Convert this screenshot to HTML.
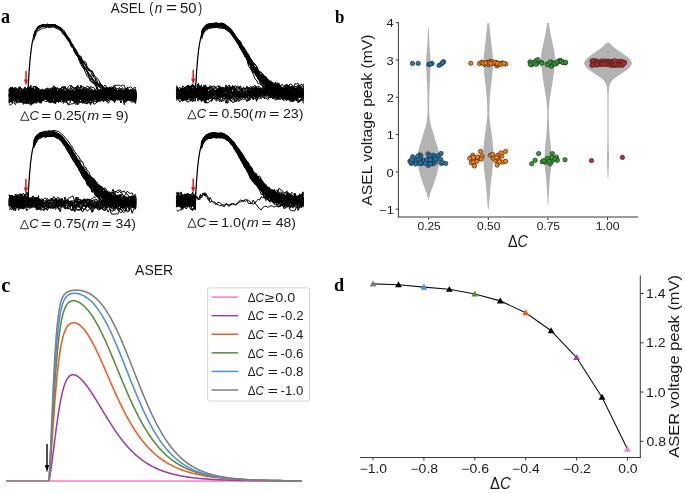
<!DOCTYPE html>
<html><head><meta charset="utf-8"><style>
html,body{margin:0;padding:0;background:#fff;}
svg{display:block;will-change:transform;}
</style></head><body>
<svg width="685" height="493" viewBox="0 0 685 493">
<rect width="685" height="493" fill="#fff"/>
<text transform="translate(0.92,22.50) scale(0.885,1)" font-family="Liberation Serif, serif" font-weight="bold" font-size="20.46" fill="#000">a</text>
<text transform="translate(335.09,22.82) scale(0.908,1)" font-family="Liberation Serif, serif" font-weight="bold" font-size="18.62" fill="#000">b</text>
<text transform="translate(1.21,291.51) scale(0.994,1)" font-family="Liberation Serif, serif" font-weight="bold" font-size="20.40" fill="#000">c</text>
<text transform="translate(333.96,291.41) scale(0.951,1)" font-family="Liberation Serif, serif" font-weight="bold" font-size="19.19" fill="#000">d</text>
<g stroke="#3a3a3a" stroke-width="1" fill="none">
<line x1="360" y1="457.5" x2="640.8" y2="457.5"/>
<line x1="640.3" y1="275.5" x2="640.3" y2="458"/>
<line x1="373.00" y1="458" x2="373.00" y2="460.5"/>
<line x1="423.90" y1="458" x2="423.90" y2="460.5"/>
<line x1="474.80" y1="458" x2="474.80" y2="460.5"/>
<line x1="525.70" y1="458" x2="525.70" y2="460.5"/>
<line x1="576.60" y1="458" x2="576.60" y2="460.5"/>
<line x1="627.50" y1="458" x2="627.50" y2="460.5"/>
<line x1="640.3" y1="441.30" x2="643.5" y2="441.30"/>
<line x1="640.3" y1="392.03" x2="643.5" y2="392.03"/>
<line x1="640.3" y1="342.77" x2="643.5" y2="342.77"/>
<line x1="640.3" y1="293.50" x2="643.5" y2="293.50"/>
</g>
<text transform="translate(359.47,473.00) scale(1.1700,1)" font-family="Liberation Sans, sans-serif" font-size="12.00" fill="#1a1a1a"><tspan>−1.0</tspan></text>
<text transform="translate(410.40,473.00) scale(1.1700,1)" font-family="Liberation Sans, sans-serif" font-size="12.00" fill="#1a1a1a"><tspan>−0.8</tspan></text>
<text transform="translate(461.30,473.00) scale(1.1700,1)" font-family="Liberation Sans, sans-serif" font-size="12.00" fill="#1a1a1a"><tspan>−0.6</tspan></text>
<text transform="translate(512.10,473.00) scale(1.1700,1)" font-family="Liberation Sans, sans-serif" font-size="12.00" fill="#1a1a1a"><tspan>−0.4</tspan></text>
<text transform="translate(563.15,473.00) scale(1.1700,1)" font-family="Liberation Sans, sans-serif" font-size="12.00" fill="#1a1a1a"><tspan>−0.2</tspan></text>
<text transform="translate(618.14,473.00) scale(1.1700,1)" font-family="Liberation Sans, sans-serif" font-size="12.00" fill="#1a1a1a"><tspan>0.0</tspan></text>
<text transform="translate(646.55,445.90) scale(1.1700,1)" font-family="Liberation Sans, sans-serif" font-size="12.00" fill="#1a1a1a"><tspan>0.8</tspan></text>
<text transform="translate(646.03,396.63) scale(1.1700,1)" font-family="Liberation Sans, sans-serif" font-size="12.00" fill="#1a1a1a"><tspan>1.0</tspan></text>
<text transform="translate(646.03,347.37) scale(1.1700,1)" font-family="Liberation Sans, sans-serif" font-size="12.00" fill="#1a1a1a"><tspan>1.2</tspan></text>
<text transform="translate(646.03,298.10) scale(1.1700,1)" font-family="Liberation Sans, sans-serif" font-size="12.00" fill="#1a1a1a"><tspan>1.4</tspan></text>
<text transform="translate(489.96,489.30) scale(0.9312,1)" font-family="Liberation Sans, sans-serif" font-size="16.04" fill="#1a1a1a"><tspan>Δ</tspan><tspan font-style="italic">C</tspan></text>
<text transform="translate(679.00,457.73) rotate(-90) scale(1.0773,1)" font-family="Liberation Sans, sans-serif" font-size="15.26" fill="#1a1a1a"><tspan>ASER voltage peak (mV)</tspan></text>
<polyline fill="none" stroke="#111" stroke-width="1.1" points="373.00,283.90 398.45,284.71 423.90,287.10 449.35,289.31 474.80,293.99 500.25,300.89 525.70,312.72 551.15,330.70 576.60,357.55 602.05,397.21 627.50,449.18"/>
<polygon fill="#7f7f7f" points="373.00,280.50 369.60,286.45 376.40,286.45"/>
<polygon fill="#000" points="398.45,281.31 395.05,287.26 401.85,287.26"/>
<polygon fill="#4a90e2" points="423.90,283.70 420.50,289.65 427.30,289.65"/>
<polygon fill="#000" points="449.35,285.91 445.95,291.86 452.75,291.86"/>
<polygon fill="#5a8a3a" points="474.80,290.59 471.40,296.54 478.20,296.54"/>
<polygon fill="#000" points="500.25,297.49 496.85,303.44 503.65,303.44"/>
<polygon fill="#f15a22" points="525.70,309.32 522.30,315.27 529.10,315.27"/>
<polygon fill="#000" points="551.15,327.30 547.75,333.25 554.55,333.25"/>
<polygon fill="#9b3fa6" points="576.60,354.15 573.20,360.10 580.00,360.10"/>
<polygon fill="#000" points="602.05,393.81 598.65,399.76 605.45,399.76"/>
<polygon fill="#f27fc4" points="627.50,445.78 624.10,451.73 630.90,451.73"/>
<g stroke="#3a3a3a" stroke-width="1" fill="none">
<line x1="398.4" y1="22.3" x2="398.4" y2="217.2"/>
<line x1="397.9" y1="217.0" x2="638.2" y2="217.0"/>
<line x1="428.70" y1="217.5" x2="428.70" y2="220"/>
<line x1="488.30" y1="217.5" x2="488.30" y2="220"/>
<line x1="547.90" y1="217.5" x2="547.90" y2="220"/>
<line x1="607.50" y1="217.5" x2="607.50" y2="220"/>
<line x1="395.8" y1="209.20" x2="398.4" y2="209.20"/>
<line x1="395.8" y1="171.90" x2="398.4" y2="171.90"/>
<line x1="395.8" y1="134.60" x2="398.4" y2="134.60"/>
<line x1="395.8" y1="97.30" x2="398.4" y2="97.30"/>
<line x1="395.8" y1="60.00" x2="398.4" y2="60.00"/>
<line x1="395.8" y1="22.70" x2="398.4" y2="22.70"/>
</g>
<text transform="translate(417.43,230.40) scale(1.0534,1)" font-family="Liberation Sans, sans-serif" font-size="11.40" fill="#1a1a1a"><tspan>0.25</tspan></text>
<text transform="translate(477.03,230.40) scale(1.0518,1)" font-family="Liberation Sans, sans-serif" font-size="11.40" fill="#1a1a1a"><tspan>0.50</tspan></text>
<text transform="translate(536.63,230.40) scale(1.0534,1)" font-family="Liberation Sans, sans-serif" font-size="11.40" fill="#1a1a1a"><tspan>0.75</tspan></text>
<text transform="translate(595.77,230.40) scale(1.0731,1)" font-family="Liberation Sans, sans-serif" font-size="11.40" fill="#1a1a1a"><tspan>1.00</tspan></text>
<text transform="translate(379.15,213.80) scale(1.1700,1)" font-family="Liberation Sans, sans-serif" font-size="11.00" fill="#1a1a1a"><tspan>−1</tspan></text>
<text transform="translate(386.55,176.50) scale(1.1700,1)" font-family="Liberation Sans, sans-serif" font-size="11.00" fill="#1a1a1a"><tspan>0</tspan></text>
<text transform="translate(386.67,139.20) scale(1.1700,1)" font-family="Liberation Sans, sans-serif" font-size="11.00" fill="#1a1a1a"><tspan>1</tspan></text>
<text transform="translate(386.69,101.90) scale(1.1700,1)" font-family="Liberation Sans, sans-serif" font-size="11.00" fill="#1a1a1a"><tspan>2</tspan></text>
<text transform="translate(386.61,64.60) scale(1.1700,1)" font-family="Liberation Sans, sans-serif" font-size="11.00" fill="#1a1a1a"><tspan>3</tspan></text>
<text transform="translate(386.42,27.30) scale(1.1700,1)" font-family="Liberation Sans, sans-serif" font-size="11.00" fill="#1a1a1a"><tspan>4</tspan></text>
<text transform="translate(507.97,246.50) scale(0.9156,1)" font-family="Liberation Sans, sans-serif" font-size="15.75" fill="#1a1a1a"><tspan>Δ</tspan><tspan font-style="italic">C</tspan></text>
<text transform="translate(372.30,205.63) rotate(-90) scale(1.0583,1)" font-family="Liberation Sans, sans-serif" font-size="14.83" fill="#1a1a1a"><tspan>ASEL voltage peak (mV)</tspan></text>
<path d="M428.10,27.70 L428.05,28.57 L428.00,29.43 L427.95,30.30 L427.90,31.16 L427.85,32.03 L427.81,32.89 L427.76,33.76 L427.72,34.62 L427.68,35.49 L427.64,36.35 L427.60,37.22 L427.56,38.08 L427.53,38.95 L427.49,39.81 L427.46,40.68 L427.43,41.55 L427.39,42.41 L427.35,43.28 L427.31,44.14 L427.27,45.01 L427.22,45.87 L427.17,46.74 L427.11,47.60 L427.05,48.47 L426.98,49.33 L426.90,50.20 L426.83,51.06 L426.75,51.93 L426.67,52.79 L426.60,53.66 L426.53,54.53 L426.47,55.39 L426.40,56.26 L426.33,57.12 L426.26,57.99 L426.19,58.85 L426.13,59.72 L426.07,60.58 L426.03,61.45 L426.01,62.31 L426.00,63.18 L426.02,64.04 L426.05,64.91 L426.10,65.77 L426.16,66.64 L426.22,67.51 L426.29,68.37 L426.35,69.24 L426.40,70.10 L426.44,70.97 L426.47,71.83 L426.51,72.70 L426.55,73.56 L426.58,74.43 L426.62,75.29 L426.65,76.16 L426.68,77.02 L426.72,77.89 L426.75,78.75 L426.79,79.62 L426.82,80.48 L426.86,81.35 L426.90,82.22 L426.94,83.08 L426.98,83.95 L427.03,84.81 L427.08,85.68 L427.14,86.54 L427.19,87.41 L427.24,88.27 L427.29,89.14 L427.34,90.00 L427.39,90.87 L427.42,91.73 L427.46,92.60 L427.48,93.46 L427.50,94.33 L427.51,95.20 L427.52,96.06 L427.53,96.93 L427.54,97.79 L427.54,98.66 L427.55,99.52 L427.56,100.39 L427.57,101.25 L427.57,102.12 L427.58,102.98 L427.58,103.85 L427.59,104.71 L427.59,105.58 L427.59,106.44 L427.60,107.31 L427.60,108.18 L427.60,109.04 L427.60,109.91 L427.59,110.77 L427.58,111.64 L427.55,112.50 L427.50,113.37 L427.45,114.23 L427.39,115.10 L427.32,115.96 L427.25,116.83 L427.17,117.69 L427.08,118.56 L426.99,119.42 L426.90,120.29 L426.79,121.16 L426.65,122.02 L426.48,122.89 L426.29,123.75 L426.09,124.62 L425.88,125.48 L425.65,126.35 L425.40,127.21 L425.13,128.08 L424.85,128.94 L424.57,129.81 L424.30,130.67 L424.03,131.54 L423.75,132.40 L423.48,133.27 L423.21,134.14 L422.95,135.00 L422.70,135.87 L422.47,136.73 L422.24,137.60 L422.02,138.46 L421.79,139.33 L421.54,140.19 L421.27,141.06 L420.97,141.92 L420.67,142.79 L420.36,143.65 L420.06,144.52 L419.77,145.38 L419.50,146.25 L419.26,147.12 L419.02,147.98 L418.79,148.85 L418.57,149.71 L418.37,150.58 L418.20,151.44 L418.05,152.31 L417.91,153.17 L417.77,154.04 L417.65,154.90 L417.55,155.77 L417.51,156.63 L417.50,157.50 L417.51,158.36 L417.52,159.23 L417.53,160.09 L417.55,160.96 L417.57,161.83 L417.59,162.69 L417.63,163.56 L417.72,164.42 L417.85,165.29 L418.02,166.15 L418.21,167.02 L418.42,167.88 L418.63,168.75 L418.84,169.61 L419.04,170.48 L419.24,171.34 L419.45,172.21 L419.67,173.07 L419.89,173.94 L420.12,174.81 L420.36,175.67 L420.61,176.54 L420.86,177.40 L421.12,178.27 L421.39,179.13 L421.66,180.00 L421.94,180.86 L422.24,181.73 L422.55,182.59 L422.86,183.46 L423.18,184.32 L423.50,185.19 L423.82,186.05 L424.15,186.92 L424.49,187.79 L424.84,188.65 L425.18,189.52 L425.52,190.38 L425.84,191.25 L426.14,192.11 L426.42,192.98 L426.68,193.84 L426.93,194.71 L427.17,195.57 L427.40,196.44 L427.62,197.30 L427.83,198.17 L428.02,199.03 L428.20,199.90 L428.60,199.90 L428.78,199.03 L428.97,198.17 L429.18,197.30 L429.40,196.44 L429.63,195.57 L429.87,194.71 L430.12,193.84 L430.38,192.98 L430.66,192.11 L430.96,191.25 L431.28,190.38 L431.62,189.52 L431.96,188.65 L432.31,187.79 L432.65,186.92 L432.98,186.05 L433.30,185.19 L433.62,184.32 L433.94,183.46 L434.25,182.59 L434.56,181.73 L434.86,180.86 L435.14,180.00 L435.41,179.13 L435.68,178.27 L435.94,177.40 L436.19,176.54 L436.44,175.67 L436.68,174.81 L436.91,173.94 L437.13,173.07 L437.35,172.21 L437.56,171.34 L437.76,170.48 L437.96,169.61 L438.17,168.75 L438.38,167.88 L438.59,167.02 L438.78,166.15 L438.95,165.29 L439.08,164.42 L439.17,163.56 L439.21,162.69 L439.23,161.83 L439.25,160.96 L439.27,160.09 L439.28,159.23 L439.29,158.36 L439.30,157.50 L439.29,156.63 L439.25,155.77 L439.15,154.90 L439.03,154.04 L438.89,153.17 L438.75,152.31 L438.60,151.44 L438.43,150.58 L438.23,149.71 L438.01,148.85 L437.78,147.98 L437.54,147.12 L437.30,146.25 L437.03,145.38 L436.74,144.52 L436.44,143.65 L436.13,142.79 L435.83,141.92 L435.53,141.06 L435.26,140.19 L435.01,139.33 L434.78,138.46 L434.56,137.60 L434.33,136.73 L434.10,135.87 L433.85,135.00 L433.59,134.14 L433.32,133.27 L433.05,132.40 L432.77,131.54 L432.50,130.67 L432.23,129.81 L431.95,128.94 L431.67,128.08 L431.40,127.21 L431.15,126.35 L430.92,125.48 L430.71,124.62 L430.51,123.75 L430.32,122.89 L430.15,122.02 L430.01,121.16 L429.90,120.29 L429.81,119.42 L429.72,118.56 L429.63,117.69 L429.55,116.83 L429.48,115.96 L429.41,115.10 L429.35,114.23 L429.30,113.37 L429.25,112.50 L429.22,111.64 L429.21,110.77 L429.20,109.91 L429.20,109.04 L429.20,108.18 L429.20,107.31 L429.21,106.44 L429.21,105.58 L429.21,104.71 L429.22,103.85 L429.22,102.98 L429.23,102.12 L429.23,101.25 L429.24,100.39 L429.25,99.52 L429.26,98.66 L429.26,97.79 L429.27,96.93 L429.28,96.06 L429.29,95.20 L429.30,94.33 L429.32,93.46 L429.34,92.60 L429.38,91.73 L429.41,90.87 L429.46,90.00 L429.51,89.14 L429.56,88.27 L429.61,87.41 L429.66,86.54 L429.72,85.68 L429.77,84.81 L429.82,83.95 L429.86,83.08 L429.90,82.22 L429.94,81.35 L429.98,80.48 L430.01,79.62 L430.05,78.75 L430.08,77.89 L430.12,77.02 L430.15,76.16 L430.18,75.29 L430.22,74.43 L430.25,73.56 L430.29,72.70 L430.33,71.83 L430.36,70.97 L430.40,70.10 L430.45,69.24 L430.51,68.37 L430.58,67.51 L430.64,66.64 L430.70,65.77 L430.75,64.91 L430.78,64.04 L430.80,63.18 L430.79,62.31 L430.77,61.45 L430.73,60.58 L430.67,59.72 L430.61,58.85 L430.54,57.99 L430.47,57.12 L430.40,56.26 L430.33,55.39 L430.27,54.53 L430.20,53.66 L430.13,52.79 L430.05,51.93 L429.97,51.06 L429.90,50.20 L429.82,49.33 L429.75,48.47 L429.69,47.60 L429.63,46.74 L429.58,45.87 L429.53,45.01 L429.49,44.14 L429.45,43.28 L429.41,42.41 L429.37,41.55 L429.34,40.68 L429.31,39.81 L429.27,38.95 L429.24,38.08 L429.20,37.22 L429.16,36.35 L429.12,35.49 L429.08,34.62 L429.04,33.76 L428.99,32.89 L428.95,32.03 L428.90,31.16 L428.85,30.30 L428.80,29.43 L428.75,28.57 L428.70,27.70 Z" fill="#b3b3b3" stroke="none"/>
<path d="M487.40,23.00 L487.31,23.94 L487.23,24.87 L487.14,25.81 L487.05,26.74 L486.96,27.68 L486.87,28.62 L486.78,29.55 L486.68,30.49 L486.59,31.43 L486.49,32.36 L486.39,33.30 L486.30,34.23 L486.20,35.17 L486.09,36.11 L485.99,37.04 L485.88,37.98 L485.77,38.92 L485.66,39.85 L485.55,40.79 L485.44,41.72 L485.33,42.66 L485.22,43.60 L485.11,44.53 L485.00,45.47 L484.90,46.40 L484.79,47.34 L484.69,48.28 L484.58,49.21 L484.47,50.15 L484.36,51.09 L484.25,52.02 L484.15,52.96 L484.05,53.89 L483.96,54.83 L483.88,55.77 L483.81,56.70 L483.75,57.64 L483.69,58.57 L483.63,59.51 L483.57,60.45 L483.53,61.38 L483.51,62.32 L483.50,63.26 L483.52,64.19 L483.55,65.13 L483.60,66.06 L483.67,67.00 L483.74,67.94 L483.81,68.87 L483.89,69.81 L483.96,70.75 L484.04,71.68 L484.12,72.62 L484.20,73.55 L484.29,74.49 L484.38,75.43 L484.48,76.36 L484.58,77.30 L484.68,78.23 L484.79,79.17 L484.89,80.11 L485.01,81.04 L485.13,81.98 L485.25,82.92 L485.37,83.85 L485.49,84.79 L485.61,85.72 L485.72,86.66 L485.82,87.60 L485.92,88.53 L486.01,89.47 L486.10,90.41 L486.19,91.34 L486.28,92.28 L486.36,93.21 L486.43,94.15 L486.51,95.09 L486.58,96.02 L486.64,96.96 L486.71,97.89 L486.77,98.83 L486.83,99.77 L486.88,100.70 L486.93,101.64 L486.98,102.58 L487.02,103.51 L487.06,104.45 L487.09,105.38 L487.13,106.32 L487.17,107.26 L487.20,108.19 L487.23,109.13 L487.26,110.06 L487.28,111.00 L487.29,111.94 L487.30,112.87 L487.30,113.81 L487.27,114.75 L487.23,115.68 L487.17,116.62 L487.10,117.55 L487.02,118.49 L486.93,119.43 L486.83,120.36 L486.73,121.30 L486.62,122.24 L486.52,123.17 L486.42,124.11 L486.30,125.04 L486.17,125.98 L486.03,126.92 L485.88,127.85 L485.73,128.79 L485.57,129.72 L485.42,130.66 L485.27,131.60 L485.13,132.53 L485.00,133.47 L484.88,134.41 L484.76,135.34 L484.64,136.28 L484.52,137.21 L484.41,138.15 L484.30,139.09 L484.19,140.02 L484.09,140.96 L484.00,141.89 L483.91,142.83 L483.83,143.77 L483.75,144.70 L483.67,145.64 L483.58,146.58 L483.50,147.51 L483.42,148.45 L483.35,149.38 L483.28,150.32 L483.22,151.26 L483.17,152.19 L483.14,153.13 L483.11,154.07 L483.10,155.00 L483.10,155.94 L483.12,156.87 L483.15,157.81 L483.19,158.75 L483.25,159.68 L483.31,160.62 L483.38,161.55 L483.45,162.49 L483.53,163.43 L483.62,164.36 L483.71,165.30 L483.80,166.24 L483.89,167.17 L483.98,168.11 L484.07,169.04 L484.16,169.98 L484.25,170.92 L484.34,171.85 L484.44,172.79 L484.55,173.73 L484.66,174.66 L484.77,175.60 L484.89,176.53 L485.02,177.47 L485.14,178.41 L485.26,179.34 L485.38,180.28 L485.50,181.21 L485.61,182.15 L485.72,183.09 L485.83,184.02 L485.93,184.96 L486.02,185.90 L486.10,186.83 L486.19,187.77 L486.26,188.70 L486.34,189.64 L486.41,190.58 L486.48,191.51 L486.55,192.45 L486.62,193.38 L486.69,194.32 L486.76,195.26 L486.83,196.19 L486.90,197.13 L486.97,198.07 L487.04,199.00 L487.12,199.94 L487.20,200.87 L487.28,201.81 L487.36,202.75 L487.45,203.68 L487.54,204.62 L487.63,205.56 L487.72,206.49 L487.81,207.43 L487.91,208.36 L488.00,209.30 L488.60,209.30 L488.69,208.36 L488.79,207.43 L488.88,206.49 L488.97,205.56 L489.06,204.62 L489.15,203.68 L489.24,202.75 L489.32,201.81 L489.40,200.87 L489.48,199.94 L489.56,199.00 L489.63,198.07 L489.70,197.13 L489.77,196.19 L489.84,195.26 L489.91,194.32 L489.98,193.38 L490.05,192.45 L490.12,191.51 L490.19,190.58 L490.26,189.64 L490.34,188.70 L490.41,187.77 L490.50,186.83 L490.58,185.90 L490.67,184.96 L490.77,184.02 L490.88,183.09 L490.99,182.15 L491.10,181.21 L491.22,180.28 L491.34,179.34 L491.46,178.41 L491.58,177.47 L491.71,176.53 L491.83,175.60 L491.94,174.66 L492.05,173.73 L492.16,172.79 L492.26,171.85 L492.35,170.92 L492.44,169.98 L492.53,169.04 L492.62,168.11 L492.71,167.17 L492.80,166.24 L492.89,165.30 L492.98,164.36 L493.07,163.43 L493.15,162.49 L493.22,161.55 L493.29,160.62 L493.35,159.68 L493.41,158.75 L493.45,157.81 L493.48,156.87 L493.50,155.94 L493.50,155.00 L493.49,154.07 L493.46,153.13 L493.43,152.19 L493.38,151.26 L493.32,150.32 L493.25,149.38 L493.18,148.45 L493.10,147.51 L493.02,146.58 L492.93,145.64 L492.85,144.70 L492.77,143.77 L492.69,142.83 L492.60,141.89 L492.51,140.96 L492.41,140.02 L492.30,139.09 L492.19,138.15 L492.08,137.21 L491.96,136.28 L491.84,135.34 L491.72,134.41 L491.60,133.47 L491.47,132.53 L491.33,131.60 L491.18,130.66 L491.03,129.72 L490.87,128.79 L490.72,127.85 L490.57,126.92 L490.43,125.98 L490.30,125.04 L490.18,124.11 L490.08,123.17 L489.98,122.24 L489.87,121.30 L489.77,120.36 L489.67,119.43 L489.58,118.49 L489.50,117.55 L489.43,116.62 L489.37,115.68 L489.33,114.75 L489.30,113.81 L489.30,112.87 L489.31,111.94 L489.32,111.00 L489.34,110.06 L489.37,109.13 L489.40,108.19 L489.43,107.26 L489.47,106.32 L489.51,105.38 L489.54,104.45 L489.58,103.51 L489.62,102.58 L489.67,101.64 L489.72,100.70 L489.77,99.77 L489.83,98.83 L489.89,97.89 L489.96,96.96 L490.02,96.02 L490.09,95.09 L490.17,94.15 L490.24,93.21 L490.32,92.28 L490.41,91.34 L490.50,90.41 L490.59,89.47 L490.68,88.53 L490.78,87.60 L490.88,86.66 L490.99,85.72 L491.11,84.79 L491.23,83.85 L491.35,82.92 L491.47,81.98 L491.59,81.04 L491.71,80.11 L491.81,79.17 L491.92,78.23 L492.02,77.30 L492.12,76.36 L492.22,75.43 L492.31,74.49 L492.40,73.55 L492.48,72.62 L492.56,71.68 L492.64,70.75 L492.71,69.81 L492.79,68.87 L492.86,67.94 L492.93,67.00 L493.00,66.06 L493.05,65.13 L493.08,64.19 L493.10,63.26 L493.09,62.32 L493.07,61.38 L493.03,60.45 L492.97,59.51 L492.91,58.57 L492.85,57.64 L492.79,56.70 L492.72,55.77 L492.64,54.83 L492.55,53.89 L492.45,52.96 L492.35,52.02 L492.24,51.09 L492.13,50.15 L492.02,49.21 L491.91,48.28 L491.81,47.34 L491.70,46.40 L491.60,45.47 L491.49,44.53 L491.38,43.60 L491.27,42.66 L491.16,41.72 L491.05,40.79 L490.94,39.85 L490.83,38.92 L490.72,37.98 L490.61,37.04 L490.51,36.11 L490.40,35.17 L490.30,34.23 L490.21,33.30 L490.11,32.36 L490.01,31.43 L489.92,30.49 L489.82,29.55 L489.73,28.62 L489.64,27.68 L489.55,26.74 L489.46,25.81 L489.37,24.87 L489.29,23.94 L489.20,23.00 Z" fill="#b3b3b3" stroke="none"/>
<path d="M547.10,23.10 L546.97,24.02 L546.84,24.93 L546.71,25.85 L546.57,26.76 L546.43,27.68 L546.28,28.59 L546.14,29.51 L545.98,30.42 L545.83,31.34 L545.67,32.26 L545.51,33.17 L545.34,34.09 L545.16,35.00 L544.98,35.92 L544.79,36.83 L544.60,37.75 L544.40,38.66 L544.20,39.58 L544.01,40.50 L543.81,41.41 L543.62,42.33 L543.43,43.24 L543.24,44.16 L543.05,45.07 L542.85,45.99 L542.64,46.91 L542.44,47.82 L542.24,48.74 L542.05,49.65 L541.87,50.57 L541.71,51.48 L541.56,52.40 L541.42,53.31 L541.31,54.23 L541.20,55.15 L541.10,56.06 L541.01,56.98 L540.94,57.89 L540.89,58.81 L540.85,59.72 L540.82,60.64 L540.80,61.55 L540.81,62.47 L540.89,63.39 L541.02,64.30 L541.17,65.22 L541.34,66.13 L541.48,67.05 L541.60,67.96 L541.71,68.88 L541.82,69.79 L541.93,70.71 L542.04,71.63 L542.15,72.54 L542.26,73.46 L542.37,74.37 L542.48,75.29 L542.59,76.20 L542.71,77.12 L542.83,78.03 L542.95,78.95 L543.08,79.87 L543.22,80.78 L543.36,81.70 L543.51,82.61 L543.66,83.53 L543.82,84.44 L543.98,85.36 L544.14,86.27 L544.29,87.19 L544.45,88.11 L544.60,89.02 L544.75,89.94 L544.90,90.85 L545.04,91.77 L545.18,92.68 L545.33,93.60 L545.47,94.52 L545.62,95.43 L545.76,96.35 L545.91,97.26 L546.04,98.18 L546.18,99.09 L546.30,100.01 L546.42,100.92 L546.53,101.84 L546.62,102.76 L546.71,103.67 L546.78,104.59 L546.86,105.50 L546.94,106.42 L547.02,107.33 L547.09,108.25 L547.15,109.16 L547.21,110.08 L547.25,111.00 L547.28,111.91 L547.30,112.83 L547.30,113.74 L547.29,114.66 L547.28,115.57 L547.27,116.49 L547.25,117.40 L547.23,118.32 L547.20,119.24 L547.17,120.15 L547.14,121.07 L547.10,121.98 L547.06,122.90 L547.02,123.81 L546.98,124.73 L546.94,125.64 L546.89,126.56 L546.84,127.48 L546.80,128.39 L546.75,129.31 L546.70,130.22 L546.65,131.14 L546.59,132.05 L546.52,132.97 L546.44,133.88 L546.36,134.80 L546.27,135.72 L546.18,136.63 L546.08,137.55 L545.98,138.46 L545.88,139.38 L545.78,140.29 L545.68,141.21 L545.59,142.13 L545.50,143.04 L545.41,143.96 L545.33,144.87 L545.25,145.79 L545.19,146.70 L545.12,147.62 L545.06,148.53 L545.00,149.45 L544.94,150.37 L544.88,151.28 L544.83,152.20 L544.78,153.11 L544.74,154.03 L544.70,154.94 L544.67,155.86 L544.64,156.77 L544.60,157.69 L544.57,158.61 L544.55,159.52 L544.52,160.44 L544.51,161.35 L544.50,162.27 L544.50,163.18 L544.54,164.10 L544.59,165.01 L544.67,165.93 L544.76,166.85 L544.86,167.76 L544.96,168.68 L545.06,169.59 L545.15,170.51 L545.27,171.42 L545.39,172.34 L545.52,173.25 L545.65,174.17 L545.78,175.09 L545.89,176.00 L545.99,176.92 L546.08,177.83 L546.16,178.75 L546.24,179.66 L546.31,180.58 L546.38,181.49 L546.45,182.41 L546.52,183.33 L546.58,184.24 L546.64,185.16 L546.70,186.07 L546.76,186.99 L546.82,187.90 L546.87,188.82 L546.93,189.74 L546.98,190.65 L547.03,191.57 L547.09,192.48 L547.14,193.40 L547.19,194.31 L547.24,195.23 L547.28,196.14 L547.33,197.06 L547.38,197.98 L547.42,198.89 L547.47,199.81 L547.51,200.72 L547.55,201.64 L547.59,202.55 L547.63,203.47 L547.66,204.38 L547.70,205.30 L548.30,205.30 L548.34,204.38 L548.37,203.47 L548.41,202.55 L548.45,201.64 L548.49,200.72 L548.53,199.81 L548.58,198.89 L548.62,197.98 L548.67,197.06 L548.72,196.14 L548.76,195.23 L548.81,194.31 L548.86,193.40 L548.91,192.48 L548.97,191.57 L549.02,190.65 L549.07,189.74 L549.13,188.82 L549.18,187.90 L549.24,186.99 L549.30,186.07 L549.36,185.16 L549.42,184.24 L549.48,183.33 L549.55,182.41 L549.62,181.49 L549.69,180.58 L549.76,179.66 L549.84,178.75 L549.92,177.83 L550.01,176.92 L550.11,176.00 L550.22,175.09 L550.35,174.17 L550.48,173.25 L550.61,172.34 L550.73,171.42 L550.85,170.51 L550.94,169.59 L551.04,168.68 L551.14,167.76 L551.24,166.85 L551.33,165.93 L551.41,165.01 L551.46,164.10 L551.50,163.18 L551.50,162.27 L551.49,161.35 L551.48,160.44 L551.45,159.52 L551.43,158.61 L551.40,157.69 L551.36,156.77 L551.33,155.86 L551.30,154.94 L551.26,154.03 L551.22,153.11 L551.17,152.20 L551.12,151.28 L551.06,150.37 L551.00,149.45 L550.94,148.53 L550.88,147.62 L550.81,146.70 L550.75,145.79 L550.67,144.87 L550.59,143.96 L550.50,143.04 L550.41,142.13 L550.32,141.21 L550.22,140.29 L550.12,139.38 L550.02,138.46 L549.92,137.55 L549.82,136.63 L549.73,135.72 L549.64,134.80 L549.56,133.88 L549.48,132.97 L549.41,132.05 L549.35,131.14 L549.30,130.22 L549.25,129.31 L549.20,128.39 L549.16,127.48 L549.11,126.56 L549.06,125.64 L549.02,124.73 L548.98,123.81 L548.94,122.90 L548.90,121.98 L548.86,121.07 L548.83,120.15 L548.80,119.24 L548.77,118.32 L548.75,117.40 L548.73,116.49 L548.72,115.57 L548.71,114.66 L548.70,113.74 L548.70,112.83 L548.72,111.91 L548.75,111.00 L548.79,110.08 L548.85,109.16 L548.91,108.25 L548.98,107.33 L549.06,106.42 L549.14,105.50 L549.22,104.59 L549.29,103.67 L549.38,102.76 L549.47,101.84 L549.58,100.92 L549.70,100.01 L549.82,99.09 L549.96,98.18 L550.09,97.26 L550.24,96.35 L550.38,95.43 L550.53,94.52 L550.67,93.60 L550.82,92.68 L550.96,91.77 L551.10,90.85 L551.25,89.94 L551.40,89.02 L551.55,88.11 L551.71,87.19 L551.86,86.27 L552.02,85.36 L552.18,84.44 L552.34,83.53 L552.49,82.61 L552.64,81.70 L552.78,80.78 L552.92,79.87 L553.05,78.95 L553.17,78.03 L553.29,77.12 L553.41,76.20 L553.52,75.29 L553.63,74.37 L553.74,73.46 L553.85,72.54 L553.96,71.63 L554.07,70.71 L554.18,69.79 L554.29,68.88 L554.40,67.96 L554.52,67.05 L554.66,66.13 L554.83,65.22 L554.98,64.30 L555.11,63.39 L555.19,62.47 L555.20,61.55 L555.18,60.64 L555.15,59.72 L555.11,58.81 L555.06,57.89 L554.99,56.98 L554.90,56.06 L554.80,55.15 L554.69,54.23 L554.58,53.31 L554.44,52.40 L554.29,51.48 L554.13,50.57 L553.95,49.65 L553.76,48.74 L553.56,47.82 L553.36,46.91 L553.15,45.99 L552.95,45.07 L552.76,44.16 L552.57,43.24 L552.38,42.33 L552.19,41.41 L551.99,40.50 L551.80,39.58 L551.60,38.66 L551.40,37.75 L551.21,36.83 L551.02,35.92 L550.84,35.00 L550.66,34.09 L550.49,33.17 L550.33,32.26 L550.17,31.34 L550.02,30.42 L549.86,29.51 L549.72,28.59 L549.57,27.68 L549.43,26.76 L549.29,25.85 L549.16,24.93 L549.03,24.02 L548.90,23.10 Z" fill="#b3b3b3" stroke="none"/>
<path d="M606.20,42.90 L605.73,43.58 L605.20,44.27 L604.62,44.95 L603.98,45.63 L603.26,46.31 L602.47,47.00 L601.64,47.68 L600.76,48.36 L599.85,49.05 L598.93,49.73 L598.01,50.41 L597.03,51.09 L596.00,51.78 L594.93,52.46 L593.86,53.14 L592.81,53.83 L591.81,54.51 L590.88,55.19 L589.96,55.88 L589.06,56.56 L588.20,57.24 L587.43,57.92 L586.78,58.61 L586.21,59.29 L585.64,59.97 L585.10,60.66 L584.65,61.34 L584.30,62.02 L584.12,62.70 L584.13,63.39 L584.29,64.07 L584.56,64.75 L584.93,65.44 L585.36,66.12 L585.83,66.80 L586.31,67.48 L586.94,68.17 L587.70,68.85 L588.58,69.53 L589.52,70.22 L590.50,70.90 L591.48,71.58 L592.43,72.27 L593.41,72.95 L594.45,73.63 L595.52,74.31 L596.59,75.00 L597.64,75.68 L598.64,76.36 L599.56,77.05 L600.47,77.73 L601.39,78.41 L602.30,79.09 L603.15,79.78 L603.91,80.46 L604.55,81.14 L605.01,81.83 L605.38,82.51 L605.72,83.19 L606.03,83.87 L606.29,84.56 L606.51,85.24 L606.68,85.92 L606.79,86.61 L606.86,87.29 L606.92,87.97 L606.98,88.66 L607.04,89.34 L607.09,90.02 L607.14,90.70 L607.19,91.39 L607.23,92.07 L607.26,92.75 L607.29,93.44 L607.32,94.12 L607.34,94.80 L607.36,95.48 L607.38,96.17 L607.39,96.85 L607.40,97.53 L607.40,98.22 L607.40,98.90 L607.41,99.58 L607.41,100.26 L607.41,100.95 L607.41,101.63 L607.41,102.31 L607.42,103.00 L607.42,103.68 L607.42,104.36 L607.42,105.05 L607.42,105.73 L607.42,106.41 L607.43,107.09 L607.43,107.78 L607.43,108.46 L607.43,109.14 L607.43,109.83 L607.43,110.51 L607.43,111.19 L607.44,111.87 L607.44,112.56 L607.44,113.24 L607.44,113.92 L607.44,114.61 L607.44,115.29 L607.44,115.97 L607.44,116.65 L607.44,117.34 L607.44,118.02 L607.44,118.70 L607.45,119.39 L607.45,120.07 L607.45,120.75 L607.45,121.44 L607.45,122.12 L607.45,122.80 L607.45,123.48 L607.45,124.17 L607.45,124.85 L607.45,125.53 L607.45,126.22 L607.45,126.90 L607.45,127.58 L607.45,128.26 L607.45,128.95 L607.45,129.63 L607.45,130.31 L607.45,131.00 L607.45,131.68 L607.44,132.36 L607.44,133.04 L607.44,133.73 L607.43,134.41 L607.43,135.09 L607.42,135.78 L607.41,136.46 L607.41,137.14 L607.40,137.83 L607.39,138.51 L607.38,139.19 L607.37,139.87 L607.36,140.56 L607.35,141.24 L607.34,141.92 L607.33,142.61 L607.32,143.29 L607.31,143.97 L607.29,144.65 L607.28,145.34 L607.27,146.02 L607.26,146.70 L607.25,147.39 L607.23,148.07 L607.22,148.75 L607.21,149.43 L607.20,150.12 L607.18,150.80 L607.16,151.48 L607.14,152.17 L607.12,152.85 L607.10,153.53 L607.08,154.22 L607.05,154.90 L607.03,155.58 L607.02,156.26 L607.01,156.95 L607.00,157.63 L607.00,158.31 L607.01,159.00 L607.01,159.68 L607.03,160.36 L607.04,161.04 L607.06,161.73 L607.08,162.41 L607.10,163.09 L607.13,163.78 L607.15,164.46 L607.17,165.14 L607.19,165.82 L607.22,166.51 L607.24,167.19 L607.26,167.87 L607.28,168.56 L607.30,169.24 L607.33,169.92 L607.35,170.61 L607.38,171.29 L607.40,171.97 L607.43,172.65 L607.46,173.34 L607.49,174.02 L607.52,174.70 L607.54,175.39 L607.57,176.07 L607.60,176.75 L607.64,177.43 L607.67,178.12 L607.70,178.80 L608.30,178.80 L608.33,178.12 L608.36,177.43 L608.40,176.75 L608.43,176.07 L608.46,175.39 L608.48,174.70 L608.51,174.02 L608.54,173.34 L608.57,172.65 L608.60,171.97 L608.62,171.29 L608.65,170.61 L608.67,169.92 L608.70,169.24 L608.72,168.56 L608.74,167.87 L608.76,167.19 L608.78,166.51 L608.81,165.82 L608.83,165.14 L608.85,164.46 L608.87,163.78 L608.90,163.09 L608.92,162.41 L608.94,161.73 L608.96,161.04 L608.97,160.36 L608.99,159.68 L608.99,159.00 L609.00,158.31 L609.00,157.63 L608.99,156.95 L608.98,156.26 L608.97,155.58 L608.95,154.90 L608.92,154.22 L608.90,153.53 L608.88,152.85 L608.86,152.17 L608.84,151.48 L608.82,150.80 L608.80,150.12 L608.79,149.43 L608.78,148.75 L608.77,148.07 L608.75,147.39 L608.74,146.70 L608.73,146.02 L608.72,145.34 L608.71,144.65 L608.69,143.97 L608.68,143.29 L608.67,142.61 L608.66,141.92 L608.65,141.24 L608.64,140.56 L608.63,139.87 L608.62,139.19 L608.61,138.51 L608.60,137.83 L608.59,137.14 L608.59,136.46 L608.58,135.78 L608.57,135.09 L608.57,134.41 L608.56,133.73 L608.56,133.04 L608.56,132.36 L608.55,131.68 L608.55,131.00 L608.55,130.31 L608.55,129.63 L608.55,128.95 L608.55,128.26 L608.55,127.58 L608.55,126.90 L608.55,126.22 L608.55,125.53 L608.55,124.85 L608.55,124.17 L608.55,123.48 L608.55,122.80 L608.55,122.12 L608.55,121.44 L608.55,120.75 L608.55,120.07 L608.55,119.39 L608.56,118.70 L608.56,118.02 L608.56,117.34 L608.56,116.65 L608.56,115.97 L608.56,115.29 L608.56,114.61 L608.56,113.92 L608.56,113.24 L608.56,112.56 L608.56,111.87 L608.57,111.19 L608.57,110.51 L608.57,109.83 L608.57,109.14 L608.57,108.46 L608.57,107.78 L608.57,107.09 L608.58,106.41 L608.58,105.73 L608.58,105.05 L608.58,104.36 L608.58,103.68 L608.58,103.00 L608.59,102.31 L608.59,101.63 L608.59,100.95 L608.59,100.26 L608.59,99.58 L608.60,98.90 L608.60,98.22 L608.60,97.53 L608.61,96.85 L608.62,96.17 L608.64,95.48 L608.66,94.80 L608.68,94.12 L608.71,93.44 L608.74,92.75 L608.77,92.07 L608.81,91.39 L608.86,90.70 L608.91,90.02 L608.96,89.34 L609.02,88.66 L609.08,87.97 L609.14,87.29 L609.21,86.61 L609.32,85.92 L609.49,85.24 L609.71,84.56 L609.97,83.87 L610.28,83.19 L610.62,82.51 L610.99,81.83 L611.45,81.14 L612.09,80.46 L612.85,79.78 L613.70,79.09 L614.61,78.41 L615.53,77.73 L616.44,77.05 L617.36,76.36 L618.36,75.68 L619.41,75.00 L620.48,74.31 L621.55,73.63 L622.59,72.95 L623.57,72.27 L624.52,71.58 L625.50,70.90 L626.48,70.22 L627.42,69.53 L628.30,68.85 L629.06,68.17 L629.69,67.48 L630.17,66.80 L630.64,66.12 L631.07,65.44 L631.44,64.75 L631.71,64.07 L631.87,63.39 L631.88,62.70 L631.70,62.02 L631.35,61.34 L630.90,60.66 L630.36,59.97 L629.79,59.29 L629.22,58.61 L628.57,57.92 L627.80,57.24 L626.94,56.56 L626.04,55.88 L625.12,55.19 L624.19,54.51 L623.19,53.83 L622.14,53.14 L621.07,52.46 L620.00,51.78 L618.97,51.09 L617.99,50.41 L617.07,49.73 L616.15,49.05 L615.24,48.36 L614.36,47.68 L613.53,47.00 L612.74,46.31 L612.02,45.63 L611.38,44.95 L610.80,44.27 L610.27,43.58 L609.80,42.90 Z" fill="#b3b3b3" stroke="none"/>
<g fill="#1f77b4" stroke="#262626" stroke-width="0.65">
<circle cx="412.5" cy="63.4" r="2.2"/>
<circle cx="418.2" cy="63.4" r="2.2"/>
<circle cx="428.8" cy="64.4" r="2.2"/>
<circle cx="432.0" cy="63.4" r="2.2"/>
<circle cx="439.0" cy="65.4" r="2.2"/>
<circle cx="441.6" cy="63.8" r="2.2"/>
<circle cx="443.6" cy="61.7" r="2.2"/>
<circle cx="430.3" cy="64.2" r="2.2"/>
<circle cx="442.6" cy="62.6" r="2.2"/>
<circle cx="412.6" cy="156.8" r="2.2"/>
<circle cx="409.9" cy="161.1" r="2.2"/>
<circle cx="413.2" cy="161.1" r="2.2"/>
<circle cx="411.2" cy="163.4" r="2.2"/>
<circle cx="416.8" cy="158.5" r="2.2"/>
<circle cx="419.8" cy="154.9" r="2.2"/>
<circle cx="420.8" cy="155.8" r="2.2"/>
<circle cx="420.4" cy="158.8" r="2.2"/>
<circle cx="417.8" cy="163.1" r="2.2"/>
<circle cx="421.4" cy="163.7" r="2.2"/>
<circle cx="424.1" cy="160.8" r="2.2"/>
<circle cx="428.0" cy="153.9" r="2.2"/>
<circle cx="429.3" cy="157.8" r="2.2"/>
<circle cx="428.3" cy="162.4" r="2.2"/>
<circle cx="428.3" cy="165.4" r="2.2"/>
<circle cx="433.3" cy="155.2" r="2.2"/>
<circle cx="432.9" cy="158.8" r="2.2"/>
<circle cx="433.3" cy="163.7" r="2.2"/>
<circle cx="435.9" cy="161.8" r="2.2"/>
<circle cx="438.5" cy="155.5" r="2.2"/>
<circle cx="441.1" cy="153.5" r="2.2"/>
<circle cx="440.5" cy="159.1" r="2.2"/>
<circle cx="441.5" cy="163.4" r="2.2"/>
<circle cx="445.7" cy="163.4" r="2.2"/>
<circle cx="431.6" cy="160.8" r="2.2"/>
<circle cx="415.5" cy="164.0" r="2.2"/>
<circle cx="430.4" cy="163.1" r="2.2"/>
<circle cx="435.0" cy="157.0" r="2.2"/>
<circle cx="420.3" cy="162.9" r="2.2"/>
<circle cx="411.2" cy="162.4" r="2.2"/>
<circle cx="435.7" cy="159.2" r="2.2"/>
<circle cx="420.4" cy="157.5" r="2.2"/>
<circle cx="418.9" cy="159.0" r="2.2"/>
<circle cx="426.6" cy="160.0" r="2.2"/>
<circle cx="441.9" cy="162.1" r="2.2"/>
<circle cx="430.3" cy="163.9" r="2.2"/>
<circle cx="417.7" cy="156.4" r="2.2"/>
<circle cx="430.0" cy="155.4" r="2.2"/>
<circle cx="412.1" cy="159.6" r="2.2"/>
<circle cx="425.5" cy="163.3" r="2.2"/>
<circle cx="430.5" cy="159.6" r="2.2"/>
</g>
<g fill="#ff7f0e" stroke="#262626" stroke-width="0.65">
<circle cx="470.8" cy="63.3" r="2.2"/>
<circle cx="479.5" cy="63.6" r="2.2"/>
<circle cx="481.7" cy="62.3" r="2.2"/>
<circle cx="484.6" cy="64.3" r="2.2"/>
<circle cx="486.9" cy="62.3" r="2.2"/>
<circle cx="488.5" cy="64.6" r="2.2"/>
<circle cx="490.1" cy="61.4" r="2.2"/>
<circle cx="492.3" cy="61.7" r="2.2"/>
<circle cx="493.9" cy="63.3" r="2.2"/>
<circle cx="496.2" cy="62.3" r="2.2"/>
<circle cx="496.8" cy="65.9" r="2.2"/>
<circle cx="498.1" cy="64.9" r="2.2"/>
<circle cx="499.7" cy="63.6" r="2.2"/>
<circle cx="502.3" cy="63.0" r="2.2"/>
<circle cx="505.8" cy="64.0" r="2.2"/>
<circle cx="483.0" cy="63.2" r="2.2"/>
<circle cx="485.8" cy="63.0" r="2.2"/>
<circle cx="489.3" cy="62.8" r="2.2"/>
<circle cx="491.0" cy="63.5" r="2.2"/>
<circle cx="494.8" cy="62.4" r="2.2"/>
<circle cx="497.5" cy="63.4" r="2.2"/>
<circle cx="501.0" cy="64.2" r="2.2"/>
<circle cx="503.8" cy="63.4" r="2.2"/>
<circle cx="480.5" cy="151.4" r="2.2"/>
<circle cx="472.8" cy="155.2" r="2.2"/>
<circle cx="469.8" cy="158.3" r="2.2"/>
<circle cx="475.1" cy="159.0" r="2.2"/>
<circle cx="478.9" cy="158.3" r="2.2"/>
<circle cx="482.0" cy="156.0" r="2.2"/>
<circle cx="471.3" cy="162.8" r="2.2"/>
<circle cx="473.6" cy="162.1" r="2.2"/>
<circle cx="476.7" cy="161.3" r="2.2"/>
<circle cx="474.4" cy="165.9" r="2.2"/>
<circle cx="481.2" cy="159.0" r="2.2"/>
<circle cx="490.4" cy="155.2" r="2.2"/>
<circle cx="492.6" cy="154.5" r="2.2"/>
<circle cx="498.0" cy="155.2" r="2.2"/>
<circle cx="501.8" cy="156.0" r="2.2"/>
<circle cx="505.6" cy="151.4" r="2.2"/>
<circle cx="501.0" cy="152.9" r="2.2"/>
<circle cx="493.4" cy="158.3" r="2.2"/>
<circle cx="495.7" cy="160.5" r="2.2"/>
<circle cx="498.7" cy="159.8" r="2.2"/>
<circle cx="502.5" cy="162.1" r="2.2"/>
<circle cx="505.6" cy="161.3" r="2.2"/>
<circle cx="497.2" cy="165.1" r="2.2"/>
<circle cx="477.5" cy="157.0" r="2.2"/>
<circle cx="496.5" cy="157.5" r="2.2"/>
<circle cx="499.5" cy="161.8" r="2.2"/>
<circle cx="473.2" cy="157.3" r="2.2"/>
</g>
<g fill="#2ca02c" stroke="#262626" stroke-width="0.65">
<circle cx="530.2" cy="62.3" r="2.2"/>
<circle cx="531.5" cy="64.8" r="2.2"/>
<circle cx="533.4" cy="62.9" r="2.2"/>
<circle cx="536.3" cy="61.6" r="2.2"/>
<circle cx="537.2" cy="60.3" r="2.2"/>
<circle cx="536.6" cy="63.6" r="2.2"/>
<circle cx="541.7" cy="62.6" r="2.2"/>
<circle cx="547.2" cy="64.2" r="2.2"/>
<circle cx="551.0" cy="62.0" r="2.2"/>
<circle cx="551.4" cy="65.5" r="2.2"/>
<circle cx="553.6" cy="63.6" r="2.2"/>
<circle cx="555.9" cy="63.9" r="2.2"/>
<circle cx="557.5" cy="62.3" r="2.2"/>
<circle cx="559.4" cy="60.7" r="2.2"/>
<circle cx="560.4" cy="61.0" r="2.2"/>
<circle cx="562.9" cy="62.3" r="2.2"/>
<circle cx="565.2" cy="62.9" r="2.2"/>
<circle cx="530.2" cy="61.9" r="2.2"/>
<circle cx="530.3" cy="64.3" r="2.2"/>
<circle cx="533.9" cy="62.4" r="2.2"/>
<circle cx="536.0" cy="60.8" r="2.2"/>
<circle cx="538.0" cy="59.7" r="2.2"/>
<circle cx="536.0" cy="64.2" r="2.2"/>
<circle cx="541.7" cy="63.2" r="2.2"/>
<circle cx="547.5" cy="64.6" r="2.2"/>
<circle cx="550.0" cy="62.1" r="2.2"/>
<circle cx="551.4" cy="66.1" r="2.2"/>
<circle cx="553.3" cy="63.8" r="2.2"/>
<circle cx="554.8" cy="63.7" r="2.2"/>
<circle cx="557.1" cy="61.7" r="2.2"/>
<circle cx="560.2" cy="60.5" r="2.2"/>
<circle cx="561.5" cy="61.1" r="2.2"/>
<circle cx="563.2" cy="62.5" r="2.2"/>
<circle cx="565.6" cy="62.3" r="2.2"/>
<circle cx="538.6" cy="153.6" r="2.2"/>
<circle cx="535.1" cy="160.3" r="2.2"/>
<circle cx="531.7" cy="163.8" r="2.2"/>
<circle cx="542.2" cy="161.7" r="2.2"/>
<circle cx="545.3" cy="162.3" r="2.2"/>
<circle cx="547.3" cy="158.3" r="2.2"/>
<circle cx="552.4" cy="153.6" r="2.2"/>
<circle cx="556.4" cy="157.1" r="2.2"/>
<circle cx="557.4" cy="160.3" r="2.2"/>
<circle cx="552.4" cy="160.7" r="2.2"/>
<circle cx="550.3" cy="163.8" r="2.2"/>
<circle cx="565.0" cy="159.7" r="2.2"/>
<circle cx="549.0" cy="161.5" r="2.2"/>
<circle cx="554.5" cy="158.8" r="2.2"/>
<circle cx="544.0" cy="160.5" r="2.2"/>
<circle cx="551.5" cy="157.5" r="2.2"/>
</g>
<g fill="#d62728" stroke="#262626" stroke-width="0.65">
<circle cx="591.9" cy="61.1" r="2.2"/>
<circle cx="593.2" cy="60.8" r="2.2"/>
<circle cx="595.6" cy="61.0" r="2.2"/>
<circle cx="596.5" cy="61.2" r="2.2"/>
<circle cx="598.2" cy="61.9" r="2.2"/>
<circle cx="598.3" cy="62.3" r="2.2"/>
<circle cx="601.1" cy="62.4" r="2.2"/>
<circle cx="601.9" cy="60.9" r="2.2"/>
<circle cx="602.6" cy="62.5" r="2.2"/>
<circle cx="604.6" cy="61.0" r="2.2"/>
<circle cx="606.6" cy="61.9" r="2.2"/>
<circle cx="607.4" cy="61.4" r="2.2"/>
<circle cx="608.5" cy="61.1" r="2.2"/>
<circle cx="609.3" cy="62.4" r="2.2"/>
<circle cx="611.4" cy="61.7" r="2.2"/>
<circle cx="612.5" cy="62.1" r="2.2"/>
<circle cx="613.4" cy="61.3" r="2.2"/>
<circle cx="614.8" cy="60.8" r="2.2"/>
<circle cx="617.9" cy="61.9" r="2.2"/>
<circle cx="618.3" cy="61.6" r="2.2"/>
<circle cx="620.5" cy="61.3" r="2.2"/>
<circle cx="621.4" cy="62.0" r="2.2"/>
<circle cx="622.3" cy="61.6" r="2.2"/>
<circle cx="624.5" cy="62.4" r="2.2"/>
<circle cx="592.0" cy="65.3" r="2.2"/>
<circle cx="593.1" cy="64.9" r="2.2"/>
<circle cx="595.9" cy="63.7" r="2.2"/>
<circle cx="596.6" cy="65.0" r="2.2"/>
<circle cx="597.3" cy="64.7" r="2.2"/>
<circle cx="600.1" cy="64.4" r="2.2"/>
<circle cx="601.4" cy="63.9" r="2.2"/>
<circle cx="601.8" cy="64.1" r="2.2"/>
<circle cx="603.2" cy="64.1" r="2.2"/>
<circle cx="605.9" cy="64.5" r="2.2"/>
<circle cx="606.2" cy="63.9" r="2.2"/>
<circle cx="608.7" cy="64.3" r="2.2"/>
<circle cx="610.2" cy="64.4" r="2.2"/>
<circle cx="610.7" cy="65.2" r="2.2"/>
<circle cx="612.5" cy="64.6" r="2.2"/>
<circle cx="613.3" cy="65.2" r="2.2"/>
<circle cx="614.7" cy="65.2" r="2.2"/>
<circle cx="615.5" cy="64.3" r="2.2"/>
<circle cx="617.7" cy="65.3" r="2.2"/>
<circle cx="618.6" cy="65.0" r="2.2"/>
<circle cx="620.7" cy="64.8" r="2.2"/>
<circle cx="622.1" cy="65.3" r="2.2"/>
<circle cx="622.9" cy="64.2" r="2.2"/>
<circle cx="624.1" cy="63.5" r="2.2"/>
<circle cx="591.5" cy="160.6" r="2.2"/>
<circle cx="622.4" cy="157.4" r="2.2"/>
</g>
<rect x="9.4" y="90.4" width="126.2" height="8.8" fill="#000"/>
<rect x="176.9" y="89.0" width="18.3" height="8.4" fill="#000"/>
<rect x="9.4" y="196.6" width="18.2" height="9.4" fill="#000"/>
<rect x="176.9" y="196.4" width="18.3" height="9.4" fill="#000"/>
<g fill="none" stroke="#000" stroke-width="1.0" stroke-linejoin="round">
<path d="M9,90.8l1.6-1.8 1.6-.6 1.6 .1 1.6-1.1 1.6 1.2 1.6 1.3 1.6 1.3 1.6-.1 1.6-1.8 1.6 4.1 1.6 1.3 1.2 2.1 0-.3"/>
<path d="M33.8,35.4l.5-1.4 .5-1.9 .5-.3 .5-1 .5-.4 .5-.9 .5-.2 .5-.5 .5-.7 .5-.5 .5-.5 1.7-1.1 1.6-.3 1.6-.4 1.6 .1 1.6-.2 1.6 .2 1.6-.7 1.6 .8 1.6-.4 1.6 .5 1.6 1 1.6 1 1.6 1.7 1.6 1.4 1.6 1.7 1.6 2.2 1.6 3.4 1.6 1.7 1.6 1.8 1.6 3.3 1.6 1.4 1.6 5.2 1.6-.1 1.6 4.4 1.6 2.8 1.6 .6 1.6 4.5 1.6 3.4 1.6 2.1 1.6 2.4 1.6 3.5 1.6 1.5 1.6 2.5 1.6 1.5 1.6 3 1.6-.7 1.6 4 1.6-.8 1.6 0 1.6 3 1.6 2.7 1.6-.6 1.6-1.9 1.6 2.4 1.6-1.5 1.6 1 1.6 .9 1.6-3.4 1.6 4.9 1.6-1.3 1.6 1.3 1.6-.5 1.6 .6 1.6 1.5 1.6 3.4 1.6 1.7 1.6-2.9 1.6 1.8 1.6-2.5 1.6-3.1 .6 3.2"/>
<path d="M9,102.6l1.6-4 1.6 1.1 1.6-1.8 1.6-2.4 1.6-1 1.6 .8 1.6-.3 1.6 .1 1.6-3.6 1.6 .9 1.6 .8 1.2 3 0-6.3"/>
<path d="M33.8,36l.5-2 .5-1 .5-1.4 .5-.6 .5-1.4 .5-1 .5 .1 .5-.8 .5-.5 .5-.6 .5-.6 1.7-.9 1.6-.3 1.6 .3 1.6-.3 1.6-.5 1.6 .5 1.6-.5 1.6 .5 1.6-.4 1.6 .3 1.6 1.2 1.6 .9 1.6 .8 1.6 2.7 1.6 2.7 1.6 .6 1.6 4.3 1.6 1.2 1.6 2.9 1.6 3 1.6 2 1.6 5.1 1.6 2.3 1.6 1.9 1.6 3.4 1.6 1.5 1.6 4 1.6 4.2 1.6-.6 1.6 4 1.6 3.3 1.6 3.7 1.6 3 1.6 0 1.6 2 1.6 3.9 1.6 .6 1.6 1.6 1.6 3.3 1.6 1.8 1.6-1.8 1.6-.6 1.6 1.1 1.6-4.4 1.6 2.5 1.6-2.3 1.6 5.3 1.6-3.1 1.6-.9 1.6-.3 1.6-3.3 1.6 6.1 1.6 2.3 1.6-3.2 1.6 3.1 1.6 .7 1.6-3.3 1.6 4.7 1.6 1.1 1.6-1.7 .6-.5"/>
<path d="M9,91.6l1.6-.6 1.6 4.5 1.6-3.5 1.6 2.1 1.6-1.6 1.6 2.2 1.6-1.2 1.6 5.6 1.6-4 1.6 1.9 1.6 0 1.2 2.4 0-4.6"/>
<path d="M33.8,36.7l.5-.7 .5-2.8 .5-.8 .5-.5 .5-2.4 .5-.6 .5-.3 .5-.1 .5 .6 .5-1.2 .5 .1 1.7-1.3 1.6-1.2 1.6-.2 1.6 1 1.6-.4 1.6-.5 1.6 .9 1.6-.8 1.6 1.1 1.6 .6 1.6 0 1.6 .9 1.6 2.1 1.6 .8 1.6 2.6 1.6 .9 1.6 3.1 1.6 1.9 1.6 1.9 1.6 2.1 1.6 3.2 1.6 .7 1.6 3.5 1.6 2.1 1.6 3.1 1.6 .1 1.6 5.1 1.6-.2 1.6 1.1 1.6 5.2 1.6 2.8 1.6 .3 1.6 1.7 1.6 3.9 1.6 1.6 1.6 2.8 1.6 4.8 1.6-.1 1.6 1 1.6 1.3 1.6 .3 1.6 2.2 1.6 .9 1.6-1.3 1.6 1.5 1.6 4.3 1.6-2.8 1.6-.9 1.6 3.6 1.6-3.7 1.6-2.3 1.6 2.5 1.6-3 1.6 .5 1.6 1.6 1.6-.3 1.6-.3 1.6 1.4 1.6 1.1 1.6 4.2 .6-2.3"/>
<path d="M9,90.2l1.6 3 1.6-4.6 1.6 2.8 1.6 .5 1.6 1.6 1.6-.7 1.6-.9 1.6 0 1.6 0 1.6 2.4 1.6-2.8 1.2 2.2 0-.9"/>
<path d="M33.8,35.7l.5-2.2 .5-.6 .5-1.8 .5-.8 .5-.4 .5-.2 .5-1 .5-.7 .5-.1 .5-1.5 .5-.9 1.7-.3 1.6-.5 1.6 .2 1.6 .1 1.6-1.2 1.6 1.3 1.6-.3 1.6-.1 1.6 .1 1.6 1.2 1.6-.1 1.6 .8 1.6 1.5 1.6 .8 1.6 2.4 1.6 1.6 1.6 2.4 1.6 2.3 1.6 1.5 1.6 4.2 1.6 1.1 1.6 4.4 1.6 .9 1.6 4.7 1.6 1.9 1.6 3.6 1.6 1.9 1.6 .6 1.6 3.2 1.6 3.2 1.6 2.4 1.6-1.1 1.6 .7 1.6 3.3 1.6 2.7 1.6 1.3 1.6 1.5 1.6 4.2 1.6 1.7 1.6 1 1.6-1.6 1.6 2.6 1.6 .4 1.6-1.1 1.6 4.6 1.6-.4 1.6-.1 1.6 3.9 1.6-.4 1.6 .6 1.6 .8 1.6-.6 1.6-3.3 1.6 1.5 1.6 2.5 1.6-2.6 1.6 2 1.6 1.5 1.6 2.7 1.6 .8 .6 .3"/>
<path d="M9,95.9l1.6-3.1 1.6-1.2 1.6 .8 1.6 .5 1.6-1.4 1.6-.1 1.6 1.7 1.6-1.3 1.6-2.3 1.6 .9 1.6-.3 1.2 1.7 0-1.8"/>
<path d="M33.8,36.3l.5-1.6 .5-1.5 .5-1.9 .5-.8 .5-.6 .5-.5 .5-1.1 .5-1.8 .5 .7 .5-.1 .5 0 1.7-.9 1.6 .2 1.6-.5 1.6-.1 1.6-.1 1.6-.8 1.6 .9 1.6-.1 1.6-.2 1.6 .8 1.6 .7 1.6 .8 1.6 1.5 1.6 1.7 1.6 2.1 1.6 1.9 1.6 2.9 1.6 1 1.6 3.6 1.6 1.6 1.6 3.5 1.6 3.5 1.6 2.3 1.6 2.7 1.6 2.9 1.6 4.4 1.6-.1 1.6 4.9 1.6-.2 1.6 3.8 1.6 3.2 1.6 .8 1.6 3.4 1.6 2.6 1.6-1.2 1.6 3 1.6 .9 1.6-1.2 1.6 3.8 1.6 .1 1.6 4.3 1.6-2.6 1.6 4.9 1.6-3 1.6 4.6 1.6-1.8 1.6 .4 1.6 1.1 1.6 .8 1.6 1.6 1.6 1.4 1.6-2.6 1.6-.7 1.6-1.6 1.6 4.4 1.6 2.2 1.6-.5 1.6-.6 1.6-1.1 1.6-.8 .6 .3"/>
<path d="M9,94.1l1.6-2 1.6 5.2 1.6-3.6 1.6 2 1.6-.1 1.6 .6 1.6-3.6 1.6 4.3 1.6-1.4 1.6-.2 1.6 .7 1.2-3.4 0-3.6"/>
<path d="M33.8,36.6l.5-2.6 .5-2.3 .5 .7 .5-2.5 .5 0 .5-.3 .5-1.4 .5-.7 .5 .5 .5-.7 .5-.7 1.7-.6 1.6-.1 1.6 .2 1.6-.6 1.6 .2 1.6 .2 1.6-.2 1.6-.2 1.6-.2 1.6-.8 1.6 1.5 1.6 .5 1.6 1 1.6 1 1.6 1.4 1.6 2.2 1.6 2.9 1.6 1.9 1.6 2.9 1.6 3 1.6 3.9 1.6 2.2 1.6 3 1.6 4.2 1.6 1.2 1.6 3.7 1.6 .9 1.6 4.3 1.6 2.5 1.6 2.8 1.6 1.8 1.6 1.7 1.6 3.2 1.6 1.8 1.6 3.9 1.6 1.4 1.6-1.8 1.6 4 1.6-.6 1.6 2.4 1.6-.7 1.6-1 1.6 4.5 1.6-.7 1.6-2.5 1.6-1 1.6 2.3 1.6-.8 1.6 1.7 1.6 2.2 1.6 2.2 1.6-2.3 1.6 3.7 1.6 .4 1.6-2 1.6-1.6 1.6 4.7 1.6-.1 1.6 3 1.6-1.6 .6-1.3"/>
<path d="M9,95.8l1.6 1.5 1.6-1.4 1.6-.2 1.6 .2 1.6 3.4 1.6-1.3 1.6-.2 1.6-2.8 1.6 3 1.6-3.4 1.6 2.8 1.2-2.9 0 5.1"/>
<path d="M33.8,35.3l.5-.3 .5-2.2 .5-1.3 .5-1.1 .5-.5 .5-.8 .5-1.5 .5 .3 .5-1.6 .5-.1 .5-.2 1.7-.3 1.6-1.2 1.6 0 1.6 .3 1.6-.3 1.6 .2 1.6 .1 1.6-.2 1.6 .3 1.6 .6 1.6 .5 1.6 1.7 1.6 0 1.6 2 1.6 2.9 1.6 1.6 1.6 1.6 1.6 2.9 1.6 3 1.6 1.5 1.6 3.8 1.6 2.2 1.6 3 1.6 3.2 1.6 4.4 1.6 .9 1.6 4 1.6 4.2 1.6 .8 1.6 2.2 1.6 5.3 1.6 1.5 1.6 1.8 1.6 2 1.6-.2 1.6 6.7 1.6-4.8 1.6 1.5 1.6-1 1.6 2 1.6 3.4 1.6-2.2 1.6 1 1.6-1.7 1.6 3.8 1.6-2.7 1.6-2.2 1.6 3.7 1.6-1.6 1.6 2.2 1.6-.2 1.6 .8 1.6 .5 1.6-1.1 1.6-.3 1.6 4.9 1.6-1.3 1.6 1.4 1.6-.7 1.6-2.2 .6 1.6"/>
<path d="M9,89.1l1.6-.1 1.6 2.8 1.6 1.4 1.6 2.4 1.6-1.7 1.6-1.2 1.6 6.8 1.6-2.7 1.6-.2 1.6 .6 1.6-1.3 1.2 3.6 0-.4"/>
<path d="M33.8,36.9l.5-2.3 .5-.2 .5-.3 .5-2.4 .5-.4 .5-.4 .5-1.3 .5-.4 .5-.3 .5-1 .5 .2 1.7-.8 1.6-1 1.6 .2 1.6 .3 1.6-.5 1.6 .2 1.6 0 1.6-.3 1.6 .5 1.6 .1 1.6 .1 1.6 1.4 1.6 1.3 1.6 1.4 1.6 1 1.6 2.4 1.6 2.6 1.6 1.6 1.6 3 1.6 2.6 1.6 1.7 1.6 3.1 1.6 1.7 1.6 3.8 1.6 1.3 1.6 1.9 1.6 2.8 1.6 2.3 1.6 2.8 1.6 2.5 1.6 .3 1.6 2.9 1.6 3.6 1.6 2.5 1.6 1.6 1.6 5.8 1.6-.2 1.6 .1 1.6 2.8 1.6 2.3 1.6-.4 1.6-2.6 1.6 3.4 1.6 .3 1.6 3.6 1.6-6.3 1.6 5.8 1.6-2.5 1.6 2.1 1.6-1.8 1.6 1.2 1.6 1.9 1.6-1.4 1.6 2.1 1.6-1.5 1.6-.1 1.6 .8 1.6-.1 1.6 1 1.6 2.7 .6-4.2"/>
<path d="M9,99.6l1.6-3.3 1.6 .5 1.6 3.2 1.6 .5 1.6 .6 1.6-.3 1.6 1.2 1.6-.7 1.6-1.6 1.6 4.2 1.6-2.9 1.2 1.4 0 1.7"/>
<path d="M33.8,40.5l.5-2.4 .5-1.3 .5-.8 .5-1.5 .5-.8 .5-1.4 .5-.5 .5-1.1 .5-.7 .5 .8 .5-1 1.7-.7 1.6-1.1 1.6 0 1.6-.2 1.6-.6 1.6 .6 1.6-.6 1.6 .1 1.6-.4 1.6 1.2 1.6 .5 1.6 .9 1.6 .7 1.6 1.8 1.6 2.6 1.6 1.4 1.6 2.5 1.6 2.4 1.6 1.8 1.6 4.5 1.6 .3 1.6 4.6 1.6 2.8 1.6 1.7 1.6 4.9 1.6 3.2 1.6 2.6 1.6 1.9 1.6 4.1 1.6 3.3 1.6 1.1 1.6 3.8 1.6 .6 1.6 1.4 1.6 2.2 1.6-1.7 1.6 1.4 1.6 2.7 1.6 1.2 1.6 2.8 1.6 .8 1.6-.1 1.6 1.5 1.6 .7 1.6 1.1 1.6 .8 1.6 3 1.6-1.8 1.6 .3 1.6 .8 1.6-1.4 1.6 .2 1.6-3.6 1.6 4.1 1.6-1.3 1.6 .7 1.6 .3 1.6-3.8 1.6 7.1 1.6-4.1 .6-.3"/>
<path d="M9,99.7l1.6 1.3 1.6-4.6 1.6 .5 1.6 .8 1.6 .7 1.6-2 1.6 6.1 1.6-2.9 1.6-1.6 1.6-.4 1.6 4.6 1.2-.4 0-5.1 .5 1 .5 1.1 .5-4.5 .5 .7 .5 3.2 .5-3.5 .5 .4 .5-1.6 .5 1 .5 2.3 .5-2.8 .5-1.2 .5 .9 .5 3.8 .5-2.9 .5-1.4 .5 1.2 .5 .6 .5-.4 .5-3 .5 3.9 .5-.5 .5 2.1 1.7-3.4 1.6 4.3 1.6-2.5 1.6-2.1 1.6 5 1.6-3.5 1.6 1.1 1.6-1.6 1.6 1.5 1.6-.7 1.6-.6 1.6-1.1 1.6-4.1 1.6 0 1.6 3.7 1.6-1.3 1.6 3.2 1.6 .3 1.6-2 1.6 1.3 1.6 .3 1.6 .6 1.6 1.3 1.6 1.5 1.6 1 1.6-4.2 1.6 .6 1.6 3.5 1.6-1.2 1.6-1.2 1.6-4.4 1.6 2.3 1.6 1.9 1.6-1.5 1.6 4.1 1.6-3.6 1.6-.2 1.6-2.8 1.6-.1 1.6 .7 1.6 .4 1.6 1.2 1.6 1.8 1.6 .5 1.6 1.9 1.6-3.6 1.6 2.9 1.6 0 1.6 2.2 1.6-3.2 1.6 .9 1.6-1.8 1.6 2.5 1.6 .5 1.6-1 1.6 1.1 1.6 1.5 1.6 1.6 1.6-2.7 1.6 3.6 .6-2.3"/>
<path d="M9,94.7l1.6 2.6 1.6-1.8 1.6 3.8 1.6-1.7 1.6 .5 1.6 .2 1.6 .7 1.6 .4 1.6 2.4 1.6 1.1 1.6-6.5 1.2 1.8 0 .2 .5-3.2 .5 .3 .5 .4 .5-3.1 .5 5.7 .5-.5 .5 .5 .5 .9 .5 .8 .5 3.8 .5-3.6 .5 1 .5-2.4 .5 1.3 .5-1.3 .5 .2 .5-1.4 .5 .1 .5 1.9 .5 0 .5-1.1 .5-2.7 .5 .7 1.7-5.7 1.6 5.2 1.6-2.1 1.6 .3 1.6 1.7 1.6-2.4 1.6 3 1.6-1.7 1.6 2.4 1.6-.9 1.6 1.8 1.6 2.3 1.6-3.4 1.6 .1 1.6 .3 1.6 .8 1.6 3.9 1.6-5.9 1.6-2.4 1.6 2.7 1.6-1.1 1.6 2.6 1.6 1.8 1.6-.8 1.6 1.2 1.6-1.5 1.6 3.7 1.6-1.6 1.6 2.8 1.6-.5 1.6-3.8 1.6 .3 1.6 .2 1.6 .7 1.6-4.8 1.6 2.1 1.6 2.5 1.6-4.2 1.6-.4 1.6-1.1 1.6-2.6 1.6 3.5 1.6-1 1.6 .4 1.6 1.8 1.6 1.2 1.6-3.6 1.6 5 1.6-1.1 1.6 1.8 1.6-1.2 1.6-.1 1.6 3.1 1.6-1.7 1.6-.5 1.6 0 1.6 .7 1.6-.1 1.6-3.9 1.6 2.6 .6 1.2"/>
<path d="M9,101.7l1.6-5.3 1.6-.2 1.6 1.1 1.6-1.5 1.6-2.2 1.6 0 1.6 .3 1.6-1.6 1.6 1.1 1.6-2.4 1.6 2.1 1.2-2.3 0 2 .5 .4 .5 4.9 .5-2.1 .5 1.9 .5-1.6 .5 1.6 .5 .1 .5-.9 .5 3 .5-4.3 .5 4 .5 3.5 .5-5.9 .5 1.5 .5-2.7 .5 2.8 .5-2.9 .5 4.2 .5-1.8 .5-2.2 .5 1.1 .5-.3 .5 2.3 1.7 2.1 1.6-2.1 1.6-1.3 1.6 .6 1.6 1.6 1.6-4.4 1.6 5.2 1.6-.3 1.6-4.9 1.6 6.3 1.6-5 1.6 2.3 1.6 2.3 1.6-5.2 1.6-.6 1.6 1 1.6-.1 1.6 1.6 1.6-.7 1.6 .2 1.6 .2 1.6 .7 1.6-.9 1.6 2.3 1.6-.3 1.6-1.6 1.6 5.1 1.6-5.3 1.6 3.5 1.6-2.8 1.6 1.7 1.6-.2 1.6 .2 1.6 .5 1.6-4.4 1.6 6 1.6-4.6 1.6-2.4 1.6-1.2 1.6 6.3 1.6-1.3 1.6-3 1.6 1.4 1.6 1 1.6-2.1 1.6-.8 1.6 .8 1.6 1.7 1.6-1.3 1.6-2.1 1.6 3.6 1.6-4.2 1.6 1.9 1.6 3.6 1.6-1.6 1.6 .2 1.6-.1 1.6 1.9 1.6-1.7 1.6-3.1 .6 4"/>
<path d="M9,89.7l1.6-1.4 1.6 1.7 1.6-.3 1.6 3.1 1.6 .4 1.6-3.4 1.6 2.9 1.6-.5 1.6-1.3 1.6 3.7 1.6-1.1 1.2 1.2 0 3.5 .5-2 .5-.5 .5-2.9 .5-1.8 .5 3.6 .5-3.2 .5 .1 .5-1.2 .5 .4 .5 3.6 .5-4.9 .5-.1 .5 .6 .5-.1 .5-2.6 .5-1 .5 2.2 .5 .9 .5-.6 .5 .2 .5 .7 .5 1.5 .5 .7 1.7-2.4 1.6 1.6 1.6 1.1 1.6-1.4 1.6-2.8 1.6 1.1 1.6 0 1.6 .9 1.6-4.3 1.6 3.8 1.6-1.9 1.6 1.2 1.6 .8 1.6-2.6 1.6 0 1.6 1.1 1.6 1.2 1.6-2.3 1.6-1.6 1.6 1.1 1.6 1.8 1.6 1.4 1.6-2.8 1.6 .4 1.6 .4 1.6 .1 1.6-1.3 1.6 .9 1.6 1.2 1.6-.2 1.6-.1 1.6-1.7 1.6 .9 1.6 0 1.6 3.3 1.6 1 1.6-1.5 1.6 2.5 1.6-2.9 1.6 .2 1.6-1.7 1.6 2.4 1.6-1.7 1.6 .3 1.6-.2 1.6-2.2 1.6-1.9 1.6 .7 1.6-.5 1.6 0 1.6 1.1 1.6-1.2 1.6 .3 1.6 3.9 1.6-.5 1.6-1.4 1.6-.7 1.6 1.4 1.6 2 1.6 1.2 .6 3"/>
<path d="M9,95l1.6 2.3 1.6-4.5 1.6 5.7 1.6-1.6 1.6 .3 1.6-3.8 1.6 2.9 1.6 2.5 1.6 2.6 1.6-5.4 1.6-.2 1.2 1.9 0-.3 .5-1.3 .5 1 .5-.2 .5 1.8 .5 .3 .5 1.5 .5-1.7 .5-.9 .5-1.4 .5 .9 .5-3.7 .5 4.9 .5-3.4 .5 1.8 .5-3.8 .5 3.2 .5-1 .5-.9 .5-.7 .5-.3 .5 4.4 .5-1 .5-2 1.7-.1 1.6-1.7 1.6-2.1 1.6-.2 1.6 1.7 1.6 .3 1.6-2.1 1.6 2.8 1.6-.9 1.6-1.1 1.6-3.6 1.6 2.4 1.6 .1 1.6-2.1 1.6-1.5 1.6 7.1 1.6-2 1.6-1.5 1.6 3.6 1.6-.6 1.6-.8 1.6-.1 1.6 1.2 1.6 1.5 1.6-2.1 1.6-.3 1.6 1.6 1.6-5.6 1.6 5 1.6-.9 1.6 .5 1.6-.6 1.6 .6 1.6-.8 1.6-.4 1.6-.5 1.6 1.1 1.6-1.3 1.6 3 1.6-3.9 1.6 3.9 1.6 1 1.6-2.4 1.6 1.6 1.6 3.1 1.6-2.7 1.6-1.6 1.6-4 1.6 5.2 1.6-.8 1.6 .6 1.6 2.3 1.6-3.5 1.6 .5 1.6-1.1 1.6 1.5 1.6 .4 1.6 1.6 1.6-.1 1.6-2.2 .6 .4"/>
<path d="M9,88.9l1.6 5.2 1.6-1.6 1.6 0 1.6 0 1.6-.6 1.6-.4 1.6 3.8 1.6-1.2 1.6-1.6 1.6 .8 1.6 2.9 1.2-.5 0 0 .5-2.1 .5 1.4 .5-1.2 .5-1.5 .5 4.6 .5-2.2 .5-.2 .5-1 .5 3 .5 2.4 .5-2.4 .5 .7 .5-3.6 .5 2.5 .5 .1 .5 2.2 .5-2.5 .5-1.4 .5 1.8 .5-.2 .5 3.6 .5-.9 .5 0 1.7 .1 1.6 1.6 1.6-1.9 1.6-.3 1.6-1.2 1.6 5.6 1.6-.9 1.6 .5 1.6-1 1.6 2.7 1.6-4.6 1.6 3.3 1.6-3.9 1.6 .1 1.6-2 1.6 1.5 1.6-1.4 1.6 .5 1.6-2.4 1.6-2 1.6 2.7 1.6 .8 1.6-1.2 1.6-1.4 1.6 .9 1.6-3.3 1.6 2.7 1.6 3 1.6-.9 1.6-2 1.6 3 1.6-1.7 1.6 1.3 1.6-3.9 1.6 1.4 1.6 1.4 1.6 .1 1.6 .8 1.6-.6 1.6 .2 1.6 1.6 1.6 1 1.6-3.8 1.6 2.2 1.6 .2 1.6 .6 1.6 1.4 1.6-4.2 1.6 2.9 1.6-4.3 1.6 1.2 1.6-.2 1.6-.1 1.6-1.1 1.6-.3 1.6 .1 1.6 0 1.6-2.5 1.6 1.2 1.6 2.2 .6 2.5"/>
<path d="M9,101.8l1.6-3.1 1.6 1.2 1.6 1.1 1.6 1.2 1.6-4 1.6 1.6 1.6 2 1.6-.2 1.6-2.6 1.6 .2 1.6 2.2 1.2-2.6 0 1.9 .5 1 .5-1.7 .5-4.8 .5 6.3 .5-.3 .5 .1 .5-1.3 .5-4.7 .5 4.9 .5-2 .5 .9 .5-1.9 .5-.1 .5 .1 .5 3.1 .5-2.3 .5-.9 .5-2 .5 2.7 .5-1.1 .5-.1 .5 1.1 .5-.8 1.7-1.6 1.6 0 1.6-.6 1.6 .7 1.6-.4 1.6-1.3 1.6-1.9 1.6 2.8 1.6 0 1.6-3.2 1.6 2.6 1.6-1.1 1.6-2.9 1.6 3.8 1.6 1.9 1.6-2.5 1.6 .4 1.6 3.5 1.6-2.9 1.6 1.1 1.6 1.9 1.6 2.4 1.6 .6 1.6-1.6 1.6 .5 1.6 .5 1.6-1 1.6-1.1 1.6-.7 1.6 3 1.6-1.6 1.6 5.3 1.6-3.7 1.6-2.2 1.6 1.2 1.6 .5 1.6-.1 1.6-.2 1.6-.2 1.6-1.2 1.6 1.3 1.6 2.7 1.6-4.3 1.6 .3 1.6 1.9 1.6 .9 1.6-.8 1.6 .5 1.6-2.3 1.6-.5 1.6 1.4 1.6 .1 1.6 1.7 1.6-.1 1.6-5.6 1.6 4.6 1.6-2.5 1.6-2.5 1.6 4.1 1.6-1.3 .6-.7"/>
<path d="M9,92l1.6 .2 1.6-2.8 1.6 1.8 1.6-1.6 1.6-.4 1.6 5.2 1.6-.2 1.6-1.1 1.6 .4 1.6 2.5 1.6-.8 1.2-1 0 1.1 .5-.5 .5-.7 .5-.5 .5 2.6 .5-2.4 .5-1.4 .5 4.7 .5-1.2 .5-1.5 .5-1.3 .5 .1 .5-3.1 .5 2 .5 .1 .5-1.3 .5 .7 .5-2.4 .5 1.4 .5-2.9 .5 2.6 .5-.9 .5-1.1 .5 1.5 1.7 .6 1.6-1.3 1.6 2.3 1.6-3 1.6 2.5 1.6-.4 1.6-2.1 1.6 3.6 1.6-4.4 1.6 3.6 1.6-.3 1.6 1.6 1.6-3.4 1.6 1.1 1.6 1 1.6 1.8 1.6 .4 1.6 0 1.6-.4 1.6-.8 1.6-1.1 1.6 1.6 1.6 1.6 1.6 1 1.6-2.2 1.6 3 1.6-3.5 1.6 3.9 1.6-2.7 1.6 2.5 1.6-1.9 1.6 0 1.6 .6 1.6 3.1 1.6-3.6 1.6 2 1.6-.8 1.6 .3 1.6 .2 1.6 .8 1.6-2.8 1.6 2.2 1.6 .5 1.6-1.6 1.6 1.2 1.6-2.7 1.6 2.4 1.6-3 1.6 .1 1.6 1.1 1.6 0 1.6-3.2 1.6-.4 1.6 2.5 1.6-6.4 1.6 7.1 1.6 .1 1.6-3.6 1.6 4.1 1.6-1 .6 .5"/>
<path d="M9,90.3l1.6 3.8 1.6-5.5 1.6 1.8 1.6 3.3 1.6-3.3 1.6 .6 1.6-3.3 1.6 3.8 1.6-.5 1.6-.5 1.6-2.1 1.2 .7 0-1 .5 1.6 .5-1.3 .5 1.5 .5-3.3 .5 1.9 .5-3.5 .5 3.8 .5 1.4 .5-2.1 .5 4.1 .5-6 .5 1 .5-1 .5 .8 .5 .3 .5-1.4 .5 1.3 .5 5.6 .5-3.3 .5 2.7 .5-3 .5 2.6 .5 1.7 1.7-.7 1.6-.3 1.6 .6 1.6 .2 1.6 .9 1.6 0 1.6-5 1.6-1.9 1.6 2.5 1.6-.1 1.6 .9 1.6 .5 1.6-3 1.6 4.6 1.6-3.1 1.6-3.5 1.6 4.4 1.6-1.4 1.6-.3 1.6-3.4 1.6 1.9 1.6 .5 1.6-.6 1.6 1.6 1.6 1.2 1.6 .9 1.6 .3 1.6-1.6 1.6 4.1 1.6-1.4 1.6 1.9 1.6-1 1.6-1.2 1.6-1 1.6 4.3 1.6-1.7 1.6 .8 1.6 .8 1.6-4.9 1.6-1.3 1.6 2.7 1.6-.6 1.6-1.6 1.6-.8 1.6-2 1.6 2.5 1.6-1.1 1.6 2.2 1.6 1.2 1.6-2.1 1.6 2.3 1.6 .3 1.6 1.7 1.6 2.1 1.6-.9 1.6 .4 1.6 .2 1.6-2.2 1.6 .4 1.6 .3 .6 1.2"/>
<path d="M9,95.8l1.6 3.8 1.6-3.8 1.6 1.4 1.6-3.5 1.6 .9 1.6 .1 1.6 .9 1.6 1.6 1.6-1.4 1.6-4.1 1.6 2.7 1.2 .1 0-.4 .5 2.6 .5 2.2 .5-3 .5 3.1 .5 .7 .5-4.1 .5 4.7 .5-.3 .5-2.6 .5 2.2 .5-2.8 .5 1.3 .5-1.1 .5-2.8 .5 1.7 .5-1 .5-.7 .5-1.4 .5 .4 .5-1 .5 3.8 .5-5.6 .5 3 1.7-1.6 1.6-1.5 1.6 3.1 1.6-2.8 1.6 3.5 1.6-2 1.6 1.5 1.6 .1 1.6 2.3 1.6 1.6 1.6-1.3 1.6 1.8 1.6 3.9 1.6-3.2 1.6 4.6 1.6-3.3 1.6-.1 1.6-1.8 1.6 1.4 1.6-1.7 1.6 1.6 1.6 1.7 1.6-1.9 1.6-1.7 1.6-1.4 1.6 0 1.6-1.8 1.6 0 1.6 5.3 1.6-2.9 1.6-1.9 1.6 2.8 1.6 1.3 1.6-3.8 1.6 .6 1.6-2.3 1.6-.9 1.6 4.6 1.6 3.2 1.6-7.3 1.6-1.7 1.6 5.2 1.6-.6 1.6-.8 1.6 2 1.6-2.7 1.6 1.4 1.6 1.2 1.6-1.6 1.6 1.4 1.6-1.2 1.6 1.1 1.6-.6 1.6-3.8 1.6 3.6 1.6-2.3 1.6 1.5 1.6-.7 1.6 5 1.6-1.2 .6 .7"/>
<path d="M9,98.2l1.6-1 1.6 2.8 1.6-2.5 1.6-2 1.6-.4 1.6 3.6 1.6-3.4 1.6 2.2 1.6-.2 1.6 1.6 1.6-3.2 1.2 2.2 0-.4 .5 1.1 .5 1.1 .5-1.9 .5-.3 .5 2.1 .5-3.6 .5 2.9 .5-1.8 .5-.3 .5-.6 .5-.2 .5 4.1 .5 .1 .5-1.3 .5 1.7 .5-1.6 .5-.9 .5-1 .5 2.9 .5-.2 .5 .4 .5-3.8 .5 .5 1.7-2 1.6 4 1.6-.7 1.6-.2 1.6-.7 1.6 .1 1.6 0 1.6 2.8 1.6-2.5 1.6 2.9 1.6-.7 1.6-1.9 1.6-.4 1.6 1.5 1.6 1.7 1.6-1.7 1.6 3.6 1.6 1.1 1.6-.8 1.6-3.7 1.6-1.1 1.6 5.3 1.6 1 1.6-3.3 1.6 1.4 1.6-1.6 1.6-1 1.6 2.3 1.6-3.3 1.6 1.7 1.6 .9 1.6-3.7 1.6 2.9 1.6-5.8 1.6 3.5 1.6-1.8 1.6 4.2 1.6-4.5 1.6-1.6 1.6 4 1.6-5.5 1.6 3.3 1.6-2.1 1.6 3.7 1.6-2.5 1.6 1.7 1.6-1.5 1.6-1.8 1.6-1.8 1.6 6.5 1.6-2.8 1.6-2.5 1.6 1.2 1.6 2 1.6-4.5 1.6 6 1.6-4.5 1.6-.4 1.6 2.7 1.6-1.8 .6-1.8"/>
<path d="M9,96.8l1.6-4.1 1.6 2.3 1.6 .3 1.6-2.8 1.6 .8 1.6 3.4 1.6-2.7 1.6 4.5 1.6 .8 1.6 .5 1.6-.4 1.2 .9 0-3.8 .5 1.8 .5-2.4 .5-.9 .5-1.9 .5 1.5 .5-2.9 .5 2.8 .5 1.2 .5-2.4 .5 .4 .5 1.1 .5 2 .5 1.3 .5 1.3 .5 2 .5-.5 .5-2.4 .5-1.4 .5-1.8 .5 3 .5-1 .5-1.9 .5-.4 1.7-.4 1.6-4.7 1.6 4 1.6 .5 1.6-.7 1.6-1.3 1.6 2.4 1.6 1.4 1.6 3 1.6-.7 1.6-.3 1.6-.7 1.6-2.1 1.6 1.7 1.6-1.5 1.6 2.4 1.6 2.3 1.6 .3 1.6 .1 1.6-1.3 1.6 1.8 1.6-2.2 1.6-3 1.6 3.4 1.6-.4 1.6-3.2 1.6 2 1.6-3.3 1.6 3.3 1.6 2.7 1.6-3.5 1.6 3 1.6-2.4 1.6-2.2 1.6-2.2 1.6 4 1.6-.3 1.6-3.7 1.6 1.8 1.6 2.6 1.6-3.3 1.6 1.6 1.6-4.5 1.6 1.1 1.6 2.1 1.6-3.9 1.6-.8 1.6 0 1.6 2 1.6-1.5 1.6 3.3 1.6 2.2 1.6 2.7 1.6-2.3 1.6 4.3 1.6-1.1 1.6-.9 1.6 1.5 1.6 1.7 1.6-.4 .6-1.8"/>
<path d="M9,94.4l1.6-3.9 1.6-1.7 1.6 2.6 1.6 2.1 1.6 4 1.6-3.1 1.6-.4 1.6 1.9 1.6-.3 1.6 .4 1.6 1.6 1.2 .1 0-2.1 .5 2.2 .5-3.1 .5-.8 .5-2.3 .5 .4 .5-.7 .5-.1 .5-2.6 .5 2.8 .5-1.5 .5 2.1 .5 2.1 .5 2.2 .5-2.6 .5-.7 .5 2.4 .5 1.7 .5-2.9 .5 4.4 .5-7.8 .5 5.5 .5-.6 .5 0 1.7-2.9 1.6 4.2 1.6 .3 1.6 .7 1.6-2.1 1.6 .1 1.6 2.4 1.6-2.3 1.6-2.2 1.6-1.9 1.6 .7 1.6-3.6 1.6 2.7 1.6-.8 1.6-2.5 1.6 4.3 1.6 2.2 1.6-.6 1.6-1.7 1.6 1.9 1.6 2.9 1.6-3.5 1.6 1.5 1.6 2.5 1.6-2.6 1.6-.6 1.6 2.4 1.6 1.5 1.6-1.9 1.6-2.7 1.6-.2 1.6 2.6 1.6-2.4 1.6 3.2 1.6 1.8 1.6-6.1 1.6 4.1 1.6 .5 1.6-1.9 1.6 1.2 1.6 0 1.6 .8 1.6 3 1.6-3.7 1.6-1.5 1.6 .3 1.6 .2 1.6 3.5 1.6-.6 1.6-.2 1.6-1.1 1.6 1.5 1.6-1.7 1.6-1 1.6-3.4 1.6 .3 1.6-1.5 1.6 1.6 1.6 1.9 1.6-1.5 .6 1.7"/>
<path d="M9,104.7l1.6 .3 1.6-1.6 1.6-1 1.6 2.2 1.6-3.2 1.6 .3 1.6-.2 1.6 .6 1.6-2.9 1.6-1.2 1.6 5.9 1.2-3.2 0 1 .5 1.9 .5 .3 .5-1.3 .5 .8 .5 1.6 .5 0 .5 0 .5 0 .5-5.1 .5 2.8 .5-1.3 .5-3.5 .5 3.3 .5 .1 .5-1.1 .5-3.9 .5 2.6 .5 .6 .5-.8 .5 .9 .5 .4 .5 1.5 .5-2.1 1.7 4 1.6-4.3 1.6-.1 1.6 .7 1.6-1.6 1.6-.5 1.6 2.7 1.6-5.7 1.6 .9 1.6 7.1 1.6-1.8 1.6 .3 1.6 .3 1.6 .7 1.6-1.4 1.6 1.7 1.6-.9 1.6 3.5 1.6-.4 1.6-.8 1.6 0 1.6-1.3 1.6-2.2 1.6 4.6 1.6-2.2 1.6-1.6 1.6 1.1 1.6 1 1.6-.3 1.6-1.1 1.6 .1 1.6-2 1.6 2.6 1.6-.8 1.6-.1 1.6-4 1.6 3.2 1.6-.2 1.6 0 1.6-6.3 1.6 .8 1.6 3.3 1.6-2.6 1.6 2 1.6-1 1.6 1.7 1.6-2.4 1.6-.6 1.6 3.1 1.6-1 1.6-1.2 1.6-1 1.6 9.3 1.6-5.8 1.6 .5 1.6-2.7 1.6 2 1.6 1.7 1.6 .9 1.6 .8 .6-2.7"/>
<path d="M9,93.9l1.6 4.4 1.6-.9 1.6 1.3 1.6-.9 1.6-5.3 1.6 2.6 1.6 .6 1.6 .4 1.6-.5 1.6-1.4 1.6 3.8 1.2-1.9 0-.1 .5 1.7 .5-.6 .5 .1 .5 1.8 .5 4.9 .5-3.6 .5 .1 .5-.5 .5 1.7 .5-2.3 .5 3.2 .5-.2 .5-.1 .5 .8 .5-1 .5 1.5 .5-.4 .5-.3 .5-1.5 .5 .9 .5-2.7 .5 1.8 .5-3.2 1.7 1.8 1.6-2.3 1.6-.8 1.6-1.9 1.6 2.7 1.6-.4 1.6-.6 1.6 .6 1.6-.5 1.6-2 1.6-.6 1.6 2.9 1.6-1.1 1.6 2 1.6 .6 1.6-2.2 1.6-.4 1.6-.1 1.6-.6 1.6-1.1 1.6-3.2 1.6 6.3 1.6-.1 1.6-.8 1.6 .2 1.6 1.4 1.6-.2 1.6-1.6 1.6-1 1.6 1.2 1.6 .1 1.6 2.4 1.6-5.4 1.6 2.7 1.6-2.1 1.6 1.1 1.6 5.3 1.6-4.4 1.6 .8 1.6-.6 1.6 2.7 1.6-2.2 1.6-2.2 1.6 3.1 1.6 1.2 1.6-1.6 1.6 .2 1.6-1.6 1.6-.6 1.6 1.6 1.6-2.1 1.6 1.2 1.6-.9 1.6 1.4 1.6 1.9 1.6-1.2 1.6 2.2 1.6-1.2 1.6-.8 1.6-1.3 .6 1.8"/>
<path d="M9,95.4l1.6 .1 1.6-.6 1.6-.4 1.6 2.7 1.6-3.9 1.6 2.1 1.6 1.1 1.6-3.4 1.6-1.7 1.6 4.6 1.6-3.8 1.2 1.4 0 1 .5 .5 .5-1 .5-.7 .5 3.1 .5-1.1 .5 3.1 .5-4.8 .5 1.3 .5-.2 .5 .6 .5-1.2 .5-1.1 .5 2.6 .5-4.3 .5 .5 .5-.8 .5-1.7 .5 2.2 .5-4.5 .5 5.3 .5-4.3 .5 2.5 .5 1.1 1.7-.5 1.6 .4 1.6 3.4 1.6 2.2 1.6-2.3 1.6-1.8 1.6-1.9 1.6-.9 1.6 2.6 1.6-1.4 1.6 0 1.6-1 1.6 .3 1.6-3.3 1.6-.1 1.6 0 1.6 2.2 1.6 .2 1.6 .8 1.6-2.1 1.6 2.4 1.6 .9 1.6-1.5 1.6-5.1 1.6 4.3 1.6-.8 1.6 2.1 1.6-1.9 1.6 1.5 1.6-1.4 1.6 1.7 1.6 1.8 1.6-1.4 1.6 1.8 1.6 .4 1.6 1.4 1.6-.9 1.6 1.2 1.6-4 1.6 2.5 1.6 1.5 1.6-.6 1.6-3.1 1.6 0 1.6 1.9 1.6 0 1.6 .3 1.6-.6 1.6 .3 1.6 1.8 1.6-3.3 1.6-.7 1.6 4.1 1.6-3.1 1.6 2.4 1.6-2.5 1.6-.8 1.6 4.3 1.6-2.9 1.6-2.4 .6 2"/>
<path d="M9,99.8l1.6-1.7 1.6-1.9 1.6-1.1 1.6-1 1.6 .6 1.6-2.8 1.6 1.5 1.6 1.9 1.6-2.3 1.6-.3 1.6-.7 1.2 2.6 0 .3 .5 1.8 .5-3.2 .5-.4 .5 1 .5-1.2 .5 1.8 .5-.9 .5-1 .5 1 .5 1.6 .5-.7 .5-2.2 .5 1.3 .5 .8 .5 1.1 .5-1.2 .5-1.1 .5 3.3 .5-1.9 .5 1.1 .5 .1 .5 1.8 .5-2.8 1.7 .6 1.6-1.3 1.6-1.3 1.6 1.8 1.6-3 1.6 1.1 1.6-.6 1.6-3.7 1.6 .5 1.6-2.2 1.6 6.4 1.6 .5 1.6-.7 1.6 .6 1.6 .9 1.6 0 1.6 1.4 1.6 .4 1.6-1.1 1.6 4.3 1.6-.3 1.6-1.9 1.6 4.8 1.6 .9 1.6-1.7 1.6 .1 1.6-3 1.6 .4 1.6-2.5 1.6 1.6 1.6 1.8 1.6-3 1.6-2.8 1.6 4.9 1.6-.2 1.6-1.5 1.6-5.9 1.6 3.4 1.6-3.4 1.6 .7 1.6 1.1 1.6 1.4 1.6-3.6 1.6 .7 1.6-1.2 1.6 2.6 1.6-1.1 1.6 1.4 1.6 2.8 1.6-.7 1.6 .9 1.6 .8 1.6 1.5 1.6 1.4 1.6-4 1.6-.6 1.6 3.6 1.6 0 1.6 .7 1.6-1.5 .6 1"/>
<path d="M9,99.1l1.6-.9 1.6-3 1.6 1.9 1.6-3.2 1.6 1.9 1.6-2.2 1.6-.4 1.6 .3 1.6-3 1.6 2.2 1.6-1.3 1.2 3.8 0 1 .5-4.3 .5-.9 .5 4.7 .5-.8 .5 0 .5 6.1 .5-3.9 .5-.5 .5 1.8 .5 1.4 .5 2.3 .5-2.2 .5-2.9 .5 .8 .5 3.2 .5-6.8 .5 2.1 .5 1.3 .5-2.2 .5-1.4 .5-1.6 .5 1.5 .5 .5 1.7-.5 1.6 1.5 1.6-1.2 1.6 2.2 1.6-1.5 1.6 1.7 1.6-1.7 1.6 3.9 1.6-.6 1.6-.9 1.6-2.8 1.6 2 1.6-5.4 1.6 4.3 1.6 .9 1.6-1.7 1.6 1.9 1.6 1.1 1.6 2.3 1.6-2.6 1.6-2.3 1.6-1 1.6 4 1.6 1.9 1.6 .3 1.6-2.1 1.6-1.7 1.6-.6 1.6 .5 1.6 .1 1.6 .8 1.6-.6 1.6 3.5 1.6-2.7 1.6 1 1.6 1.2 1.6 0 1.6-2.9 1.6-1.9 1.6 .2 1.6 2.5 1.6 .1 1.6-.8 1.6 .5 1.6 .4 1.6-3.9 1.6 5.2 1.6-.4 1.6-3.7 1.6-2.1 1.6 .3 1.6-3.2 1.6 2.2 1.6-1.7 1.6 1 1.6-.5 1.6 4 1.6-5 1.6 2.1 1.6-.9 .6 3.8"/>
<path d="M9,102.5l1.6-.3 1.6-2.5 1.6 .7 1.6-1.2 1.6 2.2 1.6-1.9 1.6 1.8 1.6-.3 1.6-2.1 1.6 1.2 1.6-.3 1.2 .9 0-3.3 .5 1.9 .5 2.1 .5-2.1 .5-2 .5 1 .5 3.5 .5-4.3 .5 0 .5 3.2 .5-1.6 .5-1.5 .5 .3 .5 2.8 .5-1.4 .5 3 .5-4.4 .5-2.3 .5 .2 .5-1.4 .5 3.7 .5-3.5 .5 4.1 .5-1.4 1.7 3 1.6-3.3 1.6 2.1 1.6-4.7 1.6 3 1.6-.5 1.6 3.2 1.6-2.5 1.6 1 1.6-2.8 1.6-1.5 1.6 1.7 1.6 2.2 1.6-2.5 1.6 2.8 1.6-3 1.6 .4 1.6 .6 1.6 .7 1.6-.2 1.6 1.3 1.6-.7 1.6-.2 1.6 4.3 1.6-1.3 1.6-2.4 1.6-1 1.6-2.2 1.6 3.1 1.6-2.8 1.6 3.8 1.6-6.9 1.6 3.2 1.6 1.3 1.6-2.9 1.6 4.8 1.6-1.1 1.6 .9 1.6-2.2 1.6 4.1 1.6 .8 1.6-.8 1.6 3.2 1.6-2.4 1.6-4.7 1.6 4 1.6 1.8 1.6-5 1.6 1.4 1.6-3.4 1.6 .3 1.6-5.2 1.6 1.2 1.6 2.4 1.6-.5 1.6-2.2 1.6 4.3 1.6-.9 1.6-2.6 1.6-2.6 .6 4.1"/>
<path d="M9,90.1l1.6-2.8 1.6 3.1 1.6 3 1.6-.8 1.6-4 1.6 6.1 1.6-1.1 1.6-1.2 1.6 .1 1.6-.9 1.6 2.2 1.2-2.3 0-2.7 .5 1.3 .5 4.4 .5-.6 .5-.4 .5-2.6 .5 2.3 .5 .9 .5-1.6 .5 1.1 .5 .8 .5 .1 .5-.7 .5 .4 .5-2.5 .5 2 .5 2.2 .5 1.6 .5-2.5 .5 1.6 .5-1.7 .5-1.6 .5 2.5 .5 .1 1.7-2.3 1.6-.1 1.6 1.5 1.6-1 1.6 1.7 1.6-3 1.6 4.1 1.6-2.1 1.6 2.1 1.6-2.8 1.6 4.6 1.6-1.1 1.6 3.2 1.6-6.5 1.6-.5 1.6 4.1 1.6 0 1.6-4.9 1.6 3.6 1.6 .1 1.6 .2 1.6-2.9 1.6-3.6 1.6-1.5 1.6 6.2 1.6-3.4 1.6 .5 1.6-2.5 1.6 .1 1.6 .2 1.6-1 1.6 1.4 1.6-1.1 1.6 1.5 1.6 2.8 1.6-1.8 1.6-1.2 1.6 4.1 1.6-.8 1.6-2.1 1.6-2.9 1.6 5.4 1.6 .4 1.6-2.8 1.6 4.1 1.6-3.1 1.6 1.8 1.6 .5 1.6 1.9 1.6 0 1.6 3 1.6-3.1 1.6 1 1.6-1.3 1.6-.3 1.6-2.5 1.6 .9 1.6 2.2 1.6-1 1.6-3.2 .6 1.8"/>
<path d="M9,92.7l1.6-2.3 1.6 4.2 1.6-4.9 1.6 1.5 1.6 .6 1.6-1.9 1.6-2.1 1.6 2.3 1.6 .9 1.6-1.7 1.6 1.9 1.2-3.7 0 3.7 .5 3.2 .5-1.6 .5 .5 .5-1.6 .5 .6 .5 3.5 .5-1.6 .5 2.3 .5-2.2 .5 2.6 .5-.2 .5-4.2 .5 3.4 .5 .8 .5-.4 .5-.6 .5 1.3 .5-2.6 .5-1.3 .5 2.8 .5 2 .5-4.1 .5 3.1 1.7-2.9 1.6-2.4 1.6 .7 1.6-.4 1.6 3 1.6-2.2 1.6-1.5 1.6 1 1.6 2.3 1.6-2.1 1.6-.4 1.6 2.7 1.6-1.2 1.6 3.2 1.6 1.5 1.6-.9 1.6-.8 1.6 1 1.6-2.7 1.6 4.9 1.6 1.1 1.6-4.3 1.6-3.8 1.6 2 1.6-1.7 1.6-1.1 1.6 2.6 1.6-.4 1.6-1 1.6 2.6 1.6-2.1 1.6-2 1.6 2 1.6-3.3 1.6 1 1.6-1.4 1.6 1.3 1.6-1.6 1.6-1.1 1.6 1.1 1.6 .1 1.6-.3 1.6 1.8 1.6-3.1 1.6 3.2 1.6 3.1 1.6-2 1.6-3.1 1.6 6 1.6-1.7 1.6 1.6 1.6-.7 1.6 .5 1.6 1 1.6-1.9 1.6 1.1 1.6-3.5 1.6 .8 1.6 1.4 1.6 2.9 .6-4.2"/>
<path d="M9,89.7l1.6 1.2 1.6-.2 1.6-.1 1.6-1.4 1.6 1.2 1.6-.2 1.6-3 1.6 2.6 1.6 .1 1.6-1 1.6 2.5 1.2-1.4 0-1.1 .5 3.2 .5 1.7 .5-4.6 .5 2.1 .5 1.9 .5-.1 .5 .9 .5 .7 .5-5 .5 4.3 .5-3.9 .5 1.2 .5-.2 .5 2.7 .5-3.5 .5 3.1 .5-2.5 .5 6.1 .5-4.2 .5 .9 .5-2 .5 .9 .5 3 1.7-2.1 1.6-2.6 1.6 .8 1.6 .5 1.6 3.2 1.6-3 1.6 1.2 1.6 1.4 1.6 2.8 1.6-2.3 1.6-2.2 1.6 .7 1.6 5.1 1.6-1.8 1.6-3.7 1.6 2.4 1.6-.1 1.6-.1 1.6 1.3 1.6-.3 1.6 .8 1.6-5.6 1.6 3.6 1.6-.7 1.6-1.3 1.6 3.5 1.6-3.3 1.6 .2 1.6 5.4 1.6-1.9 1.6 .8 1.6 .8 1.6-4.6 1.6 4.2 1.6-2.5 1.6 .4 1.6 0 1.6-.7 1.6-2.2 1.6 .2 1.6 0 1.6 1.1 1.6-5.8 1.6 6 1.6-4 1.6 5.4 1.6-2.7 1.6 2.5 1.6-3.2 1.6 3.5 1.6-2.2 1.6-.2 1.6-.2 1.6-5.4 1.6 1.4 1.6-.5 1.6 2.9 1.6-.3 1.6 2.2 1.6-.2 .6 2.2"/>
<path d="M9,94.7l1.6-2.9 1.6 3.4 1.6-3.2 1.6 2.8 1.6 1 1.6-2.4 1.6-1 1.6 1.4 1.6-1.6 1.6-1 1.6 3.1 1.2-5.4 0 4.5 .5-3.1 .5 2.8 .5-2.6 .5 4 .5-3.9 .5-2.9 .5 9.1 .5-4.8 .5 0 .5 .4 .5-.3 .5 1.2 .5-1.6 .5 5.3 .5-4.8 .5 2.6 .5 1.4 .5-2.6 .5 2 .5-2.5 .5-1 .5 .1 .5 3 1.7-.4 1.6-3.7 1.6 3.1 1.6-3.4 1.6 1.9 1.6 1 1.6-4.6 1.6 4.7 1.6-1.5 1.6-1.9 1.6 3.8 1.6-.5 1.6 .2 1.6-1 1.6-.5 1.6-.8 1.6 2.1 1.6-1.1 1.6 1.4 1.6 1.9 1.6 1 1.6-.3 1.6 0 1.6-.8 1.6 2.2 1.6 .4 1.6-3 1.6-.1 1.6-1.1 1.6 1 1.6-.4 1.6 4.1 1.6-1 1.6-4.7 1.6 3.8 1.6-1.5 1.6-2.4 1.6 3.7 1.6-1.2 1.6 2.1 1.6 .8 1.6-1.6 1.6 4.1 1.6-1.9 1.6-1.4 1.6-1.4 1.6 6.5 1.6-5.6 1.6 1.1 1.6-.1 1.6 .6 1.6-4.3 1.6-2.1 1.6 4.2 1.6-2.9 1.6 1.8 1.6 3.6 1.6-5.2 1.6 1.4 1.6-4.1 .6 6.1"/>
<path d="M9,93.3l1.6 1.1 1.6-.1 1.6 .1 1.6-.6 1.6-.9 1.6 3.1 1.6-4.9 1.6 3.9 1.6-3.6 1.6 2 1.6-2.9 1.2-1.5 0 .4 .5-.3 .5 3.8 .5-3.3 .5 .3 .5 .2 .5 2.6 .5 1.1 .5 2.1 .5-1.3 .5-.3 .5 2.2 .5 1.6 .5-.5 .5-3.4 .5 .4 .5 1.1 .5-1.7 .5-1.4 .5 3 .5-.7 .5 1.4 .5 1.1 .5-2.4 1.7-1.3 1.6 .2 1.6 2.2 1.6-1.7 1.6 .7 1.6-2.3 1.6 1.6 1.6-2.3 1.6-.4 1.6 .9 1.6-.5 1.6-.5 1.6 0 1.6 1.1 1.6-3.2 1.6-2.3 1.6 3.5 1.6 2.5 1.6-1.5 1.6-3.9 1.6 2.8 1.6 1.1 1.6-.6 1.6 1.4 1.6-1.8 1.6-5.7 1.6 4.9 1.6-2.3 1.6-.2 1.6-1.2 1.6 1 1.6 1.8 1.6 2.9 1.6 .4 1.6-.6 1.6 1.2 1.6-2.7 1.6-.8 1.6 4.7 1.6-2.6 1.6-1.5 1.6 1.9 1.6-2.5 1.6 4.2 1.6-4.7 1.6 1.7 1.6 .9 1.6 .4 1.6-1.5 1.6 3.8 1.6-.3 1.6-1 1.6 .9 1.6-1.9 1.6 2.4 1.6-2.9 1.6-1 1.6 1.3 1.6-.3 1.6 .7 .6 .4"/>
<path d="M9,97.5l1.6-2.5 1.6-.6 1.6 1.6 1.6 3.6 1.6-5.5 1.6 2.8 1.6-2.7 1.6 .1 1.6 2.4 1.6 2.4 1.6-.9 1.2 .1 0 1.7 .5-1.2 .5-1.8 .5-.5 .5 1.2 .5 1.2 .5-1.1 .5 .3 .5-.4 .5-.2 .5-.5 .5 .9 .5 4.6 .5-1.1 .5 .7 .5-2.1 .5-.3 .5 1.7 .5-2 .5 2.7 .5-1.7 .5 1.2 .5-2.8 .5 4.3 1.7-2.9 1.6 .7 1.6-2.4 1.6 .2 1.6 2.7 1.6-3.6 1.6 5.3 1.6-2.8 1.6 2.8 1.6-2.9 1.6 .8 1.6-.3 1.6 .9 1.6-3.7 1.6 1.9 1.6-.8 1.6 .6 1.6-2.8 1.6 1.7 1.6-.8 1.6 1.2 1.6 3.2 1.6 .9 1.6-2.9 1.6 1.9 1.6 .5 1.6-1.2 1.6 1.1 1.6-1.1 1.6 2.8 1.6-2.5 1.6 3.4 1.6-5.1 1.6 4.2 1.6-.2 1.6-2.5 1.6-2.3 1.6 2.6 1.6-3.1 1.6 3.2 1.6-2.4 1.6-.9 1.6-.4 1.6 .5 1.6-1.8 1.6 .7 1.6-.5 1.6-1.5 1.6 2.9 1.6 1.1 1.6-.5 1.6-1.5 1.6 1 1.6-3 1.6 .2 1.6-.4 1.6 .2 1.6 2.2 1.6-2.9 1.6 .5 .6-1.3"/>
<path d="M9,92.8l1.6 4.9 1.6 .1 1.6-.7 1.6 .7 1.6 .5 1.6 .1 1.6 1.3 1.6-.2 1.6-1.7 1.6-1.6 1.6 3.1 1.2-4.3 0-1.4 .5 4.5 .5-4.4 .5-.8 .5-2.2 .5 .7 .5 4.4 .5-2.3 .5 3.2 .5-2.8 .5 4.4 .5 0 .5 .1 .5-1.3 .5 5.9 .5-1.7 .5-.3 .5 1.2 .5-3.7 .5 3.6 .5-1.7 .5-1.1 .5-.5 .5-2.9 1.7 .2 1.6 .3 1.6-2.4 1.6 2.5 1.6-1.5 1.6 .5 1.6-5.2 1.6 5.1 1.6-3.3 1.6-.3 1.6 1 1.6 3 1.6-1.5 1.6-.1 1.6 1 1.6 0 1.6 .1 1.6-.3 1.6-.9 1.6 .6 1.6-3 1.6 2.2 1.6-3.3 1.6 3.7 1.6 .5 1.6-1.3 1.6 .7 1.6 3 1.6-2.1 1.6 .9 1.6 3.4 1.6-2.7 1.6 .9 1.6-1.1 1.6-.3 1.6 .5 1.6-2.7 1.6 1.3 1.6-2.3 1.6 0 1.6 1.7 1.6-2 1.6-3.2 1.6 4.2 1.6 2.8 1.6-3.6 1.6 2.9 1.6-1.4 1.6-1.8 1.6 2 1.6-3.4 1.6 5.8 1.6-2.8 1.6 1.2 1.6-.7 1.6-2.5 1.6 2 1.6 2.9 1.6-.4 1.6-1.8 .6-.6"/>
<path d="M9,95.4l1.6-5.9 1.6 4.5 1.6-3.4 1.6 2.3 1.6-3.3 1.6 3 1.6-.2 1.6-3.8 1.6 2.7 1.6 2.4 1.6 .9 1.2-1 0-1.4 .5 1 .5-2 .5 .8 .5 2.5 .5 .2 .5 1.9 .5-.1 .5 1.3 .5-.6 .5 1.4 .5 3.1 .5-6 .5 1.5 .5-1.5 .5 1.1 .5-.6 .5-2.7 .5 1 .5-.5 .5-1.1 .5 .2 .5 1.5 .5-1.3 1.7-1.3 1.6 1.4 1.6 3.6 1.6-3.6 1.6 3.7 1.6-2.2 1.6-1 1.6 1.8 1.6 2 1.6-.9 1.6-.9 1.6-.3 1.6-.6 1.6-.5 1.6 .3 1.6-3.5 1.6 4.3 1.6-.7 1.6-.7 1.6 .9 1.6-2.9 1.6 .7 1.6-4.7 1.6 4.5 1.6-1.2 1.6 1.6 1.6 .4 1.6-1.6 1.6-1.6 1.6 3 1.6 1.3 1.6 .8 1.6-1.6 1.6 .2 1.6 1.9 1.6-.6 1.6-1.3 1.6 4.5 1.6 .1 1.6 .1 1.6-3 1.6 .8 1.6-2.5 1.6-1 1.6 2.9 1.6-4.2 1.6 2.2 1.6 4.4 1.6-2.1 1.6-1.1 1.6-.3 1.6-1.7 1.6-1.2 1.6 3.8 1.6-4.3 1.6-1.2 1.6 1.5 1.6-1.6 1.6 2.1 1.6-3.4 .6-.4"/>
<path d="M9,94.4l1.6-.1 1.6 2.1 1.6-1.8 1.6 .6 1.6 .1 1.6 2.2 1.6-5.4 1.6 6.3 1.6-6.4 1.6 1.4 1.6-1.4 1.2 1.3 0 .6 .5 2.9 .5-1.8 .5-2.9 .5 1.9 .5 .4 .5-.7 .5 2.8 .5 0 .5-.7 .5-.1 .5 2.6 .5-1.4 .5 2 .5-.8 .5-3.8 .5-1.9 .5 3.4 .5-1.4 .5-.7 .5 .5 .5 3.7 .5-2.7 .5 3.7 1.7-1.9 1.6-4.4 1.6 3.5 1.6 1.5 1.6-6 1.6 .4 1.6 1.5 1.6-1.1 1.6 3.5 1.6-4.5 1.6 4.4 1.6-5.1 1.6 1.1 1.6 2.2 1.6 .5 1.6-.5 1.6 2.5 1.6 .5 1.6 .3 1.6-3.3 1.6 2 1.6-1.4 1.6 3.4 1.6-5.8 1.6 3.4 1.6 1.2 1.6-.1 1.6 3.8 1.6-4.9 1.6 1 1.6-.8 1.6 1.7 1.6-1.9 1.6 2.7 1.6-.7 1.6-5.8 1.6-.6 1.6 4.4 1.6-1.3 1.6-3.8 1.6 2.3 1.6-2.4 1.6 3.2 1.6-3.9 1.6 .9 1.6 1.6 1.6-1.1 1.6 1.4 1.6-1.5 1.6-3.6 1.6 2.7 1.6-2.5 1.6 4.4 1.6 .5 1.6-.4 1.6 2.3 1.6-1.7 1.6 1.9 1.6-.3 1.6 .5 .6 .4"/>
<path d="M9,98.8l1.6-4 1.6-1.5 1.6 .3 1.6 .1 1.6 2.4 1.6-1.3 1.6 .5 1.6-1 1.6 2.9 1.6-2 1.6 .6 1.2 2.6 0-2 .5-1.4 .5 .2 .5 1.8 .5-2 .5-2.8 .5 2.4 .5-5.1 .5-1.6 .5 1.9 .5-1.3 .5 3.4 .5 1.1 .5 .4 .5 .5 .5 .1 .5 4.2 .5-4.3 .5 5.1 .5-.7 .5-.8 .5 .4 .5-4.2 .5 3.3 1.7-1.8 1.6 .2 1.6-6 1.6 3.8 1.6-.5 1.6-3.2 1.6 4.1 1.6 1.6 1.6-.6 1.6 2.6 1.6 .7 1.6-1.7 1.6-.2 1.6 1.3 1.6-3.9 1.6 1.6 1.6 .5 1.6-3.2 1.6 0 1.6-1.1 1.6 1.1 1.6-4 1.6 0 1.6 2.1 1.6 1.2 1.6 3.6 1.6 1.6 1.6-.6 1.6 1.8 1.6-2.5 1.6 0 1.6-1.8 1.6 4.5 1.6-1.3 1.6-1.1 1.6-2.3 1.6 .6 1.6 2.6 1.6-.7 1.6 2.1 1.6-1.3 1.6-1.3 1.6-.6 1.6 2.2 1.6 2.9 1.6 .8 1.6-4.4 1.6 2.4 1.6-1.8 1.6 1.9 1.6-5 1.6 4 1.6-1.9 1.6 5.5 1.6-3.2 1.6 1.2 1.6-1.1 1.6-2.8 1.6 2.7 1.6 .3 .6-2"/>
<path d="M9,103.6l1.6-3 1.6-2.5 1.6-1.2 1.6 2 1.6 3 1.6 1.1 1.6-2.2 1.6 1.5 1.6 .3 1.6-.8 1.6-2.8 1.2 2 0-3.7 .5 1 .5 .2 .5-.4 .5-2.9 .5 1.4 .5 .1 .5-1.4 .5-1.9 .5 .5 .5-.4 .5 .4 .5 1.6 .5 1.3 .5-1.1 .5 2 .5-.1 .5 .5 .5-1.4 .5 2.6 .5-.6 .5 .8 .5 1.2 .5-.6 1.7-.2 1.6-2.4 1.6-2.2 1.6 1.6 1.6 .1 1.6-.2 1.6 1.4 1.6-2.4 1.6 1.3 1.6-3.5 1.6-1.4 1.6 3.2 1.6-3.1 1.6-.3 1.6 2.3 1.6 2.2 1.6 2 1.6-1.2 1.6 2 1.6-1.2 1.6-2.5 1.6 1.1 1.6-.9 1.6 2.5 1.6-3.3 1.6 1 1.6 .9 1.6 2.6 1.6-1 1.6-1.9 1.6 .7 1.6-1.1 1.6 4.8 1.6-7.5 1.6-.6 1.6 .4 1.6 1.1 1.6 2.2 1.6 2.6 1.6-1.5 1.6 .3 1.6 .3 1.6 .5 1.6-2.2 1.6 2 1.6-1.8 1.6-.4 1.6-.2 1.6-.6 1.6 0 1.6-2.9 1.6 2.4 1.6-3 1.6-.3 1.6 3.6 1.6 2.1 1.6 1 1.6 .6 1.6 1.6 1.6-3.9 .6 2.2"/>
<path d="M9,94.1l1.6-1.7 1.6-.5 1.6 1 1.6 2.2 1.6 1.7 1.6-2.4 1.6-.1 1.6 2.6 1.6 1.6 1.6-2.3 1.6 3 1.2-4 0 3.2 .5-1.8 .5-4.6 .5 3 .5-1.9 .5-.5 .5-1.4 .5 .7 .5-1.5 .5 .9 .5 1.1 .5 .3 .5-.6 .5-.4 .5-.4 .5-.6 .5-.9 .5 4.3 .5-1.7 .5 1.6 .5-2.2 .5 3 .5 1.4 .5-2.8 1.7 1.2 1.6-2 1.6 .3 1.6-1.2 1.6-3.5 1.6 5 1.6 .3 1.6 .3 1.6 2 1.6-1.1 1.6-.5 1.6-1.4 1.6 6.3 1.6-6.5 1.6 2.2 1.6 .3 1.6 3.1 1.6-.8 1.6 .6 1.6-3.5 1.6 2.3 1.6 2.8 1.6-2.3 1.6-1 1.6 2.6 1.6-1.2 1.6 1 1.6 .4 1.6-2.5 1.6 1.2 1.6 1.8 1.6-3.2 1.6-.4 1.6-1 1.6 1.1 1.6 .1 1.6-2.5 1.6 1.5 1.6 2.3 1.6-5.6 1.6 4.1 1.6-.5 1.6-4.3 1.6-.5 1.6 1.6 1.6 3 1.6-3.3 1.6 1.2 1.6 .4 1.6 0 1.6 3.8 1.6-2.5 1.6-2 1.6 2.8 1.6 .9 1.6-2.5 1.6 2.3 1.6-1.1 1.6-1 1.6 .8 .6 3"/>
<path d="M9,96.6l1.6 1.8 1.6-1.5 1.6 .5 1.6-1.5 1.6 .6 1.6 .5 1.6-3.4 1.6 2.8 1.6-.9 1.6 .6 1.6-1 1.2-1.6 0 .7 .5 1.2 .5-3.9 .5 3.1 .5 .5 .5-.1 .5-1.1 .5-.6 .5 .8 .5-1 .5 3 .5-2.2 .5 .1 .5 1.9 .5-1 .5 .5 .5 2.5 .5-.1 .5-1.8 .5-2 .5 .8 .5 1.3 .5-4.5 .5 1.3 1.7-.5 1.6-3.2 1.6 4 1.6-2.6 1.6-1.8 1.6 1.5 1.6 3.2 1.6 2.7 1.6-.6 1.6 1 1.6 .4 1.6 3.8 1.6 .1 1.6-4.4 1.6 2.8 1.6 .9 1.6-1.5 1.6 .8 1.6 0 1.6-2.9 1.6 3.2 1.6-2.4 1.6 1 1.6-1.8 1.6-1.1 1.6 2 1.6-1.9 1.6 1.9 1.6-1.6 1.6 2.7 1.6-4.7 1.6 1.7 1.6-1.2 1.6-.4 1.6 2.2 1.6-2.7 1.6 2.2 1.6 2 1.6-1.6 1.6-2.2 1.6 0 1.6 1.1 1.6 1 1.6-3.1 1.6 .9 1.6 1.1 1.6-.4 1.6 1.7 1.6 .7 1.6 2.3 1.6-3 1.6 .9 1.6-.2 1.6-2.8 1.6-.5 1.6-.8 1.6-3.6 1.6 .5 1.6-2 1.6 .2 .6-.8"/>
<path d="M9,90.3l1.6 2.2 1.6-.7 1.6 1.7 1.6-2.1 1.6 .9 1.6 .9 1.6 1.9 1.6 .6 1.6 .2 1.6-1.9 1.6-1.5 1.2 .4 0 .7 .5-2.6 .5 1 .5-1.3 .5 3.3 .5-.2 .5-2 .5 2.9 .5-1.6 .5-.6 .5 1.2 .5-.5 .5-2.3 .5 .8 .5-1.1 .5 3.5 .5-1 .5 1.8 .5-2.6 .5-.7 .5 3.9 .5-.3 .5-3.5 .5 4.5 1.7-2.5 1.6 4.1 1.6-1.3 1.6-1.4 1.6 1 1.6 .5 1.6-4.1 1.6 6.3 1.6-1.2 1.6 2.1 1.6-5.7 1.6 6 1.6-1.2 1.6-2 1.6 4.8 1.6-2.4 1.6-3.4 1.6-.3 1.6 1.8 1.6 1.4 1.6-2.5 1.6-2 1.6 3.4 1.6-4.2 1.6 2.9 1.6-1.3 1.6-1.5 1.6-.9 1.6-.1 1.6 .8 1.6 2.1 1.6-2.5 1.6-1.5 1.6 3.4 1.6-.7 1.6-1.8 1.6 1.7 1.6-2 1.6 2.6 1.6-3.3 1.6-1.1 1.6 .4 1.6 .9 1.6 .1 1.6-1 1.6 .3 1.6-1 1.6 1.6 1.6 4.1 1.6-2.4 1.6-.6 1.6 1.2 1.6 .5 1.6 1.7 1.6-.7 1.6 3.7 1.6-3.1 1.6 1 1.6 2.7 1.6-2.8 .6 1.7"/>
<path d="M9,94.1l1.6 1.5 1.6 7.6 1.6-8.6 1.6 4.3 1.6-3 1.6-1.4 1.6-1.2 1.6 2.8 1.6-2.4 1.6-.2 1.6 2.1 1.2-5.8 0-1.8 .5 3.5 .5 1.8 .5-2.3 .5 2 .5-.6 .5-1.4 .5-1.9 .5 1.5 .5 1.6 .5-1 .5-.7 .5 .9 .5-.4 .5 1.7 .5-1.5 .5 3.5 .5-1.7 .5 0 .5-2.9 .5-.2 .5 3.8 .5 .1 .5 4.4 1.7-4.1 1.6-.2 1.6 3.1 1.6-4.8 1.6 3.6 1.6-2.3 1.6-2.5 1.6 1.8 1.6 2.9 1.6 .3 1.6-.3 1.6-1.2 1.6 1.5 1.6 .1 1.6-.7 1.6 2.2 1.6-1.6 1.6-3.7 1.6 0 1.6-1 1.6 1.6 1.6 1.3 1.6 .9 1.6-2.3 1.6-1.1 1.6-.5 1.6-.7 1.6 5.9 1.6-3.3 1.6-.2 1.6 4.1 1.6-4 1.6 1.1 1.6 1.2 1.6-3.5 1.6 1.4 1.6 8.3 1.6-4.3 1.6-3.4 1.6 2.8 1.6 1.1 1.6 1.3 1.6-1.2 1.6-2.1 1.6 1.5 1.6 1.3 1.6-3.6 1.6-1.6 1.6-.5 1.6-2.4 1.6 5.9 1.6-1.6 1.6-.6 1.6 .6 1.6 1.8 1.6-2.7 1.6-1.7 1.6 3.9 1.6-5.9 1.6 3 .6 2.5"/>
<path d="M9,100.9l1.6-5.7 1.6-.2 1.6 1.3 1.6 2.1 1.6 .6 1.6-3.9 1.6 3.7 1.6 1.1 1.6 4.5 1.6-4 1.6-1.2 1.2 0 0 2.7 .5 1.1 .5-.7 .5-1 .5-1.7 .5 .8 .5-.3 .5 4 .5-4.7 .5-2 .5 .8 .5 .1 .5-3.6 .5 3.2 .5 0 .5-.4 .5-2.2 .5 1 .5 .8 .5 .8 .5-1.1 .5-2.9 .5 3.3 .5 1.4 1.7-2.9 1.6-3.8 1.6 6.4 1.6 .9 1.6-1 1.6 0 1.6 3.4 1.6 0 1.6-1.1 1.6-.2 1.6 .6 1.6 1.2 1.6-1.9 1.6-2.6 1.6 .6 1.6 1 1.6 .2 1.6-1.7 1.6 2.3 1.6-2.2 1.6 3 1.6 1.4 1.6-1.3 1.6-1.1 1.6 .8 1.6-4.9 1.6 5.8 1.6-4.5 1.6-.9 1.6 .3 1.6-1.8 1.6 1 1.6-1.1 1.6 .1 1.6 2 1.6-1.1 1.6-1.4 1.6 1.1 1.6-.8 1.6 3.3 1.6-3.7 1.6 .9 1.6 3 1.6-3.9 1.6 .2 1.6 .2 1.6-3.8 1.6 3.3 1.6 1.7 1.6-.8 1.6 1.3 1.6-2 1.6 2.1 1.6-.3 1.6 .7 1.6-2.2 1.6 1.2 1.6 1.8 1.6-2.1 1.6 1.8 .6 1.5"/>
<path d="M9,95.5l1.6-1.6 1.6 1.9 1.6-1.7 1.6 2.5 1.6-2.4 1.6 .1 1.6 1.4 1.6-1.4 1.6 1.6 1.6-3.5 1.6-.9 1.2 2.7 0-1 .5-2 .5-1.1 .5 .5 .5 .9 .5-.6 .5-1.5 .5 .3 .5 2.3 .5 1.1 .5 1 .5-3.2 .5 .1 .5 3.3 .5-.9 .5 2.3 .5 .6 .5-1.9 .5 .4 .5-2.3 .5-.1 .5 3.6 .5 2.1 .5-6.1 1.7 .5 1.6 1.6 1.6 2.1 1.6-4 1.6 3.2 1.6 2.4 1.6-5.6 1.6 2 1.6 3.2 1.6 .8 1.6-3 1.6 2.8 1.6 .1 1.6-3.8 1.6 1.9 1.6-.9 1.6 .2 1.6 .7 1.6-2.2 1.6-1.3 1.6 1 1.6 .5 1.6 2.2 1.6 2.3 1.6-1.8 1.6 .1 1.6 .6 1.6 2.2 1.6-1.4 1.6 .1 1.6-1.3 1.6 .8 1.6-.8 1.6 2.3 1.6-1.8 1.6 1.8 1.6-1.2 1.6-.2 1.6-3.1 1.6 2.5 1.6-1.1 1.6 3.1 1.6-1.1 1.6-.1 1.6-1 1.6 2.3 1.6-5.6 1.6 4.2 1.6-1.9 1.6-1.2 1.6 .1 1.6 .7 1.6 .1 1.6 .8 1.6-3.4 1.6-.5 1.6 2.7 1.6 .2 1.6-3.3 1.6 .8 .6 1.9"/>
<path d="M9,91l1.6-1.1 1.6-3.1 1.6 3.2 1.6-2.2 1.6 4.2 1.6-4.7 1.6-.4 1.6 3.8 1.6-2 1.6 5.6 1.6-3 1.2 3.9 0-1.8 .5 1.6 .5 1.5 .5-1.4 .5 1.9 .5-3.2 .5 2.5 .5-2.2 .5-5.4 .5 5 .5-3.7 .5-2.4 .5 1.9 .5 0 .5 1.8 .5 .8 .5 1.4 .5-3.4 .5 3.3 .5-1.1 .5-1.2 .5 1.4 .5-.3 .5 2.4 1.7-1.3 1.6 .9 1.6-1.1 1.6 0 1.6 .2 1.6-2.6 1.6 .8 1.6-.2 1.6-.5 1.6-.5 1.6 2.5 1.6 1.1 1.6 2.6 1.6-2.4 1.6 .3 1.6-2.2 1.6 1.8 1.6 2.2 1.6 1.1 1.6-2.5 1.6 1.9 1.6 .2 1.6 .9 1.6-2.1 1.6-2.1 1.6 1.7 1.6 2.1 1.6-2.7 1.6 1.3 1.6-1.2 1.6 .6 1.6-1.5 1.6 4.1 1.6-3.6 1.6 .7 1.6 0 1.6-2 1.6-2.1 1.6 .2 1.6-1.3 1.6 1.4 1.6-1.7 1.6 2.5 1.6-2.9 1.6 1.3 1.6-2.6 1.6-1.4 1.6 2.8 1.6 2.6 1.6 .6 1.6 1 1.6-2.2 1.6 .6 1.6 1.2 1.6-.5 1.6 1.8 1.6 .7 1.6 .2 1.6-3 1.6 3.7 .6-5.9"/>
<path d="M9,100.4l1.6-4.2 1.6-1.5 1.6-.1 1.6 1.1 1.6-1.3 1.6 1.1 1.6 .2 1.6-1.7 1.6 3.6 1.6 2 1.6-5.8 1.2 2.8 0-.7 .5-1.1 .5 .7 .5-2.5 .5 2.6 .5-2.5 .5-1.5 .5 2.2 .5-.7 .5 2.2 .5-2.3 .5-1 .5 3.7 .5-2.9 .5 .1 .5 1.9 .5-3.3 .5 1 .5-.7 .5 5.1 .5-4.3 .5 .2 .5 .4 .5 5.5 1.7-1 1.6-2.9 1.6-.2 1.6 4.8 1.6-5.5 1.6 .6 1.6-1.8 1.6 5 1.6-5.8 1.6-1.4 1.6 2.6 1.6 .2 1.6-1 1.6-.8 1.6-1.9 1.6 1.4 1.6 4.5 1.6-6.2 1.6 4.7 1.6 1.5 1.6-1.9 1.6-1.8 1.6 1.5 1.6-.1 1.6-4.5 1.6 3.2 1.6-2.8 1.6-2 1.6 5 1.6-3.3 1.6 1.6 1.6-2.8 1.6 4 1.6-.7 1.6-1.4 1.6-.8 1.6 .5 1.6 1.8 1.6-1 1.6-.3 1.6 3.1 1.6 0 1.6 1.5 1.6 .1 1.6-3.1 1.6 2.6 1.6-1.4 1.6-.5 1.6 2.8 1.6-.5 1.6 1.3 1.6-1.5 1.6 1.8 1.6-1.6 1.6 .5 1.6 1.4 1.6 1.1 1.6-3.4 1.6-2.6 1.6 .9 .6 4.9"/>
<path d="M9,97.7l1.6 3.6 1.6-3.9 1.6 1.2 1.6-.9 1.6 .5 1.6-3.1 1.6 6.1 1.6-.7 1.6-2.5 1.6 2 1.6-1.8 1.2 1.2 0-1.7 .5-2.7 .5 1.3 .5-.4 .5-.8 .5-2.7 .5 2.5 .5 1.1 .5-.2 .5-1.4 .5 5 .5-2 .5 2.2 .5 .1 .5-.1 .5 2.2 .5-1.6 .5-.4 .5-1.5 .5 3.1 .5 .6 .5-1.3 .5-.6 .5 .4 1.7 1.8 1.6-2.2 1.6 .8 1.6 .7 1.6-.9 1.6 .6 1.6 .2 1.6-1.9 1.6 3.3 1.6-4.8 1.6 .7 1.6-.1 1.6-.8 1.6-2.2 1.6 1.5 1.6-2 1.6 1 1.6 .8 1.6 0 1.6-1.5 1.6-.7 1.6 4.5 1.6-3.3 1.6 3.9 1.6-3.5 1.6 2.5 1.6 2.9 1.6-3.6 1.6-.3 1.6 3.5 1.6 .6 1.6-1.8 1.6-1.4 1.6-2.3 1.6 .7 1.6 .2 1.6-2.7 1.6-2.6 1.6 4.1 1.6-4 1.6-.4 1.6 1.6 1.6 3 1.6-3.2 1.6 3 1.6 4 1.6-1.4 1.6-.2 1.6-.2 1.6-.7 1.6 5.3 1.6-4.3 1.6 2.4 1.6 1.3 1.6-3 1.6 0 1.6 1.2 1.6-2.4 1.6 .7 1.6-1 .6-.2"/>
<path d="M9,96.5l1.6-.9 1.6-2.5 1.6 2.9 1.6-1.2 1.6 .4 1.6-2.3 1.6 1.8 1.6-4.6 1.6 0 1.6 1.4 1.6-.7 1.2-3.4 0 1.1 .5 2.3 .5-.7 .5-1.1 .5 1.1 .5 .9 .5 .6 .5 1.9 .5 .9 .5-2 .5 5.2 .5-3.6 .5-1.3 .5 2.7 .5-3.8 .5-2.7 .5-.9 .5 .9 .5-.2 .5-1.7 .5 2.7 .5-.1 .5 4.5 .5-.3 1.7-.9 1.6 4.3 1.6-1 1.6-2.2 1.6 3.8 1.6 2.6 1.6-2.5 1.6-1.6 1.6 .5 1.6-1.9 1.6 1 1.6-1.4 1.6-1.8 1.6 1.2 1.6 .8 1.6-2.8 1.6 1.2 1.6-.9 1.6-1.7 1.6 .6 1.6 2.8 1.6-1.4 1.6 1.3 1.6-4 1.6 4 1.6-4.2 1.6 6 1.6-2.9 1.6 .9 1.6-2.7 1.6 1 1.6-1.6 1.6 .3 1.6 2 1.6-1 1.6-.1 1.6-.1 1.6 2.2 1.6-1.1 1.6 1.1 1.6-3.9 1.6-.7 1.6 1.3 1.6 1 1.6-3.3 1.6 3.7 1.6-1.3 1.6 1.6 1.6-.1 1.6-.9 1.6-1 1.6 .8 1.6 2.1 1.6-4.8 1.6 3.3 1.6-.1 1.6 .7 1.6 1.5 1.6 1.3 1.6 0 .6 2.7"/>
<path d="M9,92.1l1.6-3.8 1.6-.1 1.6-.1 1.6 4 1.6-1.5 1.6 1.6 1.6 1.6 1.6-4.5 1.6 1.5 1.6-4 1.6 5 1.2-.4 0 1.7 .5 .9 .5-3.2 .5 4.9 .5-.8 .5-1.1 .5 1.2 .5 2.5 .5-2.6 .5 3.4 .5-1.6 .5-.9 .5-1.6 .5 .2 .5 3.6 .5-1.9 .5 .3 .5-.1 .5 .8 .5-.6 .5-2.3 .5 .8 .5-1.1 .5 1 1.7-3.6 1.6 2.3 1.6 2.8 1.6-4.2 1.6 1.2 1.6 1.8 1.6-2.4 1.6 2.4 1.6 .3 1.6 .7 1.6-1.3 1.6-.1 1.6-1.5 1.6 .9 1.6-.1 1.6 .4 1.6 .7 1.6 .3 1.6 .3 1.6-.3 1.6 .1 1.6-.7 1.6 2.4 1.6 1.4 1.6-2.7 1.6 2.2 1.6-1.1 1.6-.1 1.6-1.6 1.6 1.1 1.6 1.1 1.6-.6 1.6 .2 1.6-3 1.6-2.8 1.6 4.9 1.6-1.3 1.6 1.3 1.6 2.1 1.6-1.3 1.6-5.5 1.6 2.7 1.6 .1 1.6 3.3 1.6-4.3 1.6 .7 1.6 2.4 1.6-5 1.6 2.1 1.6-1.5 1.6 .3 1.6 2.4 1.6-1 1.6-.6 1.6-.1 1.6-.8 1.6 .6 1.6 1.1 1.6-2.1 1.6 1.9 .6-.8"/>
<path d="M176.5,87.1l1.6 4 1.6-1.1 1.6 1.9 1.6 .1 1.6-2.3 1.6 1.2 1.6-.3 1.6 1.3 1.6 2.3 1.6-2.8 1.6-1.2 1.3 5.3 0-6.1"/>
<path d="M201.4,35.7l.5-.9 .5-1.2 .5-2.2 .5-.2 .5-.9 .5-1.7 .5-.9 .5-.7 .5-.8 .5-.7 .5 .1 1.6-.7 1.6-.9 1.6-.2 1.6-.2 1.6-.1 1.6-.1 1.6-.1 1.6 .9 1.6-.2 1.6 .6 1.6 1.4 1.6 .3 1.6 1.8 1.6 .8 1.6 2.1 1.6 2.6 1.6 1.6 1.6 1.5 1.6 2.2 1.6 3.7 1.6 1.5 1.6 3.7 1.6 2.2 1.6 1.9 1.6 2.7 1.6 3.4 1.6 1.7 1.6 1.5 1.6 4 1.6 1.7 1.6 2.6 1.6 3.5 1.6 2 1.6 3 1.6 .3 1.6 1.3 1.6 1.6 1.6 2.3 1.6-.6 1.6 1.6 1.6 0 1.6 .9 1.6 1.7 1.6 5 1.6-3.7 1.6 1.9 1.6 .5 1.6 .4 1.6 1 1.6 3.7 1.6-3.3 1.6 3.3 1.6-1.7 1.6-2.9 1.6-.2 1.6-.4 1.6-1.9 1.6 2.8 1.6-2.1 1.6-.5 .6-3.2"/>
<path d="M176.5,95.7l1.6 1.1 1.6 2.3 1.6-1.4 1.6 2.5 1.6-.4 1.6 .2 1.6-3.3 1.6 2.6 1.6 1.7 1.6-.9 1.6 .6 1.3 .5 0-5"/>
<path d="M201.4,37.1l.5-1.9 .5 .1 .5-2.7 .5-.5 .5-.7 .5-.7 .5-1.3 .5-.3 .5-.4 .5-.4 .5-.8 1.6-.8 1.6-.3 1.6 .2 1.6-1.3 1.6 .6 1.6 .2 1.6-1 1.6 1.1 1.6 .1 1.6 0 1.6 1.1 1.6 1.3 1.6 .7 1.6 1.7 1.6 1.2 1.6 2.1 1.6 2.6 1.6 2.3 1.6 3.6 1.6 1.5 1.6 2 1.6 4.4 1.6 3 1.6 2.6 1.6 2.5 1.6 2.4 1.6 3.1 1.6 5.3 1.6 2.1 1.6 2 1.6 3 1.6 1.5 1.6 1.4 1.6 2.6 1.6 2.2 1.6-.8 1.6 1.5 1.6 .6 1.6 2.9 1.6 2.6 1.6-1.9 1.6 1.3 1.6 .5 1.6 3 1.6 0 1.6 1.4 1.6 .9 1.6 4.1 1.6-1 1.6-.5 1.6 .4 1.6 2.1 1.6-.1 1.6-1.5 1.6-3.9 1.6 4.7 1.6 .2 1.6-.4 1.6-.5 1.6-.5 .6 1.8"/>
<path d="M176.5,90l1.6 3.8 1.6-.7 1.6-.5 1.6-.2 1.6-.9 1.6 2.6 1.6-3.3 1.6 .1 1.6 2.5 1.6-.8 1.6-1.5 1.3-2.2 0 0"/>
<path d="M201.4,35.8l.5-1.2 .5-1.5 .5-.2 .5-1.2 .5-1.2 .5-.5 .5 .1 .5-1.4 .5-.7 .5 .4 .5-1.6 1.6-.7 1.6 .2 1.6-.9 1.6-.8 1.6 .2 1.6-.4 1.6 .5 1.6 .4 1.6-.5 1.6 1.5 1.6 .7 1.6 .8 1.6 .5 1.6 1.7 1.6 1.8 1.6 1.9 1.6 2.1 1.6 .1 1.6 3.1 1.6 2 1.6 3.1 1.6 3.1 1.6 4.7 1.6 .9 1.6 4 1.6 2.3 1.6 2.9 1.6 4.8 1.6-.4 1.6 4.6 1.6 4.2 1.6 3.9 1.6-3.1 1.6 1.1 1.6 .9 1.6 2.3 1.6 1.6 1.6 .8 1.6 2.4 1.6-1.5 1.6 1.6 1.6-2.5 1.6 2.1 1.6 1.3 1.6-3.1 1.6 4.4 1.6 1.6 1.6-1.1 1.6 .5 1.6-.2 1.6-1.9 1.6 2.1 1.6-1 1.6 1.1 1.6-.1 1.6 0 1.6-2.6 1.6 2 1.6 3 1.6-1.4 .6-2"/>
<path d="M176.5,94.3l1.6-1.5 1.6 .4 1.6 .2 1.6 .4 1.6 .1 1.6 1.4 1.6 .6 1.6-1.7 1.6-.7 1.6 .8 1.6-.2 1.3 2.4 0-4.7"/>
<path d="M201.4,35.2l.5-1.9 .5-1.3 .5 .1 .5-.1 .5-1.5 .5-.7 .5-1.1 .5-.1 .5 0 .5-1.9 .5 .6 1.6-2 1.6 .6 1.6-.6 1.6-.7 1.6 0 1.6 .3 1.6-1 1.6 .7 1.6-.2 1.6 .1 1.6 1.1 1.6-.3 1.6 1.8 1.6 .9 1.6 2.2 1.6 2.2 1.6 1 1.6 3.3 1.6 2.5 1.6 2 1.6 3 1.6 3.7 1.6 2.3 1.6 4.1 1.6 .5 1.6 2.8 1.6 5.6 1.6 .3 1.6 5.9 1.6 1.4 1.6 3.4 1.6 1.1 1.6 3.8 1.6 2.3 1.6 1.4 1.6 .4 1.6-1.4 1.6 4.6 1.6-.2 1.6 3 1.6-3.2 1.6 4.1 1.6-.4 1.6 1.6 1.6 2.2 1.6 .6 1.6 1.5 1.6-1.1 1.6 .4 1.6-.1 1.6-2.3 1.6 3.9 1.6-2.9 1.6 .6 1.6 1.8 1.6-1.7 1.6 .4 1.6-3.3 1.6 2.6 1.6-.6 .6 .5"/>
<path d="M176.5,94.1l1.6 2.3 1.6 2 1.6-.9 1.6-.2 1.6-3.4 1.6 1.3 1.6-1.1 1.6-1.1 1.6-1.6 1.6 3.8 1.6-1.4 1.3-.4 0 3"/>
<path d="M201.4,35.4l.5-2.7 .5-1.3 .5-.1 .5-.8 .5-.8 .5-.3 .5-1.4 .5-.4 .5-.3 .5-.8 .5 .4 1.6-.9 1.6-.6 1.6-.2 1.6 .1 1.6 .3 1.6-.6 1.6 .4 1.6 .2 1.6 .1 1.6 .4 1.6 .6 1.6 1.1 1.6 .9 1.6 1.5 1.6 1.4 1.6 1.5 1.6 1.9 1.6 2.1 1.6 3.5 1.6 2.2 1.6 3.6 1.6 3.8 1.6 2.9 1.6 1.6 1.6 3.7 1.6 5.5 1.6-1.1 1.6 5.4 1.6-.4 1.6 3.6 1.6 3.3 1.6-.5 1.6 4.6 1.6-2.5 1.6 4.5 1.6 .8 1.6 2.8 1.6 1.8 1.6 1.8 1.6 1 1.6-1.2 1.6 .3 1.6 3.1 1.6-.5 1.6-1.5 1.6 .7 1.6 3.5 1.6 .7 1.6 1.4 1.6 .5 1.6-2.7 1.6 2.9 1.6-3 1.6 1.7 1.6-1.9 1.6 1.3 1.6-3.1 1.6-2.2 1.6 .2 1.6 .7 .6 1.4"/>
<path d="M176.5,89.1l1.6 2.5 1.6 1.4 1.6-2.4 1.6-1.4 1.6 4.6 1.6-3.9 1.6-1.5 1.6 .8 1.6 1.3 1.6-6.6 1.6 2.6 1.3 2.7 0-.2"/>
<path d="M201.4,32.8l.5-1.4 .5-2.1 .5-.9 .5-.8 .5-.5 .5-.7 .5-.8 .5-.4 .5 .1 .5-.5 .5-.1 1.6-1.2 1.6 .2 1.6-.1 1.6-.2 1.6-.4 1.6-.3 1.6 .7 1.6 0 1.6-.2 1.6 0 1.6 .8 1.6 1.1 1.6 1.6 1.6 1.2 1.6 1.4 1.6 2 1.6 1.8 1.6 3.8 1.6 .8 1.6 3.8 1.6 1.7 1.6 3.6 1.6 .3 1.6 4.2 1.6 1.4 1.6 2.9 1.6 3.2 1.6 2.5 1.6 3.7 1.6 3.9 1.6 5.3 1.6 .4 1.6 1.2 1.6 4.9 1.6 2.9 1.6-3.9 1.6 5.2 1.6-1.8 1.6-.1 1.6 4.1 1.6 1.7 1.6 .9 1.6-2.4 1.6-.4 1.6 1.1 1.6 .8 1.6 .8 1.6 1.3 1.6-.9 1.6 1.1 1.6 .3 1.6-.7 1.6 2.5 1.6 2.1 1.6-1 1.6-4.6 1.6 5.8 1.6-3.8 1.6 5.1 1.6 .2 .6-1.8"/>
<path d="M176.5,90.2l1.6 4.4 1.6-.8 1.6 1.8 1.6 3.9 1.6 .7 1.6-3.5 1.6-1.6 1.6-.1 1.6-1.5 1.6-.9 1.6-2.2 1.3-2.3 0 3.9"/>
<path d="M201.4,37.1l.5-3 .5-.2 .5-1.5 .5-.2 .5-2.2 .5 0 .5-.2 .5 .2 .5-1.2 .5-.9 .5-.1 1.6-.3 1.6-1.3 1.6 .2 1.6-.2 1.6-.1 1.6 .2 1.6-.3 1.6 .5 1.6 .2 1.6 .8 1.6 .3 1.6 .8 1.6 .9 1.6 1.7 1.6 1.4 1.6 3.2 1.6 .3 1.6 3.8 1.6 2.4 1.6 2.6 1.6 1.7 1.6 4.4 1.6 .3 1.6 1.1 1.6 3.2 1.6 2.3 1.6 4.8 1.6 1.5 1.6 2 1.6 2.9 1.6 3.8 1.6 2.2 1.6 2.7 1.6 3.5 1.6-1.6 1.6 2.5 1.6 2.8 1.6-1.1 1.6 4.5 1.6 2.5 1.6-.7 1.6 2.2 1.6-.8 1.6 1.4 1.6 1.2 1.6 .2 1.6 2.7 1.6-2 1.6 2.6 1.6-1.8 1.6 3.5 1.6-.3 1.6-1.7 1.6-2.9 1.6 .7 1.6-2.9 1.6 5.7 1.6-2 1.6-.5 1.6 1.3 .6-2.7"/>
<path d="M176.5,96.2l1.6 .7 1.6-3.8 1.6 4.2 1.6-1.2 1.6-.9 1.6-1.4 1.6 2.5 1.6 1.7 1.6-.7 1.6 .2 1.6-.5 1.3 .4 0-2.9"/>
<path d="M201.4,36.4l.5-.7 .5-1.2 .5-1.1 .5-1 .5-1 .5-.9 .5-.1 .5-1.3 .5 .4 .5-1.4 .5 0 1.6-.6 1.6-1.2 1.6 .5 1.6 0 1.6-.8 1.6 .3 1.6 .3 1.6-.1 1.6 .2 1.6-.5 1.6 1.1 1.6 1.5 1.6 .2 1.6 1.6 1.6 2.2 1.6 1.9 1.6 1.4 1.6 2.5 1.6 2.9 1.6 2.6 1.6 3.9 1.6 2.1 1.6 2.3 1.6 2.8 1.6 3.8 1.6 5.1 1.6 .2 1.6 2.5 1.6 2.6 1.6 4.1 1.6 1.1 1.6 1.1 1.6 3.3 1.6 1.5 1.6 3.7 1.6 1.9 1.6-2 1.6 .5 1.6 2.8 1.6-1.2 1.6-.3 1.6 2.1 1.6-2.6 1.6 2.7 1.6 2.6 1.6-5.3 1.6 3.6 1.6-.4 1.6 3.3 1.6 .4 1.6-2 1.6 2.1 1.6-.4 1.6 3.8 1.6-2.8 1.6 1.3 1.6 1.5 1.6-2.6 1.6-1.5 1.6-.5 .6 0"/>
<path d="M176.5,94.6l1.6-.6 1.6 1.4 1.6-2.8 1.6 4.8 1.6-.7 1.6-3.2 1.6-1 1.6-3 1.6 3.9 1.6-1.3 1.6 .2 1.3-2.6 0 4.3"/>
<path d="M201.4,36.9l.5-1.4 .5 0 .5-2.2 .5-.6 .5-.2 .5-1.6 .5-.6 .5-.7 .5-.2 .5-.8 .5 .4 1.6-1 1.6 0 1.6-.2 1.6-.3 1.6 0 1.6-.2 1.6 .3 1.6 .2 1.6-.1 1.6 .6 1.6 .1 1.6 .8 1.6 1.3 1.6 .5 1.6 1.9 1.6 1 1.6 3 1.6 2.4 1.6 .9 1.6 2.5 1.6 2.3 1.6 3.7 1.6 1.8 1.6 3.2 1.6 1.8 1.6 2.5 1.6-.2 1.6 2 1.6 5.8 1.6 3.5 1.6-2 1.6 2.1 1.6 4.7 1.6 2.9 1.6-2.7 1.6 2 1.6 3.7 1.6 .5 1.6 1.5 1.6 2.3 1.6-1.2 1.6 2.1 1.6 5.5 1.6-3.4 1.6 5.2 1.6-1.2 1.6 3.7 1.6-2 1.6 0 1.6 2.2 1.6-1.9 1.6-.1 1.6-3.8 1.6 5 1.6-.9 1.6 2.5 1.6-1.8 1.6-.6 1.6 4.6 1.6-1.9 .6-.3"/>
<path d="M176.5,96.8l1.6 1.4 1.6-2.7 1.6-.5 1.6 .1 1.6-.2 1.6-.7 1.6 2.6 1.6-2.4 1.6-1.9 1.6 1.3 1.6-3.1 1.3 2.9 0 .1"/>
<path d="M201.4,37.7l.5-2.3 .5-1.4 .5-1.5 .5-.7 .5-.8 .5-.9 .5-1.4 .5-.2 .5 .4 .5-1 .5-.5 1.6-.9 1.6-.7 1.6-.4 1.6 .4 1.6 .1 1.6-.4 1.6 .2 1.6 .2 1.6 0 1.6 .6 1.6-.4 1.6 1.5 1.6 1.4 1.6 1.2 1.6 1 1.6 1.6 1.6 3.7 1.6 1 1.6 2.8 1.6 2 1.6 2.7 1.6 3.9 1.6 3.6 1.6 2.5 1.6 3 1.6 4.3 1.6 1.8 1.6 2.6 1.6 2.1 1.6 3.1 1.6 1.5 1.6 1.9 1.6 1.8 1.6 2.6 1.6 3.4 1.6 .2 1.6 .9 1.6 6.3 1.6 .1 1.6-.6 1.6-.5 1.6 5.5 1.6-2.1 1.6 1.9 1.6-3.5 1.6 5.9 1.6 1 1.6-1.7 1.6 0 1.6 .3 1.6-1.9 1.6-.1 1.6 3.2 1.6-2.5 1.6 .2 1.6-.6 1.6 1.1 1.6-1.9 1.6 .4 1.6-.4 .6-2.7"/>
<path d="M176.5,95.2l1.6-2.8 1.6 .4 1.6 1.1 1.6-1.4 1.6-2.9 1.6 .5 1.6-.2 1.6 .2 1.6-2.6 1.6 4.1 1.6 4.5 1.3-4.9 0 .4"/>
<path d="M201.4,34.5l.5-.1 .5-2 .5-.7 .5-1.5 .5-.8 .5-1.7 .5-.6 .5 .9 .5-1.2 .5-.3 .5 .5 1.6-.9 1.6-.3 1.6 .2 1.6-.5 1.6-.2 1.6-.1 1.6-.6 1.6 .6 1.6 0 1.6 .2 1.6 1.7 1.6-.2 1.6 1.4 1.6 1.5 1.6 1.9 1.6 2.7 1.6 1.8 1.6 3.1 1.6 3.9 1.6 .9 1.6 2.5 1.6 2.9 1.6 4.3 1.6 2.1 1.6 2.9 1.6 2.3 1.6 2.8 1.6 5.6 1.6 2.8 1.6-.1 1.6 2.6 1.6 3 1.6 2.2 1.6 3.8 1.6 2.3 1.6-.9 1.6-.3 1.6 3.4 1.6 1.4 1.6-4 1.6 3.2 1.6-1.4 1.6 .5 1.6 .7 1.6 4.2 1.6-1.1 1.6-1.2 1.6 1.5 1.6 1.2 1.6-2.6 1.6 3.8 1.6-2.4 1.6 .6 1.6 4.1 1.6-8 1.6 7.1 1.6 .1 1.6-2.4 1.6 2.4 1.6-1.6 .6-1.2"/>
<path d="M176.5,91.6l1.6-1.6 1.6 2.1 1.6-1.7 1.6 3.4 1.6-2.3 1.6 1.7 1.6 6 1.6-12 1.6 7.1 1.6 .6 1.6 1.1 1.3 .1 0-.7"/>
<path d="M201.4,36.3l.5-2.4 .5-.7 .5-1.6 .5-.6 .5-1.4 .5-.8 .5-.3 .5-.3 .5-.7 .5-.3 .5-.5 1.6-.1 1.6-.7 1.6-.4 1.6 .8 1.6-.9 1.6 .9 1.6-.4 1.6 .2 1.6 .7 1.6-.7 1.6 .5 1.6 .7 1.6 1.6 1.6 1.9 1.6 .9 1.6 1.7 1.6 2 1.6 1.7 1.6 2.4 1.6 1.1 1.6 1.6 1.6 3.4 1.6 2.7 1.6 4.2 1.6 1.9 1.6 1.4 1.6 5.2 1.6 2.4 1.6 .9 1.6 5.9 1.6 .2 1.6 1.1 1.6 2.6 1.6 3.3 1.6 1.1 1.6-.7 1.6 5.4 1.6-1.6 1.6-.2 1.6 1.5 1.6 1.2 1.6 2.8 1.6 .3 1.6-4.6 1.6 3.3 1.6 1.6 1.6 1.4 1.6 2.3 1.6 .3 1.6-2.3 1.6 5.1 1.6-1.6 1.6-4.5 1.6 4.7 1.6-1.4 1.6-2.9 1.6 2.6 1.6 1.1 1.6-.5 1.6-1.3 .6 1.2"/>
<path d="M176.5,95.2l1.6-1.1 1.6 .5 1.6 3.1 1.6-.8 1.6 1.5 1.6-2.8 1.6 3.6 1.6-2.5 1.6 1.2 1.6-2.1 1.6 .5 1.3-.6 0 2.3"/>
<path d="M201.4,36.8l.5-3.1 .5-.9 .5-.9 .5-.7 .5-.9 .5-1 .5-.6 .5-.2 .5-.1 .5-.8 .5 .1 1.6-.6 1.6-.7 1.6-.1 1.6 0 1.6 .7 1.6-.8 1.6 .1 1.6-.2 1.6-.5 1.6 .6 1.6-.2 1.6 .9 1.6 2 1.6 1.2 1.6 2.2 1.6 2.3 1.6 3.3 1.6 1.4 1.6 2.9 1.6 1.2 1.6 5.5 1.6 1.8 1.6 2.4 1.6 4.1 1.6 1.8 1.6 1.7 1.6 2.1 1.6 3.8 1.6 2.4 1.6 .7 1.6 1.6 1.6 4.8 1.6-1.8 1.6 .7 1.6 3.8 1.6-.5 1.6 0 1.6 3.7 1.6 0 1.6 4.7 1.6-.8 1.6 2.4 1.6 2 1.6 .4 1.6 2.1 1.6-2.6 1.6 1.1 1.6 1.6 1.6 2 1.6-1.2 1.6-.3 1.6-.1 1.6-2.5 1.6-1.3 1.6 0 1.6 4.5 1.6-4.3 1.6 1.8 1.6 4.7 1.6-.7 .6 4.3"/>
<path d="M176.5,88.7l1.6 3 1.6-2.6 1.6 4.5 1.6 1.1 1.6-1.3 1.6 3.6 1.6-.1 1.6-1.3 1.6 2.6 1.6-2.6 1.6 .9 1.3-2.9 0 3.8"/>
<path d="M201.4,34.8l.5-2.6 .5-.8 .5-.4 .5-1.3 .5-.6 .5 .2 .5-.9 .5-.4 .5-.4 .5-.5 .5-.3 1.6-.6 1.6-.2 1.6-.4 1.6-.1 1.6 .4 1.6-.4 1.6 .3 1.6-.1 1.6 .3 1.6-.3 1.6 .5 1.6 1.6 1.6 .9 1.6 1.5 1.6 .5 1.6 3.5 1.6 .5 1.6 3.1 1.6 .5 1.6 2.1 1.6 .8 1.6 4.2 1.6 2 1.6 1.9 1.6 3.3 1.6 1.4 1.6 4 1.6 2.3 1.6 2.4 1.6 1.3 1.6 2.2 1.6 4.7 1.6 .5 1.6 2.1 1.6 1.7 1.6 1.4 1.6 0 1.6 4.1 1.6 .1 1.6 .7 1.6 4.1 1.6 2.8 1.6-3.4 1.6 1.7 1.6-2.2 1.6 4.3 1.6-1 1.6 1.6 1.6 .6 1.6-1.8 1.6 1.7 1.6-1.3 1.6 .8 1.6-.5 1.6-2.7 1.6 .7 1.6-1.4 1.6-.2 1.6 3.9 1.6 1.7 .6-.9"/>
<path d="M176.5,93.8l1.6 2.6 1.6-1.7 1.6-2.4 1.6 2.2 1.6-1 1.6 .2 1.6-.6 1.6-1.4 1.6 .3 1.6-1.4 1.6-2.5 1.3 2 0-.1"/>
<path d="M201.4,35.2l.5-.9 .5-1.4 .5-1.6 .5-.1 .5-1.2 .5-.9 .5 .6 .5-.7 .5-.8 .5-1 .5 .3 1.6-1.2 1.6-.3 1.6-.5 1.6-.1 1.6-.7 1.6 .4 1.6 0 1.6 .3 1.6-1.1 1.6 1.6 1.6 .7 1.6 .2 1.6 1 1.6 2.2 1.6 .5 1.6 2.7 1.6 2.9 1.6 2.9 1.6 2.1 1.6 2.2 1.6 2.6 1.6 2.9 1.6 3.5 1.6-.2 1.6 4.4 1.6 2.8 1.6 1.7 1.6 2.7 1.6 3.6 1.6 .4 1.6 1.8 1.6 4.3 1.6 .2 1.6 1.5 1.6 .8 1.6 3.8 1.6 0 1.6 3.5 1.6 3.3 1.6 0 1.6 2.2 1.6 2.4 1.6 2 1.6 2.3 1.6 .3 1.6-.4 1.6 .1 1.6-.5 1.6-1 1.6-3.5 1.6 4.8 1.6-2.2 1.6 3 1.6-4.7 1.6-1.1 1.6 1.9 1.6 2.7 1.6-2.3 1.6-.1 1.6 2.8 .6-1.8"/>
<path d="M176.5,94.1l1.6 1.3 1.6-.4 1.6 2.5 1.6-7 1.6 7.6 1.6-2.6 1.6 2.4 1.6-5.7 1.6 4.4 1.6 5.3 1.6-5.8 1.3 3.5 0-2.8"/>
<path d="M201.4,35.2l.5-1.1 .5-1.2 .5-1.1 .5-.9 .5-1.5 .5-.4 .5-.7 .5-.1 .5-.8 .5-.3 .5-.5 1.6-1.3 1.6 0 1.6-.4 1.6 .1 1.6-.6 1.6 .4 1.6-.7 1.6 .4 1.6-.1 1.6 .1 1.6 .3 1.6 .7 1.6 2.7 1.6 0 1.6 2.7 1.6 1.1 1.6 2.5 1.6 2.3 1.6 1.7 1.6 3 1.6 1.3 1.6 4.1 1.6 2.9 1.6 1.1 1.6 3.5 1.6 2.9 1.6 2.6 1.6 2.7 1.6 1.9 1.6 3.1 1.6 1.3 1.6 2 1.6 3.6 1.6 0 1.6 1.5 1.6 1.3 1.6 3.4 1.6-1.9 1.6 5 1.6 2.3 1.6-2.4 1.6 1.6 1.6 2.9 1.6-2.8 1.6 .4 1.6 2.7 1.6-.7 1.6 4.4 1.6-5.9 1.6-.9 1.6 3.3 1.6-.8 1.6-2 1.6 3.7 1.6-1.3 1.6 3.8 1.6-6.6 1.6 .8 1.6 2.6 1.6 .1 .6 4.2"/>
<path d="M176.5,98.1l1.6-5.2 1.6 .4 1.6-.8 1.6-2.7 1.6 3.8 1.6-7.7 1.6 2.4 1.6-2 1.6 2.7 1.6 1.7 1.6-.5 1.3-3.8 0 1.7"/>
<path d="M201.4,34.7l.5-2.7 .5-.8 .5-1.3 .5-.6 .5-.4 .5-1.6 .5 .5 .5-1.3 .5 .1 .5-1.1 .5 .2 1.6-.7 1.6-.3 1.6 .3 1.6-.5 1.6-.4 1.6 0 1.6-.3 1.6-.3 1.6 .1 1.6 .8 1.6 .2 1.6 .8 1.6 1.7 1.6 .5 1.6 1.9 1.6 1.6 1.6 3.3 1.6 2.3 1.6 1.8 1.6 3.4 1.6 3.2 1.6 2.9 1.6 5.3 1.6 1.7 1.6 2.6 1.6 3.5 1.6 2.6 1.6-.8 1.6 2.7 1.6 2.7 1.6-1.6 1.6 5 1.6 .6 1.6 .9 1.6 2.4 1.6 2.7 1.6 1 1.6 .3 1.6 1.6 1.6 2.3 1.6-1.2 1.6 2.9 1.6-1.2 1.6 1.4 1.6 1.7 1.6-.8 1.6-2.1 1.6 2.5 1.6-1.9 1.6 1.3 1.6 .7 1.6 1.4 1.6-.7 1.6 4.6 1.6-1.2 1.6 1.2 1.6 .2 1.6 1.4 1.6-1.7 1.6 1.3 .6 3"/>
<path d="M176.5,98.3l1.6-.1 1.6-.6 1.6 1.8 1.6 1.1 1.6-5 1.6 1.3 1.6 .8 1.6-1.2 1.6-1.5 1.6 1.2 1.6-3.8 1.3 2.8 0-4.1"/>
<path d="M201.4,35.1l.5-1.8 .5-1.2 .5-.7 .5-.7 .5-1.3 .5 .3 .5-.8 .5-1.5 .5-.1 .5 .6 .5-1.7 1.6-.4 1.6-.3 1.6-1.2 1.6 .7 1.6-.5 1.6 0 1.6-.1 1.6 .5 1.6 .3 1.6 .7 1.6 .1 1.6 1.1 1.6 1.8 1.6 1.2 1.6 2.3 1.6 1.4 1.6 2.3 1.6 2.9 1.6 2.4 1.6 1.4 1.6 2.6 1.6 4.6 1.6 2.1 1.6 3.4 1.6 2.6 1.6 .7 1.6 5.3 1.6 6.6 1.6-1.2 1.6 1.3 1.6 1.9 1.6 4 1.6 3.2 1.6-1.9 1.6 5.3 1.6 1.5 1.6-.8 1.6 4.5 1.6-3 1.6 .6 1.6 1.9 1.6 2.1 1.6-1.2 1.6 .6 1.6 2.6 1.6-2.4 1.6 2 1.6 5 1.6-2.9 1.6 2.2 1.6-.5 1.6 1.4 1.6-1 1.6-.4 1.6-2.2 1.6 2.9 1.6 .4 1.6-1.7 1.6 1.5 1.6 1 .6-.1"/>
<path d="M176.5,89l1.6 2.6 1.6-2.3 1.6 2.3 1.6 3.5 1.6-2.2 1.6-1.5 1.6 1.6 1.6 .7 1.6-.1 1.6 1.1 1.6-3.8 1.3 3.4 0-1.5"/>
<path d="M201.4,37.2l.5-1 .5-1.8 .5-1.3 .5-.6 .5-1.7 .5-.8 .5-.3 .5-.7 .5-.5 .5-.7 .5-.2 1.6-.7 1.6-.2 1.6-.1 1.6-.1 1.6-.7 1.6 .7 1.6-.7 1.6 .6 1.6 0 1.6 .2 1.6 .9 1.6 .9 1.6 1.9 1.6 1.9 1.6 1.7 1.6 2.1 1.6 2.5 1.6 2 1.6 2.3 1.6 2.9 1.6 3.1 1.6 .5 1.6 4.9 1.6 3.1 1.6 1.5 1.6 7.2 1.6 2.4 1.6 2.5 1.6 3.5 1.6 4.4 1.6 1.3 1.6 3.4 1.6 .4 1.6 1.3 1.6 1.4 1.6-.5 1.6 3.1 1.6-1.3 1.6 3.4 1.6-1.1 1.6-.8 1.6 5.8 1.6-6.1 1.6 .1 1.6 5.5 1.6-3.7 1.6 4 1.6-1.1 1.6-.5 1.6 1.5 1.6-1.5 1.6-1.7 1.6 3.8 1.6 2.9 1.6-4.2 1.6 .6 1.6-1.3 1.6 4.2 1.6-3.6 1.6-.2 .6 5.1"/>
<path d="M176.5,100.7l1.6-2.4 1.6 3.8 1.6-1.8 1.6 .8 1.6-2.1 1.6 1.2 1.6 2.2 1.6-1.4 1.6-.2 1.6-2.2 1.6 1.3 1.3 .2 0 .3"/>
<path d="M201.4,39.3l.5-.7 .5-1.9 .5-1.9 .5-1 .5-.9 .5-1.4 .5-.6 .5 .2 .5-.8 .5-.5 .5-.1 1.6-1 1.6-.6 1.6-.3 1.6 0 1.6-.8 1.6 .5 1.6 .1 1.6 .5 1.6 .1 1.6 0 1.6 .5 1.6 .9 1.6 1.5 1.6 .3 1.6 2.3 1.6 1.3 1.6 2.8 1.6 2.2 1.6 .6 1.6 2.7 1.6 4.6 1.6 2.5 1.6 2.5 1.6 1.9 1.6 1.3 1.6 2.4 1.6 4.4 1.6 3.4 1.6 3 1.6 .6 1.6 1.7 1.6 5.1 1.6 5.6 1.6 1.7 1.6-1.1 1.6 .4 1.6 3.6 1.6-1.3 1.6 4.3 1.6-2.6 1.6 4.6 1.6-4 1.6 .9 1.6-.6 1.6 2.9 1.6 1.4 1.6 .9 1.6 .7 1.6-1 1.6 3.7 1.6 2.5 1.6-1 1.6 2.4 1.6-3.3 1.6-.5 1.6 2.2 1.6-4.7 1.6-.4 1.6 .9 1.6 1.7 .6-2.7"/>
<path d="M176.5,90.4l1.6 3 1.6-3 1.6 2.8 1.6 2.6 1.6-.8 1.6-4.1 1.6-1.1 1.6 5.6 1.6-3.5 1.6 3.8 1.6-1.6 1.3 1.1 0-1.7"/>
<path d="M201.4,34.2l.5-1.4 .5-.1 .5-1.9 .5-.9 .5-.7 .5-.6 .5-.1 .5-.9 .5-.4 .5-.2 .5-.5 1.6-1.3 1.6-.8 1.6-.2 1.6 .1 1.6 0 1.6-.4 1.6 .4 1.6-.2 1.6-.8 1.6 .6 1.6 .5 1.6 1 1.6 .7 1.6 1.6 1.6 1.2 1.6 2.6 1.6 2.1 1.6 3.8 1.6 2.7 1.6 3.5 1.6 2.4 1.6 2 1.6 5.2 1.6 1 1.6 4.6 1.6 3.4 1.6 1.9 1.6 1.9 1.6 2.8 1.6 1.3 1.6 3.3 1.6 .6 1.6 3.5 1.6-.5 1.6-.6 1.6 4.8 1.6 1 1.6 3.7 1.6 2.6 1.6-1.2 1.6-.7 1.6-1 1.6 7.3 1.6-2.6 1.6 4.5 1.6-5.1 1.6 7.6 1.6-3.2 1.6 2.4 1.6-1.9 1.6 1.3 1.6 .3 1.6-2.8 1.6 1.2 1.6-3 1.6-.6 1.6 .5 1.6 1.1 1.6 .5 1.6-1.2 .6 1.8"/>
<path d="M176.5,90.3l1.6 .9 1.6-1.3 1.6 2.9 1.6-1.4 1.6-3.6 1.6 2.4 1.6-4.5 1.6 0 1.6 .9 1.6-2.3 1.6 3.3 1.3 1.6 0-.2"/>
<path d="M201.4,33.4l.5-2.5 .5-1 .5-1 .5-.8 .5-.8 .5-.7 .5-.4 .5-.6 .5-.1 .5-.3 .5-.9 1.6 .2 1.6 .2 1.6-1 1.6 .8 1.6-.7 1.6 .1 1.6 .6 1.6 0 1.6-.4 1.6 .9 1.6 .3 1.6 .8 1.6 1 1.6 1 1.6 2.2 1.6 1.8 1.6 1.7 1.6 2.9 1.6 1.8 1.6 3.4 1.6 2 1.6 2.3 1.6 2.9 1.6 3.4 1.6 3.7 1.6-.2 1.6 3.4 1.6 1.1 1.6 2 1.6 2.4 1.6 1.5 1.6 5.1 1.6 .2 1.6 .6 1.6 1.9 1.6 2.9 1.6 1.5 1.6 .7 1.6 1.6 1.6 4.7 1.6-3 1.6 3.8 1.6-4.3 1.6 6.4 1.6 2 1.6 1 1.6-1.4 1.6 .5 1.6 4 1.6-5.4 1.6-.2 1.6 1.5 1.6 1.2 1.6-5.3 1.6 2.9 1.6 1.2 1.6 3.6 1.6-2.2 1.6-.8 1.6-.1 .6 3.3"/>
<path d="M176.5,90.1l1.6-.4 1.6 2 1.6 1.5 1.6-1.9 1.6-.9 1.6 2.2 1.6-.9 1.6-.3 1.6 1.2 1.6 1.3 1.6 2.8 1.3-3.7 0 1.6"/>
<path d="M201.4,35.3l.5-1.1 .5-1 .5-1 .5-1.7 .5 .1 .5-1.3 .5-1.2 .5-.1 .5 .4 .5-1.3 .5-.1 1.6-.8 1.6-.3 1.6-.1 1.6 .6 1.6-.2 1.6 .3 1.6-.5 1.6 .4 1.6-.4 1.6 .5 1.6 .8 1.6 1.2 1.6 .4 1.6 2 1.6 .9 1.6 2.2 1.6 2.6 1.6 1.8 1.6 3.3 1.6 3.2 1.6 2.1 1.6 4.9 1.6 1.6 1.6 2.2 1.6 2.2 1.6 4.9 1.6 2.7 1.6 2.5 1.6 2 1.6 3.8 1.6 .8 1.6 4.3 1.6 1.7 1.6 .4 1.6 1.1 1.6 .8 1.6 .3 1.6 .3 1.6 1.8 1.6-4.6 1.6 7.3 1.6 1.3 1.6-2.9 1.6 5.1 1.6-.6 1.6 .8 1.6-3 1.6 .9 1.6 3 1.6 2.2 1.6 1.3 1.6-.6 1.6 .9 1.6 .2 1.6-.9 1.6 .6 1.6-1.5 1.6 .3 1.6 2.4 1.6-4.4 .6-1.7"/>
<path d="M176.5,94.1l1.6 .3 1.6 1.5 1.6-1.3 1.6 4.3 1.6-5.9 1.6 .5 1.6 1.1 1.6-3.9 1.6 .6 1.6 1.2 1.6-.2 1.3-1.7 0 .8 .5 2.2 .5 1.1 .5-1.7 .5-.3 .5 2.3 .5-2.5 .5 2.7 .5 .6 .5-3.1 .5 2.2 .5-.5 .5-2.6 .5 1.7 .5-2.9 .5 3.4 .5-4.2 .5 2.9 .5-1.6 .5-3 .5 4.2 .5-1 .5 3.5 .5-.7 1.6 .7 1.6 .6 1.6 1.4 1.6-1.2 1.6-.9 1.6 .4 1.6 3 1.6-4.2 1.6-1 1.6-2.8 1.6 1 1.6 .7 1.6-3.8 1.6 .2 1.6 3.3 1.6-3.9 1.6 2.7 1.6 2.8 1.6-.6 1.6-1.2 1.6 5 1.6-1.8 1.6-2.6 1.6 .5 1.6-2 1.6 .1 1.6 .6 1.6 2.4 1.6-3.7 1.6-.5 1.6 1.6 1.6-3.1 1.6 2.2 1.6-.4 1.6-2.4 1.6 1 1.6-3.5 1.6 4.6 1.6-4.1 1.6 5.3 1.6-1.1 1.6 .2 1.6 5.9 1.6-2.9 1.6 2.4 1.6-3.7 1.6-.5 1.6 3.4 1.6-1.4 1.6 2.6 1.6-1.5 1.6-.1 1.6 2.9 1.6-2.4 1.6-.3 1.6 3.4 1.6-1.6 1.6 .6 1.6-2.9 1.6 2.1 .6-4.7"/>
<path d="M176.5,95.1l1.6 1.2 1.6-2.5 1.6 1.9 1.6-1.4 1.6 1.7 1.6 .9 1.6-1.3 1.6-.6 1.6 2.1 1.6-4.2 1.6 3.1 1.3-2 0 1.4 .5-.1 .5 2.1 .5-1.4 .5 1.1 .5-1.3 .5-2.3 .5 4.6 .5 1.7 .5-2.6 .5 2.8 .5-1.9 .5 3.6 .5-.8 .5-3.9 .5 3.5 .5-1.2 .5-2.5 .5-1.8 .5 1.7 .5 3.4 .5-.6 .5-4.5 .5 .4 1.6 .7 1.6-1.7 1.6 7 1.6-3.6 1.6 .7 1.6 .3 1.6-2.5 1.6 .4 1.6-.5 1.6 1.7 1.6 1.1 1.6-4.2 1.6 4.4 1.6-.2 1.6 0 1.6-3.9 1.6-2.2 1.6 .5 1.6 .6 1.6 3.7 1.6-3.6 1.6-1.7 1.6 1.5 1.6-2.8 1.6 .8 1.6 1.7 1.6 3.4 1.6-2.6 1.6-3.5 1.6 5.1 1.6-2.5 1.6-3.1 1.6 4.2 1.6-3.3 1.6-.7 1.6 .3 1.6 2.7 1.6-1.9 1.6 1.7 1.6-1.2 1.6-1.3 1.6-.2 1.6 3 1.6 1.4 1.6 .4 1.6-1.8 1.6 1.2 1.6 1.4 1.6-.4 1.6 .7 1.6-2.6 1.6 1.3 1.6-.1 1.6 3.7 1.6-2.5 1.6-1.5 1.6-.4 1.6 1.3 1.6 1.7 1.6-1 .6-3.2"/>
<path d="M176.5,87.1l1.6 1.5 1.6 1.1 1.6-1.5 1.6 .6 1.6 1.2 1.6 1.2 1.6-1.1 1.6 1.4 1.6 2.4 1.6 1.5 1.6-2.3 1.3-2.7 0 .4 .5 .5 .5 1.7 .5-3.6 .5-1.8 .5 .2 .5 3 .5-2.5 .5-1.2 .5-.9 .5 1 .5 2.1 .5-1.6 .5 2.3 .5-.3 .5 2.8 .5-.8 .5 .2 .5 .2 .5 2 .5-1 .5-.4 .5 .3 .5-2.5 1.6-.9 1.6 1.9 1.6 .4 1.6-.5 1.6-.5 1.6 1.1 1.6-3.2 1.6 .7 1.6 1.6 1.6 1.5 1.6-.4 1.6-3.6 1.6 3.5 1.6-2.3 1.6 3.9 1.6-1.1 1.6 1.4 1.6-3.2 1.6 2.5 1.6 4.1 1.6-3.2 1.6-3.2 1.6 3.5 1.6-2.6 1.6 4.5 1.6-3 1.6-1.9 1.6 2.1 1.6-1.6 1.6-.7 1.6-3.2 1.6 .6 1.6 5 1.6-4.4 1.6 3.2 1.6-4.6 1.6 5.5 1.6 .1 1.6-.4 1.6-1 1.6-2.4 1.6 .1 1.6 1.4 1.6 .1 1.6-5.3 1.6 5.6 1.6-1.6 1.6 .4 1.6-.5 1.6-.8 1.6-1.9 1.6 .5 1.6 .4 1.6 2.4 1.6 .6 1.6 3.8 1.6 1.4 1.6 1 1.6-3.2 1.6 3.1 .6-2.6"/>
<path d="M176.5,90.8l1.6-.6 1.6-.6 1.6-.5 1.6-.4 1.6 .3 1.6-1.3 1.6-2.2 1.6 2.6 1.6 1.6 1.6-1.7 1.6 2.7 1.3 1.6 0-.7 .5 2.5 .5-2.1 .5-.5 .5-1.2 .5-.6 .5 1.4 .5 .5 .5 .2 .5-1.8 .5 1.3 .5 4.7 .5-4.1 .5 2.6 .5-4 .5 1.5 .5-.7 .5 .7 .5-.1 .5-1.5 .5-.3 .5-2.3 .5 2.4 .5-2.5 1.6 .9 1.6-3.1 1.6 1.9 1.6-1.2 1.6 .1 1.6 1.6 1.6 1.3 1.6-3.4 1.6 2.6 1.6-1 1.6 4.4 1.6-.7 1.6-5 1.6-1.1 1.6 4.8 1.6-2.6 1.6-1.4 1.6 5.2 1.6 .8 1.6-5 1.6 3.6 1.6-.7 1.6 1.7 1.6 1 1.6 .9 1.6-1.8 1.6 3.3 1.6 .1 1.6-1.9 1.6 2.9 1.6-2 1.6-1.5 1.6 .8 1.6-.7 1.6-.1 1.6 1 1.6-2.3 1.6 2.7 1.6-3.9 1.6 1.9 1.6 1.4 1.6 2.1 1.6 .7 1.6 .6 1.6-4 1.6-.3 1.6-.3 1.6 .1 1.6-.5 1.6-.4 1.6 1.5 1.6-4.6 1.6 .2 1.6 .4 1.6 .7 1.6 .4 1.6 4.3 1.6-3.5 1.6 1.5 1.6-2 .6 1.9"/>
<path d="M176.5,93.2l1.6 .2 1.6 2.3 1.6-5.3 1.6 4.1 1.6-.9 1.6-1.5 1.6-.4 1.6 2.2 1.6-1.2 1.6 .8 1.6 0 1.3 2.1 0-1.9 .5-.7 .5 2.5 .5-2.2 .5 1.5 .5-.7 .5 .4 .5 3.5 .5-3.1 .5 3.8 .5-3.9 .5 4.1 .5-5.9 .5 .4 .5-.7 .5 .7 .5-2.3 .5 2.4 .5-1.8 .5-1.5 .5 3.7 .5-4.9 .5-1.4 .5 4.5 1.6-4.6 1.6 .4 1.6 .8 1.6 1.4 1.6-2.6 1.6 1.6 1.6 3.5 1.6-4.8 1.6 2.4 1.6-.5 1.6-.4 1.6-2.3 1.6 3.9 1.6-4.5 1.6 .5 1.6 3.2 1.6-4.1 1.6 3 1.6-3 1.6 1.3 1.6 .3 1.6 4.4 1.6-1.1 1.6-2.2 1.6-.3 1.6 1.2 1.6 3.3 1.6-6.2 1.6 .3 1.6-1.9 1.6 2.7 1.6-1.6 1.6 .7 1.6 2.8 1.6 3 1.6-2.1 1.6 1.4 1.6-.7 1.6-2 1.6 5.6 1.6-1.4 1.6 2.3 1.6-3.7 1.6 1.1 1.6 1.6 1.6-1.6 1.6 .6 1.6-4 1.6 2.4 1.6-.7 1.6 .9 1.6-4.2 1.6 1.4 1.6-.1 1.6 .3 1.6-.3 1.6-.5 1.6 2.9 1.6-.9 1.6-1 .6 .2"/>
<path d="M176.5,95.3l1.6 3.2 1.6-.8 1.6-3.5 1.6 2.6 1.6-4.2 1.6 2.4 1.6-2.8 1.6 3.1 1.6-2.5 1.6 4 1.6-1.5 1.3 2.1 0-1.4 .5 .4 .5-1.1 .5 2.4 .5-2 .5 5.5 .5-3.7 .5-.6 .5 1.8 .5-2.7 .5-.3 .5-.7 .5 4.8 .5-1.5 .5 2 .5-4.1 .5-1.1 .5 4.5 .5 3.1 .5-1 .5 .6 .5 .5 .5-.7 .5 .7 1.6-.1 1.6-1.8 1.6-.4 1.6-2.4 1.6 1.1 1.6 2.1 1.6-2.1 1.6 2.4 1.6-1.9 1.6 1.6 1.6-2.4 1.6 4.4 1.6-4.9 1.6 .7 1.6 .1 1.6-4 1.6 1.4 1.6 1.5 1.6-1.7 1.6-1 1.6-.2 1.6-.5 1.6 3.2 1.6 0 1.6-4.4 1.6 4.1 1.6-.4 1.6-.1 1.6 2.9 1.6-7.3 1.6 8.7 1.6-6.1 1.6 1.6 1.6-4.6 1.6 2.5 1.6 .4 1.6-2.5 1.6 1.1 1.6 1.3 1.6 .3 1.6 2.7 1.6 .3 1.6 1.9 1.6-4.3 1.6 3.7 1.6-1.5 1.6 .9 1.6 .3 1.6-2.1 1.6 .6 1.6 .9 1.6-.2 1.6 .7 1.6 2.1 1.6-4.2 1.6 .1 1.6 1.9 1.6 2.5 1.6-3.6 1.6-2.1 .6 1.1"/>
<path d="M176.5,96.6l1.6-.5 1.6-1.5 1.6 3.8 1.6-.9 1.6-1.4 1.6-2.6 1.6 2.4 1.6 0 1.6-3.3 1.6-.7 1.6-3.2 1.3 3.9 0 2.8 .5-2.4 .5 .6 .5 .2 .5-3.1 .5 4.5 .5-1.6 .5-2.8 .5 3.4 .5-6.2 .5 5.2 .5 1 .5 1.2 .5-1.9 .5 1.9 .5-3.3 .5 .3 .5 2.4 .5 3.1 .5-.8 .5-.1 .5-1.6 .5 2.6 .5-2.7 1.6 .9 1.6 2.2 1.6 .3 1.6-.6 1.6 .1 1.6 .3 1.6 .2 1.6 1.2 1.6 1.9 1.6-4.3 1.6-2.5 1.6 1.6 1.6-.2 1.6 1.7 1.6 .8 1.6-1.1 1.6-1.7 1.6-1.8 1.6 2.7 1.6-2.9 1.6-1.7 1.6-.7 1.6 1.9 1.6 .7 1.6-1.9 1.6-.7 1.6 .2 1.6-2.6 1.6-.5 1.6 2.6 1.6 .1 1.6 2.6 1.6-2.7 1.6-2.1 1.6 4.7 1.6 .9 1.6 1.7 1.6 1 1.6 .1 1.6-2.1 1.6 1.9 1.6-2.8 1.6 2.6 1.6-2.4 1.6 2.8 1.6-2.8 1.6 4 1.6-2.9 1.6-1.7 1.6 4.1 1.6-1.4 1.6-2.1 1.6 .1 1.6 .1 1.6 .6 1.6-1.1 1.6-1.6 1.6 3.2 1.6-2.4 1.6-1.7 .6-2"/>
<path d="M176.5,91.8l1.6-.8 1.6 .6 1.6 .5 1.6 .2 1.6 .1 1.6 .1 1.6 3.1 1.6-3.5 1.6-.5 1.6 .8 1.6 2.7 1.3-1.7 0-1.2 .5 2.4 .5-1.6 .5-1.6 .5 1.3 .5 2.2 .5-.9 .5 .4 .5 .2 .5-.7 .5-2 .5 1.9 .5 3.8 .5-3.7 .5 5.7 .5-2.7 .5-2.2 .5 1.2 .5 2.5 .5-4.3 .5 3.9 .5-2.8 .5 4.9 .5-4.8 1.6 5 1.6-4.6 1.6 1.7 1.6 1.4 1.6-2.6 1.6-.3 1.6-1.4 1.6 2.2 1.6 .4 1.6-.8 1.6-1.7 1.6 1.3 1.6-2.9 1.6 5.1 1.6-.1 1.6-4.1 1.6 0 1.6 4.5 1.6 .6 1.6 .3 1.6-4 1.6 1.3 1.6-3 1.6 2.7 1.6-2.5 1.6-1.4 1.6 3.2 1.6 .5 1.6-1.9 1.6-1.9 1.6-1.6 1.6-1.1 1.6 .1 1.6 2.1 1.6-1.1 1.6-2.7 1.6 4.4 1.6 .6 1.6-2.9 1.6 3.3 1.6-.1 1.6-3.3 1.6 4.5 1.6-2.1 1.6-.6 1.6 3.4 1.6 3.1 1.6 .4 1.6-3.2 1.6-.7 1.6 .8 1.6 2.3 1.6-3.8 1.6 .1 1.6-4 1.6-2.1 1.6 3.1 1.6 3.7 1.6-5.7 1.6 2.7 .6 3"/>
<path d="M176.5,94.5l1.6-4.4 1.6 2.2 1.6-1.2 1.6 3.3 1.6-3.5 1.6 1.9 1.6-1.7 1.6 3.5 1.6 .2 1.6-5.4 1.6 2.8 1.3-.8 0 3 .5-4.1 .5 1.6 .5 1.9 .5-3.1 .5 1.1 .5-1.2 .5-.8 .5-2.5 .5 1.6 .5 .7 .5-.5 .5 .5 .5-2.3 .5 0 .5 1.2 .5 1 .5 .9 .5-1.3 .5-1.7 .5 2.5 .5 .9 .5 0 .5-.1 1.6 1.9 1.6 .4 1.6 .4 1.6-1.2 1.6-.9 1.6-1.1 1.6-.8 1.6-1.3 1.6 1 1.6-.5 1.6 1.7 1.6-.7 1.6-.7 1.6 3.5 1.6-1.5 1.6 1.4 1.6-.7 1.6 2.1 1.6 2.9 1.6-4.9 1.6 3.6 1.6 3.1 1.6-3.6 1.6-1.6 1.6 2.5 1.6-2.5 1.6 1.2 1.6-3.2 1.6 4.4 1.6-1.9 1.6-.3 1.6-2.4 1.6-.1 1.6 1 1.6 2.5 1.6 4.1 1.6-7.1 1.6-1.6 1.6 2.4 1.6 0 1.6-1.7 1.6-2.1 1.6-.6 1.6-.2 1.6 4.3 1.6-1 1.6-2.7 1.6 1.7 1.6-3.7 1.6 2.8 1.6 1.1 1.6 1.3 1.6 2 1.6 .1 1.6-1.4 1.6 3.9 1.6 .1 1.6-1.7 1.6 .9 1.6 .8 .6-3.1"/>
<path d="M176.5,94l1.6 1.2 1.6 1.3 1.6-1.2 1.6-.2 1.6-4 1.6 2.7 1.6 .9 1.6 .7 1.6 1.3 1.6-1.5 1.6 2.1 1.3-2.5 0 1.8 .5-4.2 .5 .1 .5-3.5 .5 1.6 .5 .5 .5 1.4 .5-3.4 .5-.7 .5-.8 .5 0 .5 2.2 .5 .7 .5-1.9 .5 2.1 .5-.1 .5-1.4 .5 .4 .5 3.5 .5-.7 .5 1.5 .5 .8 .5 .2 .5 .8 1.6-.9 1.6-.2 1.6-.5 1.6 .5 1.6-1.6 1.6 2.9 1.6-1.2 1.6 1.4 1.6 .8 1.6-2.6 1.6 .7 1.6-1.1 1.6 1 1.6 1.7 1.6-6 1.6 2.9 1.6 3.4 1.6-4.6 1.6 2.3 1.6-1.3 1.6-.7 1.6-.6 1.6 3 1.6-4.1 1.6 .8 1.6-.5 1.6-1.5 1.6 3.1 1.6-1.7 1.6 2.9 1.6-5.9 1.6 2.3 1.6-1.3 1.6 1.3 1.6-2.1 1.6 0 1.6-.8 1.6 2.5 1.6 .3 1.6-2.1 1.6 5.9 1.6-1.8 1.6 1.1 1.6 2.3 1.6 .6 1.6-.2 1.6-1.5 1.6-.9 1.6 4.3 1.6-3.3 1.6-5.6 1.6 4.7 1.6-1.3 1.6-1.4 1.6 0 1.6-.8 1.6-1.8 1.6 3.6 1.6-1 1.6 .2 .6-1"/>
<path d="M176.5,97.9l1.6-2.4 1.6 1.8 1.6-.9 1.6 2.2 1.6-1.1 1.6-2.5 1.6-1.1 1.6-.3 1.6-.2 1.6-1.9 1.6 2.4 1.3-2.6 0 1.6 .5 1.4 .5-4.3 .5 2.8 .5-3.1 .5 5.5 .5 1.1 .5-1.2 .5-.8 .5 4.2 .5-1.1 .5 .6 .5 1 .5-2.3 .5-.3 .5 3.1 .5 0 .5-4.7 .5-.7 .5 1.1 .5 2.5 .5-.5 .5-1.6 .5-3.4 1.6 3.1 1.6-1.4 1.6-2.5 1.6-1.2 1.6 .6 1.6 2.7 1.6-1.9 1.6-3 1.6 2.2 1.6-2.6 1.6 .4 1.6 1.7 1.6-.3 1.6-1 1.6 4 1.6 1.5 1.6-.2 1.6-2.6 1.6 2.4 1.6 2.7 1.6-3.2 1.6 1.2 1.6-2.1 1.6 0 1.6-1 1.6-.6 1.6 1.2 1.6-3.3 1.6 0 1.6-2 1.6 3.8 1.6 0 1.6 .4 1.6 1.1 1.6 .3 1.6-.9 1.6 1.5 1.6 3.2 1.6-2.2 1.6 1.9 1.6-.8 1.6 2.2 1.6-1.4 1.6 .8 1.6 1 1.6-3.1 1.6 1.9 1.6-2 1.6 4.3 1.6-3.9 1.6 4 1.6-3.4 1.6 .4 1.6 2 1.6-4.1 1.6 2.1 1.6-.9 1.6-1 1.6-1.6 1.6 .1 .6 4.5"/>
<path d="M176.5,92.1l1.6-3.5 1.6-1.4 1.6 3.3 1.6-4.6 1.6 1.6 1.6 3.5 1.6-1.4 1.6-2.1 1.6 2.3 1.6-3.4 1.6 .8 1.3 4.2 0 0 .5-3.6 .5 2 .5 .7 .5-1 .5-1.8 .5 1.2 .5 2.9 .5-1.4 .5-1.6 .5-2.7 .5 5.7 .5-.7 .5-3.1 .5 1.8 .5 .5 .5-4.3 .5-.9 .5 .4 .5 3.5 .5-1.1 .5 .2 .5 3.1 .5-2.9 1.6-1.1 1.6 3.5 1.6 .4 1.6 1 1.6-2.2 1.6 1.6 1.6 1.4 1.6-.8 1.6-1.4 1.6 1.9 1.6-.3 1.6-1.3 1.6-.7 1.6-.9 1.6 .3 1.6-4.2 1.6 3 1.6 1.1 1.6-.4 1.6-1.6 1.6-1.8 1.6 4.7 1.6-2.9 1.6 2.3 1.6-3.7 1.6 3 1.6 5.3 1.6-6.5 1.6 2.5 1.6-1.5 1.6 2.9 1.6-.3 1.6 .9 1.6-1.7 1.6 4.6 1.6 0 1.6-.8 1.6-3.1 1.6 2.7 1.6 2 1.6-1.3 1.6 3.4 1.6-3.9 1.6 .6 1.6-1.5 1.6-2.2 1.6 .9 1.6 .6 1.6-.1 1.6 .5 1.6-2 1.6 .8 1.6-2.6 1.6 4.2 1.6-.2 1.6-2.7 1.6 2.2 1.6-.6 1.6-2.3 1.6 1.9 .6-1.7"/>
<path d="M176.5,85.5l1.6 3.6 1.6 1 1.6-1.4 1.6 1.7 1.6-3.4 1.6 2.1 1.6 .6 1.6-.2 1.6 .7 1.6 1.6 1.6 .4 1.3-1.2 0-2.7 .5 .1 .5 .4 .5 2.6 .5-6.9 .5 3.8 .5-4 .5 1 .5 .9 .5 1.6 .5 .3 .5-1.9 .5-1.5 .5 3.2 .5 .4 .5 .6 .5-1.6 .5-.4 .5 3.6 .5 .4 .5-2.9 .5 2.5 .5-1.7 .5-1.8 1.6 1.5 1.6-.2 1.6-2.1 1.6 .7 1.6 1 1.6-.5 1.6-2 1.6 3.3 1.6-1.7 1.6 .7 1.6 1.8 1.6-.2 1.6 .6 1.6 2 1.6 .3 1.6 .6 1.6-2.5 1.6-2.2 1.6 4.6 1.6-2.2 1.6 1.5 1.6-2.3 1.6-1.5 1.6 1.8 1.6 .2 1.6-2.7 1.6 1.6 1.6 .8 1.6-2.8 1.6 1.5 1.6 2.9 1.6-.6 1.6-.3 1.6 .5 1.6-.9 1.6 5.2 1.6-4.1 1.6-2.6 1.6 7.7 1.6-3.7 1.6-.9 1.6 .1 1.6-.7 1.6-1 1.6 2.3 1.6-2.8 1.6-1.8 1.6 5.6 1.6-4.8 1.6-1.4 1.6-.9 1.6-2.6 1.6 .7 1.6 3 1.6-3.9 1.6 .4 1.6-.7 1.6 3 1.6-2.4 1.6 2.3 .6-.2"/>
<path d="M176.5,93.7l1.6 2.7 1.6-1.5 1.6 3.2 1.6-.6 1.6-1.5 1.6 .3 1.6 2.8 1.6-3.9 1.6-1.4 1.6-2.2 1.6 4.7 1.3-4.1 0 2.1 .5-3.5 .5 3.1 .5-3 .5 5.6 .5-2.1 .5-2.3 .5 .9 .5 0 .5 .6 .5 1.8 .5 1.6 .5-2.2 .5 .3 .5-2.4 .5 6.1 .5-7.7 .5 3 .5-1.7 .5-1.3 .5-.8 .5-3.1 .5 1.9 .5 .5 1.6 2.8 1.6-2.2 1.6-.9 1.6-.5 1.6 2.3 1.6 .3 1.6 .2 1.6 1.5 1.6-.7 1.6-2.5 1.6 2.7 1.6 5.3 1.6-.9 1.6-.7 1.6 .9 1.6 1.4 1.6-3 1.6 .1 1.6-.2 1.6-.4 1.6 2 1.6-3.7 1.6 2.9 1.6-1.6 1.6-.1 1.6 .7 1.6 .1 1.6-4.8 1.6-.2 1.6 2.3 1.6-3 1.6-2 1.6 .9 1.6 .6 1.6 2.6 1.6-2.5 1.6 4.9 1.6-1.7 1.6 1.5 1.6 3.2 1.6-1.9 1.6-.2 1.6 2.7 1.6 .7 1.6-.6 1.6 1.8 1.6-3.2 1.6-2.1 1.6 .8 1.6-1.4 1.6-.6 1.6-1.4 1.6-1.6 1.6 1.5 1.6 1.3 1.6-2.7 1.6 3.8 1.6-2.4 1.6-1.9 1.6 3.7 .6-.3"/>
<path d="M176.5,95.7l1.6-2.8 1.6-2.7 1.6 0 1.6 4.6 1.6-4.1 1.6 .9 1.6 1.6 1.6-3.6 1.6 4.5 1.6-2.2 1.6 1.7 1.3-.4 0 2.1 .5-1.7 .5 .9 .5 1.7 .5-2.1 .5 1.2 .5 3.5 .5-1.2 .5 2.2 .5-2.7 .5-.5 .5 3.7 .5-1 .5-5.2 .5 1.2 .5 1 .5-3.6 .5 1.4 .5 3.3 .5 .6 .5-5 .5 2.7 .5-.1 .5 1 1.6-.4 1.6-1 1.6 2 1.6-3.6 1.6 .7 1.6 .1 1.6 .9 1.6 5.1 1.6-4.1 1.6 2.3 1.6-.1 1.6 .2 1.6 4.6 1.6-3.7 1.6 0 1.6 3 1.6-.4 1.6-3.7 1.6 1 1.6 .9 1.6-.2 1.6-1.2 1.6 .8 1.6-1.8 1.6 3.7 1.6-3.3 1.6-.2 1.6-2.2 1.6 2.5 1.6 .2 1.6-3.7 1.6 3 1.6 .9 1.6-3.2 1.6 1.5 1.6 1.3 1.6-.7 1.6 2 1.6-2.2 1.6-1.6 1.6 2.8 1.6-.9 1.6-.2 1.6 2.3 1.6-4.5 1.6 1.2 1.6 1.9 1.6-3.1 1.6-1.5 1.6 3.6 1.6 .3 1.6-4.4 1.6 1.2 1.6 .4 1.6 .4 1.6 3.1 1.6-3 1.6 1.2 1.6 .5 1.6-2.7 .6 2.6"/>
<path d="M176.5,90.5l1.6 4.1 1.6-2.1 1.6 2.8 1.6 .2 1.6 3.3 1.6-2.9 1.6-1.6 1.6 1.5 1.6-1.4 1.6 3.2 1.6-5.5 1.3 1.7 0-2.6 .5 4.2 .5-3.6 .5 .2 .5 2.9 .5-3.5 .5 2.2 .5-1.7 .5 .5 .5 .4 .5-.4 .5 3.2 .5 .1 .5-1.7 .5-1.9 .5 .4 .5-2 .5-1.1 .5-3 .5 1.6 .5-3.2 .5 1.9 .5-.3 .5 1.8 1.6-.1 1.6 0 1.6-1.1 1.6 3.2 1.6 4.1 1.6-1.4 1.6 .3 1.6 2.5 1.6-2.1 1.6-2.5 1.6 2.2 1.6-3 1.6 3.4 1.6-3.8 1.6 .6 1.6 1.5 1.6-2.6 1.6 2.8 1.6 .5 1.6-1 1.6 3.3 1.6-.6 1.6 .9 1.6 0 1.6-2.4 1.6-1.3 1.6 1.4 1.6 3.5 1.6-5.5 1.6 2.1 1.6-2.3 1.6-1.2 1.6 2.4 1.6-4.3 1.6 4.1 1.6-2.6 1.6 .9 1.6 2.1 1.6-2.2 1.6 4.8 1.6-5.4 1.6 2.5 1.6 0 1.6-2.6 1.6 .9 1.6-1.8 1.6 3.8 1.6-.7 1.6-2.8 1.6 1.6 1.6 .2 1.6-1.1 1.6 4.3 1.6-1.2 1.6-2.2 1.6 1.3 1.6-4.3 1.6 3 1.6-3.9 1.6-.8 .6-1.9"/>
<path d="M176.5,91.8l1.6 1.7 1.6 1.5 1.6 .4 1.6-2 1.6 3 1.6 1.5 1.6 2.4 1.6-5.4 1.6 3.3 1.6-3.2 1.6 1 1.3-.8 0 .6 .5 1.8 .5-3.8 .5-1 .5 3.6 .5-.7 .5 .6 .5-.6 .5 1.9 .5-4.1 .5 2.9 .5-.3 .5-1.1 .5 2.2 .5-3.9 .5 .8 .5-1.5 .5 .8 .5 .2 .5 .6 .5-2 .5 3.3 .5 .2 .5 4.4 1.6-2.3 1.6 .4 1.6-.4 1.6-.7 1.6 .1 1.6 2.4 1.6-5.9 1.6 3.3 1.6-1.5 1.6-.8 1.6 .3 1.6-1.1 1.6-1.8 1.6 3.1 1.6-3.3 1.6 3.3 1.6-4 1.6 2.4 1.6 4.4 1.6-.6 1.6-1.8 1.6 1.6 1.6-1.3 1.6 3.3 1.6-1.7 1.6 1.9 1.6 .6 1.6-3.4 1.6 2.1 1.6-3.6 1.6 5.1 1.6-2.3 1.6-2.9 1.6 .5 1.6-3.5 1.6 4.1 1.6-1.1 1.6-.4 1.6 .3 1.6-1.8 1.6 1.5 1.6-1.7 1.6 1.6 1.6-2 1.6 1.9 1.6 1.1 1.6-4.4 1.6 2.2 1.6 3.1 1.6-.7 1.6 2 1.6-.7 1.6 3.8 1.6 .8 1.6-4 1.6 .5 1.6 4.7 1.6-1.7 1.6-2 1.6 2.6 .6 1.6"/>
<path d="M176.5,90.6l1.6 .3 1.6 .9 1.6-3.2 1.6-.8 1.6 4.1 1.6-5.2 1.6-1.1 1.6 2.6 1.6-2.4 1.6 .2 1.6 1.1 1.3 1.4 0-.1 .5 1.2 .5 1.5 .5-.7 .5 2.5 .5-1.9 .5 .8 .5 .9 .5 .3 .5-1.1 .5 .7 .5-2.4 .5 4.8 .5-2.9 .5 2.4 .5-1.2 .5 .2 .5 1.2 .5-.4 .5 .7 .5-1.1 .5-1.9 .5-.5 .5-1.6 1.6 2 1.6 .2 1.6-.2 1.6-1.3 1.6 .9 1.6-.5 1.6 3 1.6-3.9 1.6-2 1.6-.3 1.6-.2 1.6 1.9 1.6-.9 1.6-.4 1.6-.7 1.6 .3 1.6-.4 1.6-1.5 1.6 .9 1.6 1.9 1.6 1.9 1.6-1.9 1.6-1.3 1.6 1.5 1.6-2 1.6 1.5 1.6-.4 1.6 2.6 1.6 1.5 1.6 .8 1.6-2.2 1.6-1.9 1.6 3.6 1.6-.9 1.6 1.5 1.6-1.2 1.6 .9 1.6-1.5 1.6-1.2 1.6 3.2 1.6-4 1.6-.6 1.6 .9 1.6 3.2 1.6-1.9 1.6-.5 1.6-1.2 1.6-.2 1.6 3 1.6-2.3 1.6 3.8 1.6-4 1.6 3.1 1.6 3.8 1.6-1.3 1.6-2.9 1.6 3.7 1.6-3.6 1.6 1 1.6 2.6 .6-.1"/>
<path d="M176.5,88.3l1.6 2.8 1.6-1 1.6-.9 1.6 3.5 1.6 1.4 1.6 1.6 1.6 2.4 1.6-1.6 1.6 1.5 1.6-2.1 1.6 2.5 1.3-4.9 0 .7 .5 .9 .5-2.8 .5 2.7 .5-1.5 .5-1.1 .5-.5 .5 .6 .5 2.2 .5-.5 .5 .7 .5-2.3 .5 .2 .5 .7 .5 .2 .5-1.2 .5-3.1 .5 1 .5 2.5 .5-2.9 .5 1.2 .5-.6 .5 3.1 .5-1.8 1.6 0 1.6 1.4 1.6-3.7 1.6 .2 1.6 3.2 1.6-4.2 1.6 3 1.6-2.8 1.6 4.3 1.6-1.3 1.6 2.7 1.6 4.2 1.6-2.6 1.6 1.3 1.6-.3 1.6-.3 1.6-.8 1.6 1.8 1.6-3.2 1.6 3.6 1.6-2.7 1.6 .1 1.6-1.2 1.6 .9 1.6 2.3 1.6-2.7 1.6-1.2 1.6 .6 1.6-1.8 1.6 2 1.6 .7 1.6-.1 1.6-3.7 1.6 .3 1.6 3.6 1.6-5.4 1.6 1.4 1.6-.8 1.6 .7 1.6-.5 1.6 1.1 1.6 .1 1.6-.7 1.6-2.4 1.6 6.8 1.6-4.7 1.6 2.7 1.6-3.1 1.6 1.1 1.6 1.5 1.6-1.7 1.6 .9 1.6-.9 1.6 0 1.6 2.5 1.6-.3 1.6-1.1 1.6 .6 1.6 1.4 1.6-5.7 .6 6.5"/>
<path d="M176.5,94.6l1.6-4.1 1.6 1 1.6-1.7 1.6 3.6 1.6-2.2 1.6 1.8 1.6-2.9 1.6 2.8 1.6-1 1.6-.9 1.6-2.8 1.3 4.5 0-3.3 .5 3.4 .5-1.9 .5 4.4 .5 1.9 .5-5.3 .5 2.1 .5 4.5 .5-4.7 .5-1.2 .5-.2 .5 2.9 .5-.7 .5 2.1 .5 2 .5-1.8 .5-3 .5 0 .5 .2 .5-2 .5-.8 .5-.6 .5 1.5 .5-.8 1.6 1 1.6-.1 1.6 2.4 1.6-4 1.6 1.7 1.6 2.5 1.6-2.9 1.6 4.5 1.6-1.1 1.6 1.1 1.6-2.1 1.6 .8 1.6 1.1 1.6-1.9 1.6 3 1.6-1.1 1.6-.7 1.6 .7 1.6-2.2 1.6 2 1.6 .2 1.6 .6 1.6-2.4 1.6 1.9 1.6-.1 1.6-1.6 1.6 2.5 1.6-6 1.6 1.8 1.6-5.8 1.6-.7 1.6 4.6 1.6 .4 1.6 .3 1.6-.2 1.6-2.8 1.6-1.9 1.6 3.2 1.6 .3 1.6 1.1 1.6 .8 1.6-2.7 1.6 4.9 1.6-1.5 1.6 1.8 1.6-.5 1.6 .8 1.6 1.7 1.6 1.4 1.6-1.6 1.6 2.3 1.6 1.2 1.6-3.8 1.6 3.3 1.6-2.4 1.6 3.5 1.6-4.4 1.6-2.1 1.6 .5 1.6-.5 .6-3.6"/>
<path d="M176.5,94l1.6 1.3 1.6-5.1 1.6 5.6 1.6-4.6 1.6 1.3 1.6 .5 1.6-1.7 1.6-4 1.6 1 1.6-2.4 1.6 2.2 1.3-3.3 0 2 .5 1.8 .5-.6 .5 .6 .5-1.1 .5-3.4 .5-.8 .5 1.9 .5 3.3 .5 .3 .5-2.5 .5 3.7 .5 0 .5-2.2 .5 .5 .5 1.8 .5-2.1 .5 2.2 .5-1.2 .5 .3 .5-.9 .5 4.5 .5-2.7 .5-1 1.6 4 1.6-2.9 1.6-.1 1.6 4.1 1.6-3.2 1.6 4.6 1.6-2.7 1.6-1 1.6 .2 1.6 2.6 1.6-.2 1.6-1.8 1.6-2.8 1.6 .1 1.6 1.3 1.6 1.5 1.6-.1 1.6 0 1.6 2.4 1.6-.5 1.6 .3 1.6-1.3 1.6-.1 1.6 2.5 1.6-3.4 1.6-3.5 1.6-2.4 1.6 .5 1.6 2.7 1.6 1.1 1.6-1.1 1.6-.7 1.6 .6 1.6 1.7 1.6-2.2 1.6 .7 1.6 1.9 1.6-4.1 1.6-.5 1.6-.4 1.6 2.6 1.6 .8 1.6 3.4 1.6-9.3 1.6 8.1 1.6-3.9 1.6-1.1 1.6-.5 1.6-1.1 1.6 1.1 1.6-1.4 1.6 1.2 1.6-.5 1.6 1.8 1.6-.9 1.6-1 1.6-.4 1.6 2.2 1.6 3.3 1.6 1.1 .6-1.4"/>
<path d="M176.5,99.5l1.6-8.7 1.6 1 1.6-1.6 1.6 5.6 1.6 3.1 1.6-1.8 1.6 .1 1.6 .1 1.6-4.2 1.6 5 1.6-.9 1.3-2.1 0 .4 .5-.5 .5-3.5 .5-.5 .5-1.2 .5 4.9 .5-3.5 .5-2.4 .5 3.2 .5 .7 .5-2.7 .5 4.8 .5-1 .5 1.7 .5 0 .5 1.2 .5 .2 .5-1.9 .5-.8 .5 1.2 .5-1.2 .5-1.2 .5 1.3 .5-.6 1.6-1.5 1.6 2.1 1.6 .1 1.6-2.6 1.6 .4 1.6-2.6 1.6 1.4 1.6 2.2 1.6-4.6 1.6 8.5 1.6-1.8 1.6-1.5 1.6-.5 1.6-1.7 1.6 .9 1.6 2.7 1.6 3.5 1.6-1.6 1.6-2.8 1.6-.4 1.6-1.3 1.6 2.2 1.6-1.6 1.6-1.8 1.6 4.8 1.6-7.6 1.6 4 1.6 1.9 1.6 .4 1.6-2.5 1.6 1.3 1.6-1.7 1.6-1.1 1.6 .7 1.6-2.1 1.6-1.5 1.6 1.7 1.6-.2 1.6-1.4 1.6 2.3 1.6 1.5 1.6 .5 1.6 1.6 1.6-.2 1.6 .4 1.6-.5 1.6 .4 1.6 2 1.6-2.3 1.6-1 1.6 .6 1.6-4.2 1.6 .8 1.6-1.8 1.6 1.4 1.6-.4 1.6-2.7 1.6 4.9 1.6-3.8 1.6 .8 .6 4.8"/>
<path d="M176.5,94.7l1.6 .9 1.6-1.5 1.6 1.9 1.6 1.1 1.6 0 1.6 2.9 1.6-.2 1.6-3.6 1.6 .1 1.6 1.9 1.6-.9 1.3-.1 0-1.7 .5-4.2 .5-.2 .5-.5 .5 3.1 .5 .1 .5-2.3 .5 0 .5 5.3 .5-3 .5-3.2 .5 2.4 .5-.2 .5 .4 .5-2.7 .5 3.6 .5-.7 .5 3.4 .5-.9 .5 .4 .5 1.6 .5 5.4 .5-6.1 .5 1.2 1.6 1 1.6-1.9 1.6 0 1.6-1.8 1.6-.3 1.6 2.8 1.6-2.4 1.6-1.2 1.6 1.5 1.6-1 1.6 .1 1.6-.5 1.6 .1 1.6 2.8 1.6-2.4 1.6 2.2 1.6 2.2 1.6 2.2 1.6-2.5 1.6-2.2 1.6 1.8 1.6-5.2 1.6 1.8 1.6 1.7 1.6-1.4 1.6-1.1 1.6-2.2 1.6 3.7 1.6-.5 1.6-5.7 1.6 5 1.6 2.1 1.6-4.3 1.6 2.9 1.6-3.8 1.6 0 1.6 3.5 1.6-1.1 1.6 2.2 1.6 .2 1.6-.6 1.6 2 1.6-1.6 1.6 1 1.6 .3 1.6-1.7 1.6 2.8 1.6-1.1 1.6-2.7 1.6 3.1 1.6-2.8 1.6-.1 1.6 3 1.6 1.6 1.6-3.6 1.6 2.2 1.6-.1 1.6 2.5 1.6-.7 1.6-1.7 .6 .4"/>
<path d="M176.5,93.2l1.6 .9 1.6-.1 1.6 6.5 1.6-4.9 1.6-.5 1.6 1.7 1.6 .8 1.6-1.4 1.6 .6 1.6-5.6 1.6 2.9 1.3-4.4 0 1.3 .5 3.1 .5-1.6 .5-1.7 .5 4.6 .5-1.3 .5-2.6 .5 5.8 .5-5.6 .5-1.1 .5 2.4 .5-4 .5 2.5 .5 .6 .5 1 .5 .4 .5 1.2 .5-2.2 .5 2.2 .5 .4 .5 2 .5-3.9 .5 3.6 .5-2 1.6 3 1.6-1.1 1.6-2 1.6-1.4 1.6 .2 1.6-2.2 1.6 .9 1.6-1.3 1.6 1.9 1.6-2.9 1.6 .2 1.6-5.2 1.6 4.3 1.6-2.4 1.6 1.6 1.6-2.1 1.6 3.9 1.6-2.1 1.6 4.6 1.6 .8 1.6 1.2 1.6-1.2 1.6 3.9 1.6-1.7 1.6-1.3 1.6 6.6 1.6-3.6 1.6-.4 1.6-1.4 1.6 .4 1.6 .8 1.6-1.5 1.6-1.4 1.6 4.6 1.6-2.7 1.6-2.8 1.6 1.2 1.6-.3 1.6 3.2 1.6 .2 1.6-2.3 1.6-2.2 1.6 1 1.6-2.2 1.6-.9 1.6 .1 1.6 1 1.6 0 1.6 0 1.6 3.1 1.6-3.5 1.6-1 1.6 1.4 1.6 2.3 1.6-4.1 1.6 1.9 1.6 .3 1.6 .6 1.6-2 1.6 1.9 .6-1.9"/>
<path d="M176.5,97.3l1.6-.6 1.6-.2 1.6 .1 1.6 .2 1.6 2 1.6-.7 1.6-.2 1.6-.1 1.6 2.1 1.6-1.7 1.6-3.5 1.3 3.5 0-.1 .5 .3 .5-2.9 .5-1.5 .5-.3 .5 .8 .5-3.2 .5 2.7 .5-.4 .5-2.4 .5 2.5 .5 2 .5-1.8 .5 5.3 .5-7.9 .5 3 .5 .1 .5 1.8 .5 .2 .5-1.2 .5 .1 .5-1.3 .5 4.5 .5-2.1 1.6-3.6 1.6 .4 1.6 .6 1.6 .7 1.6-1.3 1.6-1.6 1.6 5.9 1.6-.1 1.6-4 1.6-1.7 1.6 4.7 1.6 1.4 1.6-4.1 1.6-1.4 1.6 3.6 1.6 .9 1.6-4 1.6 .1 1.6 0 1.6 .2 1.6-3.4 1.6 1.4 1.6-1.2 1.6 3.8 1.6-2 1.6 .7 1.6-.7 1.6 3.1 1.6-2.4 1.6-3.1 1.6 4.5 1.6-2.9 1.6 .5 1.6 2 1.6-.3 1.6 .1 1.6 .6 1.6-2.2 1.6 3.2 1.6-2.9 1.6 .2 1.6 .5 1.6 1.6 1.6 1.8 1.6-3.6 1.6 3.1 1.6-2.3 1.6 3.2 1.6 3.1 1.6 1.2 1.6-3.8 1.6 3.7 1.6-2.3 1.6 1.5 1.6 .6 1.6-.4 1.6 2.3 1.6-.5 1.6-3.3 1.6-.8 .6-1.6"/>
<path d="M176.5,96.9l1.6-1.5 1.6-.3 1.6 1.6 1.6-4.9 1.6-.8 1.6 1.7 1.6-2.3 1.6 .7 1.6 1.1 1.6 1 1.6-.4 1.3 2.3 0-2.4 .5 3.2 .5-2.2 .5-3.3 .5 4.7 .5-2.1 .5-2.2 .5-2.7 .5 1.4 .5 1.3 .5-.5 .5-.5 .5-2.3 .5 3.5 .5 2 .5-.8 .5 1.2 .5-2.9 .5 5 .5 .5 .5-.2 .5 .2 .5 .4 .5-3.1 1.6 .8 1.6 .8 1.6-1.5 1.6-4.9 1.6 5.1 1.6-4.1 1.6 3 1.6 1.2 1.6 1.5 1.6-2.5 1.6 2.8 1.6 1.4 1.6-.2 1.6-.2 1.6 0 1.6 1.4 1.6 1.3 1.6-1.3 1.6-2.4 1.6-.9 1.6-.4 1.6-1.1 1.6 1.4 1.6 1.1 1.6-2.7 1.6 0 1.6-2.5 1.6 2.9 1.6-1.2 1.6-4.5 1.6 5.1 1.6 .9 1.6-3.5 1.6 1.4 1.6 .7 1.6-2.4 1.6-1.8 1.6 4.2 1.6-1.3 1.6 1 1.6-2.5 1.6 5.4 1.6-6.5 1.6 1 1.6 4.4 1.6-3.6 1.6 1.2 1.6-.6 1.6-1.1 1.6-5.5 1.6 2.6 1.6 1.9 1.6-.7 1.6 .9 1.6 .3 1.6-1 1.6 4 1.6-2.7 1.6 2.6 1.6 .7 .6 .6"/>
<path d="M176.5,93.8l1.6 1.8 1.6 0 1.6-.1 1.6-1.2 1.6 .9 1.6-.9 1.6-.8 1.6-1.3 1.6-1.4 1.6-1.6 1.6 .7 1.3 2.4 0-2.2 .5 5.8 .5-4.1 .5 2.9 .5 3.5 .5-3.7 .5 2.7 .5 0 .5-1.7 .5-1.6 .5 3.2 .5 .9 .5 1.4 .5 .2 .5-2.7 .5-.1 .5 2.1 .5 .5 .5 2 .5-2.9 .5-2.2 .5 3.9 .5-1.6 .5-.1 1.6-1.7 1.6 1.9 1.6-4.5 1.6 3.5 1.6-.8 1.6-1 1.6 2.6 1.6-2.9 1.6 .1 1.6-.4 1.6 1.9 1.6 0 1.6 1.2 1.6-.4 1.6 3.5 1.6-1.5 1.6-.2 1.6 1.7 1.6-1 1.6 1 1.6-2.8 1.6-2.3 1.6-.2 1.6 1 1.6-4.1 1.6 .5 1.6 4 1.6-1.5 1.6 1.1 1.6-1.7 1.6 2.1 1.6-4.7 1.6 2.5 1.6-1.7 1.6-.6 1.6 .5 1.6-1.3 1.6-1.4 1.6 3.6 1.6-.7 1.6 .5 1.6-2 1.6 1.1 1.6-.7 1.6-.6 1.6 2.6 1.6 2.1 1.6-1.5 1.6-1.2 1.6 5.2 1.6-3.4 1.6 2.9 1.6-3.7 1.6-1.4 1.6 .2 1.6 .4 1.6 1.3 1.6 .7 1.6-.7 1.6-.6 .6 .4"/>
<path d="M9,201.1l1.6 1.2 1.6-3.9 1.6 2.4 1.6-.4 1.6 .2 1.6 1.3 1.6 1.5 1.6-.8 1.6 2.9 1.6 2.3 1.6-2.5 1.3 .9 0-.7"/>
<path d="M33.9,145.5l.5-1.7 .5-1.9 .5-.2 .5-.1 .5-1.2 .5-1.4 .5-.1 .5-.3 .5-1 .5 .4 .5-1.3 1.6 .2 1.6-.7 1.6-.8 1.6-.3 1.6-.2 1.6-.5 1.6 .6 1.6 .1 1.6-.1 1.6 .1 1.6 .6 1.6 .6 1.6 1.2 1.6 1.1 1.6 2.5 1.6 1.2 1.6 2.8 1.6 1.2 1.6 3.5 1.6 2.5 1.6 2.6 1.6 2.4 1.6 1.7 1.6 2.9 1.6 2.6 1.6 3.9 1.6 4.3 1.6-.3 1.6 6.5 1.6-1.3 1.6 1.3 1.6 3.9 1.6 2.8 1.6 0 1.6 .9 1.6 5.9 1.6-2.3 1.6 4.7 1.6 0 1.6 .2 1.6 1.2 1.6-1.6 1.6 0 1.6 2.2 1.6-2 1.6 .8 1.6 4.4 1.6 1.4 1.6-.2 1.6 .5 1.6-1.4 1.6 .9 1.6-1.4 1.6-3.7 1.6 4.8 1.6-.2 1.6 .9 1.6-4 1.6 3.6 1.6-3.3 .4-1.9"/>
<path d="M9,200.4l1.6 2.2 1.6 .2 1.6-.4 1.6-1.8 1.6 .9 1.6 2.2 1.6 .5 1.6-2.3 1.6 .2 1.6 2.4 1.6 .7 1.3-1.6 0-1.9"/>
<path d="M33.9,143.8l.5-1.6 .5-2.2 .5-.5 .5-.5 .5-.1 .5-.7 .5-.5 .5-1.1 .5 .9 .5-.7 .5-.1 1.6-1 1.6-.2 1.6-.2 1.6-.2 1.6-.1 1.6 .5 1.6 .2 1.6-.5 1.6 0 1.6 .4 1.6 .9 1.6 1.5 1.6 .6 1.6 2.1 1.6 .2 1.6 1.9 1.6 2.1 1.6 2 1.6 3 1.6 3.4 1.6 .8 1.6 3.5 1.6 3.5 1.6 3.7 1.6 .8 1.6 3.4 1.6 3 1.6 1.1 1.6 2.9 1.6 1.1 1.6 1.4 1.6 2.3 1.6 4.3 1.6 2.1 1.6 .3 1.6-.4 1.6 5.1 1.6-.4 1.6 3.7 1.6-.8 1.6-.7 1.6 2.7 1.6 .6 1.6 4.8 1.6-5 1.6 3.6 1.6 1.3 1.6-2.2 1.6 4.5 1.6 .6 1.6 .5 1.6-.1 1.6-1.7 1.6 1.4 1.6-2.9 1.6 .2 1.6-.4 1.6-.9 1.6 .2 1.6-2.3 .4 .7"/>
<path d="M9,206.6l1.6 2.2 1.6 .9 1.6-5.2 1.6 6.5 1.6-5.8 1.6 5 1.6-3.3 1.6 .2 1.6 2.1 1.6-2.6 1.6-5.1 1.3-1 0 .3"/>
<path d="M33.9,142.5l.5-.8 .5-1.4 .5-1.4 .5-1 .5-1.5 .5 .2 .5 .1 .5-1.5 .5 .3 .5-1.5 .5-.1 1.6-.8 1.6-.3 1.6-.9 1.6 .8 1.6-.7 1.6-.7 1.6 .8 1.6-.2 1.6-.5 1.6 .7 1.6 .9 1.6 .8 1.6 1 1.6 1 1.6 2.1 1.6 2.4 1.6 2.7 1.6 1.5 1.6 2.7 1.6 2.9 1.6 2 1.6 1.7 1.6 3.8 1.6 3.2 1.6 3.2 1.6 2.5 1.6 1.8 1.6 2.7 1.6 2.7 1.6 1.6 1.6 2.3 1.6 .9 1.6 3.7 1.6 2.5 1.6 .7 1.6 2.2 1.6 2 1.6-.4 1.6 1.8 1.6 .6 1.6 3 1.6-1.8 1.6 2.4 1.6-2.6 1.6 6.9 1.6-1.1 1.6-1.2 1.6 2.3 1.6 4.3 1.6-2.1 1.6-2 1.6 2.7 1.6-.9 1.6 1.3 1.6-1.3 1.6-3.9 1.6 2.2 1.6 .4 1.6 0 1.6-2.3 .4 2.3"/>
<path d="M9,205.5l1.6-3.5 1.6 1.6 1.6 3.5 1.6-5.2 1.6 4.3 1.6 1.7 1.6-1.5 1.6 2.4 1.6-.4 1.6-1.2 1.6-3.6 1.3 1.8 0 .2"/>
<path d="M33.9,145.4l.5-.7 .5-2 .5-.3 .5-1.3 .5-1.9 .5 0 .5-.4 .5-.3 .5-.7 .5-.4 .5 0 1.6-.4 1.6-1.7 1.6 .2 1.6 .5 1.6-.6 1.6-.6 1.6 .8 1.6 0 1.6-.7 1.6 .7 1.6 .5 1.6 1.1 1.6 1.6 1.6 1.1 1.6 1.9 1.6 2 1.6 1.4 1.6 3.5 1.6 2.6 1.6 2.1 1.6 2.4 1.6 3.2 1.6 1.5 1.6 2.3 1.6 4.1 1.6 2.4 1.6 4.3 1.6-.8 1.6 3.9 1.6 .9 1.6 6.2 1.6-1.1 1.6 3.5 1.6-2.1 1.6 3.4 1.6 4.2 1.6 .1 1.6 1.3 1.6 3.5 1.6 .7 1.6 1.4 1.6 1.6 1.6 .2 1.6 4.4 1.6 .3 1.6-.8 1.6 .6 1.6-1.5 1.6 2 1.6 4 1.6-2.6 1.6 1.8 1.6 1.7 1.6 .2 1.6-.2 1.6-.4 1.6-2.1 1.6-.3 1.6-1.4 1.6 .9 .4-2"/>
<path d="M9,195.4l1.6 .1 1.6 3.2 1.6 4.6 1.6-.6 1.6-1.3 1.6 1.5 1.6 .3 1.6 2.3 1.6-1.2 1.6-.3 1.6 1.4 1.3-.9 0 1.4"/>
<path d="M33.9,144l.5-1.4 .5-1.5 .5-1.9 .5-1 .5-.1 .5-.9 .5-.3 .5-1 .5 1 .5-1.3 .5 .2 1.6-1.8 1.6-.4 1.6-.5 1.6 0 1.6 .1 1.6-.3 1.6-.1 1.6 .3 1.6 .3 1.6 .8 1.6-.1 1.6 1.2 1.6 1.8 1.6 1.9 1.6 .9 1.6 2.3 1.6 1.9 1.6 2.3 1.6 2.6 1.6 2.1 1.6 2.7 1.6 2.6 1.6 4.2 1.6 1.4 1.6 4.4 1.6 1.1 1.6 3.2 1.6 1.7 1.6 3.8 1.6 4 1.6 2.6 1.6-1.1 1.6 6.6 1.6-1 1.6 2 1.6 2.3 1.6 .1 1.6-.2 1.6 2.4 1.6 .3 1.6 4.2 1.6-2.4 1.6-3.2 1.6 5.8 1.6-1 1.6-1.1 1.6-3 1.6 8.2 1.6-6 1.6 .1 1.6-.2 1.6 1.7 1.6 .3 1.6 1.5 1.6 1.4 1.6 .4 1.6 3.1 1.6-2.2 1.6 4.6 1.6 .3 .4 .6"/>
<path d="M9,201.7l1.6 1.8 1.6-1.3 1.6-.5 1.6-2.5 1.6 1.7 1.6 1.9 1.6-.6 1.6-2.9 1.6 0 1.6 2 1.6 1.9 1.3-1.4 0 4.1"/>
<path d="M33.9,145.7l.5-2.3 .5-.5 .5-.7 .5-.8 .5-1.2 .5-2.4 .5-.1 .5-.1 .5-.7 .5 .2 .5-.2 1.6-.5 1.6-.1 1.6-.8 1.6 .7 1.6-1.1 1.6 .1 1.6 .1 1.6 .1 1.6 .6 1.6 .8 1.6-.4 1.6 1.9 1.6 1.5 1.6 1.1 1.6 .7 1.6 3.1 1.6 2.4 1.6 .7 1.6 3.1 1.6 3.5 1.6 1.9 1.6 3.2 1.6 2.7 1.6 .1 1.6 2.4 1.6 4.5 1.6 1 1.6 3.6 1.6 1.9 1.6 .5 1.6 4.5 1.6 1.6 1.6 .8 1.6 2.5 1.6 2.1 1.6 3.4 1.6 3 1.6 1.3 1.6 .5 1.6-.5 1.6 3.5 1.6 .6 1.6-.2 1.6 .1 1.6 4.4 1.6 .2 1.6-4.5 1.6 4 1.6-.9 1.6 2.4 1.6-4.3 1.6 3.3 1.6-2.2 1.6 1.1 1.6 1.3 1.6 1.9 1.6-.8 1.6-2.4 1.6 4.2 1.6-1.5 .4-.8"/>
<path d="M9,199.6l1.6-1.5 1.6 3.1 1.6-.1 1.6 .4 1.6 1.6 1.6 1.6 1.6-1.4 1.6-.7 1.6 .3 1.6 3.8 1.6-2.5 1.3-3 0-.5"/>
<path d="M33.9,145.3l.5-2.4 .5-1.5 .5-.5 .5-1.7 .5-.1 .5-1.2 .5-.8 .5-.4 .5-.5 .5-.9 .5 .3 1.6-1 1.6-.7 1.6 .4 1.6-.5 1.6 .4 1.6-1.2 1.6 1 1.6-.4 1.6 .6 1.6-.2 1.6 .4 1.6 .8 1.6 1.6 1.6 .6 1.6 2.1 1.6 1.6 1.6 3.9 1.6 1.5 1.6 2.2 1.6 1.1 1.6 5 1.6 2.9 1.6 3.7 1.6 3.4 1.6 2.4 1.6 2.5 1.6 3.8 1.6 2.9 1.6 2.5 1.6 2.2 1.6 2.6 1.6 .1 1.6 3.7 1.6-.5 1.6 1.8 1.6-.1 1.6 1.8 1.6 2.7 1.6-.9 1.6 .3 1.6 .9 1.6-.1 1.6 0 1.6-.2 1.6 4.6 1.6 1.7 1.6 1.2 1.6-3.4 1.6 2.5 1.6 2.6 1.6-.8 1.6 2.4 1.6 .9 1.6-3.4 1.6 3.9 1.6-1.5 1.6-.7 1.6 1.1 1.6-2 1.6-2.1 .4 3.8"/>
<path d="M9,201.1l1.6 2.5 1.6-1.8 1.6 1.8 1.6-4.8 1.6 1.1 1.6 2.1 1.6-.5 1.6-1 1.6-.5 1.6-.7 1.6 2.4 1.3-.7 0 1.9"/>
<path d="M33.9,146.1l.5-.7 .5-1.7 .5-1.2 .5-1.2 .5-1.1 .5-.3 .5-1.2 .5 .3 .5-.7 .5-.6 .5-.1 1.6-.3 1.6-.8 1.6 .3 1.6 .6 1.6-.9 1.6 .2 1.6-.4 1.6 .2 1.6-.2 1.6 1.1 1.6-.2 1.6 1.4 1.6 .7 1.6 1.8 1.6 1.1 1.6 1.8 1.6 3.2 1.6 2 1.6 1.7 1.6 1.8 1.6 2.5 1.6 1.7 1.6 3.6 1.6 3.8 1.6 .8 1.6 6.1 1.6 .9 1.6 4.6 1.6 1.9 1.6 .9 1.6 2.4 1.6 5.9 1.6 1.7 1.6-1.4 1.6 5.6 1.6-2.3 1.6 5.9 1.6-5 1.6 2.7 1.6-.9 1.6-1 1.6 2.6 1.6-2.3 1.6-.3 1.6 1.6 1.6-2.2 1.6 .5 1.6 2.2 1.6 1.7 1.6 1.9 1.6 1.7 1.6-1.5 1.6 4 1.6-1.6 1.6-.2 1.6 2.6 1.6 .8 1.6-1.9 1.6-.6 1.6 1.7 .4-.8"/>
<path d="M9,201.8l1.6-.4 1.6 .8 1.6-3 1.6 2.1 1.6-1.5 1.6-2.7 1.6 2.2 1.6 .2 1.6 2 1.6-3 1.6 2.9 1.3-3.3 0 .7"/>
<path d="M33.9,144l.5-1.6 .5-1 .5-1.3 .5-1 .5-.2 .5-.4 .5-.4 .5-.4 .5-.4 .5-.9 .5 .5 1.6-.8 1.6-1 1.6-.2 1.6-.2 1.6 .3 1.6-1.1 1.6 .4 1.6 .3 1.6-.7 1.6 .7 1.6 1.5 1.6 0 1.6 1.8 1.6 1.4 1.6 2.4 1.6 2 1.6 3.2 1.6 1.9 1.6 5.1 1.6 2.3 1.6 3.1 1.6 2.4 1.6 3.5 1.6 2.3 1.6 3.3 1.6 1.4 1.6 2.2 1.6 4 1.6 1.6 1.6 2.7 1.6 .8 1.6-1.8 1.6 4.6 1.6 2.2 1.6 .9 1.6 2.8 1.6 1.8 1.6 .6 1.6 2.1 1.6 .8 1.6 3.6 1.6-3 1.6 .8 1.6 4.5 1.6-3.9 1.6 3.6 1.6-.5 1.6 1.9 1.6-3.8 1.6-.3 1.6 1.1 1.6-.5 1.6-1.5 1.6-.7 1.6 1.2 1.6 1.1 1.6-4.8 1.6 5.3 1.6-.4 1.6-1.2 .4-.5"/>
<path d="M9,205.4l1.6 .6 1.6-2.4 1.6 5.1 1.6-3 1.6 1.9 1.6-.5 1.6-.1 1.6 .9 1.6-3 1.6 1.4 1.6-2.1 1.3 .1 0-3.8"/>
<path d="M33.9,141.8l.5-1.5 .5-1.1 .5-1 .5-.9 .5-.9 .5 0 .5-.6 .5-.6 .5-.8 .5 0 .5-.1 1.6-.8 1.6-1.2 1.6 .4 1.6-.7 1.6 .5 1.6-.5 1.6-.2 1.6 .7 1.6-.6 1.6 1 1.6 .6 1.6 1.2 1.6 1.4 1.6 1.4 1.6 2.3 1.6 .6 1.6 3.5 1.6 2.6 1.6 .8 1.6 2.5 1.6 3.1 1.6 2.1 1.6 4.3 1.6 2.5 1.6 1.6 1.6 3 1.6 5.2 1.6 .6 1.6 2.7 1.6 6.1 1.6 2 1.6 .6 1.6 3.8 1.6-.9 1.6 5.6 1.6 4.6 1.6-3.3 1.6 3 1.6-.1 1.6-.3 1.6 2.2 1.6 .3 1.6-.3 1.6 3.1 1.6 1.5 1.6 1.3 1.6 .6 1.6 .4 1.6 0 1.6-.6 1.6-1.6 1.6 2.2 1.6-.9 1.6-1.7 1.6 2.1 1.6 .9 1.6 1.1 1.6-4.3 1.6 3 1.6-3.7 .4 .9"/>
<path d="M9,204.6l1.6-.8 1.6-2.1 1.6 .1 1.6-2.7 1.6 .2 1.6 1 1.6 .3 1.6-5.4 1.6 6.2 1.6-1.2 1.6-3.1 1.3 2.6 0-.8"/>
<path d="M33.9,144.1l.5-2.3 .5-1.8 .5-.2 .5-.9 .5-1.1 .5-.6 .5-1.1 .5-.2 .5-.3 .5-.6 .5-.8 1.6-.3 1.6-.9 1.6 .1 1.6-.3 1.6 0 1.6-.6 1.6 .3 1.6-.1 1.6 0 1.6 .6 1.6-.2 1.6 1.5 1.6 1.3 1.6 1 1.6 1.2 1.6 2.4 1.6 2.2 1.6 2.4 1.6 3.1 1.6 2.5 1.6 1.3 1.6 4.9 1.6 .8 1.6 4.1 1.6 2.3 1.6 5.3 1.6 2.3 1.6 4.9 1.6 1 1.6 3.9 1.6 4.2 1.6 .1 1.6 4 1.6 .5 1.6 1.2 1.6-.9 1.6 3 1.6 3.4 1.6-1.9 1.6 1.4 1.6 2 1.6-2.7 1.6 1.5 1.6 .2 1.6-1 1.6 1.8 1.6 1 1.6-1.4 1.6-1 1.6 .3 1.6-2.9 1.6 3.6 1.6-2 1.6 3.8 1.6-2.5 1.6 3.5 1.6-2.1 1.6 .6 1.6-1.6 1.6 3.4 .4 0"/>
<path d="M9,197l1.6 1.2 1.6-2.6 1.6 1.6 1.6-.6 1.6 .3 1.6 1.3 1.6 1.6 1.6-1.8 1.6 0 1.6 2.4 1.6-.3 1.3-3.7 0 3.7"/>
<path d="M33.9,143.8l.5-1.6 .5-1.5 .5 .1 .5-2.6 .5-.4 .5-1.3 .5 .3 .5-1.1 .5-.3 .5 .2 .5-.9 1.6-.1 1.6-1.4 1.6 .6 1.6-.7 1.6-.6 1.6 .9 1.6 .1 1.6-.5 1.6 .5 1.6 0 1.6 .1 1.6 1.7 1.6 .5 1.6 1.8 1.6 1.3 1.6 1.3 1.6 2.2 1.6 1.7 1.6 3.2 1.6 1.2 1.6 4.9 1.6 1.4 1.6 1.4 1.6 4.2 1.6 1.6 1.6 5.1 1.6 1.7 1.6 .8 1.6 4.8 1.6 1.5 1.6 1.2 1.6-.6 1.6 1.7 1.6 6 1.6-4 1.6 4.5 1.6 1.5 1.6-.4 1.6 1.3 1.6 1.1 1.6 5.3 1.6-2.2 1.6 3.4 1.6-.3 1.6-1.1 1.6-1.1 1.6-.9 1.6 .6 1.6-1.8 1.6 0 1.6 .6 1.6 4.3 1.6 .6 1.6-1.6 1.6 .1 1.6 2.6 1.6 2.3 1.6 3.4 1.6 .6 1.6 2.5 .4 1.2"/>
<path d="M9,205.9l1.6-2.6 1.6-.5 1.6 1.4 1.6-.4 1.6-1.3 1.6 3.7 1.6-.8 1.6-2.8 1.6 .2 1.6-1 1.6-2.5 1.3 1.9 0-2.3"/>
<path d="M33.9,144.2l.5-2.2 .5-.1 .5-.8 .5-.8 .5-1.3 .5-.4 .5-.9 .5-.3 .5-.2 .5-.5 .5-1.2 1.6-.3 1.6-.4 1.6-.4 1.6-1.3 1.6 .7 1.6 .5 1.6 .2 1.6-.4 1.6 .2 1.6 0 1.6 1 1.6 1.1 1.6 2.1 1.6-.4 1.6 3.2 1.6 1.9 1.6 2 1.6 .9 1.6 2.9 1.6 2.1 1.6 2.8 1.6 1.8 1.6 2.2 1.6 2.4 1.6 2 1.6 4.7 1.6 .2 1.6 2.6 1.6 4.6 1.6 1.2 1.6 2.7 1.6 4 1.6 1.3 1.6 2.9 1.6 1.1 1.6-1.2 1.6 3.5 1.6 3 1.6 .1 1.6 3.4 1.6-1.5 1.6 1.1 1.6 0 1.6 .5 1.6 3.8 1.6-4.3 1.6-1.7 1.6 1.7 1.6-1.2 1.6 3.3 1.6 .7 1.6 .1 1.6 .2 1.6 1.2 1.6-2 1.6 4.2 1.6 0 1.6 4.5 1.6-2.3 1.6 .8 .4-1.8"/>
<path d="M9,202l1.6 5.2 1.6-3.9 1.6 .3 1.6-.4 1.6 1.6 1.6-5.1 1.6 3.9 1.6-1.5 1.6-.4 1.6-2 1.6 4 1.3-.1 0-.9"/>
<path d="M33.9,144.6l.5-1.9 .5-.4 .5-1.8 .5-.5 .5-1.6 .5-.2 .5-.9 .5-.6 .5 0 .5-.3 .5-.1 1.6-1.4 1.6-.3 1.6 .9 1.6-.9 1.6 0 1.6 .2 1.6 .1 1.6 0 1.6-.7 1.6 .9 1.6 .4 1.6 .6 1.6 1.4 1.6 1.8 1.6 1.8 1.6 1.5 1.6 2.9 1.6 1.1 1.6 3.3 1.6 1.2 1.6 5.2 1.6 1.8 1.6 1.5 1.6 2.4 1.6 2.4 1.6 2.3 1.6 .3 1.6 3.1 1.6 3.6 1.6 1.8 1.6 .3 1.6 3.6 1.6 3.1 1.6-1 1.6 1 1.6 2.2 1.6 6 1.6 .4 1.6 1.4 1.6 .7 1.6 4.9 1.6-.7 1.6 1.9 1.6-.5 1.6-1.9 1.6 5.1 1.6-2.8 1.6 2.2 1.6-.7 1.6-1.7 1.6 2.9 1.6-.8 1.6-1.1 1.6 1.4 1.6-3.6 1.6 1.6 1.6-1.9 1.6 .2 1.6 1.8 1.6-3.8 .4 3.7"/>
<path d="M9,194.6l1.6 5.1 1.6-3.6 1.6 2.1 1.6 0 1.6-3 1.6 2 1.6 .8 1.6 .4 1.6-.7 1.6-2.2 1.6 1.6 1.3 .8 0-3.9"/>
<path d="M33.9,142.3l.5-.4 .5-1.8 .5-.8 .5-1.2 .5-.3 .5-.9 .5 .1 .5-.3 .5-.7 .5 .6 .5-.5 1.6-1.2 1.6-.7 1.6 .3 1.6 .2 1.6-.7 1.6 .4 1.6-.4 1.6-.3 1.6 .1 1.6 .2 1.6 .4 1.6 1 1.6 1.3 1.6 1.2 1.6 2.8 1.6 1.2 1.6 2.2 1.6 2.2 1.6 2.2 1.6 1.6 1.6 1.6 1.6 2.7 1.6 4.2 1.6 1.4 1.6 .4 1.6 3.7 1.6 2.9 1.6 .7 1.6 2.7 1.6 2.5 1.6 4.6 1.6-.3 1.6 1.8 1.6 0 1.6 5.2 1.6 1.5 1.6 .5 1.6 .5 1.6 2.2 1.6 .2 1.6 1.5 1.6 2 1.6-.7 1.6 .4 1.6 2.4 1.6-1.2 1.6 1 1.6 4.8 1.6-3.7 1.6 .5 1.6 1.9 1.6 1.2 1.6-.2 1.6 2.5 1.6-1.4 1.6-3.9 1.6 2.3 1.6 2.1 1.6-4.8 1.6 5.6 .4-.5"/>
<path d="M9,199.8l1.6-4.8 1.6 3.1 1.6 1.6 1.6-5.7 1.6 4.7 1.6-1.5 1.6 1.7 1.6-.6 1.6 1 1.6 1.2 1.6-1.1 1.3 .9 0 0"/>
<path d="M33.9,141.2l.5-2 .5-1 .5-1.5 .5 .5 .5-1.5 .5-.9 .5-.6 .5 .2 .5-.5 .5-.5 .5-.6 1.6-.5 1.6-.1 1.6-1 1.6 .1 1.6-.2 1.6-.4 1.6 .4 1.6-.5 1.6-.2 1.6 .1 1.6 .8 1.6 .4 1.6 1 1.6 1.4 1.6 1.3 1.6 1.9 1.6 2.1 1.6 1.3 1.6 3.2 1.6 1.8 1.6 2.7 1.6 3.1 1.6 2.6 1.6 1.6 1.6 2.2 1.6 3.3 1.6 .4 1.6 5.2 1.6 .5 1.6 3.4 1.6 1.7 1.6 4.2 1.6 2.2 1.6-.5 1.6 4.3 1.6 0 1.6 1.4 1.6 2.6 1.6-.2 1.6 2.3 1.6-.9 1.6 2.2 1.6 2.9 1.6-1 1.6 4.6 1.6 0 1.6-1.6 1.6 2.9 1.6-.7 1.6 2.9 1.6 .6 1.6-3 1.6-1.4 1.6 5.2 1.6-3.3 1.6-.1 1.6 1.3 1.6-2.7 1.6 4.7 1.6-2.5 .4-1.2"/>
<path d="M9,202.2l1.6-.8 1.6 2.5 1.6-1.1 1.6-4.6 1.6 3.2 1.6-2.7 1.6 3.6 1.6-.6 1.6 2.1 1.6-.9 1.6 .6 1.3 2.3 0 1.6"/>
<path d="M33.9,143.2l.5-.2 .5-1.8 .5-.9 .5-1.6 .5-.6 .5 .2 .5-.9 .5 0 .5-.2 .5 .2 .5-.1 1.6-1.5 1.6-.5 1.6 .3 1.6 .2 1.6-.5 1.6 .6 1.6-.5 1.6 0 1.6-.1 1.6 .2 1.6 .6 1.6 .9 1.6 .8 1.6 1.4 1.6 2 1.6 1.7 1.6 2.3 1.6 2.2 1.6 2 1.6 3.2 1.6 1.7 1.6 3.9 1.6 .2 1.6 5.4 1.6 1.2 1.6 4.7 1.6 1.5 1.6 3 1.6 2.2 1.6 1.8 1.6 6 1.6 0 1.6-.2 1.6 .4 1.6 4.2 1.6 .2 1.6 2.3 1.6 1.5 1.6 3.6 1.6-.7 1.6-2.3 1.6 5 1.6-1.7 1.6 .9 1.6 5.9 1.6-4 1.6-.7 1.6-.2 1.6 1.7 1.6 .1 1.6 4.2 1.6-2.2 1.6 2.2 1.6 .3 1.6-5.5 1.6-.3 1.6-.5 1.6 .5 1.6 3 1.6-2.6 .4 .8"/>
<path d="M9,199.1l1.6-1.1 1.6-1.6 1.6 3.4 1.6-1.8 1.6-.9 1.6-.4 1.6-3.1 1.6 4.5 1.6-.6 1.6-2.6 1.6 5.8 1.3-1.9 0-1.8"/>
<path d="M33.9,142.5l.5-2.5 .5-.8 .5-.8 .5-1 .5-1.2 .5-.9 .5-.2 .5-.2 .5-.4 .5 .5 .5-1.3 1.6 0 1.6-.6 1.6-.7 1.6 .7 1.6-.7 1.6 .4 1.6-.5 1.6 .8 1.6-.1 1.6-.6 1.6 .7 1.6 1.6 1.6 1.1 1.6 1.3 1.6 2 1.6 2.1 1.6 2.1 1.6 2 1.6 3.8 1.6 2.2 1.6 2.2 1.6 3.7 1.6 4.1 1.6 1.9 1.6 1.4 1.6 4.2 1.6 1.9 1.6 3.6 1.6 1.5 1.6 2.5 1.6 2 1.6 1 1.6 .7 1.6 5.8 1.6-1.1 1.6 3.5 1.6-4.2 1.6 6.3 1.6-3.1 1.6 5.9 1.6-.6 1.6 1.4 1.6 .5 1.6-.4 1.6-.7 1.6 .1 1.6-.7 1.6 1.9 1.6 2.3 1.6-.5 1.6 1 1.6 .2 1.6-.1 1.6 2.4 1.6-3.5 1.6-.4 1.6 4.7 1.6-1.5 1.6-2.9 1.6 4.2 .4-4.3"/>
<path d="M9,205.1l1.6-2 1.6-.9 1.6 1.4 1.6-1.6 1.6 1.8 1.6-1.3 1.6 1.3 1.6-2.3 1.6 .2 1.6 .5 1.6 1.1 1.3 1.7 0-2.4"/>
<path d="M33.9,144.7l.5-.9 .5-1.4 .5-1.5 .5-1.3 .5-.1 .5-1.2 .5-.3 .5 .4 .5-1.6 .5-.4 .5 .7 1.6-1.6 1.6-1 1.6 .8 1.6-.8 1.6 0 1.6 .2 1.6-.1 1.6-.4 1.6 .3 1.6 .9 1.6 .5 1.6 0 1.6 2 1.6 .7 1.6 1.9 1.6 2.2 1.6 3.2 1.6 1.8 1.6 1.3 1.6 4.1 1.6 2 1.6 3.8 1.6 1.8 1.6 1.8 1.6 3.9 1.6 3.9 1.6 .1 1.6 2.6 1.6 .9 1.6 .3 1.6 3.4 1.6 1.4 1.6 .3 1.6 2.7 1.6 .7 1.6 3.9 1.6 .5 1.6-.6 1.6 5.5 1.6-3.5 1.6 2.5 1.6 2.9 1.6 .3 1.6 2.5 1.6-.9 1.6 3.3 1.6 1.4 1.6-.1 1.6 1.2 1.6-1.9 1.6 6.6 1.6-3.5 1.6-.1 1.6-.9 1.6 2.7 1.6 0 1.6-1.5 1.6 .8 1.6 2.8 1.6-2 .4-.8"/>
<path d="M9,203.8l1.6-3.2 1.6 1.9 1.6-3.6 1.6 3.1 1.6-1.9 1.6 6 1.6-2.9 1.6 .4 1.6 3.4 1.6-1.5 1.6 2 1.3-4 0 3.2"/>
<path d="M33.9,146.2l.5-2.6 .5-.4 .5-1.1 .5-1.5 .5 0 .5-.8 .5-.8 .5-.8 .5 .1 .5-.6 .5-.6 1.6-.3 1.6-.7 1.6-.1 1.6-.1 1.6 .1 1.6-.1 1.6-.2 1.6 .1 1.6 .5 1.6-.6 1.6 .8 1.6 1.1 1.6 2 1.6 2.1 1.6 1.6 1.6 2.8 1.6 2.6 1.6 1.5 1.6 2.6 1.6 3.4 1.6 2.4 1.6 2.5 1.6 3.9 1.6 0 1.6 5 1.6 1.2 1.6 2.8 1.6 3.3 1.6 3 1.6 3.6 1.6 2.3 1.6 .8 1.6 4.8 1.6-2.3 1.6 6.1 1.6 .1 1.6 1.2 1.6 2.3 1.6 1.4 1.6 .5 1.6-2.6 1.6 1.6 1.6 2.4 1.6 .2 1.6 .3 1.6-2.2 1.6 2 1.6 2.8 1.6-2.2 1.6 1.6 1.6-3.6 1.6 3.4 1.6 .4 1.6-3.2 1.6 2 1.6-2 1.6 .6 1.6-.8 1.6-1.3 1.6-.5 .4 .3"/>
<path d="M9,195l1.6 4.1 1.6-4.1 1.6 2.7 1.6 .5 1.6 1.8 1.6-2.1 1.6 2.8 1.6-2.5 1.6 4.5 1.6 .2 1.6-2.1 1.3-6.6 0 9.4"/>
<path d="M33.9,141.1l.5-2.2 .5-.6 .5-.7 .5-1.7 .5 .3 .5-.2 .5-.7 .5-.3 .5 .4 .5-.5 .5-.6 1.6-.3 1.6-.4 1.6-.1 1.6-.9 1.6-.2 1.6 .2 1.6 0 1.6 .6 1.6 .4 1.6-.5 1.6 .9 1.6 .9 1.6 1.5 1.6 1.7 1.6 1.6 1.6 1 1.6 2.5 1.6 2.2 1.6 2.9 1.6 2.6 1.6 2.9 1.6 1.7 1.6 2.7 1.6 2 1.6 4.7 1.6 2.1 1.6 2 1.6 3.9 1.6 .5 1.6 2.3 1.6 2.2 1.6 2.6 1.6 2.7 1.6 .3 1.6 1.2 1.6 3.3 1.6 .6 1.6-1.1 1.6 1.6 1.6 4.2 1.6 2.2 1.6 0 1.6 .1 1.6 1 1.6 .5 1.6-.2 1.6 1.2 1.6 1.9 1.6-1.1 1.6 3.8 1.6-1.5 1.6-.2 1.6-2.7 1.6 2.8 1.6-.9 1.6 2.1 1.6-3.9 1.6-.7 1.6 2.8 1.6 0 .4-.2"/>
<path d="M9,204.5l1.6-6.4 1.6 4 1.6 2.1 1.6 1.1 1.6-1.6 1.6-.3 1.6 .4 1.6 1 1.6-1.5 1.6 .9 1.6 0 1.3 2.1 0-1"/>
<path d="M33.9,146.6l.5-2.4 .5-1.1 .5-.7 .5-1.6 .5-1.7 .5 0 .5-.7 .5-1.2 .5-.4 .5-.4 .5-.5 1.6-.8 1.6-.4 1.6-.2 1.6-.1 1.6-.2 1.6 0 1.6 .2 1.6-.4 1.6-.4 1.6 .7 1.6 0 1.6 1.9 1.6 1.6 1.6 .3 1.6 2.6 1.6 1.7 1.6 1.6 1.6 2.4 1.6 2.3 1.6 3.1 1.6 2.5 1.6 4.7 1.6 .7 1.6 4.6 1.6 3.1 1.6 .1 1.6 3.5 1.6 4.9 1.6 .9 1.6 2.6 1.6 1.9 1.6 .1 1.6 2 1.6-1.9 1.6 5.5 1.6 .9 1.6 1.1 1.6 .9 1.6 1.3 1.6-2 1.6 .6 1.6 2.8 1.6 .4 1.6 4.4 1.6-1.7 1.6 2.5 1.6-1.5 1.6 4.6 1.6 .6 1.6-5.2 1.6 4.9 1.6-1 1.6 .8 1.6 0 1.6-.8 1.6 3.3 1.6-2.4 1.6-1.5 1.6 2.9 1.6 .9 .4-2.7"/>
<path d="M9,201.1l1.6 5.9 1.6-5.6 1.6 .9 1.6-.5 1.6-1.4 1.6 3.1 1.6-1.7 1.6 2.5 1.6 0 1.6-3.8 1.6-2.7 1.3 2.7 0 2.3"/>
<path d="M33.9,143.4l.5-.6 .5-1.6 .5-1.6 .5-.4 .5-.8 .5-.4 .5-.3 .5-.7 .5-.5 .5-.8 .5 1 1.6-1.6 1.6 .6 1.6-1 1.6 0 1.6-.3 1.6 0 1.6 .3 1.6-1.1 1.6 1.4 1.6 .2 1.6-.1 1.6 1.9 1.6 .5 1.6 1.8 1.6 1.8 1.6 1.3 1.6 2.3 1.6 2 1.6 2.2 1.6 1.6 1.6 4.9 1.6 2.1 1.6 1.4 1.6 2.5 1.6 4.7 1.6 2.4 1.6 1.6 1.6 3 1.6 3.8 1.6 2.9 1.6 2.3 1.6 2.9 1.6 1.6 1.6 .8 1.6 4.1 1.6 1.8 1.6 .1 1.6-.2 1.6 .2 1.6 .1 1.6 2.1 1.6-1.5 1.6 2.7 1.6-2.2 1.6-.9 1.6 3.5 1.6-.1 1.6-1 1.6 4.1 1.6 1.1 1.6 2.2 1.6-.6 1.6-1.1 1.6 2.2 1.6-1.4 1.6 3 1.6 1 1.6-2.4 1.6-3.1 1.6 2.8 .4 .3"/>
<path d="M9,204.1l1.6-2.9 1.6 1 1.6 .9 1.6 .2 1.6-.3 1.6 4.8 1.6-3.6 1.6 1.6 1.6 2.1 1.6-5.1 1.6 .4 1.3 4 0-2.8"/>
<path d="M33.9,145.6l.5-.9 .5-2.4 .5-.8 .5-1.2 .5-.6 .5-1.6 .5 .6 .5-1.1 .5-.1 .5 .5 .5-1.6 1.6-.1 1.6-.7 1.6-.3 1.6-.2 1.6-.1 1.6 .5 1.6-.9 1.6 .9 1.6-.5 1.6 0 1.6 .5 1.6 1.9 1.6 1 1.6 1.9 1.6 2.4 1.6 .9 1.6 2.6 1.6 2.4 1.6 2 1.6 3.5 1.6 1.9 1.6 3.2 1.6 2.9 1.6 2.8 1.6 3.4 1.6 3.6 1.6 1.9 1.6-.5 1.6 6 1.6 .5 1.6 1.7 1.6 3.8 1.6-.6 1.6 1.9 1.6 2.8 1.6 3.9 1.6-.5 1.6 3.1 1.6-.4 1.6 .9 1.6-1.1 1.6 1.3 1.6-.6 1.6 .7 1.6 2.2 1.6-.4 1.6-.4 1.6 1.6 1.6-2.2 1.6 6.3 1.6-1.1 1.6-1.2 1.6 .1 1.6 1.8 1.6-.7 1.6 1 1.6-.6 1.6 1.9 1.6 .4 1.6 3.5 .4-2.2"/>
<path d="M9,202.5l1.6 .3 1.6-.2 1.6-2.3 1.6 2.1 1.6-1 1.6 3.8 1.6-3.5 1.6 1.2 1.6 3.7 1.6-4 1.6 3.8 1.3-3.7 0 4.5"/>
<path d="M33.9,143.7l.5-2.4 .5-1.8 .5-1.3 .5 .7 .5-1.8 .5 .1 .5 .4 .5-1.1 .5 .2 .5-.6 .5-.1 1.6-.6 1.6-.7 1.6 0 1.6-.2 1.6-.7 1.6 .3 1.6-.1 1.6 0 1.6-.3 1.6 .2 1.6 .5 1.6 .9 1.6 1.6 1.6 1.7 1.6 1.1 1.6 2 1.6 3.4 1.6 3.1 1.6 1.7 1.6 3.5 1.6 3.9 1.6 .9 1.6 4.8 1.6 2.8 1.6 3.4 1.6 2 1.6 3.6 1.6 .3 1.6 2.3 1.6 4.3 1.6 .9 1.6 3.9 1.6 2.8 1.6 0 1.6 2.9 1.6 0 1.6 .6 1.6 .9 1.6 2.2 1.6 3.1 1.6-3.5 1.6 .4 1.6 2 1.6-1.6 1.6 4.6 1.6 2.2 1.6-4.5 1.6 2.1 1.6-2.1 1.6 2.1 1.6-.7 1.6 1.9 1.6-2.5 1.6 1.3 1.6-3.4 1.6 2.7 1.6-1.7 1.6-2.1 1.6 2.4 1.6 .5 .4-.4"/>
<path d="M9,203.2l1.6-.8 1.6-1.6 1.6 2.3 1.6 1.7 1.6-1.1 1.6-.5 1.6 4.6 1.6-4 1.6 1.6 1.6-2.7 1.6-.4 1.3 3 0-1.5"/>
<path d="M33.9,145.2l.5-.9 .5-1.5 .5-1.6 .5-1.3 .5-.8 .5-1.5 .5 .7 .5-1 .5-.2 .5-.2 .5-.4 1.6-.2 1.6-.3 1.6 0 1.6-.6 1.6-.5 1.6 .3 1.6 .1 1.6 0 1.6 .2 1.6 .6 1.6 .1 1.6 .8 1.6 2.6 1.6-.1 1.6 1.9 1.6 2.3 1.6 2.7 1.6 1.4 1.6 1.4 1.6 3.9 1.6 2.2 1.6 2.3 1.6 2.7 1.6 3.8 1.6 3.1 1.6 3.2 1.6 4.1 1.6 2 1.6 3.2 1.6 4 1.6 .5 1.6 3.7 1.6 4 1.6 0 1.6 3.6 1.6-1.6 1.6 .8 1.6-.2 1.6 1 1.6 2.7 1.6-1.6 1.6-.7 1.6 1.9 1.6-.7 1.6 .2 1.6 .8 1.6 1.2 1.6-1.3 1.6 .8 1.6 0 1.6 .6 1.6-2.4 1.6-.6 1.6 1 1.6 2.1 1.6 2.4 1.6-2.2 1.6-2.2 1.6 2.8 1.6-.7 .4-3.3"/>
<path d="M9,204.7l1.6 .1 1.6-1 1.6 .6 1.6 4.5 1.6-4.7 1.6 2.7 1.6-5.2 1.6 3.8 1.6-4.4 1.6 3.4 1.6-1.5 1.3 1.1 0-.7"/>
<path d="M33.9,145.3l.5-1.9 .5-1.5 .5-1.3 .5-.4 .5-1.1 .5-1.1 .5-.8 .5 .2 .5-1.6 .5-1.1 .5 .5 1.6-1.4 1.6-.3 1.6-.3 1.6-.8 1.6 .4 1.6-.6 1.6-.2 1.6 .5 1.6 0 1.6 .5 1.6 .5 1.6 1 1.6 1.1 1.6 2.3 1.6 1.6 1.6 1.6 1.6 1.9 1.6 3.5 1.6 1.5 1.6 1.3 1.6 4 1.6 3.2 1.6 1 1.6 2.1 1.6 4.4 1.6 3.9 1.6-.4 1.6 3.8 1.6 3.8 1.6 2.1 1.6 3.3 1.6-.7 1.6 1.2 1.6 3.5 1.6 .8 1.6 1.3 1.6 3.8 1.6 .7 1.6 1.1 1.6 2.3 1.6 1.8 1.6 .6 1.6 3 1.6-1.9 1.6 2.3 1.6 1.8 1.6 1.2 1.6 2.3 1.6-1.5 1.6 2.3 1.6-1.2 1.6-1.2 1.6 .7 1.6-.7 1.6-.1 1.6-4.5 1.6 1.9 1.6-.2 1.6 .7 1.6-.6 .4 .7"/>
<path d="M9,202.4l1.6-1.7 1.6-5 1.6 3.6 1.6 2.3 1.6 .1 1.6-2.2 1.6 .3 1.6-2.8 1.6 .8 1.6-2.7 1.6 3.2 1.3 3.3 0 .5"/>
<path d="M33.9,143.3l.5-1.5 .5-.8 .5-2.1 .5-.5 .5-.9 .5-.3 .5-1.8 .5 .3 .5-.7 .5-.1 .5-1.6 1.6-.6 1.6-.2 1.6 .3 1.6-.2 1.6-.5 1.6 0 1.6-.3 1.6 .3 1.6-.7 1.6 1 1.6 1 1.6 .4 1.6 1 1.6 1.6 1.6 2.1 1.6 1.7 1.6 2.1 1.6 2 1.6 1.7 1.6 2.2 1.6 4.3 1.6 2.9 1.6 2.6 1.6 1.6 1.6 2.2 1.6 4.3 1.6 1.5 1.6 4.3 1.6-.2 1.6 3.2 1.6 1.9 1.6 1.4 1.6 1.1 1.6 2.9 1.6-.8 1.6 3.4 1.6 1.2 1.6 1.7 1.6-.2 1.6 1.4 1.6 3.1 1.6 2.4 1.6-1.8 1.6 3.5 1.6 .3 1.6 4 1.6-1 1.6 2.6 1.6-1.3 1.6 1 1.6 4.4 1.6-5.7 1.6 1.4 1.6 1.9 1.6-1.6 1.6 1 1.6-1.5 1.6-.7 1.6 3.7 1.6-5.8 .4 3.2"/>
<path d="M9,204.2l1.6 2.8 1.6-3 1.6-.9 1.6 .2 1.6 2.2 1.6-2.7 1.6-3.2 1.6 2.4 1.6-1.3 1.6 3.1 1.6-2.9 1.3-2.7 0 1.1"/>
<path d="M33.9,143.7l.5-1.7 .5-1.3 .5 .2 .5-1.4 .5-.5 .5-.7 .5-.6 .5-.5 .5 .1 .5-1.1 .5 .7 1.6-1.4 1.6 .2 1.6-1.6 1.6 .9 1.6-.2 1.6 .2 1.6-1.3 1.6 .3 1.6 .2 1.6 0 1.6 .6 1.6 .7 1.6 2 1.6 1 1.6 2.1 1.6 1.9 1.6 3 1.6 2 1.6 3 1.6 2.3 1.6 2.1 1.6 2.2 1.6 6 1.6 2.5 1.6 .6 1.6 3.4 1.6 4.7 1.6 .1 1.6 3.7 1.6 .2 1.6 3.5 1.6 3.2 1.6 2.2 1.6 .4 1.6 .8 1.6 1.7 1.6 4 1.6-2.8 1.6 5.6 1.6-3.7 1.6 2.8 1.6 1.4 1.6-1 1.6 3.9 1.6-1.2 1.6 .6 1.6-.2 1.6 4.1 1.6 1 1.6-1.4 1.6 3.2 1.6 1.5 1.6-3.1 1.6 2.5 1.6-.5 1.6 .3 1.6-.6 1.6 .2 1.6-.8 1.6-3.3 .4 3.4"/>
<path d="M9,203.1l1.6 2.1 1.6 1.7 1.6 .9 1.6-4.5 1.6 .3 1.6 .1 1.6-2.4 1.6 .4 1.6 5.9 1.6-4 1.6 .1 1.3 .1 0 .1"/>
<path d="M33.9,145.9l.5-1.8 .5-.5 .5-1.5 .5-.4 .5-1.1 .5-1 .5-.5 .5-1.1 .5-1 .5 .5 .5-.5 1.6-1.2 1.6-.5 1.6 0 1.6 0 1.6 .6 1.6-.9 1.6 .7 1.6-1 1.6 .3 1.6 1.3 1.6 .7 1.6 .8 1.6 1.1 1.6 2.3 1.6 1.8 1.6 2.4 1.6 2.4 1.6 3.8 1.6 2.9 1.6 2.9 1.6 3.1 1.6 2.4 1.6 1.4 1.6 2.6 1.6 3.7 1.6 2.9 1.6 3.2 1.6 2.1 1.6 2 1.6 4.7 1.6-2.1 1.6 3 1.6 5.8 1.6-1.3 1.6 .5 1.6 3.5 1.6 .3 1.6 3.7 1.6 .1 1.6 1.3 1.6 1.7 1.6-3 1.6 5.5 1.6 1.8 1.6-.3 1.6-1.8 1.6 2.5 1.6-2.9 1.6-1.7 1.6 1.2 1.6 0 1.6 1.8 1.6-4.6 1.6 2.2 1.6 1.3 1.6-1.9 1.6 3.4 1.6-2.4 1.6 .6 1.6-1.6 .4 3.9"/>
<path d="M9,205.3l1.6 .2 1.6-.6 1.6 1.6 1.6-.5 1.6 .8 1.6-2.8 1.6 2.8 1.6-1.6 1.6 2 1.6-3 1.6 6.7 1.3-2.2 0 .8"/>
<path d="M33.9,148.1l.5-2 .5-1 .5-1.6 .5-.1 .5-1.3 .5-.1 .5-1.6 .5-.6 .5-.3 .5-.5 .5-.4 1.6-.7 1.6-1 1.6-.3 1.6-.6 1.6 .4 1.6-.2 1.6 .2 1.6 .4 1.6-.9 1.6 1.3 1.6 1.1 1.6 .7 1.6 1.4 1.6 1.5 1.6 2.9 1.6 1.7 1.6 3.3 1.6 2.2 1.6 2.4 1.6 2.9 1.6 1.4 1.6 2 1.6 3.9 1.6 2.5 1.6 2.3 1.6 3.7 1.6 3.5 1.6 1.7 1.6 1.6 1.6 3.5 1.6 3.5 1.6 1.3 1.6 2 1.6-.3 1.6 3 1.6 2 1.6 1 1.6 1.9 1.6-.2 1.6 4.8 1.6-1.8 1.6-2.3 1.6 6.4 1.6-2 1.6 5.5 1.6-5.6 1.6-.4 1.6 1.1 1.6 1.2 1.6 .7 1.6-.9 1.6 3.6 1.6-.9 1.6 3.9 1.6-4.7 1.6 1 1.6-2.5 1.6 .1 1.6-2.1 1.6 .5 .4-1.9"/>
<path d="M9,209.1l1.6-.2 1.6-2.3 1.6 3.8 1.6-5.7 1.6 .2 1.6 1.4 1.6 2.4 1.6-4.7 1.6-.7 1.6 4 1.6-4.9 1.3 4.5 0-2.5"/>
<path d="M33.9,145.9l.5-2.6 .5-.4 .5-3 .5 .5 .5-1.2 .5-.3 .5-1.5 .5-.4 .5-.4 .5 0 .5-1.3 1.6 0 1.6-.6 1.6 .1 1.6-.6 1.6 1 1.6 0 1.6-.8 1.6 .8 1.6 .3 1.6 .2 1.6 1.3 1.6 .5 1.6 1.5 1.6 .9 1.6 1 1.6 2.1 1.6 1.2 1.6 3.8 1.6 .8 1.6 4.1 1.6 3.2 1.6 1 1.6 4.3 1.6 2.5 1.6 1.3 1.6 5.5 1.6 1.4 1.6 3.1 1.6 2.4 1.6 1.3 1.6 3.1 1.6 4.2 1.6-.8 1.6 4.1 1.6 1.6 1.6 3.2 1.6-1.9 1.6 2.7 1.6 2 1.6 1.7 1.6 1.7 1.6-2.2 1.6 4.4 1.6-1.8 1.6-1 1.6 2.7 1.6-.1 1.6 .1 1.6-3.1 1.6-.8 1.6 2.5 1.6-2.8 1.6 3 1.6-3.2 1.6 3.7 1.6-3.3 1.6 1.3 1.6 1.6 1.6 1.5 1.6-4.1 .4 2.4"/>
<path d="M9,201.1l1.6-.2 1.6-.8 1.6 1.9 1.6 .5 1.6-3.1 1.6 1.6 1.6 2.9 1.6-2.6 1.6-1.1 1.6-.2 1.6 1 1.3-3.6 0 4.5"/>
<path d="M33.9,146.5l.5-.3 .5-1.5 .5-1.8 .5-.7 .5-.8 .5-1.3 .5-.6 .5-.2 .5-.3 .5-.7 .5-.7 1.6 .2 1.6-1.3 1.6 0 1.6 .1 1.6-.1 1.6-.5 1.6 .2 1.6 .3 1.6 0 1.6-.2 1.6 1.2 1.6 .7 1.6 1.9 1.6 .8 1.6 1.1 1.6 2.2 1.6 1.6 1.6 3 1.6 1.7 1.6 2.4 1.6 1.7 1.6 2.3 1.6 4 1.6 3.5 1.6 1.7 1.6 2.5 1.6 3.6 1.6 .4 1.6 1.4 1.6 1.2 1.6 1.5 1.6 2.4 1.6 3.6 1.6 2.4 1.6 1.8 1.6 1.4 1.6 3.4 1.6 2.5 1.6-2.3 1.6 3.7 1.6 1.3 1.6-.4 1.6-.3 1.6 4 1.6-5.1 1.6 1.8 1.6-1.6 1.6 2.5 1.6-.3 1.6-3 1.6 3.2 1.6 3 1.6-2.4 1.6 .9 1.6 2.4 1.6-1 1.6 1.7 1.6-.9 1.6 .9 1.6-1.5 .4 3.6"/>
<path d="M9,195.9l1.6 .6 1.6-1.2 1.6 3.5 1.6 1.1 1.6-5.5 1.6 5.7 1.6-4.4 1.6 .2 1.6-2.8 1.6 3.4 1.6-4.3 1.3 3.6 0-1.1"/>
<path d="M33.9,143.8l.5-1.4 .5-.9 .5-1.1 .5-.7 .5-1 .5-1.2 .5 .2 .5-.6 .5-.4 .5-.8 .5-.6 1.6 .2 1.6-.6 1.6-.9 1.6 0 1.6-.2 1.6 0 1.6-.4 1.6-.1 1.6 .6 1.6-.4 1.6 .6 1.6 .7 1.6 2 1.6 .8 1.6 1.5 1.6 1.7 1.6 2 1.6 2.7 1.6 .8 1.6 2 1.6 4.2 1.6 2.2 1.6 3.1 1.6 4.2 1.6 1.8 1.6 1.8 1.6 4.9 1.6 .4 1.6 1.1 1.6 1.6 1.6 1.7 1.6 1.2 1.6 .8 1.6 2.6 1.6 2.2 1.6 2.7 1.6 .5 1.6 4.8 1.6-.1 1.6 2.2 1.6-1.9 1.6 2 1.6 .2 1.6 2.7 1.6-1.8 1.6-4.3 1.6 4.2 1.6-2 1.6 1.7 1.6-1.8 1.6 1.7 1.6-1.4 1.6-.5 1.6 2.5 1.6-2.4 1.6 1.8 1.6 .5 1.6-.5 1.6 4.2 1.6-3 .4 .6"/>
<path d="M9,201.4l1.6-3.9 1.6 3.8 1.6-2 1.6 3.2 1.6-2.3 1.6-1.4 1.6 1.7 1.6 3 1.6-3.4 1.6-.3 1.6-1.4 1.3 3.3 0-2.1 .5 1.8 .5-.5 .5 2.2 .5-2 .5-3.1 .5 4.1 .5-3.4 .5 3.8 .5 1.2 .5 1.8 .5-3.4 .5 1.3 .5 1.4 .5 .4 .5-.1 .5-.6 .5 1.8 .5 .6 .5-2.5 .5-.1 .5 .3 .5 1.1 .5-1.7 1.6 .6 1.6-.6 1.6 4.7 1.6-6.9 1.6 .3 1.6 1 1.6 1 1.6-2.8 1.6 2.6 1.6-.4 1.6-2.3 1.6-.3 1.6 3.2 1.6-5.8 1.6 7.2 1.6-1.3 1.6-2.6 1.6 1.2 1.6-1.9 1.6 3.6 1.6 1.7 1.6-1.3 1.6-.6 1.6 1.2 1.6-1.8 1.6-2.2 1.6 3.6 1.6 .4 1.6 .3 1.6-.6 1.6 2.1 1.6-2 1.6-.1 1.6 2.4 1.6 0 1.6-2.6 1.6 .5 1.6-1.1 1.6-1.9 1.6 1.1 1.6 .6 1.6-4.8 1.6-1.3 1.6 1 1.6-.1 1.6-.5 1.6-.5 1.6-1.6 1.6 2.8 1.6 1.1 1.6 1.1 1.6-2.1 1.6 3.2 1.6 .4 1.6-1.2 1.6 1.9 1.6-3.6 1.6 2.9 1.6-1.6 1.6 2.1 .4-2.7"/>
<path d="M9,203l1.6-1.7 1.6-.7 1.6-.2 1.6-2.4 1.6 3 1.6-.5 1.6 .9 1.6-1.9 1.6 .8 1.6 .8 1.6 1.3 1.3-.7 0-.5 .5 1 .5-1.1 .5 .3 .5 1.5 .5-2.1 .5 1.9 .5-.8 .5-2.3 .5-2.4 .5-1.4 .5 3.8 .5 .7 .5-2.3 .5 3.8 .5-.5 .5 .2 .5-1.3 .5 .5 .5 2.7 .5-2.8 .5 1.5 .5 1.3 .5-1 1.6 .3 1.6-.8 1.6 4.1 1.6 .8 1.6 .8 1.6 .8 1.6-2.3 1.6 2.6 1.6-3.3 1.6 4.1 1.6-2.3 1.6-1 1.6-1.4 1.6 2.4 1.6-1.1 1.6-3 1.6 .7 1.6 .6 1.6-3.3 1.6 0 1.6 1.7 1.6 .4 1.6-.7 1.6-3.5 1.6 .9 1.6-.4 1.6 3.7 1.6-4.5 1.6 1.1 1.6-.8 1.6 1 1.6-.6 1.6-.9 1.6-1.5 1.6 .3 1.6-1.2 1.6 3.3 1.6 .5 1.6 1.5 1.6-5 1.6 2.9 1.6-1.8 1.6 1.4 1.6 .5 1.6 .6 1.6 1.9 1.6-.7 1.6 1.1 1.6-.3 1.6-1.6 1.6-1.6 1.6 1.8 1.6 2.2 1.6 1.1 1.6 .7 1.6-2.5 1.6-.6 1.6-1.3 1.6 1.8 1.6-3.3 .4 1.6"/>
<path d="M9,201.2l1.6 .9 1.6-.5 1.6-1.7 1.6-1.1 1.6 .6 1.6 3.1 1.6-1 1.6 .4 1.6 2 1.6 1.1 1.6 1.1 1.3 .9 0-1.9 .5-.3 .5 0 .5-.3 .5 4.1 .5-4.2 .5-1.9 .5-.4 .5-.4 .5-1.2 .5 1.8 .5-.4 .5-.9 .5-1.2 .5-.1 .5 1.2 .5-.2 .5-3.3 .5 .8 .5 2.3 .5-2 .5-2.9 .5 3.3 .5 2.2 1.6 5.7 1.6-5.2 1.6 2.2 1.6-1.5 1.6 1.1 1.6 .5 1.6 .3 1.6-.1 1.6 1.8 1.6-2.1 1.6-.8 1.6 4.3 1.6-1.9 1.6-2.9 1.6-1 1.6-1.2 1.6 0 1.6 2.5 1.6 1.2 1.6-3.1 1.6 4.6 1.6 1.6 1.6-1.7 1.6-.9 1.6 2.7 1.6-1.9 1.6 .3 1.6-.2 1.6 1.4 1.6-2.2 1.6-2.3 1.6 2.5 1.6-1.3 1.6-.9 1.6-3.5 1.6 .6 1.6 4.7 1.6-5.4 1.6 1.7 1.6-1.1 1.6 1.6 1.6 2.7 1.6-.6 1.6 .2 1.6-2.7 1.6 4.1 1.6-.2 1.6 1.7 1.6-1 1.6 .2 1.6 1.1 1.6 .2 1.6-3.9 1.6-.3 1.6-.8 1.6-2 1.6 2.2 1.6 2.3 1.6-.9 1.6-2.5 .4 2.5"/>
<path d="M9,205l1.6-4 1.6 2.8 1.6-2.2 1.6 4.6 1.6-3.2 1.6-.4 1.6-.5 1.6-.2 1.6 1.9 1.6 0 1.6-6.1 1.3 5.4 0 .4 .5 .7 .5-1.6 .5 1.3 .5 .5 .5 0 .5 2.5 .5-2.2 .5 2.6 .5-2 .5-2 .5 3.9 .5-4.5 .5 0 .5 .4 .5-2 .5 .7 .5 1.4 .5 2 .5-4.1 .5 1.8 .5 .4 .5-2 .5-1.1 1.6-.2 1.6 1 1.6-2.3 1.6-.7 1.6 3 1.6 1.5 1.6-.8 1.6-2.1 1.6-3 1.6 2 1.6 3.5 1.6-1.9 1.6 2.2 1.6-1.5 1.6 3.5 1.6-3.4 1.6 1.1 1.6 .2 1.6 .3 1.6 1.5 1.6-.5 1.6-2.2 1.6 1.3 1.6 1.3 1.6-.8 1.6-.4 1.6-1.8 1.6 .2 1.6-.2 1.6 .7 1.6 1.9 1.6 2.5 1.6-.2 1.6-.8 1.6 1.1 1.6 1.1 1.6-1.2 1.6-.8 1.6-1.4 1.6 1.4 1.6-.9 1.6 .1 1.6-1.2 1.6-.1 1.6 .9 1.6-1.4 1.6-3.5 1.6 1.1 1.6 1.7 1.6-.1 1.6-2.4 1.6 3 1.6-.5 1.6 3 1.6-2.8 1.6-1.1 1.6 1.7 1.6 4.8 1.6-5.6 1.6 3.7 .4-3.1"/>
<path d="M9,202.8l1.6 2.7 1.6-1.7 1.6 .2 1.6-2.8 1.6 .5 1.6-2.6 1.6 1.6 1.6 1.9 1.6-1 1.6-1.2 1.6 1.3 1.3-4.1 0 6.3 .5-4.6 .5 3.4 .5-3.2 .5 1.2 .5 .3 .5 3.6 .5-3.2 .5 1.3 .5 .5 .5-.8 .5 2.9 .5 .5 .5-3.7 .5 3.6 .5-1.3 .5 .3 .5 5.3 .5-1 .5-3.8 .5 .4 .5 .2 .5-.3 .5-.1 1.6-.5 1.6 1.9 1.6-.9 1.6-.5 1.6-1.5 1.6 2 1.6 2.1 1.6-4.2 1.6-2.4 1.6 3.1 1.6-3.5 1.6 .4 1.6 .5 1.6 1.1 1.6 .9 1.6-2 1.6-1.8 1.6 .7 1.6 2.1 1.6-2.1 1.6 3.5 1.6-3.5 1.6 1 1.6 .3 1.6-.9 1.6 3 1.6-3.5 1.6 0 1.6 .9 1.6-1.9 1.6-.6 1.6 2.6 1.6-.1 1.6 1.2 1.6-1 1.6 3.2 1.6-1.7 1.6-1.1 1.6 .6 1.6 1 1.6 1.1 1.6 .5 1.6 .2 1.6-6.5 1.6 6.5 1.6-4.2 1.6 1.3 1.6-1.6 1.6 4 1.6 .1 1.6-6.4 1.6 6.5 1.6-2.9 1.6-2.1 1.6 1.2 1.6 2.8 1.6-3.3 1.6-.8 1.6 0 1.6 3.3 .4-4.7"/>
<path d="M9,204.9l1.6-2.5 1.6 0 1.6-.4 1.6-.2 1.6-2.8 1.6 3.6 1.6 .6 1.6 1.6 1.6-2.1 1.6 1.2 1.6 1 1.3 .7 0-.7 .5 2.2 .5-.8 .5-1.4 .5-1.4 .5 1.3 .5-.2 .5 1.1 .5 2.5 .5-4.6 .5 .1 .5-2.6 .5 .2 .5 1.1 .5 1.3 .5 3.1 .5-2.2 .5 1.4 .5 .6 .5-4.3 .5 3.7 .5-.2 .5 1.2 .5 .7 1.6 3 1.6-1.3 1.6 1.2 1.6-2.8 1.6 2.7 1.6-5 1.6 2.5 1.6-.9 1.6 1.4 1.6-4.1 1.6 2.4 1.6 2.6 1.6-1.8 1.6-.9 1.6 0 1.6 2 1.6-1.1 1.6-.1 1.6 1.4 1.6 1.7 1.6-2 1.6 3.3 1.6-2.1 1.6 .2 1.6 .6 1.6-2.3 1.6-.3 1.6 2 1.6-2 1.6-1.5 1.6 .6 1.6 1.7 1.6-2.4 1.6 1.8 1.6-.3 1.6 0 1.6 2.4 1.6-1.5 1.6-.5 1.6 1.8 1.6 .6 1.6-1.8 1.6 3.3 1.6-3.6 1.6 5.5 1.6 0 1.6 0 1.6-.3 1.6 .3 1.6-2.9 1.6 1.6 1.6-1.7 1.6-3.2 1.6-4.7 1.6 1.3 1.6 5.2 1.6-3.8 1.6-.8 1.6 3.1 1.6-2.5 .4-.2"/>
<path d="M9,203.2l1.6-1.8 1.6 6.3 1.6-3.5 1.6-.9 1.6 .5 1.6-2.3 1.6-1.1 1.6 2.7 1.6 3.7 1.6-6.3 1.6 .6 1.3 .8 0 .2 .5 .9 .5-3.9 .5 2.6 .5-.1 .5 2.5 .5-1.8 .5-1 .5-1.8 .5 2.6 .5-1.6 .5 2.4 .5-.6 .5 4.1 .5-3.3 .5 2 .5-1.7 .5 1.2 .5 .9 .5 .8 .5 3.8 .5-1.2 .5-3.2 .5 2.4 1.6-.1 1.6 1.5 1.6 0 1.6-.5 1.6-1.6 1.6-1.2 1.6 1.5 1.6 0 1.6-1.9 1.6 1.9 1.6-5.2 1.6 3.6 1.6 .1 1.6-1.3 1.6 .4 1.6-2.6 1.6-1.1 1.6 1.4 1.6-.9 1.6 .7 1.6-2.5 1.6 1.9 1.6-5.3 1.6 6.7 1.6-1.5 1.6 .5 1.6-2.9 1.6 1 1.6-1.3 1.6 4.6 1.6 1.1 1.6-.2 1.6-5 1.6 5.5 1.6 .6 1.6-3.4 1.6-1.2 1.6 .5 1.6-.3 1.6 1.8 1.6-.2 1.6 .6 1.6-5.3 1.6 4 1.6 2.9 1.6-1.5 1.6 1.1 1.6-.4 1.6-.2 1.6-.2 1.6-1.8 1.6 2.3 1.6-1.1 1.6 .1 1.6-2.1 1.6-.2 1.6 2.3 1.6 1 1.6-4.1 1.6 .5 .4 .8"/>
<path d="M9,198.4l1.6-1 1.6 .2 1.6-.7 1.6 .1 1.6 3.5 1.6-.9 1.6-1.1 1.6 2 1.6-1.9 1.6 4 1.6-4 1.3 1.8 0-2.1 .5-1 .5 3.9 .5-1 .5-2.7 .5 2.9 .5-3.1 .5 .9 .5 0 .5-1.1 .5-.9 .5 .2 .5 1 .5 .1 .5 4.4 .5-1.3 .5-3.3 .5 .9 .5 2.1 .5-2.7 .5 2.1 .5-.2 .5 1.6 .5-1.8 1.6 5.1 1.6-3.3 1.6 1.8 1.6 1.8 1.6-4.5 1.6 1.2 1.6-2.9 1.6 .1 1.6 3.3 1.6-3.7 1.6 1.8 1.6 2.9 1.6-1.9 1.6 3.8 1.6-2.4 1.6 4 1.6-1.2 1.6-1.4 1.6-.5 1.6 .7 1.6 5.5 1.6-2.1 1.6-1.3 1.6-.3 1.6 0 1.6 4.3 1.6-2.9 1.6-3.5 1.6 4.5 1.6-1.6 1.6-4.2 1.6 3.2 1.6-.3 1.6-.8 1.6 1.3 1.6-.8 1.6 3.2 1.6-4.6 1.6 3.2 1.6-6.4 1.6 4.6 1.6-2 1.6-1.5 1.6 .8 1.6-.5 1.6-.5 1.6 3.4 1.6-.1 1.6-1.9 1.6 .5 1.6 1 1.6 1.8 1.6-2.4 1.6 2.1 1.6-4 1.6-2.6 1.6 3.3 1.6 .9 1.6 1.5 1.6-.3 .4 1.5"/>
<path d="M9,201.7l1.6 2.2 1.6-.8 1.6 2.5 1.6-3.5 1.6 4.3 1.6-1.8 1.6 1.6 1.6-.6 1.6-3.6 1.6-2.9 1.6 4.6 1.3-3.9 0 4.1 .5-3.9 .5-1.2 .5 2.8 .5-2.8 .5 3.1 .5-2.2 .5 2.9 .5-.7 .5 .1 .5 .2 .5 .1 .5-2.4 .5 2.3 .5-3.4 .5 1.6 .5 .5 .5-.6 .5 4.2 .5-1.2 .5-.9 .5-.2 .5 1.8 .5 .8 1.6-1 1.6-3.4 1.6 2.8 1.6-2.2 1.6-2.5 1.6 2.2 1.6 .1 1.6-2.7 1.6 2.1 1.6 .7 1.6-.8 1.6-.8 1.6-.7 1.6 3.2 1.6 1.1 1.6 0 1.6-2 1.6 2.1 1.6 2.6 1.6-.3 1.6-2.6 1.6 .8 1.6 3.9 1.6-7.9 1.6 6 1.6-2.9 1.6 1.5 1.6-1.3 1.6-2.6 1.6-.7 1.6 3.8 1.6-1.5 1.6 5 1.6-2.5 1.6-.8 1.6 2.4 1.6-1.7 1.6 .1 1.6-.5 1.6 1.2 1.6-3.2 1.6 6.3 1.6-3 1.6 1.5 1.6 1.5 1.6-2.4 1.6 2.7 1.6 0 1.6-1.7 1.6 3.1 1.6-1.9 1.6-1.2 1.6-2.5 1.6 5.8 1.6-4.9 1.6-.6 1.6 1.4 1.6-2.1 1.6-2.2 1.6 .1 .4-.9"/>
<path d="M9,198.2l1.6 2.7 1.6-.7 1.6 .7 1.6-2.1 1.6 5.1 1.6-1.4 1.6 .4 1.6 3.5 1.6-.2 1.6-1.1 1.6 .1 1.3 2.2 0-1.4 .5 1.2 .5 0 .5 .7 .5-2.6 .5-4.3 .5 2.8 .5-.6 .5 .3 .5-1.7 .5-1.3 .5 1.1 .5-2.6 .5 .5 .5 4.1 .5-1.2 .5 .6 .5-1.6 .5 1.8 .5-1.5 .5-.1 .5 2.1 .5 1.9 .5-2.4 1.6 5.9 1.6-3.4 1.6 2.6 1.6-4.1 1.6 3.8 1.6-.9 1.6 1.3 1.6-2.1 1.6 1.5 1.6-3.8 1.6 3.3 1.6 .8 1.6 3.7 1.6-6.7 1.6 .5 1.6 3.2 1.6-.2 1.6-4 1.6 2.5 1.6-4.3 1.6 5.8 1.6 1 1.6-3.2 1.6 .6 1.6-.2 1.6 .3 1.6 .1 1.6-3.1 1.6 3.3 1.6-1.7 1.6-.8 1.6 1.2 1.6 .1 1.6-1.6 1.6 1.5 1.6 .8 1.6 1.6 1.6-2.5 1.6 2.5 1.6-1.1 1.6-.5 1.6 1.1 1.6-3 1.6 1.4 1.6 1.6 1.6 .9 1.6 2.1 1.6-5.1 1.6 4.2 1.6 .8 1.6-2.1 1.6 3.2 1.6 .5 1.6-1.8 1.6 1.1 1.6-.4 1.6-3.7 1.6 5.7 1.6-4.8 1.6 .6 .4-1.1"/>
<path d="M9,203.2l1.6-.5 1.6-.2 1.6 .4 1.6 1.2 1.6-4.3 1.6 2.7 1.6-.7 1.6-2.4 1.6 4.1 1.6-.8 1.6-.6 1.3 1.7 0-2.1 .5-.8 .5 1 .5 2.3 .5 .4 .5 .5 .5-3.8 .5 .8 .5 .3 .5-2.8 .5 3.4 .5 1.9 .5-.7 .5 .6 .5-2.4 .5 3.9 .5-1.1 .5 2 .5-4.2 .5 3 .5-2.1 .5 .1 .5 1.4 .5-3.7 1.6-1.3 1.6 6.1 1.6-.8 1.6 1.2 1.6-2.3 1.6 .3 1.6-4.1 1.6-.4 1.6 2.2 1.6 .2 1.6 .6 1.6-2.8 1.6 0 1.6-.3 1.6 1.5 1.6-.6 1.6 2.2 1.6-.4 1.6 2.8 1.6-1.9 1.6-1.5 1.6 2.1 1.6 1.2 1.6-.6 1.6-.5 1.6-4.1 1.6 2 1.6 1.1 1.6 1.4 1.6-1.3 1.6 3.7 1.6-5.7 1.6 7.2 1.6-3.1 1.6-1.1 1.6 .2 1.6 .5 1.6-2.2 1.6-.9 1.6 5.5 1.6-4 1.6 4.1 1.6-4 1.6 3.4 1.6-2 1.6 .2 1.6 1.2 1.6-4.6 1.6 .6 1.6 2.2 1.6-3.4 1.6-2 1.6 .5 1.6-1.4 1.6-1.3 1.6 3.2 1.6-4.2 1.6-.1 1.6 .1 1.6 .7 .4 2"/>
<path d="M9,200.2l1.6 3.6 1.6 1.3 1.6-2 1.6-1.1 1.6-.8 1.6 5.1 1.6-4.2 1.6 1.2 1.6-1.4 1.6-2.6 1.6 2.7 1.3-1 0-.2 .5 2.3 .5-1.7 .5 .8 .5 .9 .5-3.6 .5 7.3 .5-5.4 .5-.6 .5 5 .5-2.2 .5 .7 .5-1.3 .5 4.5 .5-.4 .5-1.9 .5 .3 .5 3.9 .5-1.9 .5-.8 .5-1.6 .5-2.2 .5 1.8 .5 4.8 1.6-5.4 1.6 3.6 1.6-.9 1.6-.5 1.6-.1 1.6 1.9 1.6-2.1 1.6-2.1 1.6-.3 1.6-2.5 1.6 3.1 1.6 3.4 1.6-5.5 1.6 3.5 1.6-.9 1.6 3.1 1.6 .1 1.6 1.3 1.6-3.5 1.6 4.5 1.6 0 1.6-5.6 1.6 3.8 1.6 1.3 1.6-.4 1.6 .6 1.6 2.2 1.6-3.4 1.6 .4 1.6 2.2 1.6-2 1.6-1.6 1.6 4.3 1.6-6.3 1.6 1.7 1.6-2.2 1.6 2.4 1.6 2 1.6-4.4 1.6 2.3 1.6 2.2 1.6-3.3 1.6-6 1.6 5.8 1.6-1.7 1.6-.6 1.6 5 1.6-4 1.6 1.6 1.6 3.6 1.6-2.7 1.6-2.7 1.6-2.1 1.6-1.8 1.6 1.8 1.6-1.6 1.6-1.6 1.6 4.3 1.6 1.2 1.6-.8 .4 2.3"/>
<path d="M9,202.5l1.6 .6 1.6 1.1 1.6 1.1 1.6 .5 1.6 .3 1.6 1.5 1.6 .6 1.6-2.4 1.6 1.1 1.6 1.4 1.6-5.5 1.3 4 0-5.2 .5 1.9 .5 0 .5 1 .5 1 .5-3.8 .5 2.6 .5 3.5 .5-2.6 .5 2 .5-.1 .5-1.8 .5-.5 .5 1.1 .5-7.2 .5 5.3 .5-2.4 .5-.2 .5-1.3 .5-1.8 .5 1.7 .5-.2 .5 2.6 .5-2.9 1.6 2.4 1.6-2.5 1.6 6.2 1.6-1.1 1.6 1.5 1.6-3.2 1.6-.6 1.6 1.6 1.6 2.9 1.6-7 1.6 3.4 1.6 1.4 1.6-1.9 1.6 .5 1.6-1 1.6 5.1 1.6-5.3 1.6 .1 1.6 2 1.6-.4 1.6 2.2 1.6 4.8 1.6-1.8 1.6-3.6 1.6 1.5 1.6 2.8 1.6-5.7 1.6 2.8 1.6-.9 1.6-.8 1.6-1.2 1.6 1.5 1.6 0 1.6-3 1.6 1.7 1.6-1.1 1.6 2.7 1.6-.9 1.6 .5 1.6-.5 1.6 2.8 1.6-.8 1.6 .3 1.6-.5 1.6 1.2 1.6 .3 1.6 .2 1.6-.8 1.6 1.7 1.6-.6 1.6-.9 1.6-.6 1.6 .7 1.6-.8 1.6-2.8 1.6 3.2 1.6-3.2 1.6-.1 1.6 .9 1.6-5.6 .4 5.5"/>
<path d="M9,200.6l1.6-.2 1.6 1.7 1.6-2.2 1.6 4.4 1.6-4.9 1.6 6 1.6-1.6 1.6-.4 1.6 .1 1.6 .6 1.6-.7 1.3 1.3 0-4.9 .5-1.4 .5 1.7 .5-.4 .5-1.3 .5 1 .5-.5 .5 1.5 .5 .7 .5-1.4 .5 .2 .5-.6 .5 1.7 .5 1.7 .5-5.5 .5 2.4 .5-1.2 .5 2.7 .5-2.5 .5-.6 .5-.2 .5 2.1 .5-1.3 .5 .8 1.6-.2 1.6-.3 1.6 2.1 1.6-.2 1.6 1.8 1.6-2.7 1.6 .4 1.6 .2 1.6-.3 1.6 0 1.6-2.4 1.6-.1 1.6 3.1 1.6-2.3 1.6 1.9 1.6 2.7 1.6-2.1 1.6-1.3 1.6 3.4 1.6-.4 1.6 2.5 1.6-.8 1.6 .3 1.6-3.5 1.6 2.6 1.6 .8 1.6-2.9 1.6 .5 1.6 1 1.6-.6 1.6-.6 1.6-1.9 1.6 1.2 1.6 1.3 1.6-1 1.6 .7 1.6-2.5 1.6 1.6 1.6 1.3 1.6-2 1.6-.4 1.6 3.2 1.6-.4 1.6-.5 1.6-.6 1.6 .3 1.6 2 1.6 .3 1.6 1.3 1.6-.9 1.6 3.3 1.6-2.3 1.6-1.2 1.6 .4 1.6 1.2 1.6 .4 1.6-2 1.6 1.4 1.6-1.8 1.6 .8 .4 2.6"/>
<path d="M9,198.4l1.6-1.7 1.6 2.9 1.6-.7 1.6-2.3 1.6 1.4 1.6-3.5 1.6 1.7 1.6-2.1 1.6 3.1 1.6-3.2 1.6 .6 1.3 2.7 0-4.8 .5 5.8 .5 .7 .5 2.3 .5-.4 .5 .8 .5-1.1 .5 .3 .5-.7 .5-3.3 .5 2.3 .5 3.2 .5-1.9 .5 2.5 .5-.3 .5 1 .5-.6 .5-3.4 .5-.6 .5 4 .5-2.4 .5 .1 .5-.5 .5 1.1 1.6-.4 1.6 3.3 1.6-1.4 1.6-.5 1.6-.1 1.6 3 1.6 .4 1.6-1.3 1.6-1.8 1.6 4.8 1.6-5.4 1.6 .3 1.6 3.3 1.6-3.8 1.6 1.8 1.6-6.6 1.6 4.4 1.6-3.2 1.6-.5 1.6-1.1 1.6-.5 1.6 4.9 1.6-.6 1.6-3.3 1.6 2.5 1.6 1.4 1.6-.7 1.6-1.5 1.6 3.9 1.6-2 1.6-.7 1.6-.2 1.6 2.2 1.6-2.6 1.6 2.3 1.6-.6 1.6 1.7 1.6-2.1 1.6 2.8 1.6-6.5 1.6 .9 1.6 4.4 1.6-2.5 1.6 1.1 1.6-1 1.6 0 1.6 .6 1.6 1 1.6 3.6 1.6-3.2 1.6-2 1.6 3.7 1.6-.5 1.6 1.3 1.6-1.9 1.6 3.5 1.6-1.1 1.6 .9 1.6 .4 1.6 .7 .4 .4"/>
<path d="M9,199.3l1.6 2.1 1.6-1.2 1.6 .1 1.6-1.1 1.6 3 1.6-3.1 1.6 2.7 1.6 .5 1.6 .9 1.6-2.7 1.6 .8 1.3 1.8 0 1 .5-.9 .5 1.5 .5-.6 .5-1.8 .5 3.1 .5-1.2 .5-.4 .5-2.1 .5 3.3 .5-3.2 .5 3 .5-1.2 .5 3.4 .5 .5 .5-.4 .5 .5 .5 .6 .5 .3 .5-2.2 .5 2.8 .5-3.8 .5 1 .5-2.7 1.6-2.5 1.6 4.7 1.6 .9 1.6-2.9 1.6-2 1.6 1.2 1.6-.1 1.6 3.1 1.6-3 1.6 1.5 1.6 2.7 1.6-4 1.6 1.2 1.6-2 1.6 3.5 1.6-.7 1.6 .1 1.6 1.6 1.6-1.2 1.6-.3 1.6-1.5 1.6-1.4 1.6-.2 1.6 1.5 1.6-2.6 1.6 .3 1.6 .5 1.6 1.8 1.6-1.5 1.6 3.1 1.6-.7 1.6 4.2 1.6 3.6 1.6-2.6 1.6-3 1.6 1.2 1.6 .9 1.6-1.3 1.6-.6 1.6 2.8 1.6 .3 1.6-.9 1.6-3.8 1.6 3.2 1.6 2.1 1.6 .4 1.6-4.3 1.6 .6 1.6-2.3 1.6-.7 1.6 1 1.6-1.2 1.6-4 1.6 4.1 1.6-3.1 1.6-.1 1.6 1.6 1.6-.7 1.6-1 1.6 2 .4-1.7"/>
<path d="M176.5,207.1l1.6-1.1 1.6 .9 1.6-3.5 1.6 3 1.6-4 1.6 4.3 1.6 .3 1.6-3.1 1.6 3.2 1.6-2.8 1.6 .1 1.3 .6 0 1.1"/>
<path d="M201.4,146.2l.5-1.2 .5-2.2 .5-1.2 .5-.8 .5-.9 .5-1 .5-.2 .5-.7 .5-.9 .5 .5 .5-.7 1.6 .8 1.6-1.3 1.6-.4 1.6 .2 1.6 .2 1.6-.1 1.6-.5 1.6 .2 1.6-.1 1.6 .1 1.6 .1 1.6 1.5 1.6 .3 1.6 2.3 1.6 3 1.6 1.6 1.6 2.4 1.6 2.2 1.6 2.8 1.6 3 1.6 2.3 1.6 2.1 1.6 5.6 1.6 3.3 1.6 .4 1.6 3.9 1.6 .3 1.6 4.3 1.6 .4 1.6 5.4 1.6 1.5 1.6 .8 1.6 5 1.6 4 1.6-.2 1.6 1.8 1.6 1.6 1.6 1.3 1.6 2.5 1.6 .6 1.6-5.2 1.6 5.4 1.6-2.5 1.6 2.8 1.6-2.4 1.6 .5 1.6-2.9 1.6-1.6 1.6 2.6 1.6 1.4 1.6 .1 1.6 .7 1.6-.1 1.6 1.7 1.6-1.7 1.6 1.9 1.6-1.6 1.6 3.2 1.6 .1 1.6 1 .3 1.8"/>
<path d="M176.5,206l1.6-.7 1.6 .8 1.6-3.7 1.6-.9 1.6 2.2 1.6-2.1 1.6 1.5 1.6 0 1.6 1.3 1.6 1.7 1.6 .2 1.3-.4 0-1.6"/>
<path d="M201.4,146.2l.5-1.7 .5-.7 .5-1.4 .5-.6 .5-.2 .5-1.7 .5-.3 .5-.4 .5-.4 .5 .4 .5-.7 1.6-.6 1.6-1.9 1.6 .9 1.6-.2 1.6 0 1.6-.1 1.6-.2 1.6 .5 1.6-.2 1.6 .4 1.6 .4 1.6 1 1.6 1.4 1.6 1.6 1.6 1.2 1.6 1.8 1.6 1.9 1.6 2.9 1.6 1.5 1.6 2.5 1.6 2.9 1.6 2.2 1.6 3.2 1.6 3.9 1.6 1 1.6 4.1 1.6 2 1.6 1.6 1.6 3.1 1.6 3.5 1.6-.4 1.6 4.5 1.6 3.3 1.6-.4 1.6 5.3 1.6 1.2 1.6-.1 1.6 3.9 1.6-1 1.6 2 1.6 1.1 1.6 4.2 1.6 0 1.6 0 1.6 .7 1.6 .6 1.6-.9 1.6-1 1.6 .2 1.6-2.8 1.6-.3 1.6 2.2 1.6-1.9 1.6-3.9 1.6 5.8 1.6-3.8 1.6 4.8 1.6-2 1.6 2.2 1.6-4.1 .3 2.3"/>
<path d="M176.5,200.6l1.6 .7 1.6-1.8 1.6 1.1 1.6-4.2 1.6 1.5 1.6 1.3 1.6-1.8 1.6 4.6 1.6 .1 1.6-1.1 1.6 .1 1.3-1.6 0-2"/>
<path d="M201.4,145.9l.5-1.8 .5-1.1 .5-1.3 .5-.6 .5-.9 .5-1 .5 .6 .5-.8 .5-.7 .5 .4 .5-.9 1.6-.4 1.6-1.2 1.6 .1 1.6 .3 1.6 0 1.6 .1 1.6-.1 1.6 .1 1.6-.6 1.6 .1 1.6 .4 1.6 1.9 1.6 1.1 1.6 2.2 1.6 1 1.6 2.8 1.6 .4 1.6 3.9 1.6 1.2 1.6 3.2 1.6 2 1.6 .9 1.6 3.5 1.6 .9 1.6 3.4 1.6 1.8 1.6 2 1.6 1.4 1.6 1.9 1.6 2.4 1.6-1 1.6 6.1 1.6 .7 1.6 2.3 1.6 .5 1.6 3.8 1.6 1.1 1.6 5.1 1.6-2.5 1.6 5.8 1.6-1.6 1.6 3 1.6-.2 1.6-.5 1.6-1.5 1.6 4.7 1.6-3.8 1.6 2.3 1.6 3.3 1.6 .4 1.6-1.3 1.6-2.9 1.6 2.7 1.6 .3 1.6-1.7 1.6 3.3 1.6-2.3 1.6-.2 1.6-1 1.6-2.3 .3 .7"/>
<path d="M176.5,195.9l1.6 3 1.6 .3 1.6-.1 1.6-.7 1.6 .3 1.6 .3 1.6-.2 1.6 .7 1.6 2.6 1.6-2.6 1.6 .2 1.3-2.8 0 5.6"/>
<path d="M201.4,144.4l.5-.4 .5-2.2 .5-.6 .5-.3 .5-2.3 .5 0 .5-.1 .5-.8 .5 .2 .5-.5 .5-.3 1.6-.6 1.6-.8 1.6-.4 1.6-.2 1.6 .6 1.6-.5 1.6 .7 1.6-1 1.6-.2 1.6 .1 1.6 1.8 1.6 .4 1.6 1.3 1.6 .7 1.6 2.9 1.6 .4 1.6 2.8 1.6 2 1.6 3.4 1.6 1 1.6 3 1.6 2.6 1.6 2.6 1.6 2.4 1.6 2.9 1.6 2.4 1.6 .9 1.6 2.5 1.6 2.6 1.6 2.7 1.6 1.9 1.6 3.3 1.6 2.2 1.6 3.1 1.6 .5 1.6 3.5 1.6 1.1 1.6 .2 1.6 3.2 1.6 2.7 1.6-.1 1.6-.3 1.6 2.9 1.6 .9 1.6-.9 1.6 0 1.6-3.1 1.6 3.4 1.6 2.4 1.6 .1 1.6-1.4 1.6 2.3 1.6-2 1.6 .1 1.6 1.4 1.6-.2 1.6-2 1.6 .5 1.6 1.8 1.6-3 .3 .8"/>
<path d="M176.5,201.4l1.6 3.1 1.6-3.4 1.6 1.4 1.6-.2 1.6 .3 1.6 2.7 1.6-5.1 1.6 1.2 1.6 1.7 1.6-1.8 1.6-1.4 1.3 .3 0 2.6"/>
<path d="M201.4,145.1l.5-1 .5-1.7 .5-1 .5-1.5 .5-1 .5-.7 .5-1.2 .5-.5 .5-.3 .5-.6 .5 .1 1.6-.6 1.6-.6 1.6-.2 1.6-.1 1.6 .5 1.6 0 1.6-.8 1.6 .6 1.6-.3 1.6 .1 1.6 1 1.6 .9 1.6 1.4 1.6 1.4 1.6 2.7 1.6 1.5 1.6 3 1.6 3.4 1.6 3.7 1.6 1.8 1.6 3.1 1.6 3.5 1.6 2.1 1.6 4.1 1.6-.6 1.6 4.9 1.6 1.2 1.6 3.3 1.6 3.5 1.6 .7 1.6 1.4 1.6 2.5 1.6 1 1.6 2.2 1.6 .7 1.6 .5 1.6 0 1.6 3.5 1.6-.7 1.6-.9 1.6 .6 1.6 2.5 1.6-.8 1.6 2.3 1.6 2.1 1.6 3.9 1.6-3.7 1.6 2.5 1.6-4.4 1.6 1.8 1.6 1.5 1.6 .5 1.6-3.2 1.6 4.1 1.6-.8 1.6-.3 1.6 .2 1.6-1.6 1.6 2.4 1.6-1.2 .3-.8"/>
<path d="M176.5,200.7l1.6-1.8 1.6 .2 1.6 .7 1.6-.6 1.6-.7 1.6 .2 1.6 3.1 1.6-3.2 1.6 2.6 1.6-.7 1.6-.2 1.3 2 0-1.9"/>
<path d="M201.4,143.4l.5-2 .5-1.1 .5-.6 .5-1.7 .5 .1 .5-.3 .5-1.3 .5-.4 .5-.6 .5 0 .5-.2 1.6-.9 1.6-.4 1.6 0 1.6-.1 1.6-.6 1.6 .2 1.6-.1 1.6-.3 1.6 .7 1.6 .5 1.6 .7 1.6 .6 1.6 2 1.6 1.5 1.6 1.1 1.6 2.2 1.6 2.8 1.6 1.5 1.6 3.4 1.6 2.7 1.6 1.4 1.6 2.4 1.6 2.4 1.6 3.5 1.6 2 1.6 .6 1.6 1.9 1.6 3.1 1.6 2.5 1.6 1.4 1.6 4.3 1.6 1 1.6 2.9 1.6 1.9 1.6-.9 1.6 5.9 1.6 1.1 1.6-1 1.6 .6 1.6 1.4 1.6 3.3 1.6-.8 1.6 1.9 1.6 2.7 1.6-3 1.6-.5 1.6 1 1.6-.4 1.6-2.3 1.6-1.3 1.6 2.8 1.6-.1 1.6 .3 1.6 1.4 1.6 1.3 1.6-1.6 1.6 3.2 1.6-2.1 1.6 1.7 1.6 1.2 .3 1.4"/>
<path d="M176.5,201.4l1.6 .8 1.6-.9 1.6 1.9 1.6-2.1 1.6-.7 1.6-1.4 1.6 1.4 1.6-1.6 1.6-3.6 1.6 2.6 1.6-.3 1.3-.4 0 4.8"/>
<path d="M201.4,145l.5-1 .5-1 .5-1.6 .5-.9 .5-.5 .5-.4 .5 .4 .5-.8 .5-1.3 .5 .5 .5 0 1.6-.2 1.6-.8 1.6 .4 1.6-1 1.6 .8 1.6-1 1.6 0 1.6 0 1.6-.5 1.6 0 1.6 1 1.6 .8 1.6 1.6 1.6 1.1 1.6 .9 1.6 2.5 1.6 1.3 1.6 1.7 1.6 3.3 1.6 2.3 1.6 2.5 1.6 4 1.6 1.9 1.6 1.8 1.6 3 1.6 3.4 1.6 .1 1.6 5.3 1.6 2.2 1.6 2.6 1.6 3.2 1.6 2 1.6-.6 1.6 3.8 1.6 .3 1.6-.6 1.6 3.2 1.6 1.3 1.6 2.4 1.6-.7 1.6 1.2 1.6 2.9 1.6-.7 1.6 1.2 1.6 .4 1.6 2.3 1.6 .3 1.6-.7 1.6-3.7 1.6 6.3 1.6-2.3 1.6 2.2 1.6-.6 1.6-1.8 1.6 4.2 1.6-1.7 1.6 .5 1.6 0 1.6 3.2 1.6-5.3 .3-.2"/>
<path d="M176.5,199.8l1.6 5.7 1.6-2.4 1.6 1.8 1.6-.2 1.6 1.3 1.6-1 1.6 1.1 1.6-3.2 1.6 1.9 1.6-1.9 1.6 2.1 1.3 .6 0-.3"/>
<path d="M201.4,144l.5-.5 .5-2.4 .5-2 .5-.1 .5-1.2 .5-1.4 .5-.1 .5-.3 .5-.2 .5-.7 .5 .4 1.6-1.2 1.6 .4 1.6-.7 1.6 0 1.6-.2 1.6-.9 1.6 .8 1.6 .4 1.6-.3 1.6-.2 1.6 .1 1.6 1.8 1.6 .5 1.6 1.8 1.6 2 1.6 2.1 1.6 1.1 1.6 3.4 1.6 2.3 1.6 2.1 1.6 2.7 1.6 3.3 1.6 4 1.6 .9 1.6 4 1.6 .9 1.6 3 1.6 3.3 1.6 2.6 1.6 2.7 1.6 1.9 1.6 2.6 1.6 2.6 1.6 3.6 1.6 1.3 1.6 2.2 1.6 1.9 1.6-.7 1.6 0 1.6 .7 1.6 4.5 1.6-.5 1.6 1.6 1.6-.1 1.6-1.7 1.6 1.4 1.6-.4 1.6 3.8 1.6-2.4 1.6 2 1.6-2.2 1.6 2.4 1.6-1.5 1.6-1.3 1.6 3.4 1.6-3.4 1.6 .7 1.6 1.6 1.6-.9 1.6-1.6 .3 .6"/>
<path d="M176.5,197.3l1.6 2.4 1.6-4 1.6 .3 1.6-1.5 1.6 2 1.6-1.5 1.6-1.5 1.6 1 1.6 0 1.6-.9 1.6 2.1 1.3-1.3 0 .4"/>
<path d="M201.4,142.6l.5-.8 .5-1.6 .5-.6 .5 .1 .5-1.2 .5-.9 .5-.6 .5 .1 .5-.9 .5-.2 .5 .2 1.6 .1 1.6-.8 1.6 .1 1.6-.7 1.6 .2 1.6-.6 1.6 .4 1.6-.3 1.6 .6 1.6 .1 1.6 .5 1.6 1.1 1.6 .4 1.6 .5 1.6 1.7 1.6 2.5 1.6 1.3 1.6 2.3 1.6 2.2 1.6 2.9 1.6 .3 1.6 4.9 1.6 2.5 1.6 1.9 1.6 2.5 1.6 4.6 1.6 .8 1.6-.3 1.6 6.7 1.6-.6 1.6 3.7 1.6 4 1.6-1.6 1.6 2.6 1.6 2.9 1.6 .2 1.6 2.6 1.6-.8 1.6 1 1.6 1.2 1.6 .3 1.6 1.1 1.6 .8 1.6 .5 1.6-4.1 1.6 1.1 1.6 .9 1.6 2.1 1.6 .4 1.6-2.1 1.6 6.2 1.6-2.3 1.6 5.6 1.6-4.1 1.6 1.5 1.6 4.7 1.6-2.6 1.6 1.3 1.6 2 1.6-1.1 .3 2.1"/>
<path d="M176.5,200.4l1.6-2.2 1.6 2 1.6-1 1.6-.9 1.6 2.9 1.6-6.3 1.6 2.8 1.6 1.1 1.6-.6 1.6-1.2 1.6-1 1.3-.9 0 .7"/>
<path d="M201.4,145.5l.5-1 .5-1.7 .5-.7 .5-.5 .5-1.4 .5-1.4 .5 .6 .5-.7 .5 0 .5-.3 .5-1.1 1.6 .2 1.6-1.2 1.6 0 1.6-.6 1.6 .9 1.6-.6 1.6 .2 1.6-.8 1.6 .4 1.6 .9 1.6 .9 1.6 .5 1.6 .9 1.6 1.8 1.6 1.8 1.6 2.2 1.6 2 1.6 3.3 1.6 1.2 1.6 3.7 1.6 2.6 1.6 3.4 1.6 .8 1.6 3.7 1.6 3.2 1.6 3.3 1.6 1.8 1.6 3.2 1.6 1.2 1.6 1.6 1.6 .6 1.6 4.6 1.6 4.6 1.6-5.5 1.6 2.9 1.6 .3 1.6 2.8 1.6 3.7 1.6-2.6 1.6 3.5 1.6-.9 1.6-1 1.6 .8 1.6 3.9 1.6-1.7 1.6 3.2 1.6-1.5 1.6 .2 1.6-2.3 1.6 1.6 1.6-2.1 1.6 4.5 1.6-.6 1.6 3.3 1.6-2.9 1.6 2 1.6-.8 1.6 2.9 1.6-3.3 1.6 2.3 .3-.8"/>
<path d="M176.5,196.1l1.6 6.2 1.6-.5 1.6-1.5 1.6-2.9 1.6 4.9 1.6-.5 1.6 .3 1.6 1.7 1.6-2.4 1.6-.1 1.6 2.7 1.3 .1 0-.6"/>
<path d="M201.4,146.5l.5-2.1 .5-1 .5-1.5 .5-.5 .5-.4 .5-1.6 .5 .1 .5-.5 .5-.4 .5-.2 .5-.4 1.6 0 1.6-.9 1.6-.2 1.6 .5 1.6-.4 1.6-.5 1.6 .1 1.6 .1 1.6-.2 1.6 .1 1.6 .6 1.6 .5 1.6 1.9 1.6 1.1 1.6 .6 1.6 2.5 1.6 1.4 1.6 1.8 1.6 3.1 1.6 3.4 1.6 3.3 1.6 1.9 1.6 3.2 1.6 3.9 1.6 3.4 1.6 .3 1.6 5.6 1.6 0 1.6 4.7 1.6 2.5 1.6 0 1.6 .5 1.6 2.1 1.6 3.5 1.6-1.2 1.6 .3 1.6 4.8 1.6 .9 1.6 .7 1.6 3.8 1.6 1.2 1.6-.1 1.6 .4 1.6-.4 1.6 1.2 1.6-3.4 1.6 1 1.6 .9 1.6 1.5 1.6-4.3 1.6 2.9 1.6 2.1 1.6-.8 1.6-.7 1.6 4.3 1.6 .6 1.6 1.1 1.6-1.3 1.6-.2 1.6-.9 .3 1.4"/>
<path d="M176.5,199.7l1.6 3 1.6 .9 1.6-.8 1.6 1.5 1.6-3 1.6-.3 1.6 2 1.6 1.1 1.6-3.7 1.6 5.3 1.6-2.4 1.3-1.4 0 5"/>
<path d="M201.4,145.7l.5-1.6 .5-.6 .5-2.1 .5 .7 .5-1.9 .5-.5 .5-1 .5 .3 .5-.7 .5-.4 .5-.8 1.6 .4 1.6-1.1 1.6-.8 1.6-.1 1.6 .4 1.6-.4 1.6 .2 1.6-.4 1.6 .9 1.6-.4 1.6 1.3 1.6 .3 1.6 2 1.6 1.5 1.6 1.3 1.6 2 1.6 2.1 1.6 .9 1.6 2.7 1.6 2.1 1.6 4.2 1.6 .3 1.6 3.6 1.6 3.2 1.6 3.1 1.6 4.6 1.6 .2 1.6 3.5 1.6 2.9 1.6 3.3 1.6 1.5 1.6 2.6 1.6 1.8 1.6 2.2 1.6 1.5 1.6-1.1 1.6 4.2 1.6 .9 1.6 1.3 1.6 2.7 1.6 2.2 1.6 2.1 1.6-.6 1.6 .5 1.6 1.3 1.6-2.2 1.6 2 1.6-1 1.6 5.5 1.6-1.8 1.6-1 1.6 1.6 1.6-.4 1.6-2 1.6 .6 1.6-1.9 1.6 .6 1.6-3.3 1.6 .3 1.6 .1 .3 .7"/>
<path d="M176.5,196.9l1.6 2.1 1.6 1.9 1.6-2.3 1.6 2.1 1.6-.1 1.6 .8 1.6-3.1 1.6 4.7 1.6-1.3 1.6 1.7 1.6 .4 1.3-.1 0 .2"/>
<path d="M201.4,142.9l.5-1.7 .5-.4 .5 .3 .5-2 .5-1.1 .5-.6 .5-1.4 .5 .7 .5-1.7 .5-.4 .5-.2 1.6-.1 1.6-.6 1.6-.3 1.6-.2 1.6-.7 1.6 1.3 1.6-.2 1.6-.1 1.6 0 1.6 1.1 1.6 .1 1.6 1.3 1.6 2.2 1.6 .5 1.6 2 1.6 1.8 1.6 2.9 1.6 1.3 1.6 3.4 1.6 2.7 1.6 2.3 1.6 2.1 1.6 3.6 1.6 1.4 1.6 1.4 1.6 5.8 1.6 1.3 1.6 3.9 1.6 3.2 1.6 4.1 1.6-1 1.6 5.3 1.6 .6 1.6 .4 1.6 1.1 1.6 1.2 1.6 1.9 1.6-.5 1.6-1.6 1.6 .4 1.6 2 1.6-1.3 1.6 6.2 1.6 .5 1.6-2.3 1.6 2.2 1.6-3.7 1.6 8.1 1.6-6.2 1.6 .1 1.6 7.6 1.6-4.8 1.6 2.6 1.6-2.5 1.6 2.2 1.6 1.5 1.6-.3 1.6-.7 1.6-.2 1.6 0 .3 .2"/>
<path d="M176.5,203.5l1.6 1.6 1.6 .2 1.6-1.5 1.6 .5 1.6 0 1.6-1.7 1.6 2.1 1.6-.2 1.6-2.2 1.6 1.9 1.6-5.1 1.3-.3 0 4.5"/>
<path d="M201.4,145.3l.5-1.8 .5-2.2 .5-.2 .5-1.6 .5-1.7 .5 .5 .5-1.2 .5-.6 .5-.2 .5-.2 .5-.8 1.6-.7 1.6-1.2 1.6 .3 1.6-.2 1.6 0 1.6 .5 1.6-.1 1.6 .2 1.6-.5 1.6 .3 1.6 1.2 1.6 .4 1.6 1.9 1.6 .4 1.6 2.3 1.6 1.8 1.6 .4 1.6 3.6 1.6 3 1.6 1.7 1.6 2.6 1.6 2.7 1.6 2.4 1.6 3.2 1.6 2.1 1.6 4.7 1.6 2.5 1.6 2.4 1.6 2.5 1.6 3.2 1.6 2.3 1.6 .2 1.6 2.3 1.6 5.6 1.6-1.7 1.6-.6 1.6 .7 1.6 .5 1.6 1.8 1.6 1.6 1.6 1.6 1.6 2.7 1.6-.5 1.6-3.6 1.6 1.5 1.6 0 1.6 2.5 1.6 1.7 1.6 .2 1.6-3.2 1.6 4.5 1.6-3.2 1.6 4.7 1.6 1.9 1.6 .2 1.6 1.9 1.6-2.4 1.6 .7 1.6 .2 1.6 .9 .3-2.4"/>
<path d="M176.5,205.2l1.6-5.7 1.6-.6 1.6 3.1 1.6-4.9 1.6-.4 1.6 5 1.6-3.4 1.6 3.6 1.6 1.3 1.6-2.2 1.6 3.3 1.3-3.8 0-1.2"/>
<path d="M201.4,145.6l.5-1.6 .5-2.5 .5 .7 .5-1.9 .5-.2 .5 .2 .5 0 .5-1.5 .5-.7 .5 0 .5-.5 1.6-.2 1.6-1.2 1.6 .3 1.6 0 1.6-.6 1.6-.4 1.6 .3 1.6-.4 1.6 0 1.6 .2 1.6-.5 1.6 1.7 1.6 2.2 1.6 .6 1.6 2.6 1.6 1.4 1.6 2.7 1.6 1.4 1.6 3 1.6 3.6 1.6 3.1 1.6 1.9 1.6 2.8 1.6 5.5 1.6 3.2 1.6 3.3 1.6 3.9 1.6 2.3 1.6 1.9 1.6 2.2 1.6 .7 1.6 1.4 1.6 2.1 1.6 1.6 1.6 2.6 1.6-.9 1.6 1.7 1.6 2.4 1.6 0 1.6-.2 1.6 1.9 1.6 .9 1.6-.3 1.6-.5 1.6 3.3 1.6 .8 1.6-4.2 1.6 4.9 1.6-6.1 1.6 3.4 1.6 0 1.6-2.2 1.6 3.5 1.6-2.1 1.6 .3 1.6-2 1.6-1.9 1.6 1.9 1.6 4 1.6-4.5 .3 2"/>
<path d="M176.5,201.9l1.6-3.5 1.6 .6 1.6 .2 1.6 3.2 1.6-.8 1.6 .2 1.6 1.6 1.6-1.4 1.6 .9 1.6-2.8 1.6 1.8 1.3-3.3 0-.6"/>
<path d="M201.4,145.4l.5-1.9 .5-.9 .5-1.1 .5-.9 .5-.3 .5-1.9 .5-.5 .5-1.3 .5 .1 .5-.7 .5 .3 1.6-1.1 1.6-.8 1.6-.3 1.6 .6 1.6-.6 1.6 0 1.6 .2 1.6 .1 1.6-.2 1.6 .5 1.6 .5 1.6 .6 1.6 1.2 1.6 1.6 1.6 2.3 1.6 2.7 1.6 2.6 1.6 2.3 1.6 4.3 1.6 1 1.6 3.7 1.6 1.4 1.6 2.7 1.6 3.1 1.6 1.1 1.6 1.2 1.6 1.5 1.6 2.3 1.6 4.9 1.6 1.2 1.6 1.4 1.6 2.3 1.6 1.1 1.6 3.3 1.6 2.4 1.6 3.1 1.6 5.6 1.6-2.8 1.6-.2 1.6 3.1 1.6 .7 1.6-1.6 1.6 1.4 1.6 .6 1.6-1 1.6 .9 1.6 2.1 1.6-.1 1.6-2.8 1.6 1 1.6 .5 1.6-.1 1.6 1.2 1.6-2.5 1.6 2.9 1.6-1.3 1.6 2.9 1.6-1.2 1.6-1.8 1.6 4.4 .3-2.1"/>
<path d="M176.5,200.5l1.6 .6 1.6-.9 1.6 1.2 1.6 1 1.6 5.3 1.6-1.9 1.6-1.3 1.6 2.2 1.6-.1 1.6-2 1.6 1.4 1.3-2.6 0-2.8"/>
<path d="M201.4,146.9l.5-.4 .5-1.9 .5-.9 .5-1.5 .5-.2 .5-1.7 .5-.5 .5-1 .5 .3 .5-1.2 .5 0 1.6-.6 1.6-1 1.6-1 1.6 .9 1.6-.4 1.6 .2 1.6-.7 1.6 .4 1.6 .9 1.6-1.3 1.6 1.8 1.6 .7 1.6 2 1.6 1.1 1.6 .4 1.6 2.1 1.6 1.5 1.6 1.7 1.6 1.8 1.6 2.8 1.6 3.6 1.6 .9 1.6 4.8 1.6-.2 1.6 3.6 1.6 4.9 1.6 2 1.6 1.7 1.6 .9 1.6 2.1 1.6 4.9 1.6 1.2 1.6-.2 1.6 1.4 1.6 .1 1.6 1.4 1.6 2.2 1.6 .6 1.6 5.1 1.6-1.6 1.6 3.8 1.6 .1 1.6 4.1 1.6 1.7 1.6-1.4 1.6 .7 1.6 1.9 1.6-2.3 1.6-.2 1.6 1.8 1.6-.3 1.6-.9 1.6 .8 1.6-1.7 1.6 1.4 1.6 1.5 1.6-3.1 1.6 2.7 1.6 .7 1.6-4.2 .3 4.5"/>
<path d="M176.5,203l1.6-.6 1.6 .4 1.6 2.9 1.6-3.7 1.6 4.8 1.6 2.2 1.6-2.5 1.6-.3 1.6 3.7 1.6-1.2 1.6 1.1 1.3-2.7 0 2.8"/>
<path d="M201.4,147.5l.5-1.6 .5-2.3 .5-.4 .5-1.4 .5-.9 .5-.3 .5-1.3 .5-.1 .5 0 .5-.8 .5 .4 1.6-1.4 1.6 .4 1.6-.7 1.6 .1 1.6-.7 1.6 .3 1.6 0 1.6-.8 1.6-.9 1.6 .9 1.6 .2 1.6 .7 1.6 1.1 1.6 1.7 1.6 1.4 1.6 3.8 1.6 1.1 1.6 3.1 1.6 2.3 1.6 3.7 1.6 4.3 1.6 2.6 1.6 3.7 1.6 2.2 1.6 3.2 1.6 1.8 1.6 3.3 1.6 2.6 1.6 3.6 1.6 1.2 1.6 1.8 1.6 2.6 1.6 2.2 1.6-.2 1.6 2.2 1.6 5.8 1.6-.2 1.6-1.8 1.6 4.1 1.6 .4 1.6-.5 1.6 2.9 1.6-.5 1.6 4.1 1.6-.3 1.6 .3 1.6-2 1.6-1.9 1.6 1.3 1.6 3.2 1.6-.7 1.6-.6 1.6-.2 1.6 .9 1.6-1.9 1.6 .2 1.6 3.1 1.6 .2 1.6-3.7 1.6-4.2 .3 6.2"/>
<path d="M176.5,201.5l1.6-.5 1.6 2.3 1.6-.5 1.6-.4 1.6 1 1.6-2 1.6 .5 1.6-2.1 1.6 3.2 1.6-2.7 1.6-.1 1.3 4 0-4.3"/>
<path d="M201.4,143.6l.5-1.7 .5-1.2 .5-1.1 .5-1 .5 .5 .5-1 .5 0 .5-.3 .5-.4 .5-.8 .5-.1 1.6-.2 1.6-.4 1.6-.7 1.6-.3 1.6 .6 1.6 0 1.6-.5 1.6-.7 1.6 .2 1.6 1.4 1.6-.2 1.6 1.3 1.6 1.5 1.6 .9 1.6 1.5 1.6 2.5 1.6 .7 1.6 2.5 1.6 3.3 1.6 1.9 1.6 .9 1.6 3.3 1.6 1.1 1.6 1.5 1.6 3.3 1.6 2.4 1.6 1.8 1.6 2.6 1.6 4 1.6 .8 1.6 2.3 1.6 .7 1.6 2 1.6 1.6 1.6 2.3 1.6 3.2 1.6-.1 1.6 5.5 1.6-.2 1.6 3.1 1.6 .5 1.6-.8 1.6 1.4 1.6 3.9 1.6-3 1.6 1.9 1.6 1.5 1.6-3.2 1.6 2.1 1.6-3.5 1.6 1.5 1.6-.1 1.6-1.3 1.6 2.9 1.6-2.9 1.6 3.2 1.6-1.2 1.6 1.3 1.6 2.1 1.6 1 .3-1"/>
<path d="M176.5,201.7l1.6 1.8 1.6-1.1 1.6-1.2 1.6 0 1.6-3 1.6-1.6 1.6 2.6 1.6-.6 1.6 3.4 1.6-1.5 1.6-4.4 1.3-.5 0 0"/>
<path d="M201.4,143.5l.5-.5 .5-.9 .5-.7 .5-1.1 .5-.8 .5-1 .5-.8 .5-.1 .5 0 .5-.3 .5-.2 1.6-.8 1.6 .4 1.6-1.9 1.6 0 1.6 0 1.6-.3 1.6 .3 1.6-.4 1.6 .5 1.6 .1 1.6 .9 1.6 1 1.6 .5 1.6 1.9 1.6 1.3 1.6 2 1.6 2.3 1.6 1.6 1.6 1.7 1.6 2.7 1.6 2.7 1.6 2.2 1.6 3.1 1.6 2.2 1.6 2.8 1.6 2.8 1.6 1.6 1.6 3.5 1.6 2.2 1.6 5.4 1.6-.9 1.6 .7 1.6 2.5 1.6 2 1.6 .9 1.6 .8 1.6 .1 1.6 2 1.6 .9 1.6 3.3 1.6 .2 1.6 2.7 1.6-1 1.6 3.5 1.6 .9 1.6 1.8 1.6 .7 1.6-2.5 1.6 4.3 1.6-3.8 1.6 3.9 1.6 .9 1.6 0 1.6-1 1.6 1.4 1.6-3.7 1.6 1.2 1.6-.2 1.6 3.7 1.6-.9 .3-.1"/>
<path d="M176.5,204.4l1.6-5.6 1.6 2 1.6-1 1.6 .2 1.6 2 1.6-3 1.6 3.3 1.6-2.4 1.6-.1 1.6 3.8 1.6-4.8 1.3 1.1 0 4.1"/>
<path d="M201.4,148.7l.5-2.3 .5-.3 .5-2.4 .5 .1 .5-1.1 .5-1.3 .5-1 .5-.6 .5-.1 .5-.1 .5-1.4 1.6-.6 1.6-.6 1.6 .3 1.6-.4 1.6 .7 1.6-.9 1.6 .3 1.6-.5 1.6-.3 1.6 .8 1.6 1.5 1.6 .5 1.6 1 1.6 1.3 1.6 2 1.6 1.6 1.6 2.3 1.6 2.3 1.6 2.1 1.6 2.9 1.6 1.2 1.6 3.3 1.6 2.6 1.6 2.3 1.6 2.3 1.6 1.7 1.6 1.5 1.6 3.4 1.6 1.4 1.6 2.1 1.6 .6 1.6 3.9 1.6-.2 1.6 3.1 1.6 3.7 1.6 1.3 1.6 1.3 1.6 3.3 1.6 2.3 1.6-2.9 1.6 2.5 1.6 4.4 1.6 1 1.6 .3 1.6-1.5 1.6 2.5 1.6 .2 1.6-2.3 1.6 4 1.6-5.7 1.6 5.2 1.6-2 1.6-.5 1.6-1.3 1.6 .3 1.6-1.9 1.6 3.1 1.6-2.5 1.6 3.1 1.6-.7 .3-1.1"/>
<path d="M176.5,198.3l1.6 .6 1.6-1.1 1.6 5.2 1.6-4.4 1.6 .3 1.6-2.6 1.6 1.8 1.6 .9 1.6 .5 1.6-.4 1.6 .6 1.3-2.3 0 3.5"/>
<path d="M201.4,146.2l.5-1 .5-1.5 .5-2.2 .5-.2 .5-.2 .5-1.3 .5-.6 .5-.3 .5-.4 .5-.8 .5 .3 1.6-1.6 1.6-.3 1.6-.4 1.6 .5 1.6-.9 1.6 .7 1.6-.5 1.6 .9 1.6-.1 1.6-.1 1.6 1.2 1.6 .3 1.6 1.2 1.6 1.9 1.6 1.4 1.6 1.2 1.6 2.3 1.6 4 1.6 1.5 1.6 1.4 1.6 3 1.6 3.4 1.6 1.8 1.6 2.2 1.6 3.9 1.6 3.7 1.6 2 1.6 1.6 1.6 2.1 1.6 1.5 1.6 2.7 1.6 2.8 1.6-.6 1.6 4.8 1.6 .1 1.6 1 1.6 .1 1.6 2.7 1.6-1.7 1.6 3.4 1.6-1.6 1.6 2.9 1.6-2.1 1.6 3 1.6-.7 1.6 .7 1.6 4.7 1.6 .7 1.6-2.1 1.6 1.2 1.6 .6 1.6 2.9 1.6 .1 1.6 1 1.6-1 1.6-1 1.6 .4 1.6-1 1.6 .4 1.6 1.7 .3 1.5"/>
<path d="M176.5,197l1.6 4.7 1.6-.6 1.6-1 1.6-1.5 1.6 4.9 1.6-2.2 1.6 1.7 1.6 .2 1.6-3 1.6 3.6 1.6-6.9 1.3 4.2 0-1"/>
<path d="M201.4,145.9l.5-1.6 .5-2.8 .5-.3 .5-1.5 .5-.4 .5-1.3 .5-1.1 .5-.6 .5-.3 .5-.1 .5-.7 1.6-.7 1.6-.5 1.6 .1 1.6-.4 1.6 .9 1.6-1 1.6 .6 1.6-.1 1.6-.3 1.6 .3 1.6 .7 1.6 1.3 1.6 1.2 1.6 1.5 1.6 .6 1.6 2.3 1.6 1.3 1.6 2.1 1.6 2.3 1.6 1.4 1.6 2.8 1.6 3.1 1.6 2.8 1.6 2.5 1.6 4.9 1.6 1.9 1.6 2.4 1.6 5.2 1.6 2.2 1.6 2.5 1.6 2.7 1.6 .3 1.6 3.5 1.6 1.7 1.6 1.7 1.6 2 1.6 2.3 1.6-.4 1.6 .7 1.6 2.4 1.6-2.6 1.6 6.8 1.6-2.2 1.6 2.3 1.6-4.6 1.6 3.7 1.6-.7 1.6 2.8 1.6-1.2 1.6 3.6 1.6-1.7 1.6-2.9 1.6 3.1 1.6-3.9 1.6 2.3 1.6 2.5 1.6-1.8 1.6-1.1 1.6 .6 1.6 2 .3-4.2"/>
<path d="M176.5,206.8l1.6-1 1.6-2.7 1.6 1.3 1.6-.8 1.6-2.4 1.6-4.1 1.6 4.6 1.6 2.3 1.6-3 1.6-.3 1.6-.2 1.3 .6 0 1.2"/>
<path d="M201.4,148.6l.5-.8 .5-2.1 .5-2 .5-.9 .5-.5 .5-1.6 .5-.8 .5-.3 .5 0 .5-.2 .5-.1 1.6-1.1 1.6-.2 1.6-.6 1.6-.1 1.6 .1 1.6 0 1.6 .3 1.6-.6 1.6 .6 1.6 .7 1.6 .2 1.6 1.6 1.6 .5 1.6 .8 1.6 3.2 1.6 .7 1.6 3.6 1.6 2.7 1.6 1.9 1.6 3.6 1.6 2.5 1.6 3.3 1.6 1.6 1.6 3.3 1.6 1.9 1.6 1.4 1.6 6.1 1.6 1.8 1.6 1.6 1.6 .8 1.6 2.4 1.6 4 1.6 .9 1.6 1.1 1.6 5.3 1.6 2.3 1.6 3.1 1.6-2.2 1.6 3.2 1.6-2.3 1.6-.2 1.6 1.6 1.6 .5 1.6-1.7 1.6 2.3 1.6-2.4 1.6 4.6 1.6-1.3 1.6 .7 1.6 .2 1.6 .7 1.6 3.1 1.6-.5 1.6 1 1.6-1.5 1.6-1.3 1.6 0 1.6-1.5 1.6 .5 1.6-1.2 .3-1.9"/>
<path d="M176.5,206.8l1.6-7.5 1.6 2 1.6 1.6 1.6-3.7 1.6-.2 1.6-2.4 1.6 3.4 1.6 .3 1.6-1.5 1.6 3.1 1.6-5.7 1.3 5.1 0-1.1"/>
<path d="M201.4,143.3l.5-.8 .5-2.2 .5-.5 .5-1.3 .5-.7 .5-1.1 .5-.2 .5-.2 .5-.7 .5-.1 .5 .3 1.6-1.4 1.6-.2 1.6 .1 1.6-.2 1.6-.1 1.6 .4 1.6-.7 1.6-.6 1.6-.2 1.6 .6 1.6 .7 1.6 .8 1.6 .9 1.6 2.3 1.6 1.6 1.6 1.5 1.6 3.2 1.6 2.4 1.6 1.5 1.6 3.9 1.6 2.8 1.6 3.9 1.6 3.1 1.6 4.4 1.6 2.4 1.6 2.9 1.6 2.4 1.6 1.5 1.6 1.6 1.6 1.7 1.6 5.1 1.6 1.2 1.6-2.1 1.6 3.2 1.6 4.8 1.6-1.8 1.6 2.4 1.6 2.7 1.6 1.6 1.6-1 1.6 3.4 1.6-1.1 1.6 3.7 1.6 0 1.6-3 1.6 5.3 1.6-.3 1.6-3.6 1.6 1.8 1.6 2.7 1.6 3 1.6-5.2 1.6 3.5 1.6-1.2 1.6-1.2 1.6 2.2 1.6 .1 1.6-4 1.6 4.1 1.6 0 .3-2.6"/>
<path d="M176.5,199.2l1.6-3.6 1.6-.1 1.6 2.9 1.6 .6 1.6 2.4 1.6-2.6 1.6-5.5 1.6 6.6 1.6-.4 1.6 .4 1.6 .1 1.3-.3 0-2.1"/>
<path d="M201.4,146.2l.5-1.6 .5-2 .5-.4 .5-.3 .5-.6 .5-.4 .5-1.5 .5-.7 .5 .5 .5-.3 .5-1.5 1.6-.7 1.6-.3 1.6 0 1.6 .3 1.6-.4 1.6 .1 1.6-.5 1.6 .8 1.6-.7 1.6 .9 1.6 .1 1.6 1 1.6 1.5 1.6 1 1.6 2.5 1.6 .1 1.6 2.3 1.6 1.4 1.6 3.7 1.6 2.3 1.6 1.2 1.6 1.1 1.6 4.1 1.6 2.3 1.6-.3 1.6 4.5 1.6 3 1.6 2.2 1.6 3.8 1.6 3.1 1.6 3.2 1.6 2.7 1.6-.9 1.6 .5 1.6 4.7 1.6-2.2 1.6 5.1 1.6-.6 1.6 1.6 1.6 .7 1.6 1.2 1.6-.1 1.6 1.8 1.6-2 1.6 .2 1.6 3.1 1.6 1.8 1.6-3.5 1.6 3.1 1.6 1.5 1.6 .9 1.6 .9 1.6-2.2 1.6 3.1 1.6-1.6 1.6-.5 1.6-4.4 1.6 3.6 1.6-.5 1.6 2.8 .3-2.5"/>
<path d="M176.5,202l1.6 2.9 1.6-.9 1.6-2.1 1.6-1.1 1.6 2.8 1.6-5.2 1.6 5.5 1.6-.7 1.6 3.3 1.6-5.7 1.6 7.2 1.3-2 0-.2"/>
<path d="M201.4,144.2l.5-1.2 .5-1.1 .5 0 .5-1.6 .5-.9 .5-.4 .5-.3 .5-.8 .5 .3 .5-.8 .5-.1 1.6-.7 1.6-.5 1.6 .1 1.6-.2 1.6-.5 1.6-.1 1.6-.2 1.6 0 1.6-.3 1.6 .7 1.6 .2 1.6 1.3 1.6 .7 1.6 2 1.6 1.4 1.6 1.8 1.6 2.4 1.6 2.4 1.6 3.5 1.6 2 1.6 3.7 1.6 2.9 1.6 4.3 1.6 .5 1.6 4.3 1.6 2.4 1.6 2.9 1.6 .3 1.6 2.3 1.6 3.3 1.6 3.8 1.6 .7 1.6 1.1 1.6 3.5 1.6-2.5 1.6 7.1 1.6-1.4 1.6 .7 1.6 1.4 1.6 .3 1.6 .4 1.6 1.5 1.6 2.9 1.6 .4 1.6-4.8 1.6 .3 1.6 .3 1.6 2.5 1.6 2 1.6-1.3 1.6-.9 1.6 .3 1.6-1.6 1.6 2.1 1.6-1.4 1.6 3 1.6-3.3 1.6-1.9 1.6 6 1.6 .6 .3 1.3"/>
<path d="M176.5,209.7l1.6 1.7 1.6-1.7 1.6 .4 1.6-5 1.6-.6 1.6 .3 1.6-1.5 1.6-.4 1.6 .8 1.6-3.2 1.6 3.5 1.3 2.9 0-2.5"/>
<path d="M201.4,146.6l.5-2.6 .5-.5 .5-1.7 .5 .4 .5-2 .5-.1 .5-1.2 .5-.8 .5 .8 .5-1.3 .5 .4 1.6-1.1 1.6-.5 1.6 0 1.6-.3 1.6 .2 1.6-.1 1.6 .3 1.6 .1 1.6-.2 1.6 .3 1.6 .7 1.6 1 1.6 1.3 1.6 1.3 1.6 1.4 1.6 1.9 1.6 2.7 1.6 2.7 1.6 2.9 1.6 3.3 1.6 1 1.6 2.9 1.6 3.4 1.6 4.4 1.6-.6 1.6 4.2 1.6 4.3 1.6 .6 1.6 4.2 1.6 1.4 1.6 3.3 1.6-.2 1.6 4.9 1.6 1 1.6-.2 1.6 2.9 1.6 2.7 1.6 3.5 1.6 1.1 1.6-.4 1.6-.5 1.6-.6 1.6 1.3 1.6-1.2 1.6 1.9 1.6-.1 1.6 3.3 1.6 4 1.6-.4 1.6-1.8 1.6-.6 1.6 4.3 1.6 .7 1.6 .2 1.6 .1 1.6-4.1 1.6 3.7 1.6-3.9 1.6-1.6 1.6 .6 .3 .1"/>
<path d="M176.5,203.8l1.6-1.8 1.6 2.4 1.6 1.3 1.6 3.7 1.6-5.9 1.6 .2 1.6 .2 1.6-1.9 1.6-.2 1.6-.3 1.6 1.5 1.3 .7 0-2.2"/>
<path d="M201.4,145.5l.5-1.8 .5-1.8 .5-.6 .5-1.2 .5-.1 .5-1.5 .5 1.1 .5-.9 .5-.2 .5-1 .5-.2 1.6-.6 1.6 .1 1.6-1.1 1.6-.1 1.6-.9 1.6 0 1.6 .8 1.6-1.1 1.6 1 1.6 .2 1.6 1.3 1.6 .5 1.6 1.2 1.6 1.6 1.6 2.6 1.6 2.2 1.6 1.6 1.6 2 1.6 2.8 1.6 2.3 1.6 3.1 1.6 2.1 1.6 4.1 1.6 2.9 1.6 3.3 1.6 .1 1.6 4.6 1.6 2.2 1.6 3.1 1.6 2.7 1.6 .5 1.6 1.8 1.6 2.3 1.6-1.3 1.6 4.1 1.6 1 1.6 .1 1.6-1.4 1.6 3.6 1.6-1.2 1.6 4 1.6-1.4 1.6-3.2 1.6-.9 1.6 2.6 1.6-.4 1.6 .2 1.6 3.2 1.6 2.1 1.6 .3 1.6 .8 1.6 2 1.6 .4 1.6 .1 1.6 1.8 1.6-3.3 1.6 4.7 1.6-.2 1.6-2.9 1.6 2.5 .3-2"/>
<path d="M176.5,198.5l1.6-2.8 1.6-.5 1.6 1.3 1.6 1.2 1.6-.1 1.6-2.1 1.6 4.5 1.6-.1 1.6 0 1.6 .8 1.6 1.2 1.3-2.9 0 1.7"/>
<path d="M201.4,146.1l.5-2.2 .5-1.5 .5-1.3 .5-1 .5-.8 .5-.5 .5-.7 .5-.6 .5 .2 .5 .3 .5-1 1.6-.4 1.6-1 1.6 .3 1.6 .2 1.6 0 1.6 .1 1.6 .2 1.6-.4 1.6 0 1.6 .9 1.6 .7 1.6 1.4 1.6 .8 1.6 1.8 1.6 1.6 1.6 1.4 1.6 2.5 1.6 2 1.6 2.9 1.6 3.9 1.6 1.5 1.6 4 1.6-.4 1.6 4.3 1.6 1.9 1.6 4 1.6 2.5 1.6 .8 1.6 4.4 1.6 2 1.6 3.3 1.6-.3 1.6 1.5 1.6 2.1 1.6 3.1 1.6 2.2 1.6-1.2 1.6 1.4 1.6 2.5 1.6-3.6 1.6-1.2 1.6 1.3 1.6 6.4 1.6-2.8 1.6 2.4 1.6 .4 1.6-1.3 1.6 1 1.6-.1 1.6-1 1.6 5.5 1.6-.6 1.6-2.3 1.6 1 1.6-.2 1.6 .8 1.6-.8 1.6-2.9 1.6 1.1 1.6-1 .3 .8"/>
<path d="M176.5,202.8l1.6-2 1.6-1.3 1.6 .9 1.6 2 1.6 .8 1.6-.4 1.6-.2 1.6 1.3 1.6 2.6 1.6-2.9 1.6 0 1.3 .3 0-.3"/>
<path d="M201.4,145.8l.5-.9 .5-2.3 .5 1 .5-1.9 .5-.3 .5-.9 .5 .8 .5-.8 .5-.6 .5 .2 .5-1 1.6-.5 1.6-.1 1.6-.2 1.6-.8 1.6 .3 1.6 .4 1.6-.6 1.6 .5 1.6-.5 1.6 .1 1.6 .2 1.6 1 1.6 .4 1.6 .7 1.6 2.4 1.6 1.6 1.6 2 1.6 2.8 1.6 2.8 1.6 2 1.6 3 1.6 5.1 1.6-.5 1.6 2 1.6 2 1.6 3.8 1.6 3.3 1.6-.1 1.6 3.1 1.6 1.7 1.6 .8 1.6 5.2 1.6 1.9 1.6-.9 1.6 5 1.6 3.3 1.6-2.1 1.6 2.8 1.6 3 1.6-.3 1.6 2.5 1.6-.2 1.6 1.4 1.6 2.5 1.6 .4 1.6-1.4 1.6 1.4 1.6-.1 1.6 3.6 1.6-3.7 1.6 3.4 1.6-2.8 1.6 .5 1.6 2.9 1.6-1.3 1.6 .4 1.6 .9 1.6 .8 1.6-2.8 1.6 1.9 .3-2.6"/>
<path d="M176.5,206.4l1.6-2.2 1.6-.4 1.6 4.5 1.6-5.9 1.6 3.1 1.6-4.4 1.6 5.6 1.6-1.9 1.6 1.5 1.6 4.4 1.6-3.2 1.3 1.8 0-2.1"/>
<path d="M201.4,144l.5-2.3 .5-.1 .5-.8 .5-1.1 .5-1.1 .5-.9 .5-.2 .5-1.3 .5-.3 .5-.8 .5 .5 1.6-.9 1.6-.5 1.6-.1 1.6-.2 1.6-.3 1.6 .2 1.6 0 1.6-.2 1.6 .2 1.6 .1 1.6 1.6 1.6-.2 1.6 1.4 1.6 1.3 1.6 2.2 1.6 1.9 1.6 1.4 1.6 1.7 1.6 2.8 1.6 2.6 1.6 3.3 1.6 1.3 1.6 3.7 1.6 1.8 1.6 1.3 1.6 4.2 1.6 3 1.6 1.2 1.6 5.5 1.6 2.4 1.6-2.1 1.6 4.4 1.6 3.4 1.6 .7 1.6-2.1 1.6 3.7 1.6 2.5 1.6 1.2 1.6-1.2 1.6 6.6 1.6-1.4 1.6 3.7 1.6-1.3 1.6-.8 1.6 3.1 1.6-.3 1.6 1.3 1.6-3.2 1.6 6.5 1.6-4.2 1.6 4.5 1.6-5.6 1.6 3.2 1.6 3 1.6 .5 1.6-1.1 1.6-1.4 1.6-.5 1.6 2.3 1.6-1.4 .3 .9"/>
<path d="M176.5,196l1.6 .1 1.6 .7 1.6-1.7 1.6 .4 1.6 0 1.6-1.8 1.6 3.3 1.6 2.2 1.6-2.9 1.6 .9 1.6 .9 1.3-4.3 0 4.9"/>
<path d="M201.4,146.2l.5-1.7 .5-2.4 .5 .1 .5-1.3 .5-.6 .5-.1 .5-1.2 .5 0 .5-1.5 .5 0 .5 .2 1.6-.8 1.6-.6 1.6 0 1.6 .1 1.6 .4 1.6-.3 1.6-.2 1.6 0 1.6 .2 1.6 .3 1.6 1.6 1.6 .2 1.6 1.1 1.6 .7 1.6 3.1 1.6 1.1 1.6 2.1 1.6 1.2 1.6 2.6 1.6 .8 1.6 3.6 1.6 3.1 1.6 .8 1.6 2.2 1.6 1.5 1.6 3.6 1.6 3.5 1.6-.2 1.6 6.5 1.6-.8 1.6 2.3 1.6 2.8 1.6-.5 1.6 0 1.6 3.6 1.6 2.7 1.6 3.8 1.6 .8 1.6-1.1 1.6-.5 1.6 5.7 1.6-1.1 1.6 .5 1.6 .9 1.6 2.5 1.6 1.1 1.6 .9 1.6-2.3 1.6 2.7 1.6-1.4 1.6 0 1.6 .7 1.6 2.1 1.6-.8 1.6 2.6 1.6-2.7 1.6 1.3 1.6-.4 1.6 .4 1.6-2.2 .3 1.8"/>
<path d="M176.5,203.4l1.6 1.6 1.6-2.6 1.6-.3 1.6-1.9 1.6 2 1.6-1.2 1.6-.7 1.6 1.3 1.6 0 1.6-1.9 1.6 3.5 1.3 .5 0-.1"/>
<path d="M201.4,148l.5-1.4 .5-2.5 .5-.5 .5-3 .5-.3 .5-.4 .5-1.7 .5-.4 .5-.6 .5 .2 .5-.4 1.6-.5 1.6-.4 1.6-.5 1.6 .3 1.6-.4 1.6 .5 1.6-.2 1.6-.3 1.6 .3 1.6 .6 1.6 .2 1.6 .9 1.6 2.2 1.6 .7 1.6 1.8 1.6 2.7 1.6 1.6 1.6 3.5 1.6 3.7 1.6 1.6 1.6 3.4 1.6 1.7 1.6 3.1 1.6 2.1 1.6 5 1.6 1.4 1.6 3.6 1.6 2.7 1.6-2.7 1.6 4.6 1.6 4.5 1.6 2.1 1.6 1.3 1.6-.3 1.6 3.9 1.6-.6 1.6 7.8 1.6-5.9 1.6 1.6 1.6 .7 1.6-2.1 1.6 2.9 1.6 4.3 1.6-.8 1.6 3 1.6-.3 1.6-1.2 1.6 .6 1.6 1.5 1.6-2.2 1.6 .8 1.6 4.8 1.6-2.9 1.6-2.3 1.6 3.6 1.6-1.4 1.6-.1 1.6 1.6 1.6 .7 1.6-2.9 .3 1.9"/>
<path d="M176.5,199.9l1.6 2.7 1.6-.9 1.6-3 1.6 5.8 1.6-1 1.6-2.3 1.6-.7 1.6 .2 1.6 0 1.6 1.6 1.6 .3 1.3 1.5 0-3.1"/>
<path d="M201.4,144.5l.5-.3 .5-2.2 .5-1.3 .5-.2 .5-1.7 .5-.6 .5-.6 .5-.1 .5 .1 .5-.3 .5-.7 1.6 .3 1.6-1.4 1.6 .1 1.6 .1 1.6-.4 1.6 .3 1.6-.3 1.6 .3 1.6-.2 1.6 .6 1.6 .1 1.6 .6 1.6 1.2 1.6 2 1.6 1.4 1.6 3.5 1.6 1.4 1.6 1.4 1.6 3.6 1.6 3.3 1.6 2.1 1.6 2.5 1.6 4.5 1.6 2.5 1.6 1 1.6 4.7 1.6 2.5 1.6 .4 1.6 2.1 1.6 .6 1.6 4.5 1.6-1.5 1.6 2.2 1.6 3.3 1.6 .7 1.6 2.7 1.6 1.4 1.6 4.1 1.6 .2 1.6 1.3 1.6 6.3 1.6-3.3 1.6 1.3 1.6 4.6 1.6-2.5 1.6 2.3 1.6 .7 1.6-2.1 1.6 1 1.6-1.2 1.6-.9 1.6-1.5 1.6 3.5 1.6-1 1.6-2.9 1.6 2.5 1.6 .2 1.6 2 1.6-1.7 1.6 1 .3-1"/>
<path d="M176.5,196.9l1.6 2.5 1.6 2.7 1.6-6.1 1.6 4 1.6-5.3 1.6 1.6 1.6 6.8 1.6-3.3 1.6 3 1.6-.4 1.6 1.1 1.3-.2 0 1.2"/>
<path d="M201.4,145.7l.5-.7 .5-2.4 .5-.9 .5-.5 .5-1 .5-1.4 .5 0 .5-.6 .5 .4 .5-.6 .5-.4 1.6-.9 1.6-.1 1.6 .2 1.6-.4 1.6-.3 1.6-.2 1.6 .5 1.6-.2 1.6-.3 1.6-.2 1.6 1 1.6 .4 1.6 2 1.6 1 1.6 1.5 1.6 2.1 1.6 3.1 1.6 .6 1.6 3 1.6 2.7 1.6 2.9 1.6 4.2 1.6 .8 1.6 5.2 1.6 2 1.6 4.2 1.6 1.7 1.6 3.6 1.6 2.8 1.6 0 1.6 1.6 1.6 3.4 1.6 .9 1.6 2.3 1.6 .6 1.6-.5 1.6 4.3 1.6 4.7 1.6-2.2 1.6 2.5 1.6-1 1.6 .3 1.6 1.8 1.6 1.9 1.6-.8 1.6-3.8 1.6 1.7 1.6-1.3 1.6-.8 1.6-.4 1.6 .5 1.6 1.1 1.6 1.1 1.6-1.5 1.6-.2 1.6 4.2 1.6-3 1.6 2.5 1.6 .2 1.6 1 .3-1.4"/>
<path d="M176.5,198.9l1.6-1.2 1.6 5.5 1.6-.7 1.6-1.6 1.6-2 1.6 3.7 1.6-1 1.6 4.2 1.6-1.3 1.6-1 1.6-2.3 1.3 5 0-1.3"/>
<path d="M201.4,145.5l.5-2.5 .5 .1 .5-1.7 .5-.6 .5-.8 .5-.8 .5-1.5 .5 .5 .5-.1 .5-.9 .5 .2 1.6-.7 1.6-.8 1.6-.5 1.6 .1 1.6-.3 1.6 .1 1.6 .6 1.6-.2 1.6-.3 1.6 .5 1.6 .7 1.6 .9 1.6 .8 1.6 2.3 1.6-.4 1.6 2.8 1.6 1.8 1.6 1.6 1.6 1.5 1.6 1.9 1.6 1.9 1.6 4.8 1.6 1.7 1.6 2.3 1.6 1.5 1.6 2.6 1.6 2.8 1.6 .7 1.6 6.1 1.6-.7 1.6 3.2 1.6 1.3 1.6 3.6 1.6 3.3 1.6-.7 1.6 5.2 1.6 3.1 1.6-.4 1.6 2 1.6 3.6 1.6 .7 1.6-1.3 1.6-.1 1.6-.2 1.6 .8 1.6-3 1.6 .7 1.6-1.4 1.6 2.7 1.6-2.5 1.6-.1 1.6 .9 1.6-2.6 1.6 1.8 1.6 .9 1.6 3.1 1.6-.2 1.6 5.3 1.6-5.1 1.6 0 .3 3.4"/>
<path d="M176.5,198.9l1.6-.3 1.6 2.7 1.6-.7 1.6-1.2 1.6-2.9 1.6-.5 1.6-.1 1.6 5.1 1.6-4.8 1.6-.6 1.6 .5 1.3-.3 0 .9"/>
<path d="M201.4,143.5l.5-2.5 .5-.7 .5-.3 .5-1.6 .5-.7 .5-.2 .5-.3 .5-.9 .5 0 .5-.2 .5-.3 1.6-.7 1.6 0 1.6 .3 1.6-.6 1.6 .8 1.6-.6 1.6 .9 1.6-.5 1.6 .9 1.6-.2 1.6-.3 1.6 1.5 1.6 1.5 1.6 1.9 1.6 0 1.6 3.8 1.6 1.5 1.6 .8 1.6 2.7 1.6 2.2 1.6 2.2 1.6 1.8 1.6 3.3 1.6 4.7 1.6 2.2 1.6 2.2 1.6 4.8 1.6 2.6 1.6 .4 1.6 1.3 1.6 5.2 1.6 1.2 1.6 2.6 1.6 1.2 1.6 .4 1.6 1.7 1.6 1.7 1.6-.6 1.6 1.6 1.6 3 1.6-.6 1.6 1.5 1.6 1.2 1.6-1.3 1.6 1.5 1.6-2.1 1.6 3.1 1.6-4.5 1.6 4.9 1.6-1.5 1.6-.3 1.6-1.5 1.6 1 1.6 2.1 1.6-5.7 1.6 4.6 1.6-1.4 1.6-.9 1.6 .4 1.6 2.1 .3 1.5"/>
<path d="M176.5,198.7l1.6-.9 1.6 1.1 1.6-1.2 1.6-1.4 1.6 2.5 1.6-2.8 1.6 .7 1.6 1 1.6 2.3 1.6-7.9 1.6 4 1.3-1.3 0 1.1"/>
<path d="M201.4,142.2l.5 .1 .5-1 .5-1.2 .5-.2 .5-.7 .5-.5 .5-.3 .5-.8 .5-.1 .5-.5 .5-.3 1.6-.3 1.6-.4 1.6-.1 1.6-.5 1.6-.2 1.6 .1 1.6 .1 1.6-.3 1.6-.5 1.6-.1 1.6 .7 1.6 .8 1.6 .7 1.6 .3 1.6 2.9 1.6 1.9 1.6 2.8 1.6 1 1.6 2.2 1.6 2.8 1.6 2.9 1.6 2.6 1.6 2.3 1.6 1.6 1.6 1.2 1.6 4 1.6 2.9 1.6 1.5 1.6 4.9 1.6-1 1.6 4.7 1.6 1.2 1.6 2.4 1.6 2.4 1.6 1.2 1.6 1.3 1.6 3.3 1.6-1.6 1.6-1.2 1.6 3.5 1.6-.8 1.6 4.4 1.6-1.1 1.6 .5 1.6-.2 1.6 4.4 1.6-5.2 1.6 2.8 1.6 .7 1.6 3.8 1.6-1.6 1.6-1.3 1.6 2.1 1.6 .3 1.6-.1 1.6 2.7 1.6-3.6 1.6 4.5 1.6-4.3 1.6-1 .3 .3"/>
<path d="M176.5,202.3l1.6 1.3 1.6-3.7 1.6 5.2 1.6-3.1 1.6 2.4 1.6 .7 1.6 .1 1.6 .5 1.6-.9 1.6 0 1.6-2.9 1.3-.2 0-2.7"/>
<path d="M201.4,146l.5-1.1 .5-1.3 .5-1.1 .5-1.1 .5-.5 .5-1 .5 0 .5 .2 .5-.8 .5-.4 .5-.7 1.6 .1 1.6-.3 1.6-1.2 1.6 .6 1.6-.4 1.6 .5 1.6-1.3 1.6-.1 1.6 .5 1.6 .2 1.6 .4 1.6 .8 1.6 1.4 1.6 1.6 1.6 1.5 1.6 1 1.6 2.8 1.6 1.6 1.6 3 1.6 1.7 1.6 2.5 1.6 3.8 1.6 2.2 1.6 3.6 1.6 0 1.6 4.8 1.6 2.6 1.6 2.5 1.6-.9 1.6 6.1 1.6 .3 1.6 1.6 1.6 .3 1.6 4.1 1.6-.4 1.6 3.9 1.6 .9 1.6 2.1 1.6-1.6 1.6 4.4 1.6 2.8 1.6 .1 1.6 2.2 1.6 1.6 1.6 .7 1.6-.7 1.6 1.7 1.6-.3 1.6 3.2 1.6-1.6 1.6-.1 1.6-3 1.6 1.5 1.6 3 1.6-1.9 1.6-.5 1.6-.4 1.6 .4 1.6-1.9 1.6 1.3 .3-2.1"/>
<path d="M176.5,195.6l1.6-1 1.6 2.6 1.6-1.8 1.6 1 1.6-2.6 1.6 2.7 1.6-2 1.6 .5 1.6 1.3 1.6-.8 1.6 1.8 1.3-1.1 0-3.9"/>
<path d="M201.4,142.8l.5-1.5 .5 .2 .5-1.7 .5-.2 .5-.8 .5-1 .5-.1 .5-.9 .5-.2 .5-.7 .5-.7 1.6-.2 1.6-.5 1.6 .2 1.6-.2 1.6-.5 1.6-.1 1.6-.1 1.6 .7 1.6-.8 1.6 1.4 1.6-.1 1.6 1.9 1.6 1.2 1.6 1.6 1.6 1.7 1.6 2.1 1.6 1.5 1.6 2.7 1.6 1.6 1.6 1.1 1.6 2.3 1.6 3.1 1.6 1.1 1.6 3.5 1.6 4 1.6 1.4 1.6 3.3 1.6 1.8 1.6 2.9 1.6 1.3 1.6 .2 1.6 2.5 1.6 3.6 1.6-2.3 1.6 4.6 1.6 .5 1.6 2.2 1.6 1.9 1.6 1.2 1.6 1.6 1.6 4.3 1.6-3.7 1.6 5.7 1.6-.2 1.6-.3 1.6-.3 1.6 2.3 1.6-.7 1.6-1.4 1.6 1.7 1.6-5.9 1.6 1.8 1.6 1.6 1.6 1.8 1.6 3.1 1.6-3.1 1.6-.5 1.6-3.2 1.6 3 1.6-1.6 .3-.9"/>
<path d="M176.5,203l1.6-.2 1.6 1.4 1.6-1.1 1.6-1.3 1.6-.7 1.6 .5 1.6-.5 1.6 1.5 1.6 .2 1.6-.8 1.6-1.6 1.3-1 0 4.3"/>
<path d="M201.4,146.8l.5-2.9 .5-1 .5-.9 .5 .1 .5-1 .5-.7 .5-.7 .5-1.4 .5-.6 .5 1 .5-.1 1.6-1.8 1.6-.3 1.6-.5 1.6-.1 1.6-.2 1.6-.1 1.6 .2 1.6 0 1.6-.8 1.6 1.1 1.6 .4 1.6 1.1 1.6 1.1 1.6 2.6 1.6 1.5 1.6 1.3 1.6 2.5 1.6 1.6 1.6 4.4 1.6 1.4 1.6 1.4 1.6 3.8 1.6 3.2 1.6 1.3 1.6 2.8 1.6 4.1 1.6 .2 1.6 2 1.6 2.7 1.6 1.1 1.6 .2 1.6 1.7 1.6 4.2 1.6 .6 1.6 2.3 1.6-2.2 1.6 3.6 1.6 .7 1.6 1.9 1.6 1.9 1.6 .6 1.6 .8 1.6 1.9 1.6-.6 1.6 3.7 1.6-3.3 1.6 .7 1.6 2 1.6 1 1.6-.4 1.6 1.9 1.6 .1 1.6 3 1.6-1.1 1.6 1.3 1.6-1.3 1.6 2.3 1.6-1.2 1.6 5 1.6-2.7 .3-4.3"/>
<path d="M176.5,202.7l1.6 3.3 1.6 .2 1.6 1.6 1.6-.2 1.6-1.4 1.6-.4 1.6-4.2 1.6 2.7 1.6-1.3 1.6-2.4 1.6-.9 1.3 2.3 0-2.9"/>
<path d="M201.4,145.2l.5-2.1 .5-1.2 .5-1 .5-.6 .5-.6 .5-1.5 .5-.3 .5-1.1 .5 0 .5-1.5 .5 .3 1.6-1.2 1.6-.1 1.6-.4 1.6 .2 1.6-.2 1.6-.1 1.6 0 1.6 .2 1.6-.1 1.6 .5 1.6 .1 1.6 1.6 1.6 1.5 1.6 .7 1.6 2.7 1.6 1 1.6 2.3 1.6 3.1 1.6 1.7 1.6 4.3 1.6 .6 1.6 4.8 1.6 2.3 1.6 3.6 1.6 1.6 1.6 3.3 1.6 2.1 1.6 .9 1.6 .6 1.6 5.8 1.6 1.8 1.6 1.1 1.6 3.6 1.6 .5 1.6 3.7 1.6 .9 1.6 .6 1.6 3.6 1.6 .8 1.6 2.3 1.6-.5 1.6 1.5 1.6-1.2 1.6 2.5 1.6 1.7 1.6 2.8 1.6-.9 1.6 2.1 1.6-2.2 1.6 .9 1.6 .1 1.6 1 1.6-.4 1.6 0 1.6 1.5 1.6 .3 1.6 .4 1.6-2.1 1.6-.5 1.6 .7 .3-.2"/>
<path d="M176.5,196.8l1.6 3.9 1.6-3.8 1.6 1.7 1.6-.6 1.6 3.1 1.6-.9 1.6-5.4 1.6 4.7 1.6 1.1 1.6-.6 1.6 2.6 1.3-2.4 0 4.8"/>
<path d="M201.4,144.6l.5-1.4 .5-1.1 .5-1.3 .5 .2 .5-1.3 .5-1.1 .5 .1 .5-.1 .5-.7 .5-.7 .5-.5 1.6 .3 1.6-1 1.6-.7 1.6-.4 1.6 .7 1.6-1.2 1.6 .7 1.6 .5 1.6-1 1.6 1.2 1.6 .7 1.6 0 1.6 .9 1.6 1.7 1.6 1.8 1.6 2.5 1.6 1.4 1.6 1.9 1.6 .6 1.6 1.9 1.6 3.7 1.6 1.8 1.6 2.3 1.6 3.3 1.6 4.3 1.6 2.1 1.6-.8 1.6 4.9 1.6 3.6 1.6 3.8 1.6-.4 1.6 5.1 1.6 1.3 1.6 5.4 1.6 1.4 1.6 2.1 1.6 1.2 1.6 .4 1.6 1.9 1.6 1 1.6 .1 1.6-1.4 1.6-1.6 1.6-.5 1.6 1.8 1.6 .8 1.6 .2 1.6 3.8 1.6-2 1.6-5.6 1.6 5.1 1.6 4.3 1.6-1.2 1.6-2.2 1.6 2.2 1.6 1.3 1.6 .4 1.6 .9 1.6-1.7 1.6 .2 .3-.5"/>
<path d="M176.5,197.2l1.6-5.3 1.6 6.3 1.6-3.2 1.6 6.5 1.6-2.4 1.6-1.2 1.6 .3 1.6 4.3 1.6 .2 1.6 1.7 1.6-2.7 1.3-3.7 0 4.2"/>
<path d="M201.4,144.4l.5-1.7 .5-1.6 .5-.8 .5-1 .5-.9 .5-1 .5-1.4 .5 0 .5-.4 .5-.3 .5 .4 1.6-1 1.6 .2 1.6-.1 1.6 0 1.6 .2 1.6-.5 1.6-.1 1.6 .4 1.6-.2 1.6 .3 1.6 .6 1.6 .6 1.6 1.9 1.6 1.9 1.6 1.3 1.6 .7 1.6 2.2 1.6 2.3 1.6 2.1 1.6 2.1 1.6 3.3 1.6 2.3 1.6 2.4 1.6 1.2 1.6 3.3 1.6 1.7 1.6 1.5 1.6 1.2 1.6 3.9 1.6 1.2 1.6 5.2 1.6-1 1.6-.9 1.6 4.1 1.6 1.3 1.6 3.7 1.6-.4 1.6 4.4 1.6 2.8 1.6 .2 1.6 3.7 1.6-3.2 1.6 2.3 1.6 .8 1.6-1.5 1.6 1.3 1.6 2.7 1.6-2.2 1.6 1.9 1.6-.4 1.6 3 1.6-2.9 1.6-1.9 1.6 3.3 1.6-.2 1.6-1 1.6 2.1 1.6-6.1 1.6 2.6 1.6-4 .3 3.8"/>
<path d="M176.5,193.4l1.6 1.5 1.6-2.2 1.6 .8 1.6 2.5 1.6 3.2 1.6-1.7 1.6 .4 1.6-2.4 1.6 2.4 1.6 .3 1.6-.3 1.3 .2 0-2.9"/>
<path d="M201.4,143.6l.5-1 .5-1.3 .5-1.2 .5-.8 .5-1.3 .5-1.2 .5 0 .5-.1 .5-1.9 .5-.2 .5 .3 1.6-1.3 1.6-.7 1.6-.1 1.6-.3 1.6 .2 1.6 .2 1.6 .4 1.6 .1 1.6-.5 1.6 1 1.6 0 1.6 1.5 1.6 .6 1.6 2 1.6 1.4 1.6 1.5 1.6 1.2 1.6 3.2 1.6 1.9 1.6 2.6 1.6 3.3 1.6 .4 1.6 3.7 1.6 2.3 1.6 2.3 1.6 3.1 1.6 1.9 1.6 4.3 1.6 2.8 1.6 2.3 1.6 .7 1.6 .1 1.6 4 1.6-.3 1.6 1.3 1.6 2.9 1.6 2.5 1.6 2.9 1.6 2 1.6 1.5 1.6-.1 1.6 1.1 1.6-1.2 1.6-.1 1.6 .9 1.6 2.4 1.6-.3 1.6 .5 1.6 3 1.6-1 1.6-1.3 1.6-1.2 1.6 3.2 1.6-.9 1.6-1 1.6 .3 1.6-2 1.6 .2 1.6-1.1 1.6-3.4 .3 2.6"/>
<path d="M176.5,192.4l1.6 6.2 1.6-3.2 1.6-3.5 1.6 7.3 1.6-1.7 1.6 2.4 1.6-3.4 1.6-.6 1.6 3.9 1.6-3.8 1.6 2.6 1.3-2.1 0 1.1"/>
<path d="M201.4,143.3l.5-1.4 .5-1.2 .5-.6 .5-1.8 .5 .1 .5-1.4 .5 .7 .5-.6 .5-1.1 .5 .6 .5-.3 1.6-1.2 1.6-.5 1.6-.4 1.6 0 1.6-.5 1.6 .2 1.6-.2 1.6 .5 1.6-.6 1.6 .7 1.6 .5 1.6 .4 1.6 .8 1.6 2 1.6 .9 1.6 2.6 1.6 1.4 1.6 3 1.6 1 1.6 2.2 1.6 3.5 1.6 .7 1.6 2.6 1.6 3.2 1.6 2.1 1.6 1.2 1.6 4.5 1.6 3.6 1.6 1.6 1.6 4.7 1.6 1.1 1.6 3.1 1.6 3.3 1.6 2.2 1.6 3.9 1.6 .7 1.6 2.9 1.6-2.3 1.6 3.8 1.6 .9 1.6-1.5 1.6 2.5 1.6-.3 1.6-.3 1.6-.7 1.6 .9 1.6-1.4 1.6 3.7 1.6-3.8 1.6-.5 1.6 2.1 1.6 3.1 1.6-1.7 1.6 .6 1.6-.8 1.6 3 1.6-1.7 1.6 3.4 1.6-5 1.6-2.7 .3 4.7"/>
<path d="M176.5,202.1l1.6 .1 1.6 2.5 1.6-1.2 1.6-.7 1.6-.2 1.6-1.2 1.6-1.7 1.6-.1 1.6-1.9 1.6 1.5 1.6-2.6 1.3 2 0 .6"/>
<path d="M201.4,146.6l.5-.5 .5-2 .5-1.2 .5-.9 .5-1.3 .5-.8 .5-.9 .5-.5 .5-.8 .5-.1 .5-.6 1.6-.3 1.6-.5 1.6 0 1.6 0 1.6 .1 1.6 0 1.6-.4 1.6 .1 1.6 1 1.6 .1 1.6 .8 1.6 1.1 1.6 .8 1.6 1.7 1.6 1.2 1.6 1.9 1.6 3.8 1.6 1.5 1.6 2.9 1.6 1.9 1.6 1.5 1.6 4.9 1.6 4.1 1.6 1.6 1.6 2.2 1.6 2.3 1.6 2.5 1.6 2 1.6 3.7 1.6-.5 1.6 1.4 1.6 2.2 1.6 2.1 1.6-.9 1.6 3.2 1.6 1 1.6 .2 1.6 1.5 1.6 .2 1.6 2.6 1.6 1.3 1.6-4.5 1.6 3.7 1.6 .3 1.6 5.3 1.6-2.4 1.6 .7 1.6-2.6 1.6 3.5 1.6-1.8 1.6 1.9 1.6 .1 1.6 1.7 1.6-2.4 1.6 .6 1.6 1.3 1.6-.6 1.6-.2 1.6 1.4 1.6-.2 .3-2.6"/>
<path d="M176.5,206.1l1.6-3.1 1.6 .5 1.6-2.9 1.6 .9 1.6 .8 1.6 2.2 1.6-5.3 1.6 2.7 1.6 1 1.6-1.3 1.6-1.8 1.3-1.7 0 .7 .5-.7 .5-.7 .5-1.1 .5 2.1 .5 .9 .5-1.2 .5 .8 .5-2.1 .5-1.1 .5 1.9 .5-1.6 .5-1 .5 1.1 .5-1.4 .5-1.8 .5 1.9 .5-1.5 .5 2.3 .5-3 .5 1.5 .5 2.1 .5-2.5 .5 1.6 1.6 2.5 1.6 4.8 1.6-1.6 1.6 1.6 1.6 1.7 1.6-.5 1.6-1.3 1.6-.2 1.6 2 1.6 .6 1.6 .2 1.6-1.6 1.6 1.1 1.6 .1 1.6 .3 1.6-1.1 1.6-.2 1.6 1.7 1.6-2.6 1.6-.7 1.6-2.3 1.6 1.4 1.6 .5 1.6-2.3 1.6 .6 1.6 .1 1.6 1.9 1.6 1.4 1.6-3.4 1.6 3.2 1.6-2.3 1.6-1.5 1.6 .6 1.6-3.3 1.6 1 1.6-.2 1.6-.1 1.6 1.1 1.6-.8 1.6 2.3 1.6 1.7 1.6-3.1 1.6 4.4 1.6-4.3 1.6 .5 1.6-1 1.6 1.7 1.6-.2 1.6 1.4 1.6-1.4 1.6 1 1.6-2.2 1.6 2.2 1.6 .9 1.6 .2 1.6-3.5 1.6 .8 1.6-.7 1.6-.1 1.6 2.6 .3-2"/>
<path d="M176.5,202.3l1.6-1.6 1.6 2.9 1.6-1 1.6 1.2 1.6 1.7 1.6-.5 1.6-2.6 1.6 .2 1.6 1.1 1.6 2.6 1.6-2.3 1.3-4 0 3.1 .5-5.1 .5-.4 .5-.7 .5 .9 .5 1 .5 .9 .5-.9 .5 .2 .5 .7 .5-5.7 .5 3.3 .5 .8 .5-1 .5-1.5 .5-.5 .5-.8 .5-1.2 .5 2.9 .5-1.1 .5-.5 .5 2.1 .5-.1 .5 .5 1.6 3.5 1.6-2.9 1.6 3.3 1.6 1 1.6 .3 1.6 2.3 1.6-.1 1.6 1.8 1.6-.6 1.6 .5 1.6 .7 1.6-3.2 1.6 2.1 1.6 .8 1.6-2.6 1.6-.1 1.6 .5 1.6 .3 1.6-.7 1.6-1.7 1.6-.2 1.6-1.3 1.6-.2 1.6 .9 1.6-1.2 1.6 3.3 1.6 .1 1.6 .1 1.6 .5 1.6-.8 1.6 1.2 1.6 2.6 1.6 1.7 1.6 1.1 1.6-2.5 1.6-1 1.6-.2 1.6 1.1 1.6-.6 1.6-.9 1.6 .3 1.6 .9 1.6-.8 1.6-.1 1.6 1.2 1.6-1.6 1.6-1.7 1.6 2.7 1.6-1.9 1.6 1.6 1.6-2.2 1.6-1.6 1.6 .8 1.6 .6 1.6 0 1.6-.1 1.6-1.4 1.6 2.5 1.6 .4 1.6-2.7 .3 .7"/>
</g>
<g fill="none" stroke="#000" stroke-width="1.25">
<path d="M27.8,95l.2-5.2 .3-4.9 .3-4.4 .2-4.2 .2-3.8 .3-3.5 .3-3.3 .2-3 .2-2.8 .3-2.6 .3-2.4 .2-2.2 .2-2.1 .3-1.9 .3-1.7 .2-1.7 .2-1.5 .3-1.3 .3-1.3 .2-1.2 .2-1.1 .3-1 .3-1 .2-.8 .2-.8"/>
<path d="M195.4,93.3l.2-5.1 .3-4.8 .3-4.3 .2-4.1 .2-3.8 .3-3.4 .3-3.2 .2-3 .2-2.7 .3-2.6 .3-2.3 .2-2.2 .2-2 .3-1.9 .3-1.7 .2-1.6 .2-1.4 .3-1.4 .3-1.2 .2-1.2 .2-1.1 .3-1 .3-.9 .2-.8 .2-.8"/>
<path d="M27.9,201.6l.3-5.1 .2-4.7 .2-4.4 .3-4 .3-3.7 .2-3.5 .2-3.2 .3-2.9 .3-2.7 .2-2.6 .2-2.3 .3-2.1 .3-2 .2-1.9 .2-1.7 .3-1.6 .3-1.4 .2-1.4 .2-1.2 .3-1.2 .3-1.1 .2-.9 .2-1 .3-.8 .3-.8"/>
<path d="M195.4,201.4l.2-5 .3-4.6 .3-4.3 .2-3.9 .2-3.7 .3-3.4 .3-3.1 .2-2.9 .2-2.7 .3-2.5 .3-2.2 .2-2.2 .2-1.9 .3-1.8 .3-1.7 .2-1.5 .2-1.5 .3-1.3 .3-1.2 .2-1.2 .2-1 .3-1 .3-.9 .2-.8 .2-.8"/>
</g>
<line x1="26.0" y1="70.9" x2="26.0" y2="80.4" stroke="#e8141c" stroke-width="1.5"/>
<polygon points="23.9,79.4 28.1,79.4 26.0,85.4" fill="#e8141c"/>
<line x1="193.2" y1="69.9" x2="193.2" y2="79.4" stroke="#e8141c" stroke-width="1.5"/>
<polygon points="191.1,78.4 195.3,78.4 193.2,84.4" fill="#e8141c"/>
<line x1="25.9" y1="179.1" x2="25.9" y2="188.6" stroke="#e8141c" stroke-width="1.5"/>
<polygon points="23.8,187.6 28.0,187.6 25.9,193.6" fill="#e8141c"/>
<line x1="193.2" y1="178.4" x2="193.2" y2="187.9" stroke="#e8141c" stroke-width="1.5"/>
<polygon points="191.1,186.9 195.3,186.9 193.2,192.9" fill="#e8141c"/>
<text transform="translate(110.77,13.00) scale(0.9362,1)" font-family="Liberation Sans, sans-serif" font-size="14.40" fill="#1a1a1a"><tspan>ASEL</tspan></text>
<text transform="translate(149.35,13.00) scale(0.8381,1)" font-family="Liberation Sans, sans-serif" font-size="14.40" fill="#1a1a1a"><tspan>(</tspan></text>
<text transform="translate(154.87,13.00) scale(0.9416,1)" font-family="Liberation Sans, sans-serif" font-size="14.40" fill="#1a1a1a"><tspan font-style="italic">n</tspan></text>
<text transform="translate(165.98,13.00) scale(1.3150,1)" font-family="Liberation Sans, sans-serif" font-size="14.40" fill="#1a1a1a"><tspan>=</tspan></text>
<text transform="translate(179.91,13.00) scale(1.0284,1)" font-family="Liberation Sans, sans-serif" font-size="14.40" fill="#1a1a1a"><tspan>50</tspan></text>
<text transform="translate(198.33,13.00) scale(0.8120,1)" font-family="Liberation Sans, sans-serif" font-size="14.40" fill="#1a1a1a"><tspan>)</tspan></text>
<polygon fill="none" stroke="#1a1a1a" stroke-width="0.9" stroke-linejoin="miter" points="24.80,111.60 20.70,120.30 28.90,120.30"/>
<text transform="translate(29.59,119.70) scale(0.9656,1)" font-family="Liberation Sans, sans-serif" font-size="13.40" fill="#1a1a1a"><tspan font-style="italic">C</tspan></text>
<text transform="translate(41.27,119.70) scale(1.2749,1)" font-family="Liberation Sans, sans-serif" font-size="13.40" fill="#1a1a1a"><tspan>=</tspan></text>
<text transform="translate(54.25,119.70) scale(1.0487,1)" font-family="Liberation Sans, sans-serif" font-size="13.40" fill="#1a1a1a"><tspan>0.25(</tspan></text>
<text transform="translate(87.26,119.70) scale(1.0661,1)" font-family="Liberation Sans, sans-serif" font-size="13.40" fill="#1a1a1a"><tspan font-style="italic">m</tspan></text>
<text transform="translate(101.96,119.70) scale(1.2903,1)" font-family="Liberation Sans, sans-serif" font-size="13.40" fill="#1a1a1a"><tspan>=</tspan></text>
<text transform="translate(115.72,119.70) scale(1.0903,1)" font-family="Liberation Sans, sans-serif" font-size="13.40" fill="#1a1a1a"><tspan>9)</tspan></text>
<polygon fill="none" stroke="#1a1a1a" stroke-width="0.9" stroke-linejoin="miter" points="192.00,110.10 187.90,118.80 196.10,118.80"/>
<text transform="translate(196.79,118.20) scale(0.9656,1)" font-family="Liberation Sans, sans-serif" font-size="13.40" fill="#1a1a1a"><tspan font-style="italic">C</tspan></text>
<text transform="translate(208.47,118.20) scale(1.2749,1)" font-family="Liberation Sans, sans-serif" font-size="13.40" fill="#1a1a1a"><tspan>=</tspan></text>
<text transform="translate(221.45,118.20) scale(1.0487,1)" font-family="Liberation Sans, sans-serif" font-size="13.40" fill="#1a1a1a"><tspan>0.50(</tspan></text>
<text transform="translate(254.46,118.20) scale(1.0661,1)" font-family="Liberation Sans, sans-serif" font-size="13.40" fill="#1a1a1a"><tspan font-style="italic">m</tspan></text>
<text transform="translate(269.16,118.20) scale(1.2903,1)" font-family="Liberation Sans, sans-serif" font-size="13.40" fill="#1a1a1a"><tspan>=</tspan></text>
<text transform="translate(282.88,118.20) scale(1.0648,1)" font-family="Liberation Sans, sans-serif" font-size="13.40" fill="#1a1a1a"><tspan>23)</tspan></text>
<polygon fill="none" stroke="#1a1a1a" stroke-width="0.9" stroke-linejoin="miter" points="24.50,220.00 20.40,228.70 28.60,228.70"/>
<text transform="translate(29.29,228.10) scale(0.9656,1)" font-family="Liberation Sans, sans-serif" font-size="13.40" fill="#1a1a1a"><tspan font-style="italic">C</tspan></text>
<text transform="translate(40.97,228.10) scale(1.2749,1)" font-family="Liberation Sans, sans-serif" font-size="13.40" fill="#1a1a1a"><tspan>=</tspan></text>
<text transform="translate(53.95,228.10) scale(1.0487,1)" font-family="Liberation Sans, sans-serif" font-size="13.40" fill="#1a1a1a"><tspan>0.75(</tspan></text>
<text transform="translate(86.96,228.10) scale(1.0661,1)" font-family="Liberation Sans, sans-serif" font-size="13.40" fill="#1a1a1a"><tspan font-style="italic">m</tspan></text>
<text transform="translate(101.66,228.10) scale(1.2903,1)" font-family="Liberation Sans, sans-serif" font-size="13.40" fill="#1a1a1a"><tspan>=</tspan></text>
<text transform="translate(115.56,228.10) scale(1.0551,1)" font-family="Liberation Sans, sans-serif" font-size="13.40" fill="#1a1a1a"><tspan>34)</tspan></text>
<polygon fill="none" stroke="#1a1a1a" stroke-width="0.9" stroke-linejoin="miter" points="192.00,218.50 187.90,227.20 196.10,227.20"/>
<text transform="translate(196.79,226.60) scale(0.9656,1)" font-family="Liberation Sans, sans-serif" font-size="13.40" fill="#1a1a1a"><tspan font-style="italic">C</tspan></text>
<text transform="translate(208.47,226.60) scale(1.2749,1)" font-family="Liberation Sans, sans-serif" font-size="13.40" fill="#1a1a1a"><tspan>=</tspan></text>
<text transform="translate(220.90,226.60) scale(1.0814,1)" font-family="Liberation Sans, sans-serif" font-size="13.40" fill="#1a1a1a"><tspan>1.0(</tspan></text>
<text transform="translate(246.84,226.60) scale(1.0661,1)" font-family="Liberation Sans, sans-serif" font-size="13.40" fill="#1a1a1a"><tspan font-style="italic">m</tspan></text>
<text transform="translate(261.54,226.60) scale(1.2903,1)" font-family="Liberation Sans, sans-serif" font-size="13.40" fill="#1a1a1a"><tspan>=</tspan></text>
<text transform="translate(275.66,226.60) scale(1.0434,1)" font-family="Liberation Sans, sans-serif" font-size="13.40" fill="#1a1a1a"><tspan>48)</tspan></text>
<g fill="none" stroke-width="1.55" stroke-linejoin="round" stroke-linecap="butt">
<path d="M6,481 L302,481" stroke="#f27fc4"/>
<path d="M49.00,481.00 L49.25,480.05 L49.50,478.80 L49.75,477.41 L50.00,475.92 L50.25,474.34 L50.50,472.70 L50.75,471.00 L51.00,469.25 L51.25,467.46 L51.50,465.63 L51.75,463.77 L52.00,461.87 L52.25,459.96 L52.50,458.02 L52.75,456.06 L53.00,454.09 L53.25,452.11 L53.50,450.12 L53.75,448.13 L54.00,446.14 L54.25,444.14 L54.50,442.16 L54.75,440.17 L55.00,438.20 L55.25,436.24 L55.50,434.29 L55.75,432.36 L56.00,430.45 L56.25,428.56 L56.50,426.69 L56.75,424.85 L57.00,423.03 L57.25,421.25 L57.50,419.49 L57.75,417.76 L58.00,416.06 L58.25,414.40 L58.50,412.77 L58.75,411.18 L59.00,409.62 L59.25,408.10 L59.50,406.62 L59.75,405.17 L60.00,403.77 L60.25,402.40 L60.50,401.07 L60.75,399.78 L61.00,398.53 L61.25,397.32 L61.50,396.15 L61.75,395.01 L62.00,393.92 L62.25,392.86 L62.50,391.84 L62.75,390.86 L63.00,389.92 L63.25,389.01 L63.50,388.13 L63.75,387.30 L64.00,386.49 L64.25,385.72 L64.50,384.99 L64.75,384.28 L65.00,383.61 L65.25,382.97 L65.50,382.36 L65.75,381.78 L66.00,381.23 L66.25,380.71 L66.50,380.21 L66.75,379.74 L67.00,379.30 L67.25,378.88 L67.50,378.49 L67.75,378.12 L68.00,377.77 L68.25,377.45 L68.50,377.14 L68.75,376.86 L69.00,376.60 L69.25,376.36 L69.50,376.14 L69.75,375.93 L70.00,375.75 L70.25,375.58 L70.50,375.43 L70.75,375.29 L71.00,375.17 L71.25,375.07 L71.50,374.98 L71.75,374.90 L72.00,374.84 L72.25,374.80 L72.50,374.76 L72.75,374.74 L73.00,374.73 L73.25,374.73 L73.50,374.74 L73.75,374.77 L74.00,374.80 L74.25,374.85 L74.50,374.91 L74.75,374.97 L75.00,375.05 L75.25,375.13 L75.50,375.22 L75.75,375.32 L76.00,375.44 L76.25,375.55 L76.50,375.68 L76.75,375.81 L77.00,375.96 L77.25,376.11 L77.50,376.26 L77.75,376.43 L78.00,376.60 L78.25,376.77 L78.50,376.96 L78.75,377.15 L79.00,377.34 L79.50,377.75 L80.62,378.74 L81.74,379.84 L82.85,381.03 L83.97,382.31 L85.09,383.66 L86.21,385.08 L87.33,386.57 L88.44,388.11 L89.56,389.71 L90.68,391.36 L91.80,393.04 L92.92,394.77 L94.04,396.52 L95.15,398.31 L96.27,400.12 L97.39,401.94 L98.51,403.79 L99.63,405.64 L100.74,407.50 L101.86,409.36 L102.98,411.22 L104.10,413.07 L105.22,414.92 L106.33,416.75 L107.45,418.57 L108.57,420.38 L109.69,422.16 L110.81,423.92 L111.92,425.66 L113.04,427.37 L114.16,429.06 L115.28,430.71 L116.40,432.33 L117.52,433.92 L118.63,435.48 L119.75,437.00 L120.87,438.49 L121.99,439.94 L123.11,441.36 L124.22,442.74 L125.34,444.08 L126.46,445.39 L127.58,446.66 L128.70,447.90 L129.81,449.09 L130.93,450.26 L132.05,451.39 L133.17,452.48 L134.29,453.54 L135.40,454.56 L136.52,455.55 L137.64,456.51 L138.76,457.44 L139.88,458.34 L140.99,459.20 L142.11,460.04 L143.23,460.84 L144.35,461.62 L145.47,462.37 L146.59,463.09 L147.70,463.79 L148.82,464.46 L149.94,465.11 L151.06,465.74 L152.18,466.34 L153.29,466.91 L154.41,467.47 L155.53,468.01 L156.65,468.52 L157.77,469.02 L158.88,469.50 L160.00,469.95 L161.12,470.40 L162.24,470.82 L163.36,471.23 L164.47,471.62 L165.59,472.00 L166.71,472.36 L167.83,472.70 L168.95,473.04 L170.07,473.36 L171.18,473.67 L172.30,473.96 L173.42,474.25 L174.54,474.52 L175.66,474.78 L176.77,475.03 L177.89,475.28 L179.01,475.51 L180.13,475.73 L181.25,475.95 L182.36,476.15 L183.48,476.35 L184.60,476.54 L185.72,476.72 L186.84,476.89 L187.95,477.06 L189.07,477.22 L190.19,477.37 L191.31,477.52 L192.43,477.66 L193.55,477.80 L194.66,477.93 L195.78,478.05 L196.90,478.17 L198.02,478.29 L199.14,478.40 L200.25,478.51 L201.37,478.61 L202.49,478.71 L203.61,478.80 L204.73,478.89 L205.84,478.98 L206.96,479.06 L208.08,479.14 L209.20,479.21 L210.32,479.29 L211.43,479.36 L212.55,479.42 L213.67,479.49 L214.79,479.55 L215.91,479.61 L217.03,479.67 L218.14,479.72 L219.26,479.77 L220.38,479.82 L221.50,479.87 L222.62,479.92 L223.73,479.96 L224.85,480.00 L225.97,480.05 L227.09,480.08 L228.21,480.12 L229.32,480.16 L230.44,480.19 L231.56,480.23 L232.68,480.26 L233.80,480.29 L234.91,480.32 L236.03,480.34 L237.15,480.37 L238.27,480.40 L239.39,480.42 L240.51,480.45 L241.62,480.47 L242.74,480.49 L243.86,480.51 L244.98,480.53 L246.10,480.55 L247.21,480.57 L248.33,480.59 L249.45,480.60 L250.57,480.62 L251.69,480.63 L252.80,480.65 L253.92,480.66 L255.04,480.68 L256.16,480.69 L257.28,480.70 L258.39,480.72 L259.51,480.73 L260.63,480.74 L261.75,480.75 L262.87,480.76 L263.98,480.77 L265.10,480.78 L266.22,480.79 L267.34,480.80 L268.46,480.80 L269.58,480.81 L270.69,480.82 L271.81,480.83 L272.93,480.84 L274.05,480.84 L275.17,480.85 L276.28,480.85 L277.40,480.86 L278.52,480.87 L279.64,480.87 L280.76,480.88 L281.87,480.88 L282.99,480.89 L284.11,480.89 L285.23,480.90 L286.35,480.90 L287.46,480.90 L288.58,480.91 L289.70,480.91 L290.82,480.92 L291.94,480.92 L293.06,480.92 L294.17,480.93 L295.29,480.93 L296.41,480.93 L297.53,480.93 L298.65,480.94 L299.76,480.94 L300.88,480.94 L302.00,480.94" stroke="#9b3fa6"/>
<path d="M49.00,481.00 L49.25,478.77 L49.50,476.04 L49.75,473.09 L50.00,469.96 L50.25,466.72 L50.50,463.37 L50.75,459.95 L51.00,456.46 L51.25,452.91 L51.50,449.33 L51.75,445.72 L52.00,442.09 L52.25,438.45 L52.50,434.81 L52.75,431.18 L53.00,427.56 L53.25,423.97 L53.50,420.41 L53.75,416.88 L54.00,413.40 L54.25,409.97 L54.50,406.60 L54.75,403.28 L55.00,400.03 L55.25,396.85 L55.50,393.74 L55.75,390.71 L56.00,387.75 L56.25,384.87 L56.50,382.08 L56.75,379.37 L57.00,376.74 L57.25,374.20 L57.50,371.74 L57.75,369.37 L58.00,367.08 L58.25,364.87 L58.50,362.75 L58.75,360.71 L59.00,358.75 L59.25,356.87 L59.50,355.06 L59.75,353.33 L60.00,351.68 L60.25,350.09 L60.50,348.58 L60.75,347.13 L61.00,345.75 L61.25,344.43 L61.50,343.18 L61.75,341.98 L62.00,340.84 L62.25,339.75 L62.50,338.71 L62.75,337.73 L63.00,336.79 L63.25,335.90 L63.50,335.06 L63.75,334.26 L64.00,333.50 L64.25,332.77 L64.50,332.09 L64.75,331.44 L65.00,330.82 L65.25,330.24 L65.50,329.69 L65.75,329.17 L66.00,328.67 L66.25,328.21 L66.50,327.77 L66.75,327.35 L67.00,326.96 L67.25,326.60 L67.50,326.25 L67.75,325.92 L68.00,325.62 L68.25,325.33 L68.50,325.07 L68.75,324.82 L69.00,324.58 L69.25,324.37 L69.50,324.17 L69.75,323.98 L70.00,323.81 L70.25,323.65 L70.50,323.51 L70.75,323.38 L71.00,323.26 L71.25,323.16 L71.50,323.06 L71.75,322.98 L72.00,322.91 L72.25,322.85 L72.50,322.80 L72.75,322.77 L73.00,322.74 L73.25,322.72 L73.50,322.71 L73.75,322.71 L74.00,322.72 L74.25,322.74 L74.50,322.77 L74.75,322.81 L75.00,322.85 L75.25,322.90 L75.50,322.97 L75.75,323.04 L76.00,323.11 L76.25,323.20 L76.50,323.29 L76.75,323.39 L77.00,323.50 L77.25,323.62 L77.50,323.74 L77.75,323.87 L78.00,324.01 L78.25,324.16 L78.50,324.31 L78.75,324.47 L79.00,324.64 L79.50,324.99 L80.62,325.88 L81.74,326.90 L82.85,328.04 L83.97,329.31 L85.09,330.70 L86.21,332.20 L87.33,333.81 L88.44,335.52 L89.56,337.34 L90.68,339.25 L91.80,341.24 L92.92,343.32 L94.04,345.47 L95.15,347.70 L96.27,349.99 L97.39,352.34 L98.51,354.74 L99.63,357.18 L100.74,359.67 L101.86,362.19 L102.98,364.73 L104.10,367.30 L105.22,369.88 L106.33,372.47 L107.45,375.06 L108.57,377.65 L109.69,380.24 L110.81,382.82 L111.92,385.38 L113.04,387.92 L114.16,390.44 L115.28,392.94 L116.40,395.40 L117.52,397.84 L118.63,400.24 L119.75,402.60 L120.87,404.92 L121.99,407.20 L123.11,409.44 L124.22,411.63 L125.34,413.78 L126.46,415.89 L127.58,417.94 L128.70,419.95 L129.81,421.92 L130.93,423.83 L132.05,425.69 L133.17,427.51 L134.29,429.28 L135.40,431.00 L136.52,432.68 L137.64,434.30 L138.76,435.88 L139.88,437.42 L140.99,438.91 L142.11,440.35 L143.23,441.75 L144.35,443.11 L145.47,444.43 L146.59,445.70 L147.70,446.94 L148.82,448.13 L149.94,449.29 L151.06,450.41 L152.18,451.49 L153.29,452.54 L154.41,453.55 L155.53,454.53 L156.65,455.48 L157.77,456.39 L158.88,457.27 L160.00,458.12 L161.12,458.95 L162.24,459.74 L163.36,460.51 L164.47,461.25 L165.59,461.97 L166.71,462.66 L167.83,463.32 L168.95,463.96 L170.07,464.58 L171.18,465.18 L172.30,465.76 L173.42,466.31 L174.54,466.85 L175.66,467.37 L176.77,467.87 L177.89,468.35 L179.01,468.81 L180.13,469.26 L181.25,469.69 L182.36,470.10 L183.48,470.50 L184.60,470.89 L185.72,471.26 L186.84,471.62 L187.95,471.96 L189.07,472.29 L190.19,472.61 L191.31,472.92 L192.43,473.22 L193.55,473.51 L194.66,473.78 L195.78,474.05 L196.90,474.31 L198.02,474.55 L199.14,474.79 L200.25,475.02 L201.37,475.24 L202.49,475.45 L203.61,475.66 L204.73,475.85 L205.84,476.04 L206.96,476.23 L208.08,476.40 L209.20,476.57 L210.32,476.74 L211.43,476.89 L212.55,477.05 L213.67,477.19 L214.79,477.33 L215.91,477.47 L217.03,477.60 L218.14,477.73 L219.26,477.85 L220.38,477.96 L221.50,478.08 L222.62,478.18 L223.73,478.29 L224.85,478.39 L225.97,478.48 L227.09,478.58 L228.21,478.67 L229.32,478.75 L230.44,478.84 L231.56,478.92 L232.68,478.99 L233.80,479.07 L234.91,479.14 L236.03,479.21 L237.15,479.27 L238.27,479.34 L239.39,479.40 L240.51,479.46 L241.62,479.52 L242.74,479.57 L243.86,479.62 L244.98,479.68 L246.10,479.72 L247.21,479.77 L248.33,479.82 L249.45,479.86 L250.57,479.90 L251.69,479.94 L252.80,479.98 L253.92,480.02 L255.04,480.06 L256.16,480.09 L257.28,480.13 L258.39,480.16 L259.51,480.19 L260.63,480.22 L261.75,480.25 L262.87,480.28 L263.98,480.30 L265.10,480.33 L266.22,480.35 L267.34,480.38 L268.46,480.40 L269.58,480.42 L270.69,480.44 L271.81,480.46 L272.93,480.48 L274.05,480.50 L275.17,480.52 L276.28,480.54 L277.40,480.56 L278.52,480.57 L279.64,480.59 L280.76,480.60 L281.87,480.62 L282.99,480.63 L284.11,480.65 L285.23,480.66 L286.35,480.67 L287.46,480.68 L288.58,480.70 L289.70,480.71 L290.82,480.72 L291.94,480.73 L293.06,480.74 L294.17,480.75 L295.29,480.76 L296.41,480.77 L297.53,480.78 L298.65,480.78 L299.76,480.79 L300.88,480.80 L302.00,480.81" stroke="#f15a22"/>
<path d="M49.00,481.00 L49.25,477.73 L49.50,473.96 L49.75,469.97 L50.00,465.84 L50.25,461.62 L50.50,457.31 L50.75,452.95 L51.00,448.56 L51.25,444.13 L51.50,439.70 L51.75,435.27 L52.00,430.85 L52.25,426.45 L52.50,422.08 L52.75,417.75 L53.00,413.47 L53.25,409.25 L53.50,405.08 L53.75,400.99 L54.00,396.97 L54.25,393.03 L54.50,389.17 L54.75,385.41 L55.00,381.73 L55.25,378.15 L55.50,374.67 L55.75,371.29 L56.00,368.01 L56.25,364.84 L56.50,361.76 L56.75,358.79 L57.00,355.93 L57.25,353.17 L57.50,350.51 L57.75,347.95 L58.00,345.50 L58.25,343.14 L58.50,340.87 L58.75,338.71 L59.00,336.63 L59.25,334.65 L59.50,332.75 L59.75,330.94 L60.00,329.21 L60.25,327.57 L60.50,326.00 L60.75,324.50 L61.00,323.08 L61.25,321.73 L61.50,320.44 L61.75,319.22 L62.00,318.06 L62.25,316.96 L62.50,315.92 L62.75,314.93 L63.00,313.99 L63.25,313.11 L63.50,312.27 L63.75,311.47 L64.00,310.72 L64.25,310.02 L64.50,309.35 L64.75,308.72 L65.00,308.12 L65.25,307.56 L65.50,307.03 L65.75,306.53 L66.00,306.06 L66.25,305.62 L66.50,305.21 L66.75,304.82 L67.00,304.46 L67.25,304.12 L67.50,303.80 L67.75,303.50 L68.00,303.22 L68.25,302.97 L68.50,302.73 L68.75,302.50 L69.00,302.30 L69.25,302.10 L69.50,301.93 L69.75,301.77 L70.00,301.62 L70.25,301.49 L70.50,301.36 L70.75,301.25 L71.00,301.16 L71.25,301.07 L71.50,300.99 L71.75,300.93 L72.00,300.87 L72.25,300.82 L72.50,300.78 L72.75,300.76 L73.00,300.74 L73.25,300.72 L73.50,300.72 L73.75,300.72 L74.00,300.74 L74.25,300.75 L74.50,300.78 L74.75,300.81 L75.00,300.85 L75.25,300.90 L75.50,300.95 L75.75,301.01 L76.00,301.08 L76.25,301.15 L76.50,301.22 L76.75,301.31 L77.00,301.40 L77.25,301.49 L77.50,301.59 L77.75,301.70 L78.00,301.81 L78.25,301.92 L78.50,302.05 L78.75,302.17 L79.00,302.30 L79.50,302.58 L80.62,303.28 L81.74,304.07 L82.85,304.96 L83.97,305.94 L85.09,307.01 L86.21,308.18 L87.33,309.43 L88.44,310.78 L89.56,312.21 L90.68,313.72 L91.80,315.33 L92.92,317.01 L94.04,318.78 L95.15,320.63 L96.27,322.56 L97.39,324.56 L98.51,326.63 L99.63,328.78 L100.74,330.99 L101.86,333.26 L102.98,335.60 L104.10,337.99 L105.22,340.43 L106.33,342.92 L107.45,345.45 L108.57,348.02 L109.69,350.62 L110.81,353.26 L111.92,355.92 L113.04,358.60 L114.16,361.30 L115.28,364.01 L116.40,366.73 L117.52,369.45 L118.63,372.17 L119.75,374.88 L120.87,377.59 L121.99,380.28 L123.11,382.96 L124.22,385.61 L125.34,388.25 L126.46,390.85 L127.58,393.43 L128.70,395.97 L129.81,398.48 L130.93,400.96 L132.05,403.39 L133.17,405.78 L134.29,408.13 L135.40,410.44 L136.52,412.70 L137.64,414.91 L138.76,417.08 L139.88,419.19 L140.99,421.26 L142.11,423.28 L143.23,425.25 L144.35,427.16 L145.47,429.03 L146.59,430.85 L147.70,432.62 L148.82,434.34 L149.94,436.00 L151.06,437.62 L152.18,439.20 L153.29,440.72 L154.41,442.20 L155.53,443.63 L156.65,445.01 L157.77,446.35 L158.88,447.65 L160.00,448.90 L161.12,450.12 L162.24,451.29 L163.36,452.42 L164.47,453.51 L165.59,454.57 L166.71,455.58 L167.83,456.57 L168.95,457.51 L170.07,458.43 L171.18,459.31 L172.30,460.15 L173.42,460.97 L174.54,461.76 L175.66,462.51 L176.77,463.24 L177.89,463.95 L179.01,464.62 L180.13,465.27 L181.25,465.90 L182.36,466.50 L183.48,467.08 L184.60,467.63 L185.72,468.17 L186.84,468.68 L187.95,469.18 L189.07,469.65 L190.19,470.11 L191.31,470.55 L192.43,470.97 L193.55,471.37 L194.66,471.76 L195.78,472.14 L196.90,472.49 L198.02,472.84 L199.14,473.17 L200.25,473.49 L201.37,473.79 L202.49,474.09 L203.61,474.37 L204.73,474.64 L205.84,474.90 L206.96,475.14 L208.08,475.38 L209.20,475.61 L210.32,475.83 L211.43,476.04 L212.55,476.25 L213.67,476.44 L214.79,476.63 L215.91,476.80 L217.03,476.98 L218.14,477.14 L219.26,477.30 L220.38,477.45 L221.50,477.60 L222.62,477.74 L223.73,477.87 L224.85,478.00 L225.97,478.12 L227.09,478.24 L228.21,478.35 L229.32,478.46 L230.44,478.56 L231.56,478.66 L232.68,478.76 L233.80,478.85 L234.91,478.94 L236.03,479.03 L237.15,479.11 L238.27,479.18 L239.39,479.26 L240.51,479.33 L241.62,479.40 L242.74,479.46 L243.86,479.53 L244.98,479.59 L246.10,479.65 L247.21,479.70 L248.33,479.76 L249.45,479.81 L250.57,479.86 L251.69,479.90 L252.80,479.95 L253.92,479.99 L255.04,480.03 L256.16,480.07 L257.28,480.11 L258.39,480.15 L259.51,480.18 L260.63,480.22 L261.75,480.25 L262.87,480.28 L263.98,480.31 L265.10,480.34 L266.22,480.36 L267.34,480.39 L268.46,480.42 L269.58,480.44 L270.69,480.46 L271.81,480.48 L272.93,480.51 L274.05,480.53 L275.17,480.55 L276.28,480.56 L277.40,480.58 L278.52,480.60 L279.64,480.62 L280.76,480.63 L281.87,480.65 L282.99,480.66 L284.11,480.68 L285.23,480.69 L286.35,480.70 L287.46,480.71 L288.58,480.73 L289.70,480.74 L290.82,480.75 L291.94,480.76 L293.06,480.77 L294.17,480.78 L295.29,480.79 L296.41,480.80 L297.53,480.80 L298.65,480.81 L299.76,480.82 L300.88,480.83 L302.00,480.83" stroke="#5a8a3a"/>
<path d="M49.00,481.00 L49.25,477.54 L49.50,473.36 L49.75,468.87 L50.00,464.17 L50.25,459.32 L50.50,454.36 L50.75,449.31 L51.00,444.21 L51.25,439.07 L51.50,433.91 L51.75,428.75 L52.00,423.61 L52.25,418.51 L52.50,413.45 L52.75,408.45 L53.00,403.53 L53.25,398.68 L53.50,393.94 L53.75,389.29 L54.00,384.76 L54.25,380.35 L54.50,376.06 L54.75,371.90 L55.00,367.88 L55.25,363.99 L55.50,360.24 L55.75,356.64 L56.00,353.17 L56.25,349.85 L56.50,346.66 L56.75,343.62 L57.00,340.71 L57.25,337.94 L57.50,335.30 L57.75,332.79 L58.00,330.41 L58.25,328.15 L58.50,326.00 L58.75,323.97 L59.00,322.05 L59.25,320.24 L59.50,318.53 L59.75,316.91 L60.00,315.39 L60.25,313.95 L60.50,312.60 L60.75,311.33 L61.00,310.13 L61.25,309.01 L61.50,307.96 L61.75,306.96 L62.00,306.03 L62.25,305.16 L62.50,304.34 L62.75,303.58 L63.00,302.86 L63.25,302.18 L63.50,301.55 L63.75,300.96 L64.00,300.41 L64.25,299.89 L64.50,299.41 L64.75,298.95 L65.00,298.53 L65.25,298.13 L65.50,297.76 L65.75,297.42 L66.00,297.09 L66.25,296.79 L66.50,296.51 L66.75,296.24 L67.00,295.99 L67.25,295.76 L67.50,295.55 L67.75,295.35 L68.00,295.16 L68.25,294.99 L68.50,294.82 L68.75,294.67 L69.00,294.53 L69.25,294.40 L69.50,294.28 L69.75,294.17 L70.00,294.07 L70.25,293.98 L70.50,293.89 L70.75,293.81 L71.00,293.74 L71.25,293.67 L71.50,293.61 L71.75,293.56 L72.00,293.51 L72.25,293.47 L72.50,293.43 L72.75,293.40 L73.00,293.37 L73.25,293.35 L73.50,293.33 L73.75,293.32 L74.00,293.31 L74.25,293.30 L74.50,293.30 L74.75,293.31 L75.00,293.31 L75.25,293.33 L75.50,293.34 L75.75,293.36 L76.00,293.38 L76.25,293.41 L76.50,293.44 L76.75,293.47 L77.00,293.51 L77.25,293.55 L77.50,293.59 L77.75,293.64 L78.00,293.69 L78.25,293.74 L78.50,293.80 L78.75,293.86 L79.00,293.93 L79.50,294.06 L80.62,294.42 L81.74,294.84 L82.85,295.33 L83.97,295.89 L85.09,296.52 L86.21,297.22 L87.33,298.00 L88.44,298.84 L89.56,299.77 L90.68,300.77 L91.80,301.84 L92.92,303.00 L94.04,304.23 L95.15,305.54 L96.27,306.94 L97.39,308.41 L98.51,309.97 L99.63,311.60 L100.74,313.31 L101.86,315.11 L102.98,316.98 L104.10,318.92 L105.22,320.94 L106.33,323.04 L107.45,325.20 L108.57,327.44 L109.69,329.73 L110.81,332.10 L111.92,334.52 L113.04,337.00 L114.16,339.53 L115.28,342.11 L116.40,344.74 L117.52,347.40 L118.63,350.11 L119.75,352.84 L120.87,355.61 L121.99,358.39 L123.11,361.20 L124.22,364.02 L125.34,366.85 L126.46,369.69 L127.58,372.52 L128.70,375.35 L129.81,378.18 L130.93,380.99 L132.05,383.79 L133.17,386.56 L134.29,389.31 L135.40,392.04 L136.52,394.73 L137.64,397.39 L138.76,400.01 L139.88,402.59 L140.99,405.13 L142.11,407.63 L143.23,410.08 L144.35,412.48 L145.47,414.83 L146.59,417.14 L147.70,419.39 L148.82,421.58 L149.94,423.72 L151.06,425.81 L152.18,427.84 L153.29,429.82 L154.41,431.74 L155.53,433.61 L156.65,435.42 L157.77,437.18 L158.88,438.88 L160.00,440.53 L161.12,442.12 L162.24,443.67 L163.36,445.16 L164.47,446.60 L165.59,447.99 L166.71,449.34 L167.83,450.63 L168.95,451.88 L170.07,453.09 L171.18,454.24 L172.30,455.36 L173.42,456.44 L174.54,457.47 L175.66,458.46 L176.77,459.42 L177.89,460.34 L179.01,461.22 L180.13,462.06 L181.25,462.88 L182.36,463.66 L183.48,464.41 L184.60,465.13 L185.72,465.82 L186.84,466.48 L187.95,467.11 L189.07,467.72 L190.19,468.30 L191.31,468.86 L192.43,469.39 L193.55,469.90 L194.66,470.39 L195.78,470.86 L196.90,471.31 L198.02,471.74 L199.14,472.15 L200.25,472.54 L201.37,472.92 L202.49,473.28 L203.61,473.62 L204.73,473.95 L205.84,474.27 L206.96,474.57 L208.08,474.85 L209.20,475.13 L210.32,475.39 L211.43,475.64 L212.55,475.88 L213.67,476.11 L214.79,476.33 L215.91,476.54 L217.03,476.74 L218.14,476.94 L219.26,477.12 L220.38,477.29 L221.50,477.46 L222.62,477.62 L223.73,477.77 L224.85,477.92 L225.97,478.06 L227.09,478.19 L228.21,478.32 L229.32,478.44 L230.44,478.56 L231.56,478.67 L232.68,478.77 L233.80,478.87 L234.91,478.97 L236.03,479.06 L237.15,479.15 L238.27,479.23 L239.39,479.31 L240.51,479.39 L241.62,479.46 L242.74,479.53 L243.86,479.60 L244.98,479.66 L246.10,479.72 L247.21,479.78 L248.33,479.84 L249.45,479.89 L250.57,479.94 L251.69,479.99 L252.80,480.03 L253.92,480.08 L255.04,480.12 L256.16,480.16 L257.28,480.20 L258.39,480.23 L259.51,480.27 L260.63,480.30 L261.75,480.33 L262.87,480.36 L263.98,480.39 L265.10,480.42 L266.22,480.45 L267.34,480.47 L268.46,480.50 L269.58,480.52 L270.69,480.54 L271.81,480.56 L272.93,480.58 L274.05,480.60 L275.17,480.62 L276.28,480.64 L277.40,480.65 L278.52,480.67 L279.64,480.68 L280.76,480.70 L281.87,480.71 L282.99,480.72 L284.11,480.74 L285.23,480.75 L286.35,480.76 L287.46,480.77 L288.58,480.78 L289.70,480.79 L290.82,480.80 L291.94,480.81 L293.06,480.82 L294.17,480.83 L295.29,480.84 L296.41,480.84 L297.53,480.85 L298.65,480.86 L299.76,480.86 L300.88,480.87 L302.00,480.88" stroke="#4a90e2"/>
<path d="M49.00,481.00 L49.25,477.31 L49.50,472.70 L49.75,467.66 L50.00,462.33 L50.25,456.79 L50.50,451.11 L50.75,445.30 L51.00,439.43 L51.25,433.51 L51.50,427.57 L51.75,421.65 L52.00,415.76 L52.25,409.93 L52.50,404.18 L52.75,398.53 L53.00,392.99 L53.25,387.59 L53.50,382.33 L53.75,377.23 L54.00,372.30 L54.25,367.54 L54.50,362.96 L54.75,358.57 L55.00,354.36 L55.25,350.35 L55.50,346.53 L55.75,342.90 L56.00,339.46 L56.25,336.20 L56.50,333.12 L56.75,330.22 L57.00,327.49 L57.25,324.92 L57.50,322.51 L57.75,320.26 L58.00,318.14 L58.25,316.17 L58.50,314.33 L58.75,312.61 L59.00,311.01 L59.25,309.52 L59.50,308.13 L59.75,306.84 L60.00,305.65 L60.25,304.53 L60.50,303.50 L60.75,302.55 L61.00,301.66 L61.25,300.84 L61.50,300.08 L61.75,299.37 L62.00,298.72 L62.25,298.11 L62.50,297.55 L62.75,297.03 L63.00,296.55 L63.25,296.10 L63.50,295.68 L63.75,295.30 L64.00,294.94 L64.25,294.61 L64.50,294.30 L64.75,294.02 L65.00,293.75 L65.25,293.50 L65.50,293.27 L65.75,293.05 L66.00,292.85 L66.25,292.67 L66.50,292.49 L66.75,292.33 L67.00,292.17 L67.25,292.03 L67.50,291.89 L67.75,291.77 L68.00,291.65 L68.25,291.54 L68.50,291.43 L68.75,291.34 L69.00,291.24 L69.25,291.16 L69.50,291.07 L69.75,291.00 L70.00,290.93 L70.25,290.86 L70.50,290.79 L70.75,290.73 L71.00,290.68 L71.25,290.62 L71.50,290.57 L71.75,290.53 L72.00,290.48 L72.25,290.44 L72.50,290.41 L72.75,290.37 L73.00,290.34 L73.25,290.31 L73.50,290.28 L73.75,290.26 L74.00,290.24 L74.25,290.22 L74.50,290.20 L74.75,290.18 L75.00,290.17 L75.25,290.16 L75.50,290.15 L75.75,290.15 L76.00,290.14 L76.25,290.14 L76.50,290.14 L76.75,290.15 L77.00,290.15 L77.25,290.16 L77.50,290.17 L77.75,290.18 L78.00,290.20 L78.25,290.21 L78.50,290.23 L78.75,290.26 L79.00,290.28 L79.50,290.33 L80.62,290.49 L81.74,290.70 L82.85,290.95 L83.97,291.26 L85.09,291.62 L86.21,292.03 L87.33,292.51 L88.44,293.04 L89.56,293.63 L90.68,294.28 L91.80,295.00 L92.92,295.79 L94.04,296.64 L95.15,297.56 L96.27,298.56 L97.39,299.62 L98.51,300.76 L99.63,301.97 L100.74,303.25 L101.86,304.61 L102.98,306.05 L104.10,307.57 L105.22,309.16 L106.33,310.82 L107.45,312.57 L108.57,314.39 L109.69,316.28 L110.81,318.25 L111.92,320.29 L113.04,322.40 L114.16,324.58 L115.28,326.83 L116.40,329.14 L117.52,331.51 L118.63,333.95 L119.75,336.44 L120.87,338.98 L121.99,341.57 L123.11,344.21 L124.22,346.89 L125.34,349.60 L126.46,352.35 L127.58,355.13 L128.70,357.94 L129.81,360.76 L130.93,363.60 L132.05,366.45 L133.17,369.31 L134.29,372.17 L135.40,375.03 L136.52,377.88 L137.64,380.72 L138.76,383.55 L139.88,386.35 L140.99,389.14 L142.11,391.89 L143.23,394.62 L144.35,397.31 L145.47,399.97 L146.59,402.59 L147.70,405.16 L148.82,407.70 L149.94,410.18 L151.06,412.62 L152.18,415.00 L153.29,417.34 L154.41,419.62 L155.53,421.85 L156.65,424.02 L157.77,426.14 L158.88,428.20 L160.00,430.20 L161.12,432.15 L162.24,434.04 L163.36,435.88 L164.47,437.66 L165.59,439.38 L166.71,441.05 L167.83,442.66 L168.95,444.22 L170.07,445.73 L171.18,447.18 L172.30,448.58 L173.42,449.94 L174.54,451.24 L175.66,452.50 L176.77,453.71 L177.89,454.87 L179.01,455.99 L180.13,457.07 L181.25,458.10 L182.36,459.10 L183.48,460.05 L184.60,460.97 L185.72,461.85 L186.84,462.69 L187.95,463.50 L189.07,464.28 L190.19,465.02 L191.31,465.73 L192.43,466.42 L193.55,467.07 L194.66,467.70 L195.78,468.29 L196.90,468.87 L198.02,469.42 L199.14,469.94 L200.25,470.44 L201.37,470.92 L202.49,471.38 L203.61,471.82 L204.73,472.24 L205.84,472.64 L206.96,473.02 L208.08,473.39 L209.20,473.74 L210.32,474.07 L211.43,474.39 L212.55,474.70 L213.67,474.99 L214.79,475.26 L215.91,475.53 L217.03,475.78 L218.14,476.02 L219.26,476.25 L220.38,476.47 L221.50,476.68 L222.62,476.88 L223.73,477.08 L224.85,477.26 L225.97,477.43 L227.09,477.60 L228.21,477.76 L229.32,477.91 L230.44,478.05 L231.56,478.19 L232.68,478.32 L233.80,478.44 L234.91,478.56 L236.03,478.68 L237.15,478.79 L238.27,478.89 L239.39,478.99 L240.51,479.08 L241.62,479.17 L242.74,479.26 L243.86,479.34 L244.98,479.42 L246.10,479.49 L247.21,479.56 L248.33,479.63 L249.45,479.69 L250.57,479.75 L251.69,479.81 L252.80,479.87 L253.92,479.92 L255.04,479.97 L256.16,480.02 L257.28,480.07 L258.39,480.11 L259.51,480.15 L260.63,480.19 L261.75,480.23 L262.87,480.27 L263.98,480.30 L265.10,480.33 L266.22,480.36 L267.34,480.39 L268.46,480.42 L269.58,480.45 L270.69,480.48 L271.81,480.50 L272.93,480.52 L274.05,480.55 L275.17,480.57 L276.28,480.59 L277.40,480.61 L278.52,480.63 L279.64,480.64 L280.76,480.66 L281.87,480.68 L282.99,480.69 L284.11,480.71 L285.23,480.72 L286.35,480.73 L287.46,480.74 L288.58,480.76 L289.70,480.77 L290.82,480.78 L291.94,480.79 L293.06,480.80 L294.17,480.81 L295.29,480.82 L296.41,480.83 L297.53,480.83 L298.65,480.84 L299.76,480.85 L300.88,480.86 L302.00,480.86" stroke="#7f7f7f"/>
<path d="M6,481 L49,481" stroke="#7f7f7f"/>
</g>
<line x1="47" y1="444" x2="47" y2="466" stroke="#000" stroke-width="1.4"/>
<polygon points="44.9,465 49.1,465 47,472.6" fill="#000"/>
<rect x="207.6" y="287.9" width="101.9" height="113.2" rx="2" ry="2" fill="#fff" fill-opacity="0.8" stroke="#d6d6d6" stroke-width="1"/>
<line x1="211.6" y1="297.10" x2="238.2" y2="297.10" stroke="#f27fc4" stroke-width="1.5"/>
<text transform="translate(247.86,301.85) scale(0.9182,1)" font-family="Liberation Sans, sans-serif" font-size="12.60" fill="#1a1a1a"><tspan>Δ</tspan><tspan font-style="italic">C</tspan></text>
<text transform="translate(265.05,301.85) scale(1.3722,1)" font-family="Liberation Sans, sans-serif" font-size="12.60" fill="#1a1a1a"><tspan>≥</tspan></text>
<text transform="translate(275.23,301.85) scale(1.1493,1)" font-family="Liberation Sans, sans-serif" font-size="12.60" fill="#1a1a1a"><tspan>0.0</tspan></text>
<line x1="211.6" y1="315.68" x2="238.2" y2="315.68" stroke="#9b3fa6" stroke-width="1.5"/>
<text transform="translate(247.86,320.43) scale(0.9182,1)" font-family="Liberation Sans, sans-serif" font-size="12.60" fill="#1a1a1a"><tspan>Δ</tspan><tspan font-style="italic">C</tspan></text>
<text transform="translate(267.86,320.43) scale(1.3722,1)" font-family="Liberation Sans, sans-serif" font-size="12.60" fill="#1a1a1a"><tspan>=</tspan></text>
<text transform="translate(280.61,320.43) scale(1.0576,1)" font-family="Liberation Sans, sans-serif" font-size="12.60" fill="#1a1a1a"><tspan>-0.2</tspan></text>
<line x1="211.6" y1="334.26" x2="238.2" y2="334.26" stroke="#f15a22" stroke-width="1.5"/>
<text transform="translate(247.86,339.01) scale(0.9182,1)" font-family="Liberation Sans, sans-serif" font-size="12.60" fill="#1a1a1a"><tspan>Δ</tspan><tspan font-style="italic">C</tspan></text>
<text transform="translate(267.86,339.01) scale(1.3722,1)" font-family="Liberation Sans, sans-serif" font-size="12.60" fill="#1a1a1a"><tspan>=</tspan></text>
<text transform="translate(280.62,339.01) scale(1.0441,1)" font-family="Liberation Sans, sans-serif" font-size="12.60" fill="#1a1a1a"><tspan>-0.4</tspan></text>
<line x1="211.6" y1="352.84" x2="238.2" y2="352.84" stroke="#5a8a3a" stroke-width="1.5"/>
<text transform="translate(247.86,357.59) scale(0.9182,1)" font-family="Liberation Sans, sans-serif" font-size="12.60" fill="#1a1a1a"><tspan>Δ</tspan><tspan font-style="italic">C</tspan></text>
<text transform="translate(267.86,357.59) scale(1.3722,1)" font-family="Liberation Sans, sans-serif" font-size="12.60" fill="#1a1a1a"><tspan>=</tspan></text>
<text transform="translate(280.61,357.59) scale(1.0535,1)" font-family="Liberation Sans, sans-serif" font-size="12.60" fill="#1a1a1a"><tspan>-0.6</tspan></text>
<line x1="211.6" y1="371.42" x2="238.2" y2="371.42" stroke="#4a90e2" stroke-width="1.5"/>
<text transform="translate(247.86,376.17) scale(0.9182,1)" font-family="Liberation Sans, sans-serif" font-size="12.60" fill="#1a1a1a"><tspan>Δ</tspan><tspan font-style="italic">C</tspan></text>
<text transform="translate(267.86,376.17) scale(1.3722,1)" font-family="Liberation Sans, sans-serif" font-size="12.60" fill="#1a1a1a"><tspan>=</tspan></text>
<text transform="translate(280.61,376.17) scale(1.0532,1)" font-family="Liberation Sans, sans-serif" font-size="12.60" fill="#1a1a1a"><tspan>-0.8</tspan></text>
<line x1="211.6" y1="390.00" x2="238.2" y2="390.00" stroke="#7f7f7f" stroke-width="1.5"/>
<text transform="translate(247.86,394.75) scale(0.9182,1)" font-family="Liberation Sans, sans-serif" font-size="12.60" fill="#1a1a1a"><tspan>Δ</tspan><tspan font-style="italic">C</tspan></text>
<text transform="translate(267.86,394.75) scale(1.3722,1)" font-family="Liberation Sans, sans-serif" font-size="12.60" fill="#1a1a1a"><tspan>=</tspan></text>
<text transform="translate(280.61,394.75) scale(1.0504,1)" font-family="Liberation Sans, sans-serif" font-size="12.60" fill="#1a1a1a"><tspan>-1.0</tspan></text>
<text transform="translate(135.07,274.90) scale(0.9323,1)" font-family="Liberation Sans, sans-serif" font-size="15.04" fill="#1a1a1a"><tspan>ASER</tspan></text>
</svg>
</body></html>
